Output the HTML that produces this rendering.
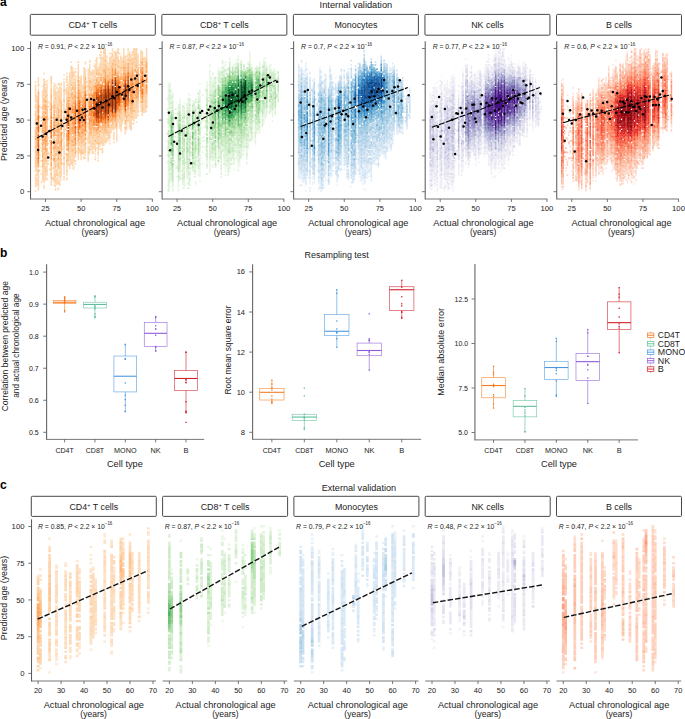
<!DOCTYPE html>
<html><head><meta charset="utf-8"><style>
html,body{margin:0;padding:0;background:#fff;width:685px;height:719px;overflow:hidden}
svg{display:block;font-family:"Liberation Sans", sans-serif}
</style></head><body>
<svg width="685" height="719" viewBox="0 0 685 719" fill="#222222">
<text x="0.00" y="6.10" font-size="12" font-weight="bold" fill="#000" >a</text>
<text x="355.90" y="8.20" font-size="9.0" text-anchor="middle" textLength="72.6" lengthAdjust="spacingAndGlyphs" >Internal validation</text>
<g transform="translate(34.86 48.50) scale(1.424 1.432)" fill="none" stroke-width="1.08">
<path stroke="#fdd9b4" d="M0.5 22.9v1.2m0 0.8v8.2m0 0.8v4.2m0 0.8v2.2m0 1.8v2.2m0 1.8v2.2m0 0.8v1.2m0 0.8v2.2m0 1.8v1.2m0 2.8v1.2m0 2.8v1.2m0 1.8v1.2m0 1.8v1.2m0 2.8v1.2m0 1.8v1.2m0 0.8v1.2m0 0.8v1.2m0 0.8v3.2m0 1.8v9.2m0 1.8v1.2M1.5 32.9v3.2m0 0.8v1.2m0 0.8v4.2m0 0.8v4.2m0 26.8v1.2m0 6.8v6.2m0 0.8v6.2M2.5 19.9v5.2m0 0.8v1.2m0 0.8v2.2m0 55.8v3.2m0 0.8v2.2m0 0.8v1.2m0 0.8v4.2M3.5 39.9v1.2m0 5.8v1.2m0 6.8v1.2m0 6.8v1.2m0 3.8v1.2m0 4.8v1.2m0 9.8v1.2M4.5 40.9v1.2m0 5.8v1.2m0 0.8v1.2m0 4.8v1.2m0 0.8v1.2m0 1.8v1.2m0 0.8v1.2m0 1.8v1.2m0 1.8v1.2m0 0.8v1.2m0 5.8v1.2m0 2.8v1.2m0 3.8v1.2m0 4.8v1.2M5.5 25.9v1.2m0 1.8v4.2m0 0.8v5.2m0 36.8v1.2m0 5.8v6.2m0 0.8v3.2M6.5 16.9v1.2m0 3.8v2.2m0 1.8v1.2m0 1.8v2.2m0 0.8v1.2m0 0.8v1.2m0 2.8v1.2m0 10.8v1.2m0 27.8v1.2m0 2.8v11.2m0 0.8v3.2M7.5 22.9v1.2m0 0.8v1.2m0 0.8v2.2m0 1.8v2.2m0 1.8v1.2m0 1.8v1.2m0 35.8v1.2m0 3.8v1.2m0 0.8v1.2m0 1.8v1.2m0 0.8v5.2M8.5 21.9v1.2m0 0.8v8.2m0 0.8v3.2m0 0.8v1.2m0 0.8v1.2m0 28.8v1.2m0 6.8v1.2m0 0.8v6.2m0 0.8v3.2m0 0.8v2.2M9.5 36.9v1.2m0 10.8v1.2m0 11.8v1.2m0 2.8v1.2m0 4.8v1.2m0 4.8v1.2m0 0.8v1.2M10.5 37.9v1.2m0 2.8v1.2m0 10.8v1.2m0 13.8v1.2m0 3.8v1.2M11.5 18.9v1.2m0 0.8v1.2m0 1.8v4.2m0 57.8v1.2m0 3.8v5.2M12.5 39.9v2.2m0 5.8v1.2m0 7.8v1.2m0 1.8v1.2m0 0.8v1.2m0 1.8v1.2m0 7.8v1.2m0 1.8v1.2m0 4.8v1.2m0 6.8v1.2M13.5 23.9v1.2m0 0.8v6.2m0 0.8v4.2m0 41.8v12.2m0 0.8v2.2m0 0.8v1.2M14.5 24.9v2.2m0 0.8v3.2m0 0.8v2.2m0 1.8v3.2m0 1.8v4.2m0 0.8v2.2m0 0.8v1.2m0 4.8v2.2m0 1.8v1.2m0 3.8v1.2m0 4.8v3.2m0 1.8v1.2m0 0.8v1.2m0 2.8v1.2m0 0.8v5.2m0 1.8v7.2M15.5 29.9v11.2m0 7.8v2.2m0 3.8v1.2m0 4.8v2.2m0 3.8v1.2m0 3.8v1.2m0 0.8v2.2m0 2.8v4.2m0 0.8v1.2m0 0.8v1.2m0 2.8v5.2M16.5 23.9v2.2m0 1.8v11.2m0 32.8v1.2m0 4.8v2.2m0 3.8v1.2m0 0.8v4.2m0 0.8v1.2m0 1.8v1.2m0 1.8v2.2M17.5 23.9v1.2m0 0.8v8.2m0 3.8v3.2m0 1.8v2.2m0 0.8v5.2m0 2.8v2.2m0 2.8v1.2m0 2.8v2.2m0 5.8v6.2m0 0.8v13.2m0 0.8v4.2M18.5 23.9v2.2m0 0.8v9.2m0 39.8v1.2m0 3.8v9.2m0 0.8v1.2M19.5 38.9v1.2m0 3.8v1.2m0 6.8v2.2m0 3.8v1.2m0 3.8v2.2m0 3.8v2.2m0 8.8v1.2M20.5 17.9v1.2m0 1.8v1.2m0 0.8v6.2m0 0.8v5.2m0 1.8v4.2m0 0.8v1.2m0 1.8v2.2m0 3.8v1.2m0 2.8v1.2m0 1.8v1.2m0 2.8v2.2m0 0.8v3.2m0 0.8v7.2m0 0.8v3.2m0 0.8v7.2m0 0.8v3.2M21.5 27.9v2.2m0 0.8v1.2m0 9.8v1.2m0 5.8v1.2m0 2.8v1.2m0 18.8v1.2M22.5 16.9v1.2m0 0.8v2.2m0 0.8v1.2m0 1.8v1.2m0 0.8v3.2m0 0.8v3.2m0 41.8v1.2m0 1.8v1.2m0 0.8v4.2m0 0.8v3.2m0 0.8v2.2M23.5 23.9v5.2m0 0.8v1.2m0 40.8v1.2m0 5.8v3.2M24.5 16.9v2.2m0 0.8v3.2m0 0.8v1.2m0 1.8v7.2m0 0.8v1.2m0 8.8v1.2m0 18.8v1.2m0 0.8v12.2m0 1.8v3.2M25.5 8.9v1.2m0 1.8v1.2m0 0.8v2.2m0 0.8v8.2m0 1.8v1.2m0 1.8v1.2m0 2.8v1.2m0 22.8v1.2m0 1.8v1.2m0 7.8v1.2m0 0.8v7.2m0 0.8v1.2M26.5 12.9v4.2m0 0.8v1.2m0 0.8v6.2m0 3.8v1.2m0 4.8v1.2m0 24.8v1.2m0 2.8v1.2m0 0.8v2.2m0 1.8v1.2m0 0.8v7.2m0 1.8v1.2M27.5 15.9v2.2m0 0.8v1.2m0 0.8v1.2m0 2.8v1.2m0 39.8v1.2m0 0.8v2.2m0 0.8v9.2m0 1.8v1.2m0 0.8v1.2M28.5 13.9v1.2m0 3.8v3.2m0 0.8v1.2m0 49.8v1.2m0 4.8v1.2M29.5 33.9v1.2m0 3.8v1.2m0 0.8v1.2m0 1.8v1.2m0 3.8v1.2m0 4.8v1.2m0 9.8v1.2m0 3.8v1.2M30.5 10.9v5.2m0 1.8v1.2m0 46.8v2.2m0 0.8v1.2m0 0.8v1.2m0 1.8v4.2M31.5 19.9v1.2m0 0.8v3.2m0 0.8v3.2m0 40.8v1.2m0 0.8v1.2M32.5 18.9v2.2m0 0.8v1.2m0 0.8v6.2m0 4.8v1.2m0 1.8v1.2m0 26.8v2.2m0 0.8v2.2m0 2.8v4.2M33.5 24.9v5.2m0 0.8v3.2m0 32.8v2.2M34.5 12.9v6.2m0 1.8v2.2m0 0.8v2.2m0 34.8v1.2m0 2.8v2.2m0 0.8v5.2m0 1.8v1.2M35.5 8.9v2.2m0 2.8v4.2m0 0.8v1.2m0 49.8v1.2m0 2.8v1.2m0 0.8v1.2M36.5 22.9v1.2m0 1.8v1.2m0 1.8v1.2m0 1.8v1.2m0 8.8v2.2m0 1.8v1.2m0 1.8v1.2m0 1.8v1.2m0 0.8v1.2m0 1.8v2.2m0 3.8v1.2M37.5 13.9v11.2m0 0.8v1.2m0 0.8v3.2m0 1.8v1.2m0 9.8v1.2m0 2.8v1.2m0 1.8v1.2m0 0.8v4.2m0 0.8v4.2m0 0.8v4.2m0 0.8v4.2m0 0.8v6.2M38.5 7.9v2.2m0 0.8v11.2m0 2.8v1.2m0 36.8v2.2m0 0.8v1.2m0 0.8v2.2m0 0.8v3.2M39.5 15.9v1.2m0 0.8v1.2m0 2.8v1.2m0 1.8v2.2m0 33.8v8.2M40.5 14.9v3.2m0 0.8v1.2m0 1.8v4.2m0 2.8v1.2m0 27.8v1.2m0 0.8v1.2m0 0.8v4.2m0 0.8v7.2M41.5 11.9v1.2m0 1.8v2.2m0 1.8v3.2m0 0.8v2.2m0 35.8v1.2m0 0.8v7.2m0 1.8v1.2M42.5 7.9v1.2m0 0.8v9.2m0 0.8v1.2m0 0.8v2.2m0 34.8v1.2m0 0.8v3.2m0 0.8v5.2m0 0.8v1.2m0 0.8v1.2m0 0.8v1.2M43.5 5.9v9.2m0 44.8v2.2m0 0.8v2.2m0 0.8v1.2m0 1.8v1.2M44.5 12.9v2.2m0 0.8v1.2m0 1.8v1.2m0 0.8v2.2m0 36.8v1.2m0 0.8v1.2m0 0.8v1.2m0 1.8v5.2m0 0.8v2.2m0 0.8v1.2m0 0.8v1.2M45.5 3.9v1.2m0 0.8v1.2m0 2.8v7.2m0 0.8v2.2m0 41.8v3.2m0 0.8v3.2m0 0.8v1.2M46.5 -0.1v1.2m0 2.8v9.2m0 0.8v1.2m0 3.8v1.2m0 39.8v2.2m0 0.8v2.2m0 0.8v1.2m0 2.8v1.2M47.5 5.9v10.2m0 0.8v3.2m0 1.8v1.2m0 35.8v5.2m0 0.8v3.2m0 0.8v3.2M48.5 -0.1v2.2m0 0.8v4.2m0 0.8v3.2m0 0.8v1.2m0 46.8v8.2M49.5 0.9v2.2m0 0.8v4.2m0 0.8v2.2m0 47.8v5.2m0 0.8v1.2M50.5 4.9v2.2m0 0.8v4.2m0 2.8v2.2m0 1.8v1.2m0 35.8v1.2m0 1.8v2.2m0 1.8v3.2M51.5 9.9v1.2m0 0.8v2.2m0 1.8v2.2m0 37.8v1.2m0 1.8v1.2m0 0.8v3.2M52.5 2.9v1.2m0 1.8v3.2m0 0.8v4.2m0 0.8v1.2m0 35.8v2.2m0 0.8v4.2m0 0.8v1.2m0 2.8v1.2m0 0.8v1.2M53.5 2.9v1.2m0 0.8v7.2m0 2.8v1.2m0 31.8v1.2m0 1.8v1.2m0 1.8v1.2m0 0.8v3.2M54.5 -0.1v2.2m0 0.8v1.2m0 0.8v5.2m0 44.8v2.2M55.5 1.9v1.2m0 1.8v1.2m0 0.8v1.2m0 0.8v1.2m0 1.8v5.2m0 1.8v1.2m0 0.8v1.2m0 29.8v5.2m0 0.8v6.2m0 0.8v1.2M56.5 1.9v1.2m0 1.8v1.2m0 45.8v1.2m0 1.8v1.2M57.5 1.9v4.2m0 0.8v4.2m0 0.8v1.2m0 1.8v1.2m0 39.8v9.2M58.5 0.9v3.2m0 0.8v3.2m0 1.8v2.2m0 37.8v2.2M59.5 7.9v5.2m0 0.8v2.2m0 0.8v1.2m0 30.8v7.2M60.5 4.9v1.2m0 0.8v6.2m0 0.8v1.2m0 0.8v1.2m0 29.8v1.2m0 1.8v3.2m0 0.8v4.2M61.5 6.9v6.2m0 0.8v2.2m0 1.8v1.2m0 2.8v1.2m0 14.8v1.2m0 3.8v7.2m0 0.8v2.2M62.5 -0.1v6.2m0 0.8v2.2m0 0.8v1.2m0 34.8v4.2M63.5 4.9v5.2m0 38.8v1.2m0 3.8v1.2m0 0.8v4.2M64.5 4.9v1.2m0 0.8v6.2m0 0.8v3.2m0 25.8v1.2m0 0.8v2.2m0 1.8v1.2m0 0.8v6.2M65.5 -0.1v2.2m0 1.8v4.2m0 34.8v1.2m0 2.8v3.2M66.5 1.9v6.2m0 0.8v1.2m0 0.8v1.2m0 0.8v3.2m0 3.8v4.2m0 1.8v1.2m0 0.8v1.2m0 2.8v1.2m0 0.8v1.2m0 3.8v7.2m0 0.8v9.2M67.5 3.9v3.2m0 0.8v1.2m0 0.8v3.2m0 32.8v1.2m0 0.8v2.2m0 0.8v1.2m0 0.8v1.2M68.5 1.9v3.2m0 0.8v1.2m0 1.8v1.2m0 35.8v1.2m0 0.8v2.2m0 1.8v1.2M69.5 0.9v1.2m0 0.8v4.2m0 0.8v1.2m0 0.8v5.2m0 4.8v1.2m0 18.8v1.2m0 0.8v1.2m0 0.8v7.2m0 0.8v1.2M70.5 -0.1v4.2m0 0.8v1.2m0 1.8v1.2m0 0.8v1.2m0 1.8v1.2m0 1.8v1.2m0 18.8v4.2m0 0.8v2.2m0 0.8v5.2M71.5 0.9v2.2m0 0.8v1.2m0 0.8v1.2m0 5.8v2.2m0 24.8v1.2m0 0.8v7.2m0 1.8v1.2M72.5 3.9v9.2m0 24.8v2.2m0 0.8v2.2m0 2.8v1.2M73.5 10.9v1.2m0 0.8v1.2m0 14.8v1.2M74.5 0.9v7.2m0 26.8v2.2m0 0.8v4.2m0 0.8v1.2M75.5 1.9v1.2m0 0.8v3.2m0 0.8v1.2m0 28.8v1.2m0 4.8v3.2M76.5 5.9v4.2m0 0.8v3.2m0 0.8v1.2m0 0.8v1.2m0 14.8v12.2M77.5 5.9v5.2m0 1.8v5.2m0 2.8v2.2m0 0.8v2.2m0 3.8v1.2m0 0.8v1.2m0 0.8v2.2m0 0.8v1.2m0 0.8v6.2M78.5 -0.1v7.2m0 25.8v1.2m0 0.8v1.2m0 1.8v2.2m0 0.8v1.2m0 0.8v1.2"/>
<path stroke="#fdca98" d="M0.5 32.9v1.2m0 6.8v1.2m0 2.8v2.2m0 1.8v1.2m0 4.8v1.2m0 1.8v1.2m0 2.8v1.2m0 1.8v2.2m0 1.8v1.2m0 0.8v3.2m0 0.8v2.2m0 0.8v1.2m0 0.8v1.2m0 0.8v1.2M1.5 35.9v1.2m0 0.8v1.2m0 3.8v1.2m0 3.8v1.2m0 2.8v3.2m0 1.8v2.2m0 5.8v1.2m0 1.8v2.2m0 0.8v1.2m0 3.8v1.2m0 0.8v1.2m0 0.8v3.2M2.5 24.9v1.2m0 5.8v1.2m0 50.8v1.2m0 3.8v1.2m0 1.8v1.2m0 0.8v1.2M5.5 32.9v1.2m0 4.8v4.2m0 0.8v3.2m0 0.8v3.2m0 16.8v1.2m0 1.8v2.2m0 3.8v1.2m0 0.8v4.2m0 5.8v1.2M6.5 20.9v1.2m0 1.8v2.2m0 0.8v2.2m0 1.8v1.2m0 4.8v1.2m0 2.8v3.2m0 0.8v2.2m0 6.8v1.2m0 0.8v1.2m0 4.8v1.2m0 4.8v2.2m0 2.8v6.2m0 0.8v3.2M7.5 28.9v2.2m0 2.8v1.2m0 36.8v3.2m0 1.8v3.2m0 2.8v2.2m0 0.8v1.2M8.5 31.9v1.2m0 2.8v1.2m0 0.8v1.2m0 1.8v1.2m0 1.8v1.2m0 0.8v1.2m0 4.8v2.2m0 3.8v1.2m0 5.8v1.2m0 5.8v1.2m0 0.8v3.2m0 0.8v1.2m0 5.8v1.2M9.5 39.9v1.2m0 31.8v1.2M10.5 63.9v1.2m0 18.8v1.2M11.5 19.9v1.2m0 0.8v2.2m0 3.8v4.2m0 2.8v1.2m0 0.8v1.2m0 39.8v1.2m0 2.8v4.2m0 1.8v3.2M12.5 68.9v1.2m0 19.8v1.2M13.5 31.9v1.2m0 3.8v2.2m0 2.8v1.2m0 3.8v1.2m0 18.8v1.2m0 3.8v4.2m0 14.8v1.2M14.5 30.9v1.2m0 1.8v2.2m0 2.8v2.2m0 6.8v1.2m0 1.8v2.2m0 0.8v1.2m0 2.8v1.2m0 2.8v1.2m0 2.8v2.2m0 4.8v1.2m0 1.8v1.2m0 0.8v3.2m0 6.8v2.2m0 7.8v1.2M15.5 26.9v1.2m0 12.8v7.2m0 2.8v2.2m0 10.8v1.2m0 3.8v2.2m0 5.8v2.2m0 5.8v1.2m0 0.8v2.2M16.5 38.9v3.2m0 2.8v1.2m0 4.8v1.2m0 10.8v1.2m0 0.8v1.2m0 1.8v1.2m0 0.8v1.2m0 3.8v1.2m0 4.8v1.2m0 0.8v1.2m0 8.8v1.2M17.5 33.9v4.2m0 3.8v1.2m0 1.8v1.2m0 6.8v1.2m0 1.8v3.2m0 0.8v3.2m0 2.8v1.2m0 0.8v3.2m0 5.8v1.2M18.5 35.9v2.2m0 0.8v1.2m0 1.8v1.2m0 25.8v1.2m0 4.8v1.2m0 0.8v2.2m0 0.8v1.2M19.5 50.9v1.2M20.5 34.9v1.2m0 4.8v1.2m0 0.8v2.2m0 1.8v2.2m0 2.8v1.2m0 2.8v2.2m0 1.8v2.2m0 5.8v1.2m0 10.8v1.2M21.5 47.9v1.2m0 6.8v1.2M22.5 20.9v1.2m0 0.8v1.2m0 5.8v1.2m0 2.8v4.2m0 2.8v2.2m0 21.8v1.2m0 1.8v1.2m0 3.8v1.2m0 0.8v1.2m0 0.8v1.2m0 1.8v1.2m0 3.8v1.2M23.5 28.9v1.2m0 1.8v2.2m0 0.8v1.2m0 36.8v6.2M24.5 18.9v1.2m0 2.8v1.2m0 1.8v1.2m0 11.8v1.2m0 3.8v1.2m0 1.8v3.2m0 0.8v1.2m0 7.8v1.2m0 2.8v1.2m0 0.8v1.2m0 12.8v1.2M25.5 12.9v1.2m0 1.8v1.2m0 10.8v2.2m0 4.8v6.2m0 4.8v4.2m0 2.8v2.2m0 4.8v1.2m0 0.8v2.2m0 0.8v5.2m0 0.8v1.2m0 6.8v1.2M26.5 16.9v1.2m0 0.8v1.2m0 5.8v1.2m0 4.8v2.2m0 2.8v1.2m0 14.8v1.2m0 8.8v1.2m0 5.8v1.2m0 1.8v1.2m0 6.8v1.2M27.5 17.9v1.2m0 3.8v2.2m0 0.8v5.2m0 0.8v1.2m0 1.8v1.2m0 23.8v2.2m0 1.8v1.2m0 4.8v1.2M28.5 15.9v1.2m0 4.8v1.2m0 0.8v3.2m0 1.8v1.2m0 37.8v1.2m0 0.8v2.2m0 0.8v1.2m0 0.8v1.2m0 1.8v1.2M29.5 42.9v1.2M30.5 8.9v1.2m0 5.8v2.2m0 1.8v2.2m0 1.8v1.2m0 0.8v1.2m0 37.8v1.2m0 1.8v1.2m0 2.8v2.2M31.5 24.9v1.2m0 3.8v1.2m0 30.8v1.2m0 1.8v3.2m0 0.8v1.2m0 0.8v1.2M32.5 20.9v1.2m0 0.8v1.2m0 5.8v3.2m0 0.8v1.2m0 3.8v1.2m0 9.8v1.2m0 0.8v2.2m0 5.8v1.2m0 1.8v2.2m0 2.8v1.2m0 1.8v1.2m0 0.8v1.2M33.5 29.9v1.2m0 28.8v1.2m0 0.8v1.2m0 0.8v3.2m0 2.8v4.2M34.5 18.9v2.2m0 1.8v1.2m0 1.8v1.2m0 0.8v2.2m0 0.8v2.2m0 0.8v1.2m0 24.8v1.2m0 0.8v2.2m0 2.8v1.2m0 4.8v1.2m0 1.8v1.2M35.5 17.9v1.2m0 3.8v1.2m0 0.8v1.2m0 34.8v1.2m0 2.8v1.2m0 0.8v3.2m0 0.8v2.2M36.5 43.9v1.2M37.5 24.9v1.2m0 0.8v1.2m0 2.8v2.2m0 0.8v4.2m0 0.8v1.2m0 0.8v2.2m0 1.8v1.2m0 2.8v1.2m0 1.8v1.2m0 8.8v1.2m0 8.8v1.2M38.5 22.9v2.2m0 1.8v3.2m0 26.8v1.2m0 0.8v4.2m0 1.8v1.2m0 3.8v1.2M39.5 16.9v1.2m0 1.8v1.2m0 2.8v1.2m0 5.8v1.2m0 0.8v1.2m0 24.8v2.2m0 8.8v1.2M40.5 17.9v1.2m0 1.8v1.2m0 3.8v3.2m0 5.8v1.2m0 17.8v1.2m0 0.8v2.2m0 0.8v1.2m0 0.8v1.2m0 3.8v1.2M41.5 16.9v1.2m0 3.8v1.2m0 1.8v1.2m0 27.8v1.2m0 2.8v3.2m0 0.8v1.2M42.5 18.9v1.2m0 0.8v1.2m0 2.8v1.2m0 30.8v2.2m0 0.8v1.2m0 8.8v1.2m0 5.8v1.2M43.5 14.9v2.2m0 0.8v1.2m0 0.8v1.2m0 2.8v1.2m0 32.8v1.2m0 2.8v1.2m0 1.8v1.2M44.5 14.9v1.2m0 0.8v2.2m0 0.8v1.2m0 35.8v3.2m0 2.8v1.2m0 0.8v1.2m0 5.8v1.2M45.5 19.9v4.2m0 33.8v4.2m0 2.8v1.2M46.5 1.9v1.2m0 9.8v1.2m0 0.8v1.2m0 0.8v1.2m0 36.8v2.2m0 0.8v1.2m0 2.8v1.2m0 1.8v1.2M47.5 15.9v1.2m0 2.8v2.2m0 31.8v1.2m0 2.8v1.2m0 4.8v1.2m0 6.8v1.2M48.5 1.9v1.2m0 3.8v1.2m0 2.8v1.2m0 0.8v2.2m0 0.8v4.2m0 34.8v2.2m0 0.8v2.2M49.5 -0.1v1.2m0 1.8v1.2m0 6.8v4.2m0 41.8v2.2m0 4.8v1.2M50.5 11.9v3.2m0 1.8v1.2m0 2.8v2.2m0 28.8v1.2m0 0.8v2.2m0 0.8v1.2m0 3.8v1.2M51.5 14.9v1.2m0 1.8v1.2m0 0.8v1.2m0 33.8v1.2m0 0.8v2.2m0 0.8v1.2M52.5 8.9v1.2m0 3.8v1.2m0 0.8v1.2m0 0.8v3.2m0 29.8v1.2m0 1.8v1.2m0 3.8v1.2m0 0.8v2.2M53.5 11.9v3.2m0 0.8v5.2m0 31.8v1.2m0 0.8v1.2M54.5 3.9v1.2m0 6.8v1.2m0 37.8v1.2m0 0.8v2.2M55.5 9.9v2.2m0 7.8v1.2m0 26.8v1.2m0 0.8v2.2M56.5 2.9v2.2m0 0.8v5.2m0 0.8v1.2m0 37.8v1.2m0 0.8v2.2M57.5 5.9v1.2m0 3.8v1.2m0 1.8v1.2m0 0.8v1.2m0 0.8v1.2m0 29.8v3.2m0 1.8v2.2M58.5 -0.1v1.2m0 6.8v2.2m0 2.8v1.2m0 0.8v2.2m0 27.8v3.2m0 0.8v1.2M59.5 2.9v1.2m0 8.8v1.2m0 1.8v1.2m0 1.8v1.2m0 24.8v1.2M60.5 5.9v1.2m0 7.8v1.2m0 0.8v1.2m0 24.8v1.2m0 0.8v2.2m0 0.8v2.2m0 2.8v1.2M61.5 12.9v1.2m0 2.8v1.2m0 0.8v1.2m0 5.8v1.2m0 8.8v1.2m0 1.8v1.2m0 0.8v2.2m0 6.8v1.2M62.5 5.9v1.2m0 3.8v1.2m0 1.8v1.2m0 26.8v4.2M63.5 9.9v3.2m0 2.8v1.2m0 33.8v1.2M64.5 12.9v1.2m0 2.8v1.2m0 2.8v1.2m0 21.8v1.2m0 4.8v1.2M65.5 2.9v1.2m0 3.8v1.2m0 34.8v2.2m0 3.8v1.2M66.5 9.9v1.2m0 0.8v1.2m0 2.8v1.2m0 0.8v1.2m0 4.8v1.2m0 4.8v2.2m0 2.8v1.2m0 0.8v2.2m0 6.8v1.2M67.5 6.9v1.2m0 0.8v1.2m0 2.8v4.2m0 25.8v1.2m0 0.8v1.2m0 3.8v1.2m0 0.8v1.2m0 0.8v3.2M68.5 6.9v2.2m0 1.8v3.2m0 25.8v1.2m0 0.8v1.2m0 0.8v2.2m0 0.8v1.2M69.5 -0.1v1.2m0 0.8v1.2m0 3.8v1.2m0 0.8v1.2m0 4.8v3.2m0 3.8v2.2m0 1.8v1.2m0 1.8v1.2m0 1.8v2.2m0 0.8v1.2m0 0.8v3.2m0 0.8v1.2M70.5 3.9v1.2m0 0.8v2.2m0 0.8v1.2m0 0.8v2.2m0 5.8v1.2m0 12.8v1.2m0 0.8v1.2m0 3.8v1.2m0 1.8v1.2M71.5 -0.1v1.2m0 1.8v1.2m0 0.8v1.2m0 0.8v5.2m0 2.8v1.2m0 0.8v1.2m0 16.8v5.2m0 0.8v1.2M72.5 12.9v1.2m0 4.8v1.2m0 15.8v2.2m0 1.8v1.2m0 1.8v2.2M73.5 17.9v1.2M74.5 7.9v1.2m0 0.8v3.2m0 20.8v1.2M75.5 2.9v1.2m0 34.8v3.2m0 0.8v1.2M76.5 13.9v1.2m0 0.8v1.2m0 0.8v4.2m0 4.8v3.2m0 0.8v2.2M77.5 10.9v2.2m0 9.8v1.2m0 1.8v4.2m0 0.8v1.2m0 0.8v1.2m0 1.8v1.2m0 0.8v1.2M78.5 6.9v2.2m0 4.8v1.2m0 16.8v1.2m0 0.8v1.2m0 0.8v2.2"/>
<path stroke="#fdb678" d="M0.5 50.9v1.2m0 4.8v1.2m0 0.8v1.2m0 0.8v1.2m0 5.8v1.2M1.5 48.9v1.2m0 0.8v1.2m0 6.8v3.2m0 0.8v2.2m0 0.8v2.2m0 1.8v1.2m0 0.8v3.2m0 1.8v1.2m0 0.8v1.2M2.5 29.9v1.2m0 1.8v6.2m0 5.8v1.2m0 33.8v1.2m0 0.8v1.2m0 1.8v1.2M5.5 46.9v1.2m0 2.8v2.2m0 0.8v3.2m0 0.8v1.2m0 0.8v2.2m0 0.8v4.2m0 1.8v2.2m0 1.8v2.2m0 2.8v1.2M6.5 34.9v2.2m0 1.8v2.2m0 2.8v1.2m0 1.8v3.2m0 0.8v3.2m0 3.8v4.2m0 1.8v3.2m0 2.8v1.2m0 0.8v1.2M7.5 32.9v1.2m0 1.8v2.2m0 0.8v3.2m0 1.8v1.2m0 20.8v1.2m0 1.8v1.2m0 0.8v1.2m0 3.8v1.2M8.5 39.9v1.2m0 0.8v2.2m0 0.8v1.2m0 1.8v1.2m0 0.8v2.2m0 1.8v4.2m0 1.8v1.2m0 0.8v2.2m0 1.8v2.2m0 1.8v2.2m0 0.8v1.2M11.5 31.9v3.2m0 0.8v1.2m0 0.8v1.2m0 1.8v1.2m0 0.8v1.2m0 4.8v1.2m0 18.8v1.2m0 3.8v1.2m0 1.8v1.2m0 0.8v2.2m0 5.8v1.2M13.5 38.9v3.2m0 0.8v3.2m0 2.8v2.2m0 9.8v1.2m0 0.8v1.2m0 1.8v1.2m0 0.8v1.2m0 0.8v2.2m0 3.8v1.2m0 0.8v1.2M14.5 49.9v1.2m0 1.8v1.2m0 2.8v1.2m0 1.8v1.2m0 3.8v1.2m0 1.8v2.2m0 3.8v1.2m0 6.8v1.2M15.5 47.9v1.2m0 3.8v2.2m0 0.8v1.2m0 0.8v1.2m0 0.8v1.2m0 1.8v1.2m0 0.8v2.2m0 0.8v1.2m0 1.8v1.2m0 0.8v1.2M16.5 41.9v3.2m0 0.8v2.2m0 0.8v1.2m0 3.8v2.2m0 0.8v3.2m0 0.8v2.2m0 2.8v1.2m0 3.8v1.2m0 0.8v2.2m0 1.8v1.2m0 1.8v1.2m0 0.8v1.2M17.5 51.9v1.2m0 11.8v1.2m0 0.8v1.2M18.5 37.9v1.2m0 0.8v2.2m0 1.8v2.2m0 0.8v1.2m0 9.8v1.2m0 1.8v1.2m0 0.8v1.2m0 5.8v5.2m0 3.8v1.2M20.5 28.9v1.2m0 5.8v1.2m0 11.8v1.2m0 3.8v1.2m0 3.8v1.2m0 15.8v1.2M22.5 37.9v3.2m0 1.8v1.2m0 10.8v1.2m0 5.8v1.2m0 0.8v1.2m0 0.8v1.2m0 6.8v1.2m0 2.8v1.2M23.5 30.9v1.2m0 1.8v1.2m0 1.8v1.2m0 30.8v1.2m0 0.8v1.2M24.5 33.9v1.2m0 0.8v1.2m0 0.8v1.2m0 0.8v4.2m0 7.8v1.2m0 0.8v5.2m0 1.8v3.2M25.5 24.9v1.2m0 4.8v3.2m0 6.8v5.2m0 5.8v1.2m0 1.8v3.2m0 0.8v1.2m0 3.8v1.2M26.5 26.9v2.2m0 4.8v2.2m0 1.8v2.2m0 0.8v1.2m0 2.8v1.2m0 2.8v2.2m0 2.8v1.2m0 1.8v3.2m0 0.8v1.2m0 1.8v2.2m0 0.8v1.2m0 2.8v1.2M27.5 32.9v2.2m0 0.8v2.2m0 2.8v1.2m0 4.8v1.2m0 5.8v1.2m0 0.8v1.2m0 1.8v1.2m0 1.8v1.2m0 1.8v1.2M28.5 26.9v2.2m0 0.8v1.2m0 0.8v1.2m0 0.8v1.2m0 31.8v1.2m0 0.8v1.2M30.5 18.9v1.2m0 2.8v1.2m0 2.8v1.2m0 32.8v1.2m0 0.8v1.2m0 5.8v1.2M31.5 28.9v1.2m0 1.8v3.2m0 25.8v1.2m0 0.8v1.2M32.5 32.9v1.2m0 1.8v2.2m0 9.8v1.2m0 5.8v5.2m0 0.8v2.2m0 1.8v1.2m0 5.8v1.2M33.5 33.9v5.2m0 3.8v1.2m0 9.8v2.2m0 0.8v1.2m0 0.8v1.2m0 0.8v1.2m0 0.8v1.2M34.5 26.9v1.2m0 1.8v1.2m0 1.8v1.2m0 1.8v1.2m0 1.8v1.2m0 0.8v1.2m0 6.8v1.2m0 0.8v2.2m0 0.8v3.2m0 0.8v2.2m0 3.8v1.2M35.5 19.9v3.2m0 0.8v1.2m0 0.8v1.2m0 0.8v2.2m0 32.8v1.2m0 1.8v1.2M37.5 37.9v1.2m0 0.8v1.2m0 1.8v1.2m0 1.8v2.2M38.5 21.9v1.2m0 2.8v1.2m0 3.8v1.2m0 0.8v1.2m0 18.8v4.2m0 0.8v1.2M39.5 22.9v1.2m0 2.8v4.2m0 3.8v2.2m0 10.8v1.2m0 1.8v8.2M40.5 30.9v1.2m0 1.8v1.2m0 0.8v2.2m0 1.8v1.2m0 4.8v1.2m0 2.8v1.2m0 0.8v2.2m0 0.8v1.2M41.5 25.9v4.2m0 24.8v3.2M42.5 23.9v1.2m0 1.8v1.2m0 0.8v1.2m0 24.8v2.2m0 6.8v1.2M43.5 16.9v1.2m0 2.8v1.2m0 0.8v1.2m0 30.8v1.2m0 2.8v1.2M44.5 22.9v2.2m0 0.8v1.2m0 33.8v1.2m0 3.8v1.2M45.5 16.9v1.2m0 5.8v1.2m0 26.8v4.2m0 0.8v1.2M46.5 17.9v1.2m0 1.8v1.2m0 31.8v1.2m0 1.8v1.2M47.5 22.9v1.2m0 27.8v2.2m0 0.8v2.2M48.5 20.9v1.2m0 29.8v3.2m0 1.8v1.2M49.5 7.9v1.2m0 5.8v1.2m0 0.8v1.2m0 1.8v1.2m0 31.8v1.2m0 0.8v1.2M50.5 17.9v1.2m0 0.8v1.2m0 1.8v1.2m0 24.8v2.2m0 1.8v1.2m0 3.8v1.2M51.5 13.9v1.2m0 5.8v1.2M52.5 16.9v1.2m0 2.8v1.2m0 1.8v1.2m0 23.8v2.2M53.5 20.9v2.2m0 0.8v1.2M54.5 9.9v2.2m0 0.8v1.2m0 2.8v1.2m0 31.8v1.2m0 0.8v1.2M55.5 7.9v1.2m0 7.8v2.2m0 2.8v1.2m0 25.8v1.2M56.5 10.9v1.2m0 0.8v1.2m0 35.8v1.2M57.5 16.9v1.2m0 0.8v1.2m0 24.8v1.2m0 0.8v2.2m0 2.8v2.2M58.5 11.9v1.2m0 3.8v2.2m0 23.8v2.2M59.5 19.9v1.2m0 19.8v1.2m0 1.8v1.2m0 0.8v3.2M60.5 12.9v1.2m0 3.8v2.2m0 4.8v1.2m0 11.8v1.2m0 1.8v1.2m0 1.8v1.2M61.5 19.9v2.2m0 0.8v3.2m0 0.8v1.2m0 0.8v1.2m0 4.8v1.2m0 3.8v1.2M62.5 8.9v1.2m0 1.8v1.2m0 1.8v2.2m0 0.8v1.2m0 20.8v2.2M63.5 12.9v3.2m0 28.8v3.2m0 1.8v1.2m0 0.8v1.2m0 1.8v1.2M64.5 17.9v1.2m0 0.8v1.2m0 20.8v1.2m0 3.8v2.2M65.5 10.9v2.2m0 26.8v1.2m0 0.8v1.2m0 2.8v1.2M66.5 7.9v1.2m0 7.8v1.2m0 0.8v1.2m0 4.8v1.2m0 0.8v1.2m0 0.8v1.2m0 5.8v1.2M67.5 16.9v2.2m0 14.8v1.2m0 1.8v1.2m0 0.8v3.2m0 1.8v1.2m0 1.8v1.2M68.5 9.9v1.2m0 2.8v2.2m0 3.8v1.2m0 14.8v2.2m0 0.8v1.2m0 0.8v1.2m0 0.8v1.2M69.5 17.9v2.2m0 0.8v1.2m0 2.8v1.2m0 0.8v2.2m0 0.8v2.2m0 1.8v1.2m0 0.8v1.2m0 5.8v1.2M70.5 13.9v1.2m0 2.8v1.2m0 1.8v1.2m0 0.8v2.2m0 0.8v2.2m0 1.8v2.2m0 1.8v1.2M71.5 11.9v1.2m0 6.8v2.2m0 4.8v1.2m0 0.8v1.2m0 0.8v2.2M72.5 13.9v3.2m0 14.8v1.2m0 0.8v2.2M74.5 8.9v1.2m0 2.8v2.2m0 14.8v1.2m0 0.8v2.2m0 2.8v1.2M75.5 6.9v1.2m0 0.8v1.2m0 0.8v1.2m0 1.8v1.2m0 20.8v1.2m0 4.8v1.2M76.5 22.9v4.2m0 2.8v1.2M77.5 18.9v1.2M78.5 8.9v1.2m0 0.8v1.2m0 18.8v1.2m0 7.8v1.2"/>
<path stroke="#fda35b" d="M0.5 62.9v1.2M1.5 54.9v2.2m0 4.8v1.2M2.5 30.9v1.2m0 6.8v1.2m0 2.8v1.2m0 36.8v1.2M5.5 52.9v1.2m0 2.8v1.2m0 3.8v1.2m0 3.8v1.2m0 6.8v1.2M6.5 54.9v1.2m0 0.8v1.2M7.5 41.9v1.2m0 1.8v1.2m0 0.8v2.2m0 0.8v2.2m0 0.8v6.2m0 1.8v5.2m0 0.8v2.2m0 0.8v1.2M8.5 46.9v1.2m0 0.8v1.2m0 10.8v1.2m0 1.8v1.2M11.5 38.9v2.2m0 2.8v1.2m0 0.8v1.2m0 23.8v1.2m0 0.8v1.2m0 0.8v2.2m0 3.8v1.2M13.5 45.9v1.2m0 0.8v1.2m0 2.8v1.2m0 0.8v1.2m0 0.8v2.2m0 1.8v1.2m0 2.8v2.2m0 2.8v1.2M15.5 56.9v1.2M16.5 47.9v1.2m0 0.8v1.2m0 0.8v2.2m0 1.8v1.2m0 2.8v1.2m0 2.8v1.2m0 3.8v1.2m0 5.8v1.2M18.5 42.9v1.2m0 1.8v1.2m0 0.8v2.2m0 0.8v1.2m0 0.8v2.2m0 4.8v1.2m0 0.8v1.2m0 0.8v1.2m0 0.8v3.2M22.5 44.9v1.2m0 2.8v3.2m0 0.8v2.2m0 1.8v1.2m0 0.8v1.2m0 2.8v1.2m0 2.8v1.2M23.5 35.9v1.2m0 0.8v3.2m0 23.8v1.2m0 0.8v2.2m0 0.8v1.2M24.5 45.9v1.2m0 5.8v1.2m0 4.8v1.2M25.5 49.9v1.2M26.5 30.9v1.2m0 7.8v1.2m0 1.8v1.2m0 3.8v1.2m0 1.8v1.2m0 2.8v2.2M27.5 37.9v1.2m0 0.8v1.2m0 1.8v4.2m0 0.8v1.2m0 0.8v1.2m0 1.8v1.2m0 0.8v1.2m0 0.8v2.2m0 3.8v1.2m0 2.8v1.2M28.5 30.9v1.2m0 2.8v2.2m0 21.8v1.2m0 0.8v1.2m0 1.8v3.2m0 4.8v1.2M30.5 21.9v1.2m0 1.8v1.2m0 1.8v2.2m0 1.8v1.2m0 1.8v1.2m0 22.8v2.2m0 0.8v1.2m0 0.8v1.2M31.5 30.9v1.2m0 2.8v1.2m0 19.8v1.2m0 0.8v3.2M32.5 41.9v5.2m0 1.8v1.2m0 0.8v1.2m0 1.8v1.2M33.5 40.9v1.2m0 7.8v1.2m0 0.8v1.2m0 2.8v1.2M34.5 34.9v1.2m0 0.8v1.2m0 3.8v2.2m0 0.8v4.2m0 3.8v1.2m0 2.8v1.2M35.5 26.9v1.2m0 30.8v2.2m0 0.8v1.2M38.5 31.9v1.2m0 0.8v3.2m0 0.8v1.2m0 3.8v2.2m0 2.8v1.2m0 1.8v2.2M39.5 31.9v1.2m0 0.8v1.2m0 13.8v1.2M40.5 31.9v1.2m0 4.8v1.2m0 7.8v3.2m0 0.8v1.2M41.5 29.9v1.2M42.5 27.9v1.2m0 3.8v1.2m0 16.8v3.2M43.5 21.9v1.2m0 1.8v1.2m0 25.8v1.2m0 2.8v2.2M44.5 26.9v1.2m0 25.8v1.2m0 0.8v1.2M45.5 24.9v2.2m0 0.8v1.2M46.5 19.9v1.2m0 0.8v1.2m0 1.8v1.2M47.5 23.9v2.2m0 0.8v1.2m0 21.8v1.2M48.5 14.9v1.2m0 3.8v1.2m0 0.8v2.2m0 26.8v1.2M49.5 15.9v1.2m0 0.8v2.2m0 33.8v1.2m0 0.8v1.2M50.5 23.9v1.2m0 1.8v1.2m0 22.8v1.2M51.5 18.9v1.2m0 1.8v1.2m0 27.8v4.2M52.5 21.9v2.2m0 2.8v1.2m0 18.8v2.2M53.5 22.9v1.2m0 19.8v4.2m0 0.8v2.2M54.5 13.9v1.2m0 0.8v1.2m0 1.8v1.2m0 27.8v2.2M55.5 23.9v1.2m0 18.8v2.2M56.5 13.9v1.2m0 32.8v2.2M57.5 19.9v2.2m0 21.8v1.2m0 0.8v1.2M58.5 19.9v2.2M59.5 20.9v2.2m0 16.8v1.2m0 0.8v2.2M60.5 19.9v2.2m0 0.8v2.2m0 13.8v2.2m0 0.8v1.2M61.5 27.9v1.2m0 2.8v1.2m0 0.8v1.2m0 1.8v1.2M62.5 12.9v1.2m0 2.8v1.2m0 0.8v3.2m0 14.8v1.2m0 0.8v1.2M63.5 16.9v1.2m0 0.8v1.2m0 23.8v1.2M64.5 18.9v1.2m0 1.8v1.2m0 16.8v1.2M65.5 9.9v1.2m0 1.8v3.2m0 24.8v1.2M67.5 18.9v1.2m0 0.8v1.2m0 0.8v1.2m0 6.8v1.2m0 3.8v1.2m0 0.8v1.2m0 2.8v1.2M68.5 15.9v4.2m0 2.8v1.2m0 7.8v2.2m0 3.8v1.2M69.5 23.9v1.2M70.5 14.9v1.2m0 3.8v1.2m0 0.8v1.2m0 1.8v1.2m0 2.8v1.2m0 1.8v1.2M71.5 15.9v1.2m0 0.8v2.2m0 1.8v3.2m0 0.8v1.2m0 2.8v1.2m0 1.8v2.2M72.5 16.9v1.2m0 1.8v1.2m0 6.8v1.2m0 0.8v1.2m0 1.8v1.2M74.5 15.9v2.2m0 0.8v3.2m0 0.8v3.2m0 1.8v1.2m0 1.8v1.2M75.5 9.9v1.2m0 3.8v1.2m0 15.8v1.2m0 1.8v1.2m0 0.8v1.2M76.5 21.9v1.2M78.5 9.9v1.2m0 0.8v2.2m0 0.8v2.2m0 1.8v1.2m0 7.8v3.2"/>
<path stroke="#fd8f3f" d="M2.5 39.9v3.2m0 0.8v1.2m0 0.8v1.2m0 2.8v1.2m0 0.8v2.2m0 18.8v3.2m0 0.8v3.2M6.5 62.9v1.2M7.5 48.9v1.2m0 1.8v1.2m0 5.8v1.2M8.5 58.9v1.2M11.5 41.9v1.2m0 1.8v1.2m0 0.8v1.2m0 2.8v1.2m0 0.8v1.2m0 5.8v1.2m0 0.8v1.2m0 0.8v1.2m0 1.8v2.2m0 0.8v1.2M13.5 50.9v1.2m0 0.8v1.2m0 0.8v1.2m0 1.8v2.2m0 16.8v1.2M18.5 49.9v1.2m0 0.8v1.2m0 1.8v2.2m0 1.8v1.2m0 4.8v1.2M22.5 43.9v1.2m0 0.8v3.2m0 2.8v1.2m0 6.8v2.2m0 7.8v1.2M23.5 63.9v1.2m0 0.8v1.2M24.5 49.9v1.2M26.5 43.9v1.2m0 1.8v1.2m0 3.8v1.2M27.5 41.9v1.2m0 5.8v1.2m0 0.8v2.2M28.5 32.9v1.2m0 2.8v1.2m0 18.8v1.2m0 1.8v1.2m0 0.8v2.2M30.5 29.9v2.2m0 0.8v1.2m0 2.8v1.2m0 14.8v1.2m0 0.8v1.2m0 0.8v1.2M31.5 35.9v1.2M32.5 40.9v1.2m0 4.8v1.2M33.5 38.9v2.2m0 0.8v1.2m0 0.8v2.2m0 0.8v3.2m0 0.8v1.2m0 5.8v1.2M34.5 37.9v1.2m0 0.8v1.2m0 8.8v1.2M35.5 29.9v1.2m0 1.8v1.2m0 18.8v1.2m0 0.8v1.2M38.5 36.9v1.2m0 0.8v4.2m0 1.8v2.2m0 1.8v2.2M39.5 36.9v2.2m0 1.8v2.2m0 0.8v1.2m0 1.8v1.2m0 1.8v1.2M40.5 32.9v1.2m0 7.8v4.2M41.5 30.9v2.2m0 19.8v1.2M42.5 25.9v1.2m0 2.8v1.2m0 0.8v1.2m0 0.8v1.2m0 13.8v2.2M43.5 25.9v2.2M44.5 24.9v1.2m0 25.8v2.2m0 0.8v1.2M45.5 26.9v1.2m0 0.8v2.2m0 17.8v1.2m0 0.8v1.2M47.5 25.9v1.2m0 0.8v2.2m0 20.8v1.2M48.5 49.9v1.2M49.5 51.9v1.2M50.5 24.9v2.2m0 19.8v2.2M52.5 25.9v1.2m0 17.8v1.2M53.5 25.9v1.2M54.5 14.9v1.2m0 3.8v1.2m0 25.8v1.2M55.5 41.9v1.2m0 2.8v1.2M56.5 14.9v3.2m0 27.8v2.2M57.5 21.9v1.2m0 19.8v1.2M58.5 18.9v1.2m0 19.8v1.2m0 0.8v1.2M59.5 22.9v1.2M60.5 26.9v3.2m0 1.8v1.2M61.5 29.9v1.2M62.5 23.9v1.2m0 12.8v1.2M63.5 17.9v1.2M64.5 23.9v1.2m0 8.8v1.2m0 0.8v4.2M65.5 15.9v1.2m0 0.8v1.2m0 18.8v2.2M67.5 19.9v1.2m0 0.8v1.2m0 0.8v3.2m0 0.8v2.2m0 1.8v1.2m0 1.8v1.2M68.5 20.9v2.2m0 0.8v4.2m0 2.8v1.2m0 1.8v2.2M71.5 24.9v1.2M72.5 17.9v1.2m0 2.8v2.2m0 4.8v1.2m0 0.8v1.2M74.5 14.9v1.2m0 5.8v1.2m0 2.8v1.2m0 1.8v1.2M75.5 12.9v1.2m0 3.8v1.2m0 9.8v1.2m0 2.8v2.2M78.5 19.9v1.2m0 0.8v2.2m0 0.8v3.2"/>
<path stroke="#f77b27" d="M2.5 46.9v1.2m0 0.8v1.2m0 0.8v1.2m0 5.8v1.2m0 1.8v1.2m0 0.8v1.2m0 5.8v1.2M11.5 47.9v1.2m0 0.8v1.2m0 0.8v1.2m0 0.8v4.2m0 0.8v1.2m0 11.8v1.2M23.5 42.9v3.2m0 13.8v4.2M26.5 41.9v1.2M28.5 37.9v2.2m0 10.8v1.2m0 3.8v1.2M30.5 33.9v1.2m0 0.8v1.2m0 1.8v3.2m0 9.8v1.2m0 0.8v1.2m0 0.8v1.2m0 0.8v1.2M31.5 36.9v1.2m0 0.8v1.2m0 0.8v1.2m0 10.8v1.2m0 0.8v1.2M33.5 45.9v1.2m0 5.8v1.2M35.5 30.9v1.2m0 2.8v1.2m0 17.8v1.2m0 0.8v2.2M39.5 38.9v1.2m0 2.8v1.2m0 0.8v2.2M40.5 40.9v1.2M41.5 32.9v3.2m0 12.8v4.2M42.5 30.9v1.2m0 2.8v1.2m0 10.8v1.2M43.5 27.9v2.2m0 20.8v1.2m0 0.8v1.2M44.5 27.9v2.2M45.5 31.9v1.2m0 12.8v1.2m0 2.8v1.2M46.5 25.9v1.2m0 23.8v1.2M47.5 29.9v1.2m0 13.8v3.2m0 0.8v1.2M48.5 25.9v1.2m0 21.8v1.2M49.5 20.9v3.2m0 0.8v1.2m0 23.8v2.2M50.5 27.9v1.2M51.5 49.9v1.2M52.5 41.9v1.2m0 0.8v1.2m0 0.8v1.2M53.5 24.9v1.2m0 0.8v1.2m0 12.8v1.2M54.5 17.9v1.2m0 26.8v1.2M55.5 46.9v1.2M56.5 17.9v1.2M57.5 22.9v2.2M58.5 21.9v1.2m0 17.8v1.2M59.5 23.9v1.2m0 0.8v1.2M60.5 25.9v1.2m0 2.8v1.2m0 1.8v5.2M61.5 30.9v1.2M62.5 21.9v1.2m0 1.8v1.2m0 7.8v1.2m0 0.8v1.2M63.5 19.9v2.2m0 18.8v1.2m0 0.8v1.2M64.5 24.9v1.2m0 0.8v1.2m0 3.8v2.2m0 0.8v1.2M65.5 36.9v1.2M67.5 26.9v1.2m0 1.8v1.2m0 1.8v1.2M68.5 27.9v3.2M71.5 27.9v1.2M72.5 20.9v1.2m0 1.8v4.2M74.5 26.9v1.2M75.5 15.9v2.2m0 0.8v2.2m0 2.8v3.2M78.5 17.9v1.2m0 1.8v1.2"/>
<path stroke="#ef6611" d="M2.5 47.9v1.2m0 4.8v4.2m0 3.8v1.2m0 0.8v3.2m0 0.8v2.2m0 0.8v2.2m0 2.8v1.2M11.5 57.9v1.2m0 1.8v1.2m0 2.8v2.2M23.5 40.9v2.2m0 2.8v2.2m0 9.8v2.2M28.5 39.9v5.2m0 1.8v1.2m0 0.8v2.2m0 3.8v1.2m0 1.8v1.2M30.5 37.9v1.2m0 2.8v5.2m0 2.8v2.2M31.5 37.9v1.2m0 0.8v1.2m0 0.8v4.2m0 0.8v1.2m0 0.8v3.2m0 1.8v1.2M35.5 31.9v1.2m0 0.8v1.2m0 0.8v3.2m0 0.8v1.2M39.5 39.9v1.2M41.5 38.9v1.2m0 6.8v1.2M42.5 35.9v2.2m0 5.8v1.2m0 2.8v1.2M43.5 29.9v1.2M44.5 29.9v2.2m0 16.8v2.2M45.5 36.9v1.2m0 6.8v1.2m0 0.8v2.2M46.5 26.9v2.2M47.5 30.9v1.2m0 0.8v1.2m0 1.8v1.2m0 10.8v1.2M48.5 27.9v1.2m0 16.8v3.2M49.5 23.9v1.2m0 22.8v2.2M50.5 28.9v1.2m0 15.8v1.2M51.5 22.9v2.2m0 22.8v1.2M52.5 27.9v3.2m0 11.8v1.2M53.5 27.9v2.2m0 11.8v2.2M54.5 20.9v1.2m0 22.8v1.2M55.5 25.9v4.2m0 5.8v1.2m0 2.8v2.2M56.5 44.9v1.2M57.5 24.9v3.2m0 1.8v1.2m0 0.8v1.2m0 7.8v2.2M58.5 22.9v3.2m0 11.8v2.2M59.5 27.9v1.2m0 8.8v2.2M62.5 25.9v1.2m0 0.8v3.2m0 0.8v1.2m0 1.8v1.2M63.5 21.9v1.2M64.5 25.9v1.2m0 0.8v4.2M65.5 16.9v1.2m0 2.8v1.2m0 13.8v1.2M75.5 21.9v2.2m0 3.8v1.2m0 0.8v2.2"/>
<path stroke="#e15307" d="M2.5 59.9v1.2m0 5.8v1.2M23.5 47.9v4.2m0 0.8v1.2m0 2.8v1.2M28.5 44.9v2.2m0 0.8v1.2m0 2.8v1.2m0 0.8v1.2M30.5 46.9v3.2M31.5 47.9v1.2m0 2.8v1.2M35.5 38.9v1.2m0 0.8v1.2m0 0.8v1.2m0 0.8v1.2m0 1.8v3.2m0 0.8v1.2M41.5 35.9v2.2m0 1.8v2.2m0 1.8v2.2M42.5 37.9v4.2m0 0.8v1.2m0 1.8v1.2M43.5 30.9v1.2m0 16.8v2.2M44.5 31.9v2.2m0 16.8v1.2M45.5 32.9v4.2m0 5.8v2.2M46.5 48.9v2.2M47.5 31.9v1.2m0 0.8v2.2m0 2.8v1.2m0 1.8v2.2M48.5 28.9v3.2m0 11.8v1.2M49.5 25.9v1.2M50.5 29.9v3.2m0 7.8v2.2m0 0.8v2.2M51.5 24.9v1.2m0 22.8v1.2M52.5 36.9v1.2m0 2.8v1.2M53.5 32.9v1.2M55.5 29.9v3.2m0 0.8v2.2m0 0.8v3.2M56.5 20.9v1.2M57.5 28.9v1.2m0 3.8v1.2m0 0.8v1.2m0 1.8v2.2M59.5 26.9v1.2m0 0.8v2.2m0 1.8v1.2m0 1.8v2.2M62.5 30.9v1.2m0 0.8v1.2M63.5 23.9v1.2m0 13.8v1.2m0 1.8v1.2M65.5 18.9v2.2m0 13.8v1.2M75.5 20.9v1.2"/>
<path stroke="#cc4302" d="M23.5 51.9v1.2M35.5 43.9v1.2m0 0.8v1.2m0 3.8v1.2M41.5 37.9v1.2m0 6.8v1.2M42.5 41.9v1.2m0 1.8v1.2M43.5 31.9v2.2m0 13.8v1.2M44.5 41.9v1.2m0 4.8v1.2M45.5 38.9v2.2m0 0.8v1.2M46.5 29.9v1.2M47.5 36.9v1.2m0 1.8v2.2M48.5 31.9v1.2m0 3.8v1.2m0 0.8v2.2m0 0.8v2.2m0 0.8v1.2M49.5 26.9v1.2m0 17.8v2.2M50.5 38.9v1.2m0 2.8v1.2M52.5 30.9v4.2m0 0.8v1.2m0 1.8v2.2M53.5 29.9v2.2m0 7.8v1.2M54.5 21.9v1.2M55.5 32.9v1.2M56.5 19.9v1.2m0 22.8v1.2M57.5 27.9v1.2m0 3.8v1.2m0 0.8v1.2m0 0.8v2.2M58.5 25.9v1.2m0 7.8v3.2M59.5 30.9v1.2m0 1.8v2.2M63.5 22.9v1.2m0 11.8v3.2m0 0.8v1.2M65.5 21.9v3.2m0 5.8v1.2m0 1.8v1.2"/>
<path stroke="#ae3903" d="M23.5 54.9v1.2M35.5 41.9v1.2M41.5 41.9v1.2M43.5 33.9v2.2m0 0.8v1.2m0 8.8v1.2M44.5 33.9v1.2m0 10.8v2.2M45.5 40.9v1.2M46.5 28.9v1.2m0 0.8v2.2m0 11.8v4.2M47.5 37.9v1.2M48.5 32.9v1.2m0 0.8v2.2m0 0.8v1.2M49.5 27.9v1.2m0 0.8v1.2m0 13.8v1.2M50.5 34.9v2.2m0 0.8v1.2m0 0.8v1.2M51.5 25.9v2.2m0 18.8v1.2M52.5 37.9v1.2M53.5 31.9v1.2m0 0.8v6.2M54.5 22.9v1.2m0 19.8v1.2M56.5 21.9v1.2M57.5 30.9v1.2M58.5 26.9v1.2m0 0.8v2.2M59.5 31.9v1.2M63.5 28.9v1.2M65.5 24.9v1.2m0 0.8v1.2m0 3.8v2.2"/>
<path stroke="#963003" d="M35.5 46.9v1.2M43.5 37.9v1.2m0 4.8v3.2M44.5 34.9v1.2m0 0.8v1.2m0 1.8v2.2m0 0.8v1.2m0 0.8v1.2M46.5 33.9v1.2m0 8.8v1.2M48.5 33.9v1.2m0 5.8v1.2M49.5 28.9v1.2m0 3.8v1.2m0 8.8v1.2M50.5 32.9v2.2m0 1.8v1.2M52.5 34.9v1.2M54.5 23.9v1.2M56.5 22.9v1.2M58.5 27.9v1.2m0 1.8v1.2m0 1.8v1.2M63.5 24.9v1.2m0 7.8v2.2M65.5 27.9v3.2"/>
<path stroke="#7f2704" d="M43.5 38.9v5.2M44.5 35.9v1.2m0 0.8v2.2m0 3.8v1.2M46.5 32.9v1.2m0 0.8v9.2M49.5 30.9v3.2m0 0.8v9.2M51.5 27.9v18.2M54.5 25.9v18.2M56.5 23.9v2.2m0 0.8v17.2M58.5 31.9v2.2M63.5 25.9v3.2m0 0.8v4.2"/>
</g>
<g fill="#000">
<circle cx="36.9" cy="123.6" r="1.25"/>
<circle cx="41.0" cy="125.7" r="1.25"/>
<circle cx="44.0" cy="119.4" r="1.25"/>
<circle cx="38.1" cy="149.9" r="1.25"/>
<circle cx="42.5" cy="136.4" r="1.25"/>
<circle cx="46.0" cy="133.9" r="1.25"/>
<circle cx="49.4" cy="131.1" r="1.25"/>
<circle cx="48.2" cy="157.6" r="1.25"/>
<circle cx="53.8" cy="142.6" r="1.25"/>
<circle cx="59.4" cy="152.4" r="1.25"/>
<circle cx="56.7" cy="119.8" r="1.25"/>
<circle cx="61.1" cy="120.5" r="1.25"/>
<circle cx="62.3" cy="126.1" r="1.25"/>
<circle cx="65.3" cy="112.1" r="1.25"/>
<circle cx="66.7" cy="119.8" r="1.25"/>
<circle cx="68.2" cy="115.7" r="1.25"/>
<circle cx="69.8" cy="108.8" r="1.25"/>
<circle cx="71.1" cy="117.6" r="1.25"/>
<circle cx="77.0" cy="110.7" r="1.25"/>
<circle cx="80.1" cy="120.1" r="1.25"/>
<circle cx="82.0" cy="117.6" r="1.25"/>
<circle cx="82.6" cy="109.8" r="1.25"/>
<circle cx="83.9" cy="120.1" r="1.25"/>
<circle cx="85.1" cy="109.1" r="1.25"/>
<circle cx="87.0" cy="99.8" r="1.25"/>
<circle cx="91.1" cy="99.0" r="1.25"/>
<circle cx="93.9" cy="100.0" r="1.25"/>
<circle cx="94.5" cy="108.6" r="1.25"/>
<circle cx="96.9" cy="104.5" r="1.25"/>
<circle cx="100.6" cy="102.6" r="1.25"/>
<circle cx="102.5" cy="107.6" r="1.25"/>
<circle cx="106.3" cy="100.7" r="1.25"/>
<circle cx="108.8" cy="104.8" r="1.25"/>
<circle cx="112.5" cy="96.3" r="1.25"/>
<circle cx="114.4" cy="98.2" r="1.25"/>
<circle cx="116.9" cy="91.9" r="1.25"/>
<circle cx="119.4" cy="87.3" r="1.25"/>
<circle cx="121.9" cy="94.4" r="1.25"/>
<circle cx="123.8" cy="98.8" r="1.25"/>
<circle cx="125.7" cy="95.7" r="1.25"/>
<circle cx="128.2" cy="86.3" r="1.25"/>
<circle cx="129.4" cy="90.1" r="1.25"/>
<circle cx="131.3" cy="79.4" r="1.25"/>
<circle cx="132.6" cy="101.3" r="1.25"/>
<circle cx="133.8" cy="91.9" r="1.25"/>
<circle cx="135.1" cy="78.5" r="1.25"/>
<circle cx="137.0" cy="75.7" r="1.25"/>
<circle cx="137.6" cy="85.7" r="1.25"/>
<circle cx="145.1" cy="75.7" r="1.25"/>
</g>
<line x1="37.10" y1="137.90" x2="145.40" y2="80.20" stroke="#000" stroke-width="1.1" stroke-dasharray="6 1.4"/>
<rect x="30.30" y="14.4" width="125.0" height="20.80" rx="1" fill="none" stroke="#333" stroke-width="0.9"/>
<text x="92.80" y="27.90" font-size="8.9" text-anchor="middle" >CD4<tspan dy="-3.2" font-size="5.6">+</tspan><tspan dy="3.2"> T cells</tspan></text>
<line x1="30.55" y1="41.30" x2="30.55" y2="199.40" stroke="#555555" stroke-width="1.0" />
<line x1="30.30" y1="199.00" x2="152.64" y2="199.00" stroke="#777" stroke-width="1.0" />
<line x1="27.30" y1="191.70" x2="30.30" y2="191.70" stroke="#555555" stroke-width="0.8" />
<text x="24.20" y="194.30" font-size="7.3" text-anchor="end" textLength="4.3" lengthAdjust="spacingAndGlyphs" >0</text>
<line x1="27.30" y1="155.90" x2="30.30" y2="155.90" stroke="#555555" stroke-width="0.8" />
<line x1="45.54" y1="199.00" x2="45.54" y2="202.00" stroke="#555555" stroke-width="0.8" />
<text x="45.54" y="210.60" font-size="7.3" text-anchor="middle" textLength="8.3" lengthAdjust="spacingAndGlyphs" >25</text>
<text x="24.20" y="158.50" font-size="7.3" text-anchor="end" textLength="8.3" lengthAdjust="spacingAndGlyphs" >25</text>
<line x1="27.30" y1="120.10" x2="30.30" y2="120.10" stroke="#555555" stroke-width="0.8" />
<line x1="81.14" y1="199.00" x2="81.14" y2="202.00" stroke="#555555" stroke-width="0.8" />
<text x="81.14" y="210.60" font-size="7.3" text-anchor="middle" textLength="8.3" lengthAdjust="spacingAndGlyphs" >50</text>
<text x="24.20" y="122.70" font-size="7.3" text-anchor="end" textLength="8.3" lengthAdjust="spacingAndGlyphs" >50</text>
<line x1="27.30" y1="84.30" x2="30.30" y2="84.30" stroke="#555555" stroke-width="0.8" />
<line x1="116.74" y1="199.00" x2="116.74" y2="202.00" stroke="#555555" stroke-width="0.8" />
<text x="116.74" y="210.60" font-size="7.3" text-anchor="middle" textLength="8.3" lengthAdjust="spacingAndGlyphs" >75</text>
<text x="24.20" y="86.90" font-size="7.3" text-anchor="end" textLength="8.3" lengthAdjust="spacingAndGlyphs" >75</text>
<line x1="27.30" y1="48.50" x2="30.30" y2="48.50" stroke="#555555" stroke-width="0.8" />
<line x1="152.34" y1="199.00" x2="152.34" y2="202.00" stroke="#555555" stroke-width="0.8" />
<text x="152.34" y="210.60" font-size="7.3" text-anchor="middle" textLength="12.9" lengthAdjust="spacingAndGlyphs" >100</text>
<text x="24.20" y="51.10" font-size="7.3" text-anchor="end" textLength="12.9" lengthAdjust="spacingAndGlyphs" >100</text>
<text x="38.00" y="48.90" font-size="7.1" textLength="74.3" lengthAdjust="spacingAndGlyphs"><tspan font-style="italic">R</tspan> = 0.91, <tspan font-style="italic">P</tspan> &lt; 2.2 × 10<tspan dy="-3.4" font-size="4.6">−16</tspan></text>
<text x="95.00" y="225.90" font-size="9.2" text-anchor="middle" textLength="100.2" lengthAdjust="spacingAndGlyphs" >Actual chronological age</text>
<text x="94.80" y="235.20" font-size="9.2" text-anchor="middle" textLength="26.5" lengthAdjust="spacingAndGlyphs" >(years)</text>
<g transform="translate(166.41 48.50) scale(1.424 1.432)" fill="none" stroke-width="1.08">
<path stroke="#e6f5e1" d="M0.5 34.9v1.2m0 5.8v1.2m0 5.8v1.2m0 0.8v1.2m0 11.8v1.2m0 2.8v1.2m0 0.8v1.2m0 2.8v1.2m0 3.8v1.2M1.5 23.9v1.2m0 0.8v7.2m0 0.8v1.2m0 0.8v8.2m0 2.8v1.2m0 4.8v3.2m0 5.8v1.2m0 6.8v1.2m0 4.8v2.2m0 0.8v1.2m0 0.8v1.2m0 0.8v1.2m0 0.8v7.2m0 0.8v1.2m0 1.8v2.2M2.5 23.9v1.2m0 0.8v3.2m0 0.8v2.2m0 0.8v1.2m0 0.8v2.2m0 1.8v2.2m0 0.8v3.2m0 0.8v1.2m0 0.8v1.2m0 1.8v1.2m0 3.8v1.2m0 1.8v1.2m0 2.8v1.2m0 3.8v2.2m0 1.8v3.2m0 0.8v3.2m0 0.8v3.2m0 1.8v2.2m0 0.8v3.2m0 0.8v2.2m0 1.8v1.2M3.5 28.9v2.2m0 0.8v2.2m0 0.8v3.2m0 0.8v2.2m0 42.8v1.2m0 0.8v1.2m0 2.8v3.2M4.5 30.9v2.2m0 0.8v1.2m0 0.8v1.2m0 1.8v1.2m0 53.8v1.2m0 0.8v4.2M5.5 52.9v1.2m0 3.8v1.2m0 18.8v1.2M6.5 44.9v1.2m0 11.8v1.2m0 8.8v1.2m0 9.8v1.2m0 0.8v1.2m0 0.8v1.2M7.5 44.9v1.2m0 1.8v1.2m0 0.8v1.2m0 0.8v1.2m0 10.8v2.2m0 0.8v1.2m0 0.8v2.2m0 10.8v2.2m0 4.8v1.2M8.5 38.9v2.2m0 0.8v2.2m0 45.8v1.2m0 1.8v4.2m0 0.8v2.2M9.5 34.9v4.2m0 0.8v1.2m0 0.8v1.2m0 40.8v1.2m0 0.8v2.2m0 0.8v1.2m0 0.8v1.2M10.5 45.9v1.2m0 1.8v1.2m0 0.8v1.2m0 0.8v2.2m0 0.8v1.2m0 1.8v2.2m0 3.8v1.2m0 2.8v2.2m0 2.8v1.2m0 0.8v1.2m0 7.8v1.2m0 1.8v1.2m0 0.8v1.2M11.5 40.9v3.2m0 0.8v3.2m0 0.8v1.2m0 7.8v1.2m0 21.8v3.2m0 1.8v2.2m0 0.8v1.2m0 1.8v3.2m0 1.8v1.2M12.5 37.9v1.2m0 0.8v4.2m0 1.8v1.2m0 1.8v2.2m0 0.8v1.2m0 1.8v1.2m0 5.8v1.2m0 10.8v1.2m0 8.8v2.2m0 4.8v4.2m0 1.8v1.2M13.5 45.9v2.2m0 9.8v1.2m0 0.8v1.2m0 7.8v1.2M14.5 37.9v1.2m0 2.8v1.2m0 42.8v5.2m0 2.8v1.2M15.5 30.9v1.2m0 1.8v1.2m0 0.8v5.2m0 0.8v1.2m0 5.8v1.2m0 0.8v1.2m0 13.8v1.2m0 0.8v1.2m0 3.8v4.2m0 0.8v1.2m0 4.8v2.2m0 1.8v6.2M16.5 31.9v1.2m0 3.8v2.2m0 0.8v2.2m0 2.8v1.2m0 1.8v1.2m0 0.8v2.2m0 2.8v2.2m0 0.8v2.2m0 20.8v1.2m0 1.8v2.2m0 1.8v3.2m0 0.8v2.2M17.5 46.9v1.2m0 5.8v1.2m0 2.8v1.2m0 5.8v1.2m0 2.8v1.2m0 3.8v1.2m0 7.8v1.2M18.5 35.9v1.2m0 0.8v1.2m0 1.8v1.2m0 41.8v2.2M19.5 36.9v1.2m0 1.8v3.2m0 2.8v3.2m0 2.8v1.2m0 1.8v3.2m0 2.8v1.2m0 1.8v2.2m0 2.8v1.2m0 3.8v1.2m0 1.8v2.2m0 1.8v4.2m0 0.8v2.2m0 0.8v1.2M20.5 35.9v1.2m0 2.8v2.2m0 31.8v1.2m0 1.8v1.2m0 2.8v1.2m0 0.8v2.2m0 0.8v2.2m0 0.8v1.2m0 2.8v2.2M21.5 51.9v3.2m0 6.8v1.2m0 3.8v1.2m0 9.8v1.2m0 1.8v1.2M22.5 32.9v2.2m0 2.8v1.2m0 35.8v1.2m0 3.8v2.2m0 1.8v1.2m0 0.8v1.2m0 0.8v1.2M23.5 23.9v1.2m0 4.8v6.2m0 0.8v3.2m0 12.8v1.2m0 12.8v1.2m0 1.8v1.2m0 0.8v2.2m0 1.8v4.2m0 1.8v8.2m0 1.8v1.2M24.5 44.9v1.2m0 4.8v2.2m0 1.8v1.2m0 19.8v1.2M25.5 31.9v1.2m0 11.8v1.2m0 0.8v1.2m0 1.8v1.2m0 12.8v1.2m0 6.8v1.2m0 6.8v1.2M26.5 54.9v1.2m0 4.8v1.2m0 1.8v1.2M27.5 27.9v2.2m0 3.8v1.2m0 3.8v1.2m0 12.8v1.2m0 3.8v2.2m0 9.8v1.2m0 2.8v1.2M28.5 22.9v5.2m0 49.8v3.2m0 1.8v1.2M29.5 33.9v1.2m0 15.8v2.2m0 8.8v1.2m0 1.8v1.2M30.5 10.9v2.2m0 1.8v10.2m0 0.8v4.2m0 2.8v1.2m0 0.8v1.2m0 0.8v1.2m0 11.8v1.2m0 1.8v1.2m0 2.8v1.2m0 5.8v1.2m0 0.8v2.2m0 0.8v1.2m0 1.8v1.2m0 3.8v10.2M31.5 19.9v2.2m0 1.8v5.2m0 0.8v2.2m0 31.8v2.2m0 1.8v1.2m0 0.8v1.2m0 2.8v1.2m0 0.8v2.2M32.5 18.9v1.2m0 1.8v1.2m0 0.8v2.2m0 0.8v3.2m0 40.8v1.2m0 0.8v2.2m0 0.8v3.2m0 1.8v2.2M33.5 19.9v4.2m0 0.8v1.2m0 0.8v2.2m0 38.8v1.2m0 2.8v6.2M34.5 20.9v2.2m0 1.8v1.2m0 50.8v1.2m0 0.8v1.2m0 0.8v1.2M35.5 27.9v1.2m0 1.8v1.2m0 18.8v1.2m0 4.8v1.2m0 3.8v1.2M36.5 12.9v1.2m0 0.8v2.2m0 0.8v2.2m0 51.8v4.2m0 0.8v1.2m0 0.8v2.2M37.5 14.9v2.2m0 3.8v1.2m0 1.8v1.2m0 37.8v1.2m0 0.8v1.2m0 0.8v1.2m0 1.8v5.2M38.5 12.9v1.2m0 2.8v4.2m0 0.8v1.2m0 44.8v3.2m0 2.8v1.2m0 0.8v1.2m0 0.8v1.2m0 2.8v1.2m0 0.8v2.2m0 2.8v1.2M39.5 7.9v1.2m0 0.8v1.2m0 0.8v1.2m0 0.8v2.2m0 51.8v3.2m0 2.8v1.2M40.5 11.9v1.2m0 2.8v3.2m0 46.8v1.2m0 1.8v1.2m0 0.8v4.2m0 0.8v3.2M41.5 8.9v1.2m0 0.8v1.2m0 1.8v1.2m0 0.8v3.2m0 53.8v1.2m0 0.8v9.2m0 0.8v1.2m0 1.8v1.2M42.5 14.9v1.2m0 48.8v1.2m0 0.8v1.2m0 2.8v2.2m0 0.8v1.2m0 0.8v2.2m0 0.8v1.2M43.5 12.9v1.2m0 0.8v1.2m0 62.8v4.2m0 0.8v1.2m0 0.8v3.2M44.5 5.9v2.2m0 64.8v3.2m0 0.8v7.2m0 0.8v1.2M45.5 66.9v2.2m0 2.8v5.2m0 0.8v1.2M46.5 11.9v1.2m0 52.8v1.2m0 0.8v1.2m0 3.8v1.2m0 0.8v1.2m0 3.8v1.2M47.5 10.9v1.2m0 1.8v1.2m0 52.8v1.2m0 2.8v1.2m0 0.8v3.2m0 0.8v3.2m0 2.8v1.2M48.5 9.9v1.2m0 0.8v1.2m0 47.8v2.2m0 0.8v2.2m0 2.8v1.2m0 1.8v1.2m0 2.8v1.2M49.5 7.9v4.2m0 55.8v8.2m0 0.8v1.2M50.5 4.9v1.2m0 63.8v1.2m0 1.8v8.2m0 0.8v1.2m0 0.8v2.2M51.5 50.9v1.2m0 13.8v1.2m0 1.8v3.2m0 0.8v1.2m0 0.8v1.2m0 0.8v3.2m0 0.8v1.2M52.5 7.9v1.2m0 53.8v1.2m0 1.8v1.2m0 1.8v1.2m0 0.8v4.2m0 0.8v1.2M53.5 66.9v3.2m0 0.8v1.2m0 0.8v2.2M54.5 12.9v1.2m0 49.8v4.2m0 0.8v3.2m0 0.8v1.2M55.5 61.9v5.2M56.5 64.9v1.2m0 0.8v1.2m0 0.8v4.2m0 1.8v3.2m0 0.8v2.2M57.5 49.9v1.2m0 1.8v2.2m0 0.8v1.2m0 4.8v8.2M58.5 1.9v7.2m0 0.8v1.2m0 41.8v1.2m0 1.8v3.2m0 0.8v2.2m0 1.8v1.2M59.5 10.9v1.2m0 40.8v1.2m0 2.8v1.2m0 1.8v3.2m0 0.8v1.2M60.5 12.9v1.2m0 34.8v1.2m0 2.8v2.2m0 0.8v3.2m0 0.8v1.2m0 0.8v2.2M61.5 23.9v1.2m0 24.8v1.2M62.5 12.9v1.2m0 0.8v1.2m0 37.8v1.2m0 0.8v2.2m0 3.8v5.2M63.5 11.9v1.2m0 36.8v1.2m0 1.8v3.2m0 0.8v2.2M64.5 12.9v1.2m0 40.8v1.2m0 2.8v1.2M65.5 8.9v4.2m0 34.8v1.2m0 2.8v2.2m0 0.8v4.2M66.5 27.9v1.2m0 4.8v1.2M67.5 14.9v2.2m0 33.8v1.2m0 1.8v1.2M68.5 6.9v3.2m0 32.8v1.2m0 0.8v3.2m0 0.8v3.2M69.5 5.9v1.2m0 1.8v5.2m0 0.8v1.2m0 0.8v1.2m0 4.8v1.2m0 8.8v1.2m0 1.8v2.2m0 0.8v1.2m0 1.8v2.2m0 0.8v4.2M70.5 11.9v1.2m0 28.8v2.2m0 0.8v2.2M71.5 22.9v1.2m0 1.8v1.2M72.5 12.9v3.2m0 20.8v3.2m0 0.8v3.2m0 0.8v1.2M73.5 10.9v1.2m0 1.8v2.2m0 25.8v2.2M74.5 28.9v1.2m0 9.8v1.2m0 1.8v5.2m0 1.8v1.2M75.5 13.9v3.2m0 4.8v1.2m0 12.8v1.2m0 0.8v5.2M76.5 14.9v1.2m0 1.8v2.2m0 1.8v1.2m0 17.8v3.2m0 0.8v2.2M78.5 16.9v1.2m0 0.8v1.2m0 9.8v1.2m0 0.8v2.2m0 0.8v1.2m0 0.8v1.2"/>
<path stroke="#d3eecd" d="M0.5 58.9v1.2M1.5 32.9v1.2m0 0.8v1.2m0 8.8v2.2m0 0.8v3.2m0 0.8v1.2m0 4.8v1.2m0 0.8v2.2m0 0.8v2.2m0 1.8v1.2m0 0.8v1.2m0 0.8v3.2m0 0.8v1.2m0 1.8v1.2m0 0.8v1.2m0 0.8v1.2m0 0.8v1.2m0 6.8v1.2m0 0.8v2.2m0 1.8v2.2M2.5 24.9v1.2m0 5.8v1.2m0 0.8v1.2m0 1.8v2.2m0 1.8v1.2m0 2.8v1.2m0 0.8v1.2m0 0.8v1.2m0 1.8v1.2m0 0.8v1.2m0 1.8v2.2m0 1.8v1.2m0 2.8v3.2m0 1.8v2.2m0 2.8v1.2m0 6.8v2.2m0 1.8v1.2m0 2.8v1.2M3.5 33.9v1.2m0 2.8v1.2m0 1.8v1.2m0 0.8v1.2m0 37.8v1.2m0 1.8v1.2m0 0.8v3.2M4.5 32.9v1.2m0 2.8v2.2m0 0.8v3.2m0 3.8v1.2m0 4.8v1.2m0 22.8v1.2m0 4.8v1.2m0 3.8v1.2m0 2.8v2.2m0 0.8v1.2M6.5 41.9v1.2m0 4.8v1.2m0 11.8v1.2M8.5 40.9v1.2m0 1.8v1.2m0 0.8v2.2m0 0.8v1.2m0 7.8v1.2m0 20.8v1.2m0 4.8v1.2m0 0.8v1.2m0 1.8v2.2M9.5 38.9v1.2m0 0.8v1.2m0 0.8v1.2m0 29.8v1.2m0 3.8v1.2m0 0.8v3.2m0 0.8v1.2m0 3.8v1.2M11.5 49.9v2.2m0 0.8v2.2m0 0.8v2.2m0 5.8v2.2m0 0.8v2.2m0 0.8v1.2m0 1.8v1.2m0 1.8v1.2m0 1.8v2.2m0 2.8v2.2m0 1.8v1.2m0 0.8v2.2M12.5 43.9v2.2m0 4.8v1.2m0 1.8v1.2m0 0.8v1.2m0 2.8v2.2m0 3.8v1.2m0 0.8v2.2m0 1.8v2.2m0 0.8v2.2m0 0.8v2.2m0 0.8v3.2m0 1.8v3.2m0 0.8v1.2m0 3.8v1.2M13.5 53.9v1.2m0 23.8v1.2M14.5 38.9v1.2m0 0.8v1.2m0 0.8v5.2m0 1.8v1.2m0 0.8v2.2m0 9.8v1.2m0 7.8v1.2m0 3.8v1.2m0 0.8v6.2M15.5 34.9v1.2m0 4.8v1.2m0 0.8v2.2m0 0.8v3.2m0 0.8v1.2m0 4.8v2.2m0 1.8v6.2m0 0.8v1.2m0 0.8v1.2m0 1.8v1.2m0 5.8v3.2m0 3.8v2.2m0 5.8v1.2m0 1.8v1.2M16.5 34.9v2.2m0 4.8v3.2m0 1.8v1.2m0 0.8v1.2m0 9.8v3.2m0 0.8v1.2m0 0.8v2.2m0 1.8v2.2m0 1.8v2.2m0 2.8v2.2m0 1.8v1.2m0 1.8v2.2m0 2.8v1.2m0 2.8v1.2M17.5 55.9v1.2m0 3.8v1.2m0 3.8v1.2m0 4.8v1.2M18.5 38.9v1.2m0 1.8v1.2m0 33.8v2.2m0 0.8v2.2m0 0.8v1.2M19.5 37.9v2.2m0 2.8v1.2m0 0.8v1.2m0 2.8v2.2m0 1.8v2.2m0 3.8v2.2m0 0.8v1.2m0 2.8v1.2m0 0.8v1.2m0 0.8v4.2m0 0.8v2.2m0 7.8v1.2M20.5 34.9v1.2m0 0.8v1.2m0 5.8v3.2m0 0.8v1.2m0 2.8v1.2m0 0.8v2.2m0 4.8v1.2m0 1.8v1.2m0 0.8v1.2m0 4.8v2.2m0 0.8v2.2m0 0.8v2.2m0 1.8v1.2m0 1.8v1.2M21.5 68.9v1.2m0 4.8v1.2M22.5 34.9v2.2m0 4.8v1.2m0 32.8v2.2m0 0.8v1.2m0 1.8v2.2M23.5 28.9v1.2m0 5.8v1.2m0 2.8v2.2m0 1.8v1.2m0 0.8v1.2m0 0.8v1.2m0 0.8v2.2m0 1.8v2.2m0 0.8v1.2m0 0.8v2.2m0 0.8v4.2m0 2.8v1.2m0 0.8v1.2m0 1.8v1.2m0 4.8v2.2M24.5 45.9v1.2M25.5 61.9v1.2m0 4.8v1.2M26.5 44.9v1.2m0 0.8v1.2M27.5 43.9v1.2m0 4.8v2.2m0 1.8v1.2m0 12.8v1.2M28.5 27.9v1.2m0 0.8v5.2m0 1.8v1.2m0 4.8v1.2m0 8.8v1.2m0 12.8v1.2m0 0.8v2.2m0 0.8v1.2m0 0.8v1.2m0 0.8v2.2m0 2.8v2.2m0 3.8v1.2M29.5 35.9v1.2M30.5 24.9v1.2m0 3.8v2.2m0 1.8v1.2m0 0.8v1.2m0 0.8v3.2m0 1.8v2.2m0 1.8v1.2m0 2.8v2.2m0 1.8v2.2m0 1.8v3.2m0 2.8v1.2m0 1.8v1.2m0 0.8v2.2m0 0.8v4.2M31.5 22.9v1.2m0 4.8v1.2m0 2.8v2.2m0 2.8v2.2m0 10.8v1.2m0 3.8v1.2m0 1.8v1.2m0 1.8v1.2m0 2.8v2.2m0 0.8v1.2m0 0.8v3.2m0 0.8v1.2M32.5 16.9v1.2m0 7.8v1.2m0 2.8v2.2m0 0.8v2.2m0 21.8v1.2m0 2.8v1.2m0 0.8v1.2m0 0.8v1.2m0 8.8v1.2M33.5 23.9v1.2m0 0.8v1.2m0 1.8v1.2m0 1.8v1.2m0 2.8v1.2m0 20.8v1.2m0 1.8v2.2m0 3.8v1.2m0 0.8v1.2m0 0.8v1.2M34.5 22.9v2.2m0 0.8v2.2m0 37.8v2.2m0 2.8v2.2m0 0.8v1.2m0 0.8v1.2m0 0.8v1.2m0 2.8v1.2M35.5 48.9v1.2m0 4.8v1.2M36.5 16.9v1.2m0 1.8v4.2m0 44.8v3.2m0 3.8v1.2M37.5 16.9v4.2m0 0.8v2.2m0 2.8v1.2m0 26.8v1.2m0 1.8v1.2m0 6.8v1.2m0 0.8v1.2m0 5.8v2.2M38.5 15.9v1.2m0 6.8v3.2m0 39.8v1.2m0 2.8v1.2m0 0.8v1.2m0 0.8v1.2m0 0.8v1.2m0 0.8v1.2m0 0.8v1.2m0 0.8v1.2m0 2.8v1.2M39.5 8.9v1.2m0 2.8v1.2m0 2.8v1.2m0 43.8v2.2m0 0.8v2.2m0 3.8v1.2M40.5 13.9v2.2m0 3.8v1.2m0 36.8v1.2m0 3.8v3.2m0 0.8v2.2m0 0.8v1.2m0 3.8v1.2m0 3.8v1.2M41.5 14.9v1.2m0 45.8v1.2m0 0.8v1.2m0 1.8v1.2m0 0.8v4.2m0 0.8v1.2M42.5 16.9v4.2m0 35.8v1.2m0 0.8v1.2m0 0.8v1.2m0 0.8v1.2m0 3.8v3.2m0 1.8v1.2m0 0.8v1.2m0 1.8v1.2m0 1.8v1.2M43.5 16.9v2.2m0 42.8v1.2m0 2.8v4.2m0 2.8v2.2m0 0.8v3.2m0 3.8v1.2m0 0.8v1.2M44.5 8.9v4.2m0 50.8v2.2m0 3.8v1.2m0 4.8v1.2M45.5 55.9v1.2m0 4.8v1.2m0 1.8v2.2m0 1.8v3.2m0 4.8v1.2m0 1.8v1.2M46.5 14.9v1.2m0 45.8v1.2m0 0.8v1.2m0 1.8v1.2m0 1.8v1.2m0 0.8v1.2m0 0.8v1.2m0 0.8v1.2M47.5 14.9v2.2m0 43.8v6.2m0 1.8v3.2m0 0.8v1.2m0 2.8v1.2M48.5 13.9v1.2m0 41.8v1.2m0 0.8v2.2m0 1.8v1.2m0 1.8v3.2m0 1.8v1.2M49.5 11.9v1.2m0 42.8v2.2m0 0.8v3.2m0 0.8v2.2m0 0.8v2.2M50.5 6.9v1.2m0 52.8v2.2m0 2.8v4.2m0 0.8v2.2M51.5 57.9v2.2m0 0.8v2.2m0 0.8v1.2m0 2.8v1.2m0 4.8v1.2m0 0.8v1.2M52.5 8.9v2.2m0 2.8v1.2m0 54.8v1.2m0 3.8v1.2M53.5 14.9v1.2m0 41.8v1.2m0 1.8v6.2M54.5 10.9v1.2m0 46.8v1.2m0 2.8v1.2m0 3.8v1.2M55.5 53.9v1.2m0 1.8v2.2m0 0.8v2.2m0 5.8v1.2M56.5 13.9v2.2m0 35.8v1.2m0 0.8v2.2m0 0.8v1.2m0 0.8v1.2m0 0.8v2.2m0 0.8v1.2m0 0.8v1.2m0 5.8v2.2M57.5 9.9v2.2m0 0.8v2.2m0 1.8v1.2m0 27.8v2.2m0 2.8v1.2m0 2.8v1.2m0 0.8v5.2M58.5 8.9v1.2m0 0.8v1.2m0 0.8v1.2m0 29.8v1.2m0 2.8v5.2m0 0.8v2.2m0 6.8v1.2M59.5 12.9v1.2m0 35.8v1.2m0 3.8v1.2m0 2.8v1.2m0 2.8v1.2M60.5 14.9v1.2m0 34.8v2.2m0 1.8v1.2m0 2.8v1.2m0 0.8v1.2M62.5 13.9v1.2m0 0.8v1.2m0 21.8v1.2m0 0.8v2.2m0 1.8v1.2m0 1.8v1.2m0 0.8v1.2m0 0.8v2.2m0 0.8v1.2m0 1.8v4.2M63.5 12.9v3.2m0 34.8v1.2m0 3.8v1.2M64.5 13.9v2.2m0 0.8v1.2m0 29.8v1.2m0 2.8v3.2m0 0.8v1.2M65.5 13.9v2.2m0 33.8v1.2m0 2.8v1.2M66.5 17.9v1.2m0 10.8v1.2m0 4.8v1.2m0 0.8v1.2m0 0.8v2.2m0 0.8v1.2M67.5 11.9v2.2m0 5.8v1.2m0 17.8v3.2m0 3.8v2.2m0 0.8v2.2m0 0.8v2.2M68.5 9.9v2.2m0 0.8v2.2m0 19.8v1.2m0 4.8v2.2m0 0.8v1.2M69.5 13.9v1.2m0 0.8v1.2m0 7.8v2.2m0 0.8v3.2m0 2.8v2.2m0 1.8v1.2m0 0.8v2.2M70.5 12.9v1.2m0 1.8v1.2m0 23.8v1.2m0 1.8v1.2M71.5 24.9v1.2M72.5 11.9v1.2m0 2.8v3.2m0 0.8v1.2m0 0.8v2.2m0 3.8v1.2m0 0.8v1.2m0 1.8v3.2m0 3.8v1.2m0 2.8v1.2M73.5 15.9v3.2m0 3.8v1.2m0 1.8v1.2m0 9.8v5.2M74.5 15.9v9.2m0 1.8v1.2m0 1.8v5.2m0 0.8v2.2m0 3.8v1.2M75.5 16.9v1.2m0 0.8v1.2m0 2.8v3.2m0 0.8v1.2m0 1.8v1.2m0 0.8v4.2m0 0.8v1.2M76.5 16.9v1.2m0 1.8v2.2m0 1.8v2.2m0 17.8v1.2M77.5 31.9v1.2M78.5 17.9v1.2m0 2.8v1.2m0 0.8v1.2m0 1.8v1.2m0 2.8v1.2m0 1.8v1.2m0 0.8v1.2"/>
<path stroke="#bee5b7" d="M1.5 43.9v1.2m0 5.8v1.2m0 4.8v1.2m0 0.8v1.2m0 4.8v2.2m0 0.8v1.2m0 4.8v1.2M2.5 28.9v1.2m0 19.8v1.2m0 1.8v1.2m0 5.8v1.2m0 0.8v1.2m0 0.8v1.2m0 13.8v1.2M3.5 43.9v2.2m0 26.8v2.2m0 0.8v3.2m0 0.8v2.2m0 0.8v1.2M4.5 42.9v3.2m0 3.8v1.2m0 23.8v1.2m0 7.8v4.2m0 0.8v3.2M8.5 44.9v1.2m0 1.8v1.2m0 0.8v3.2m0 6.8v4.2m0 0.8v2.2m0 1.8v1.2m0 2.8v1.2m0 3.8v2.2m0 0.8v2.2m0 0.8v2.2m0 2.8v1.2M9.5 43.9v2.2m0 1.8v1.2m0 20.8v1.2m0 1.8v1.2m0 0.8v2.2m0 0.8v1.2m0 0.8v1.2M11.5 39.9v1.2m0 6.8v1.2m0 5.8v1.2m0 2.8v5.2m0 1.8v1.2m0 1.8v1.2m0 0.8v2.2m0 0.8v2.2m0 1.8v1.2M12.5 46.9v2.2m0 3.8v1.2m0 2.8v3.2m0 4.8v1.2m0 0.8v1.2m0 1.8v2.2m0 4.8v1.2m0 1.8v1.2m0 7.8v1.2M14.5 47.9v2.2m0 0.8v1.2m0 4.8v1.2m0 2.8v3.2m0 0.8v1.2m0 0.8v2.2m0 0.8v1.2m0 2.8v4.2m0 0.8v1.2M15.5 44.9v1.2m0 5.8v1.2m0 0.8v2.2m0 1.8v2.2m0 9.8v2.2m0 4.8v1.2m0 3.8v2.2M16.5 38.9v1.2m0 5.8v1.2m0 4.8v3.2m0 9.8v1.2m0 1.8v2.2m0 1.8v2.2m0 2.8v2.2M18.5 39.9v1.2m0 1.8v2.2m0 17.8v2.2m0 2.8v1.2m0 1.8v1.2m0 2.8v1.2m0 2.8v1.2m0 1.8v1.2M19.5 50.9v1.2m0 5.8v1.2m0 3.8v1.2m0 14.8v2.2M20.5 41.9v2.2m0 2.8v1.2m0 0.8v3.2m0 0.8v1.2m0 1.8v2.2m0 0.8v2.2m0 0.8v2.2m0 3.8v1.2m0 1.8v1.2m0 7.8v1.2M22.5 30.9v1.2m0 4.8v1.2m0 1.8v1.2m0 2.8v1.2m0 9.8v1.2m0 4.8v2.2m0 1.8v1.2m0 1.8v2.2m0 2.8v2.2m0 2.8v1.2M23.5 41.9v2.2m0 2.8v1.2m0 3.8v1.2m0 2.8v1.2m0 0.8v1.2m0 6.8v1.2m0 0.8v1.2M25.5 48.9v1.2M28.5 28.9v1.2m0 4.8v2.2m0 0.8v1.2m0 0.8v2.2m0 1.8v1.2m0 0.8v1.2m0 1.8v1.2m0 0.8v2.2m0 2.8v2.2m0 0.8v2.2m0 3.8v2.2m0 0.8v1.2m0 1.8v1.2m0 0.8v1.2m0 0.8v1.2M30.5 31.9v1.2m0 7.8v2.2m0 1.8v2.2m0 0.8v2.2m0 3.8v1.2m0 2.8v1.2m0 2.8v2.2M31.5 31.9v1.2m0 1.8v2.2m0 2.8v3.2m0 2.8v5.2m0 0.8v2.2m0 0.8v1.2m0 0.8v2.2m0 0.8v1.2m0 1.8v1.2M32.5 31.9v1.2m0 1.8v2.2m0 1.8v1.2m0 2.8v1.2m0 4.8v2.2m0 3.8v1.2m0 1.8v1.2m0 0.8v1.2m0 0.8v1.2m0 3.8v4.2m0 0.8v1.2M33.5 29.9v2.2m0 1.8v2.2m0 13.8v1.2m0 0.8v1.2m0 2.8v2.2m0 1.8v1.2m0 2.8v3.2m0 2.8v1.2M34.5 19.9v1.2m0 6.8v1.2m0 1.8v1.2m0 26.8v1.2m0 4.8v1.2m0 2.8v2.2m0 3.8v1.2m0 3.8v1.2M36.5 65.9v2.2M37.5 25.9v1.2m0 3.8v1.2m0 15.8v1.2m0 11.8v1.2m0 6.8v1.2M38.5 20.9v1.2m0 0.8v1.2m0 2.8v3.2m0 3.8v1.2m0 14.8v2.2m0 3.8v2.2m0 0.8v1.2m0 0.8v6.2m0 4.8v1.2M39.5 15.9v1.2m0 0.8v1.2m0 0.8v1.2m0 2.8v1.2m0 31.8v1.2m0 0.8v1.2m0 0.8v1.2m0 1.8v1.2m0 1.8v1.2M40.5 18.9v1.2m0 0.8v2.2m0 0.8v1.2m0 27.8v1.2m0 0.8v3.2m0 0.8v4.2M41.5 62.9v1.2m0 0.8v2.2m0 0.8v1.2M42.5 20.9v2.2m0 30.8v2.2m0 1.8v1.2m0 0.8v1.2m0 0.8v1.2m0 0.8v1.2m0 0.8v1.2M43.5 13.9v1.2m0 44.8v1.2m0 1.8v3.2m0 3.8v1.2m0 0.8v1.2M44.5 12.9v2.2m0 41.8v1.2m0 1.8v1.2m0 0.8v1.2m0 2.8v4.2m0 0.8v1.2M45.5 15.9v1.2m0 42.8v2.2m0 1.8v1.2M46.5 12.9v2.2m0 39.8v3.2m0 0.8v1.2m0 0.8v1.2m0 2.8v1.2m0 2.8v1.2m0 0.8v1.2M47.5 16.9v2.2m0 32.8v1.2m0 3.8v1.2m0 1.8v1.2m0 5.8v1.2M48.5 12.9v1.2m0 0.8v1.2m0 0.8v1.2m0 34.8v2.2m0 0.8v1.2m0 0.8v1.2M49.5 12.9v2.2m0 2.8v1.2m0 33.8v3.2m0 1.8v1.2m0 2.8v1.2M50.5 9.9v5.2m0 40.8v5.2m0 1.8v3.2M51.5 20.9v1.2m0 26.8v1.2m0 5.8v2.2m0 1.8v1.2m0 1.8v1.2m0 2.8v1.2m0 3.8v1.2M52.5 10.9v3.2m0 44.8v3.2m0 1.8v2.2m0 0.8v2.2M53.5 16.9v1.2m0 30.8v2.2m0 1.8v1.2m0 1.8v2.2m0 0.8v2.2M54.5 11.9v1.2m0 0.8v1.2m0 35.8v2.2m0 0.8v1.2m0 1.8v1.2m0 1.8v3.2M55.5 14.9v1.2m0 33.8v1.2m0 0.8v1.2m0 1.8v2.2m0 1.8v1.2M56.5 12.9v1.2m0 3.8v1.2m0 29.8v1.2m0 0.8v1.2m0 3.8v1.2m0 2.8v1.2m0 1.8v1.2m0 3.8v1.2M57.5 40.9v1.2m0 2.8v1.2m0 1.8v2.2M58.5 11.9v1.2m0 27.8v1.2m0 0.8v1.2m0 0.8v3.2M59.5 13.9v2.2m0 25.8v1.2m0 1.8v4.2m0 1.8v2.2m0 0.8v1.2m0 2.8v1.2M60.5 15.9v1.2m0 24.8v1.2m0 0.8v2.2m0 0.8v2.2m0 0.8v1.2M61.5 17.9v1.2m0 14.8v1.2M62.5 17.9v1.2m0 0.8v1.2m0 9.8v1.2m0 7.8v1.2m0 1.8v1.2m0 2.8v1.2m0 0.8v1.2m0 0.8v1.2M63.5 17.9v1.2m0 25.8v2.2m0 0.8v2.2m0 1.8v1.2M64.5 15.9v1.2m0 29.8v1.2m0 0.8v3.2M65.5 12.9v1.2m0 3.8v1.2m0 18.8v1.2m0 3.8v3.2m0 0.8v1.2m0 0.8v1.2M66.5 26.9v1.2m0 4.8v1.2M67.5 16.9v2.2m0 2.8v1.2m0 9.8v2.2m0 1.8v2.2m0 2.8v4.2M68.5 11.9v1.2m0 1.8v2.2m0 9.8v1.2m0 3.8v1.2m0 2.8v2.2m0 0.8v2.2M69.5 17.9v5.2m0 0.8v1.2m0 1.8v1.2m0 2.8v2.2M70.5 13.9v2.2m0 19.8v1.2m0 0.8v2.2M72.5 18.9v1.2m0 3.8v1.2m0 0.8v2.2m0 0.8v1.2m0 0.8v1.2M73.5 19.9v3.2m0 3.8v2.2m0 1.8v2.2m0 0.8v2.2M74.5 25.9v1.2m0 7.8v1.2m0 1.8v2.2m0 0.8v1.2M75.5 17.9v1.2m0 0.8v2.2m0 5.8v1.2m0 1.8v1.2M76.5 22.9v1.2m0 1.8v4.2m0 1.8v2.2m0 0.8v6.2M77.5 32.9v1.2M78.5 15.9v1.2m0 2.8v2.2m0 0.8v1.2m0 0.8v2.2m0 0.8v2.2"/>
<path stroke="#a6db9f" d="M3.5 45.9v1.2m0 2.8v2.2m0 14.8v1.2m0 3.8v1.2m0 5.8v1.2M4.5 45.9v1.2m0 1.8v1.2m0 0.8v2.2m0 1.8v3.2m0 3.8v2.2m0 1.8v1.2m0 1.8v1.2m0 5.8v1.2m0 0.8v1.2m0 1.8v2.2M8.5 52.9v5.2m0 5.8v1.2m0 1.8v2.2m0 0.8v3.2m0 0.8v4.2m0 4.8v1.2M9.5 45.9v2.2m0 0.8v1.2m0 1.8v3.2m0 5.8v1.2m0 4.8v1.2m0 2.8v2.2m0 3.8v1.2M12.5 62.9v2.2M14.5 53.9v3.2m0 0.8v1.2m0 0.8v1.2m0 4.8v1.2m0 1.8v1.2m0 0.8v2.2M15.5 52.9v1.2M16.5 62.9v1.2M18.5 44.9v1.2m0 22.8v1.2m0 1.8v2.2m0 1.8v1.2M20.5 57.9v1.2m0 5.8v1.2m0 0.8v1.2m0 0.8v2.2M22.5 38.9v1.2m0 4.8v2.2m0 0.8v2.2m0 0.8v1.2m0 11.8v1.2m0 0.8v2.2m0 1.8v3.2M28.5 38.9v1.2m0 1.8v1.2m0 1.8v1.2m0 0.8v2.2m0 0.8v1.2m0 2.8v2.2m0 6.8v2.2M31.5 36.9v1.2m0 4.8v1.2m0 0.8v1.2m0 7.8v1.2M32.5 36.9v2.2m0 0.8v3.2m0 2.8v1.2m0 0.8v1.2m0 2.8v3.2m0 3.8v1.2m0 5.8v1.2M33.5 32.9v1.2m0 12.8v1.2m0 4.8v1.2m0 0.8v1.2m0 2.8v1.2M34.5 28.9v2.2m0 0.8v2.2m0 1.8v1.2m0 0.8v1.2m0 11.8v1.2m0 2.8v3.2m0 1.8v1.2m0 6.8v1.2m0 3.8v1.2M36.5 24.9v2.2m0 2.8v1.2m0 26.8v1.2m0 0.8v2.2m0 1.8v2.2m0 1.8v1.2m0 8.8v1.2M37.5 27.9v3.2m0 0.8v1.2m0 0.8v2.2m0 0.8v1.2m0 10.8v4.2m0 0.8v1.2m0 1.8v1.2m0 1.8v1.2m0 0.8v1.2M38.5 29.9v3.2m0 2.8v4.2m0 0.8v1.2m0 1.8v5.2m0 2.8v1.2m0 0.8v2.2m0 1.8v1.2m0 0.8v1.2M39.5 20.9v3.2m0 1.8v1.2m0 25.8v3.2M40.5 22.9v1.2m0 25.8v1.2M41.5 20.9v1.2m0 0.8v2.2m0 27.8v1.2m0 3.8v1.2m0 0.8v2.2M42.5 22.9v3.2m0 24.8v2.2M43.5 19.9v2.2m0 31.8v2.2m0 4.8v1.2m0 8.8v1.2M44.5 14.9v3.2m0 37.8v1.2m0 1.8v1.2m0 2.8v1.2m0 7.8v1.2M45.5 18.9v3.2m0 27.8v1.2m0 1.8v3.2m0 2.8v1.2m0 2.8v1.2M46.5 15.9v1.2m0 0.8v3.2m0 29.8v1.2m0 0.8v1.2m0 3.8v1.2m0 0.8v1.2M47.5 18.9v1.2m0 0.8v1.2m0 28.8v1.2m0 0.8v1.2m0 0.8v2.2m0 0.8v2.2M48.5 15.9v1.2m0 0.8v4.2m0 24.8v1.2m0 1.8v2.2m0 2.8v1.2M49.5 15.9v1.2m0 1.8v1.2m0 26.8v1.2m0 3.8v1.2M50.5 15.9v1.2m0 36.8v2.2M51.5 43.9v3.2m0 0.8v1.2m0 0.8v1.2m0 0.8v1.2m0 0.8v2.2M52.5 14.9v1.2m0 34.8v1.2m0 1.8v2.2m0 0.8v1.2m0 3.8v1.2M53.5 15.9v1.2m0 0.8v2.2m0 26.8v1.2m0 2.8v2.2m0 0.8v1.2M54.5 15.9v1.2m0 30.8v1.2m0 5.8v2.2m0 0.8v1.2M55.5 15.9v1.2m0 27.8v1.2m0 6.8v1.2M56.5 15.9v2.2m0 22.8v2.2m0 0.8v1.2m0 0.8v3.2m0 0.8v1.2m0 1.8v1.2M57.5 14.9v2.2m0 0.8v1.2m0 22.8v1.2M58.5 13.9v1.2m0 0.8v2.2m0 19.8v1.2M59.5 15.9v2.2m0 24.8v2.2m0 3.8v1.2m0 5.8v1.2M60.5 16.9v3.2m0 18.8v1.2m0 2.8v1.2m0 1.8v1.2M62.5 16.9v1.2m0 0.8v1.2m0 0.8v1.2m0 2.8v2.2m0 0.8v1.2m0 0.8v1.2m0 1.8v3.2m0 0.8v2.2m0 6.8v1.2M63.5 16.9v1.2m0 17.8v1.2m0 3.8v4.2m0 1.8v1.2M64.5 17.9v3.2m0 17.8v2.2m0 1.8v1.2m0 0.8v2.2M65.5 15.9v1.2m0 22.8v2.2m0 8.8v1.2M67.5 18.9v1.2m0 0.8v1.2m0 0.8v1.2m0 2.8v1.2m0 0.8v2.2m0 0.8v1.2m0 2.8v1.2M68.5 16.9v2.2m0 4.8v1.2m0 2.8v4.2m0 0.8v2.2m0 2.8v1.2M70.5 16.9v1.2m0 16.8v1.2m0 0.8v1.2m0 1.8v1.2M72.5 20.9v1.2m0 2.8v1.2m0 9.8v1.2M73.5 18.9v1.2m0 4.8v1.2m0 2.8v1.2M74.5 24.9v1.2M75.5 25.9v1.2M76.5 29.9v2.2"/>
<path stroke="#8ace88" d="M3.5 46.9v3.2m0 1.8v2.2m0 1.8v1.2m0 0.8v2.2m0 0.8v5.2m0 2.8v3.2M4.5 47.9v1.2m0 4.8v1.2m0 2.8v1.2m0 0.8v2.2m0 1.8v2.2m0 1.8v1.2m0 2.8v3.2m0 4.8v1.2M8.5 58.9v1.2M9.5 49.9v1.2m0 3.8v2.2m0 1.8v2.2m0 1.8v1.2m0 0.8v2.2m0 0.8v2.2M14.5 58.9v1.2M18.5 45.9v6.2m0 3.8v1.2m0 0.8v1.2m0 0.8v1.2m0 3.8v3.2m0 1.8v1.2m0 2.8v1.2M22.5 40.9v1.2m0 4.8v1.2m0 1.8v1.2m0 2.8v1.2m0 0.8v2.2m0 0.8v1.2m0 2.8v1.2M28.5 61.9v1.2M31.5 43.9v1.2M32.5 44.9v1.2m0 0.8v1.2m0 2.8v1.2m0 3.8v1.2M33.5 36.9v2.2m0 0.8v2.2m0 1.8v3.2m0 0.8v2.2m0 3.8v1.2M34.5 34.9v1.2m0 2.8v2.2m0 2.8v1.2m0 2.8v1.2m0 3.8v2.2m0 2.8v1.2m0 1.8v2.2m0 0.8v1.2M36.5 26.9v3.2m0 0.8v2.2m0 15.8v3.2m0 0.8v1.2m0 0.8v3.2m0 3.8v2.2M37.5 35.9v1.2m0 1.8v1.2m0 0.8v1.2m0 1.8v2.2m0 0.8v1.2m0 4.8v1.2m0 1.8v1.2m0 1.8v1.2M38.5 34.9v1.2m0 3.8v1.2m0 0.8v2.2m0 8.8v1.2M39.5 26.9v2.2m0 17.8v1.2m0 1.8v3.2M40.5 24.9v5.2m0 15.8v2.2m0 2.8v2.2M41.5 19.9v1.2m0 0.8v1.2m0 2.8v1.2m0 22.8v1.2m0 0.8v1.2m0 0.8v4.2m0 0.8v1.2M42.5 48.9v1.2m0 5.8v1.2M43.5 18.9v1.2m0 1.8v1.2m0 29.8v1.2m0 1.8v1.2m0 0.8v1.2M44.5 17.9v1.2m0 1.8v1.2m0 28.8v1.2m0 1.8v1.2m0 2.8v1.2M45.5 48.9v1.2m0 0.8v2.2m0 3.8v2.2M46.5 16.9v1.2m0 2.8v1.2m0 27.8v1.2m0 2.8v1.2M47.5 19.9v1.2m0 27.8v2.2m0 2.8v1.2M48.5 48.9v1.2m0 1.8v1.2M49.5 19.9v1.2m0 24.8v1.2m0 0.8v3.2M50.5 14.9v1.2m0 0.8v2.2M51.5 21.9v1.2m0 0.8v1.2m0 21.8v1.2m0 4.8v1.2M52.5 15.9v2.2m0 31.8v1.2m0 0.8v2.2m0 1.8v1.2m0 0.8v1.2M53.5 42.9v1.2m0 0.8v2.2m0 0.8v1.2M54.5 16.9v1.2m0 27.8v2.2m0 0.8v2.2M55.5 16.9v2.2m0 27.8v1.2m0 0.8v1.2m0 0.8v1.2M56.5 18.9v1.2m0 0.8v1.2m0 15.8v1.2m0 0.8v1.2m0 1.8v1.2m0 0.8v1.2M57.5 18.9v3.2m0 15.8v3.2m0 1.8v1.2M58.5 14.9v1.2m0 2.8v1.2m0 19.8v1.2m0 0.8v1.2M59.5 36.9v5.2M60.5 19.9v1.2m0 13.8v1.2m0 1.8v1.2m0 1.8v1.2M62.5 22.9v2.2m0 6.8v1.2m0 2.8v1.2M63.5 15.9v1.2m0 1.8v2.2m0 0.8v1.2m0 7.8v2.2m0 0.8v2.2m0 0.8v4.2M64.5 36.9v2.2m0 1.8v2.2m0 0.8v1.2M65.5 18.9v4.2m0 4.8v1.2m0 1.8v1.2m0 0.8v2.2m0 0.8v1.2m0 1.8v1.2m0 1.8v1.2M67.5 25.9v1.2m0 3.8v1.2M68.5 19.9v3.2m0 1.8v1.2M70.5 17.9v2.2m0 6.8v2.2m0 0.8v5.2M73.5 32.9v1.2M76.5 33.9v1.2"/>
<path stroke="#6cc072" d="M3.5 53.9v2.2m0 0.8v1.2m0 1.8v1.2M4.5 58.9v1.2m0 6.8v1.2m0 1.8v2.2M9.5 56.9v2.2m0 2.8v1.2m0 0.8v1.2M18.5 53.9v2.2m0 2.8v1.2m0 0.8v2.2M22.5 51.9v1.2M33.5 41.9v2.2M34.5 36.9v1.2m0 2.8v3.2m0 1.8v2.2m0 0.8v2.2m0 0.8v1.2M36.5 33.9v3.2m0 1.8v1.2m0 1.8v1.2m0 10.8v1.2m0 3.8v1.2M37.5 32.9v1.2m0 3.8v1.2m0 0.8v1.2m0 0.8v2.2M38.5 32.9v1.2M39.5 24.9v1.2m0 2.8v1.2m0 1.8v1.2m0 9.8v1.2m0 3.8v1.2M40.5 30.9v1.2m0 10.8v1.2m0 3.8v1.2M41.5 24.9v1.2m0 4.8v1.2m0 18.8v1.2M42.5 25.9v1.2m0 12.8v1.2m0 3.8v1.2m0 0.8v1.2M43.5 22.9v1.2m0 24.8v1.2m0 0.8v2.2M44.5 18.9v2.2m0 0.8v1.2m0 28.8v2.2M45.5 21.9v1.2m0 0.8v1.2M46.5 21.9v1.2m0 24.8v2.2m0 1.8v1.2M47.5 21.9v2.2m0 20.8v1.2m0 1.8v1.2M48.5 21.9v1.2m0 22.8v1.2M49.5 20.9v1.2m0 0.8v2.2m0 14.8v1.2m0 3.8v1.2M50.5 46.9v7.2M51.5 22.9v1.2m0 0.8v1.2m0 10.8v1.2m0 0.8v1.2m0 0.8v3.2M52.5 17.9v1.2m0 29.8v1.2M53.5 19.9v4.2M54.5 17.9v2.2m0 22.8v1.2m0 0.8v1.2M55.5 45.9v1.2M56.5 19.9v1.2m0 1.8v1.2m0 12.8v1.2m0 0.8v1.2M57.5 21.9v1.2M58.5 17.9v1.2m0 1.8v1.2m0 0.8v1.2m0 3.8v1.2m0 2.8v1.2m0 0.8v2.2m0 0.8v1.2M59.5 17.9v3.2M60.5 20.9v2.2m0 10.8v1.2m0 0.8v1.2m0 2.8v1.2M62.5 26.9v1.2m0 0.8v1.2M63.5 20.9v1.2m0 0.8v2.2m0 3.8v2.2M64.5 22.9v3.2m0 5.8v4.2M65.5 16.9v1.2m0 4.8v2.2m0 0.8v1.2m0 1.8v1.2m0 1.8v1.2m0 3.8v1.2M67.5 23.9v2.2M68.5 22.9v1.2M70.5 19.9v2.2m0 1.8v2.2"/>
<path stroke="#4bb062" d="M3.5 65.9v1.2M18.5 51.9v2.2M34.5 44.9v1.2M36.5 37.9v1.2m0 0.8v2.2m0 2.8v1.2m0 0.8v2.2m0 2.8v1.2M39.5 29.9v2.2m0 1.8v2.2m0 0.8v2.2m0 0.8v1.2m0 2.8v3.2m0 1.8v1.2M40.5 29.9v1.2m0 0.8v2.2m0 2.8v2.2m0 2.8v1.2M41.5 26.9v1.2m0 0.8v2.2m0 10.8v1.2m0 2.8v4.2M42.5 26.9v4.2m0 0.8v1.2m0 7.8v4.2m0 0.8v1.2M43.5 23.9v3.2m0 22.8v1.2M44.5 22.9v2.2m0 23.8v1.2M45.5 22.9v1.2m0 0.8v1.2m0 21.8v1.2M46.5 23.9v1.2m0 0.8v1.2m0 19.8v1.2M47.5 23.9v3.2m0 16.8v1.2m0 0.8v2.2M48.5 26.9v1.2m0 15.8v2.2M49.5 21.9v1.2m0 1.8v1.2m0 1.8v1.2m0 11.8v4.2M50.5 19.9v1.2m0 19.8v1.2m0 2.8v2.2M51.5 25.9v2.2m0 7.8v1.2m0 0.8v1.2M52.5 18.9v1.2m0 25.8v3.2M53.5 39.9v3.2m0 0.8v1.2M54.5 41.9v1.2m0 0.8v1.2M55.5 43.9v1.2m0 2.8v1.2M56.5 21.9v1.2m0 0.8v3.2m0 7.8v2.2M57.5 22.9v1.2m0 0.8v1.2m0 5.8v1.2m0 0.8v4.2M58.5 19.9v1.2m0 0.8v1.2m0 1.8v1.2m0 0.8v1.2m0 0.8v3.2m0 0.8v1.2m0 1.8v1.2M59.5 20.9v2.2m0 12.8v1.2M60.5 22.9v2.2m0 5.8v1.2m0 0.8v1.2M63.5 25.9v3.2m0 3.8v1.2M64.5 20.9v2.2m0 2.8v1.2m0 1.8v3.2M65.5 24.9v1.2m0 0.8v1.2m0 1.8v1.2M70.5 21.9v2.2m0 1.8v1.2m0 1.8v1.2"/>
<path stroke="#349d52" d="M36.5 36.9v1.2m0 4.8v2.2m0 0.8v1.2M39.5 32.9v1.2m0 1.8v1.2m0 1.8v1.2m0 0.8v2.2M40.5 33.9v3.2m0 3.8v1.2m0 2.8v1.2M41.5 27.9v1.2m0 14.8v2.2M42.5 30.9v1.2m0 0.8v2.2M43.5 44.9v1.2m0 1.8v1.2M44.5 24.9v1.2m0 0.8v1.2m0 17.8v3.2M45.5 25.9v1.2m0 17.8v3.2M46.5 40.9v1.2m0 0.8v1.2m0 0.8v2.2M47.5 28.9v2.2m0 7.8v1.2m0 0.8v3.2M48.5 23.9v2.2m0 12.8v1.2m0 2.8v1.2M49.5 25.9v1.2m0 1.8v1.2m0 7.8v2.2M50.5 18.9v1.2m0 0.8v1.2m0 0.8v1.2M51.5 27.9v1.2m0 0.8v3.2m0 0.8v2.2m0 3.8v1.2M53.5 23.9v1.2m0 12.8v2.2M54.5 21.9v1.2m0 15.8v1.2m0 0.8v1.2M55.5 18.9v1.2m0 21.8v2.2M56.5 26.9v3.2m0 0.8v1.2m0 0.8v2.2M57.5 23.9v1.2m0 0.8v2.2m0 0.8v3.2m0 0.8v1.2M58.5 23.9v1.2m0 0.8v1.2M59.5 29.9v1.2m0 2.8v2.2M60.5 25.9v1.2m0 0.8v3.2m0 0.8v1.2M64.5 26.9v1.2"/>
<path stroke="#208943" d="M41.5 31.9v3.2m0 4.8v2.2m0 0.8v1.2M42.5 34.9v1.2m0 0.8v1.2m0 0.8v1.2M43.5 26.9v2.2m0 0.8v1.2m0 14.8v2.2M44.5 27.9v1.2m0 15.8v1.2m0 3.8v1.2M45.5 27.9v2.2M46.5 24.9v1.2m0 0.8v3.2m0 11.8v1.2m0 0.8v1.2M47.5 26.9v2.2M48.5 25.9v1.2m0 1.8v1.2m0 6.8v2.2m0 0.8v2.2M49.5 26.9v1.2m0 1.8v2.2m0 0.8v2.2m0 1.8v1.2M50.5 21.9v1.2m0 2.8v1.2m0 12.8v1.2m0 0.8v3.2M51.5 28.9v1.2m0 2.8v1.2M52.5 20.9v2.2m0 19.8v3.2M53.5 24.9v2.2m0 1.8v1.2M54.5 39.9v1.2M55.5 19.9v1.2m0 17.8v2.2M56.5 29.9v1.2m0 0.8v1.2M57.5 27.9v1.2M59.5 22.9v3.2m0 6.8v1.2M60.5 24.9v1.2m0 0.8v1.2M64.5 27.9v1.2"/>
<path stroke="#0a7533" d="M41.5 34.9v5.2M42.5 35.9v1.2m0 0.8v1.2M43.5 28.9v1.2m0 0.8v1.2m0 10.8v1.2M44.5 28.9v1.2m0 8.8v1.2m0 3.8v1.2M45.5 26.9v1.2m0 2.8v1.2m0 9.8v1.2m0 0.8v1.2M46.5 37.9v3.2M47.5 34.9v1.2m0 1.8v1.2m0 0.8v1.2M48.5 32.9v4.2m0 4.8v1.2M49.5 31.9v1.2m0 1.8v2.2M50.5 23.9v2.2m0 9.8v1.2M52.5 23.9v1.2m0 16.8v1.2M53.5 27.9v1.2m0 5.8v3.2M54.5 20.9v1.2m0 0.8v1.2m0 13.8v1.2M55.5 40.9v1.2M59.5 25.9v3.2m0 1.8v1.2"/>
<path stroke="#005e26" d="M43.5 33.9v1.2m0 0.8v2.2m0 1.8v3.2M44.5 29.9v5.2m0 4.8v2.2m0 0.8v1.2M45.5 29.9v1.2m0 1.8v1.2m0 4.8v1.2m0 0.8v1.2M46.5 29.9v1.2m0 0.8v3.2M47.5 30.9v4.2m0 0.8v2.2M48.5 29.9v2.2M50.5 36.9v3.2M52.5 38.9v3.2M53.5 26.9v1.2m0 2.8v1.2m0 1.8v1.2M54.5 23.9v1.2m0 9.8v1.2M55.5 21.9v1.2m0 8.8v1.2m0 3.8v1.2M59.5 28.9v1.2m0 1.8v1.2"/>
<path stroke="#00441b" d="M43.5 32.9v1.2m0 0.8v1.2m0 1.8v2.2M44.5 34.9v4.2M45.5 31.9v1.2m0 0.8v1.2m0 0.8v3.2m0 0.8v1.2M46.5 30.9v1.2m0 2.8v3.2M50.5 27.9v8.2M52.5 22.9v1.2m0 0.8v14.2M53.5 29.9v1.2m0 0.8v2.2M54.5 24.9v10.2m0 0.8v2.2M55.5 22.9v9.2m0 0.8v4.2m0 0.8v1.2"/>
</g>
<g fill="#000">
<circle cx="168.9" cy="112.8" r="1.25"/>
<circle cx="175.8" cy="118.1" r="1.25"/>
<circle cx="173.0" cy="123.9" r="1.25"/>
<circle cx="181.6" cy="131.1" r="1.25"/>
<circle cx="185.7" cy="135.4" r="1.25"/>
<circle cx="174.2" cy="141.8" r="1.25"/>
<circle cx="177.0" cy="143.8" r="1.25"/>
<circle cx="170.0" cy="150.2" r="1.25"/>
<circle cx="180.0" cy="153.6" r="1.25"/>
<circle cx="191.1" cy="163.2" r="1.25"/>
<circle cx="188.8" cy="114.6" r="1.25"/>
<circle cx="193.4" cy="112.8" r="1.25"/>
<circle cx="197.5" cy="118.1" r="1.25"/>
<circle cx="194.1" cy="123.0" r="1.25"/>
<circle cx="198.7" cy="125.0" r="1.25"/>
<circle cx="200.2" cy="112.8" r="1.25"/>
<circle cx="202.1" cy="110.9" r="1.25"/>
<circle cx="207.1" cy="113.2" r="1.25"/>
<circle cx="208.6" cy="109.7" r="1.25"/>
<circle cx="210.2" cy="106.6" r="1.25"/>
<circle cx="214.8" cy="107.9" r="1.25"/>
<circle cx="217.1" cy="110.5" r="1.25"/>
<circle cx="218.9" cy="105.9" r="1.25"/>
<circle cx="221.3" cy="108.6" r="1.25"/>
<circle cx="222.9" cy="99.8" r="1.25"/>
<circle cx="225.9" cy="95.5" r="1.25"/>
<circle cx="212.9" cy="122.4" r="1.25"/>
<circle cx="211.2" cy="128.1" r="1.25"/>
<circle cx="229.0" cy="95.9" r="1.25"/>
<circle cx="232.5" cy="94.8" r="1.25"/>
<circle cx="237.4" cy="95.9" r="1.25"/>
<circle cx="227.0" cy="107.1" r="1.25"/>
<circle cx="229.7" cy="112.6" r="1.25"/>
<circle cx="234.6" cy="109.1" r="1.25"/>
<circle cx="236.0" cy="105.7" r="1.25"/>
<circle cx="238.8" cy="101.5" r="1.25"/>
<circle cx="240.9" cy="100.1" r="1.25"/>
<circle cx="242.5" cy="101.8" r="1.25"/>
<circle cx="245.0" cy="95.2" r="1.25"/>
<circle cx="246.2" cy="98.7" r="1.25"/>
<circle cx="249.2" cy="91.7" r="1.25"/>
<circle cx="252.0" cy="90.6" r="1.25"/>
<circle cx="255.5" cy="93.8" r="1.25"/>
<circle cx="257.3" cy="99.4" r="1.25"/>
<circle cx="260.4" cy="85.5" r="1.25"/>
<circle cx="262.9" cy="79.5" r="1.25"/>
<circle cx="265.2" cy="98.0" r="1.25"/>
<circle cx="268.0" cy="75.3" r="1.25"/>
<circle cx="269.8" cy="77.6" r="1.25"/>
<circle cx="268.7" cy="83.1" r="1.25"/>
<circle cx="277.1" cy="81.7" r="1.25"/>
</g>
<line x1="168.40" y1="136.50" x2="276.40" y2="79.90" stroke="#000" stroke-width="1.1" stroke-dasharray="6 1.4"/>
<rect x="161.85" y="14.4" width="125.0" height="20.80" rx="1" fill="none" stroke="#333" stroke-width="0.9"/>
<text x="224.35" y="27.90" font-size="8.9" text-anchor="middle" >CD8<tspan dy="-3.2" font-size="5.6">+</tspan><tspan dy="3.2"> T cells</tspan></text>
<line x1="162.10" y1="41.30" x2="162.10" y2="199.40" stroke="#555555" stroke-width="1.0" />
<line x1="161.85" y1="199.00" x2="284.19" y2="199.00" stroke="#777" stroke-width="1.0" />
<line x1="158.85" y1="191.70" x2="161.85" y2="191.70" stroke="#555555" stroke-width="0.8" />
<line x1="158.85" y1="155.90" x2="161.85" y2="155.90" stroke="#555555" stroke-width="0.8" />
<line x1="177.09" y1="199.00" x2="177.09" y2="202.00" stroke="#555555" stroke-width="0.8" />
<text x="177.09" y="210.60" font-size="7.3" text-anchor="middle" textLength="8.3" lengthAdjust="spacingAndGlyphs" >25</text>
<line x1="158.85" y1="120.10" x2="161.85" y2="120.10" stroke="#555555" stroke-width="0.8" />
<line x1="212.69" y1="199.00" x2="212.69" y2="202.00" stroke="#555555" stroke-width="0.8" />
<text x="212.69" y="210.60" font-size="7.3" text-anchor="middle" textLength="8.3" lengthAdjust="spacingAndGlyphs" >50</text>
<line x1="158.85" y1="84.30" x2="161.85" y2="84.30" stroke="#555555" stroke-width="0.8" />
<line x1="248.29" y1="199.00" x2="248.29" y2="202.00" stroke="#555555" stroke-width="0.8" />
<text x="248.29" y="210.60" font-size="7.3" text-anchor="middle" textLength="8.3" lengthAdjust="spacingAndGlyphs" >75</text>
<line x1="158.85" y1="48.50" x2="161.85" y2="48.50" stroke="#555555" stroke-width="0.8" />
<line x1="283.89" y1="199.00" x2="283.89" y2="202.00" stroke="#555555" stroke-width="0.8" />
<text x="283.89" y="210.60" font-size="7.3" text-anchor="middle" textLength="12.9" lengthAdjust="spacingAndGlyphs" >100</text>
<text x="169.55" y="48.90" font-size="7.1" textLength="74.3" lengthAdjust="spacingAndGlyphs"><tspan font-style="italic">R</tspan> = 0.87, <tspan font-style="italic">P</tspan> &lt; 2.2 × 10<tspan dy="-3.4" font-size="4.6">−16</tspan></text>
<text x="227.10" y="225.90" font-size="9.2" text-anchor="middle" textLength="100.2" lengthAdjust="spacingAndGlyphs" >Actual chronological age</text>
<text x="226.90" y="235.20" font-size="9.2" text-anchor="middle" textLength="26.5" lengthAdjust="spacingAndGlyphs" >(years)</text>
<g transform="translate(297.96 48.50) scale(1.424 1.432)" fill="none" stroke-width="1.08">
<path stroke="#e9f2fb" d="M0.5 10.9v1.2m0 1.8v1.2m0 0.8v1.2m0 57.8v1.2m0 6.8v1.2m0 0.8v4.2m0 0.8v1.2M1.5 14.9v1.2m0 0.8v2.2m0 0.8v1.2m0 0.8v1.2m0 63.8v3.2m0 0.8v1.2M2.5 13.9v1.2m0 72.8v2.2M3.5 14.9v1.2m0 5.8v1.2m0 2.8v1.2m0 59.8v1.2m0 0.8v1.2m0 0.8v1.2m0 0.8v1.2M4.5 14.9v2.2m0 73.8v2.2m0 2.8v1.2M5.5 16.9v1.2m0 0.8v1.2m0 58.8v1.2m0 10.8v1.2m0 2.8v1.2m0 2.8v1.2M6.5 89.9v1.2M7.5 56.9v1.2m0 6.8v1.2m0 4.8v1.2m0 16.8v1.2M8.5 15.9v1.2m0 71.8v1.2m0 0.8v4.2M9.5 30.9v1.2M10.5 24.9v3.2m0 2.8v1.2m0 52.8v1.2m0 2.8v2.2m0 1.8v2.2M12.5 39.9v1.2m0 13.8v1.2m0 12.8v2.2m0 2.8v1.2m0 1.8v1.2m0 2.8v2.2M13.5 56.9v1.2m0 15.8v1.2m0 9.8v1.2M14.5 23.9v1.2m0 2.8v1.2m0 57.8v1.2m0 2.8v1.2m0 0.8v2.2m0 1.8v2.2M15.5 12.9v1.2m0 2.8v1.2m0 72.8v2.2m0 1.8v1.2M16.5 21.9v1.2m0 72.8v1.2m0 0.8v1.2M17.5 23.9v1.2m0 1.8v1.2m0 67.8v1.2M18.5 16.9v2.2m0 3.8v1.2m0 57.8v1.2m0 3.8v1.2m0 4.8v1.2m0 1.8v1.2M19.5 19.9v1.2m0 0.8v1.2m0 1.8v1.2m0 54.8v1.2m0 0.8v1.2m0 0.8v1.2m0 3.8v3.2M22.5 11.9v2.2m0 1.8v1.2m0 0.8v1.2m0 66.8v1.2m0 0.8v2.2m0 2.8v1.2M23.5 78.9v1.2m0 3.8v1.2m0 0.8v1.2m0 1.8v1.2M24.5 68.9v1.2m0 6.8v2.2m0 2.8v1.2M25.5 78.9v1.2M26.5 19.9v1.2m0 3.8v1.2m0 54.8v1.2M27.5 27.9v1.2m0 60.8v1.2m0 0.8v2.2m0 0.8v1.2M29.5 84.9v1.2M30.5 15.9v1.2m0 60.8v1.2m0 1.8v1.2m0 0.8v1.2M32.5 16.9v2.2m0 1.8v2.2m0 49.8v1.2m0 4.8v1.2M33.5 76.9v1.2M34.5 15.9v1.2m0 65.8v1.2m0 1.8v1.2m0 0.8v1.2m0 0.8v1.2M35.5 17.9v1.2m0 71.8v1.2M36.5 66.9v1.2m0 0.8v1.2M37.5 95.9v1.2M38.5 84.9v1.2m0 1.8v1.2M39.5 89.9v1.2M40.5 77.9v1.2M41.5 63.9v1.2M42.5 73.9v1.2m0 7.8v1.2m0 2.8v1.2M43.5 79.9v1.2m0 1.8v1.2m0 1.8v1.2m0 1.8v1.2M44.5 82.9v1.2m0 1.8v4.2m0 0.8v1.2M45.5 80.9v2.2m0 0.8v1.2m0 1.8v1.2m0 0.8v1.2m0 3.8v1.2M46.5 81.9v2.2m0 1.8v1.2m0 2.8v1.2m0 0.8v3.2m0 2.8v1.2M47.5 79.9v1.2m0 1.8v2.2m0 2.8v1.2m0 2.8v2.2m0 3.8v1.2M48.5 71.9v1.2m0 10.8v2.2m0 0.8v4.2M49.5 72.9v1.2m0 6.8v4.2m0 0.8v1.2m0 1.8v1.2M50.5 77.9v1.2m0 1.8v3.2M51.5 77.9v1.2m0 1.8v1.2m0 2.8v3.2m0 3.8v1.2M52.5 69.9v1.2m0 5.8v1.2M53.5 69.9v1.2m0 0.8v1.2m0 0.8v2.2m0 0.8v1.2M54.5 71.9v1.2m0 0.8v1.2m0 2.8v1.2M55.5 76.9v1.2m0 1.8v2.2M56.5 72.9v1.2m0 0.8v1.2m0 1.8v1.2M57.5 68.9v1.2m0 1.8v2.2m0 0.8v1.2M58.5 68.9v1.2m0 1.8v2.2M59.5 70.9v1.2m0 0.8v1.2M60.5 71.9v1.2m0 1.8v1.2M61.5 66.9v1.2m0 1.8v2.2m0 1.8v1.2m0 1.8v1.2M62.5 9.9v1.2m0 55.8v1.2m0 7.8v1.2M63.5 57.9v1.2m0 3.8v2.2m0 0.8v2.2M64.5 61.9v1.2m0 3.8v1.2m0 2.8v1.2M65.5 14.9v1.2m0 4.8v1.2m0 30.8v1.2m0 3.8v1.2m0 4.8v3.2m0 1.8v1.2M66.5 13.9v1.2m0 46.8v1.2m0 1.8v1.2M68.5 43.9v1.2m0 2.8v1.2m0 1.8v1.2M69.5 56.9v1.2m0 0.8v1.2M70.5 58.9v1.2M72.5 53.9v1.2m0 0.8v1.2M73.5 20.9v1.2m0 30.8v1.2m0 1.8v3.2M76.5 26.9v4.2m0 0.8v1.2m0 22.8v1.2M77.5 31.9v1.2m0 13.8v1.2M78.5 26.9v2.2m0 0.8v1.2m0 13.8v1.2"/>
<path stroke="#d9e8f5" d="M0.5 12.9v1.2m0 2.8v1.2m0 1.8v3.2m0 0.8v1.2m0 2.8v1.2m0 43.8v2.2m0 1.8v1.2m0 2.8v2.2m0 0.8v1.2m0 3.8v1.2M1.5 13.9v1.2m0 3.8v1.2m0 3.8v1.2m0 0.8v2.2m0 52.8v2.2m0 0.8v3.2m0 7.8v1.2M2.5 7.9v2.2m0 2.8v1.2m0 2.8v1.2m0 58.8v1.2m0 6.8v3.2m0 1.8v1.2m0 3.8v1.2M3.5 16.9v2.2m0 0.8v2.2m0 0.8v3.2m0 0.8v2.2m0 36.8v1.2m0 5.8v1.2m0 7.8v3.2m0 0.8v1.2m0 0.8v1.2m0 0.8v1.2m0 0.8v1.2M4.5 17.9v1.2m0 0.8v2.2m0 1.8v1.2m0 58.8v1.2m0 0.8v2.2m0 0.8v1.2M5.5 9.9v1.2m0 0.8v1.2m0 0.8v2.2m0 1.8v1.2m0 5.8v1.2m0 1.8v1.2m0 5.8v1.2m0 37.8v2.2m0 3.8v1.2m0 4.8v5.2m0 0.8v3.2M6.5 13.9v1.2m0 1.8v1.2m0 0.8v1.2m0 1.8v1.2m0 1.8v1.2m0 59.8v3.2M7.5 35.9v2.2m0 7.8v1.2m0 10.8v1.2m0 6.8v1.2m0 17.8v1.2M8.5 16.9v1.2m0 1.8v2.2m0 0.8v1.2m0 52.8v1.2m0 4.8v2.2m0 2.8v1.2m0 7.8v1.2m0 0.8v1.2M9.5 27.9v1.2m0 9.8v1.2m0 29.8v1.2m0 7.8v1.2M10.5 21.9v1.2m0 9.8v1.2m0 37.8v1.2m0 1.8v1.2m0 10.8v1.2M11.5 20.9v1.2m0 65.8v4.2m0 0.8v1.2M12.5 55.9v2.2m0 0.8v1.2M13.5 43.9v2.2m0 5.8v1.2m0 4.8v1.2m0 5.8v1.2m0 5.8v1.2M14.5 24.9v3.2m0 1.8v1.2m0 1.8v1.2m0 4.8v1.2m0 39.8v3.2m0 0.8v1.2m0 3.8v1.2m0 1.8v1.2M15.5 15.9v1.2m0 0.8v2.2m0 0.8v1.2m0 0.8v1.2m0 55.8v1.2m0 2.8v1.2m0 0.8v3.2m0 0.8v1.2m0 1.8v1.2m0 1.8v2.2M16.5 15.9v1.2m0 1.8v2.2m0 7.8v1.2m0 55.8v1.2m0 1.8v1.2m0 4.8v1.2m0 2.8v1.2M17.5 31.9v1.2m0 52.8v1.2m0 0.8v1.2m0 4.8v1.2M18.5 23.9v4.2m0 54.8v1.2m0 0.8v2.2m0 1.8v1.2M19.5 17.9v2.2m0 2.8v2.2m0 1.8v1.2m0 1.8v1.2m0 1.8v1.2m0 40.8v1.2m0 0.8v1.2m0 1.8v1.2m0 2.8v1.2m0 0.8v2.2M20.5 33.9v1.2m0 6.8v1.2m0 10.8v1.2m0 9.8v1.2m0 11.8v1.2M21.5 26.9v1.2m0 60.8v2.2m0 1.8v1.2M22.5 13.9v1.2m0 1.8v1.2m0 1.8v4.2m0 0.8v1.2m0 0.8v1.2m0 38.8v1.2m0 5.8v1.2m0 2.8v2.2m0 2.8v2.2m0 1.8v1.2M23.5 17.9v3.2m0 2.8v2.2m0 46.8v3.2m0 0.8v2.2m0 0.8v4.2m0 0.8v1.2m0 0.8v2.2M24.5 22.9v1.2m0 1.8v1.2m0 1.8v2.2m0 0.8v1.2m0 22.8v1.2m0 15.8v1.2m0 0.8v1.2m0 2.8v3.2m0 2.8v1.2M25.5 31.9v1.2m0 2.8v1.2m0 4.8v1.2m0 6.8v1.2m0 5.8v1.2m0 4.8v1.2m0 6.8v1.2m0 3.8v1.2m0 2.8v1.2M26.5 23.9v1.2m0 3.8v2.2m0 2.8v1.2m0 41.8v4.2m0 0.8v2.2m0 0.8v3.2M27.5 26.9v1.2m0 51.8v1.2m0 1.8v2.2m0 3.8v1.2m0 0.8v1.2M28.5 87.9v2.2M29.5 20.9v1.2m0 51.8v1.2m0 3.8v1.2m0 0.8v1.2m0 1.8v1.2M30.5 13.9v1.2m0 2.8v2.2m0 1.8v1.2m0 49.8v1.2m0 0.8v3.2m0 0.8v2.2M31.5 26.9v1.2m0 3.8v1.2M32.5 24.9v1.2m0 41.8v1.2m0 0.8v1.2m0 2.8v2.2m0 0.8v2.2m0 0.8v2.2m0 1.8v1.2M33.5 24.9v1.2m0 48.8v1.2m0 1.8v3.2M34.5 16.9v1.2m0 0.8v1.2m0 0.8v1.2m0 48.8v1.2m0 1.8v1.2m0 8.8v2.2m0 2.8v1.2M35.5 13.9v1.2m0 0.8v2.2m0 2.8v1.2m0 59.8v1.2m0 0.8v3.2m0 0.8v1.2m0 0.8v1.2M36.5 45.9v1.2m0 9.8v1.2m0 12.8v1.2M37.5 10.9v1.2m0 0.8v1.2m0 1.8v1.2m0 68.8v2.2m0 0.8v2.2m0 1.8v1.2M38.5 78.9v1.2m0 1.8v1.2m0 0.8v1.2m0 3.8v4.2M39.5 86.9v1.2m0 0.8v1.2M40.5 75.9v1.2m0 2.8v1.2m0 2.8v4.2M41.5 76.9v1.2M42.5 74.9v6.2m0 2.8v2.2M43.5 9.9v1.2m0 54.8v1.2m0 5.8v1.2m0 0.8v2.2m0 0.8v2.2m0 0.8v2.2m0 0.8v2.2M44.5 65.9v1.2m0 1.8v1.2m0 6.8v1.2m0 2.8v1.2m0 1.8v1.2m0 4.8v1.2m0 0.8v1.2M45.5 10.9v1.2m0 55.8v1.2m0 2.8v1.2m0 4.8v3.2m0 3.8v2.2m0 2.8v1.2M46.5 -0.1v3.2m0 1.8v1.2m0 60.8v1.2m0 5.8v1.2m0 1.8v1.2m0 0.8v2.2m0 2.8v2.2m0 0.8v2.2m0 1.8v1.2M47.5 70.9v6.2m0 0.8v1.2m0 1.8v2.2m0 1.8v2.2m0 1.8v2.2M48.5 68.9v2.2m0 3.8v3.2m0 1.8v4.2m0 1.8v1.2M49.5 59.9v1.2m0 4.8v1.2m0 6.8v1.2m0 0.8v1.2m0 2.8v1.2m0 3.8v1.2M50.5 59.9v1.2m0 1.8v1.2m0 1.8v1.2m0 2.8v1.2m0 1.8v1.2m0 5.8v1.2m0 2.8v3.2M51.5 56.9v1.2m0 2.8v1.2m0 9.8v3.2m0 0.8v1.2m0 1.8v1.2m0 1.8v3.2m0 2.8v1.2m0 1.8v1.2M52.5 58.9v1.2m0 4.8v1.2m0 1.8v2.2m0 3.8v3.2m0 0.8v3.2M53.5 56.9v1.2m0 1.8v1.2m0 1.8v2.2m0 3.8v1.2m0 5.8v1.2m0 0.8v2.2M54.5 54.9v1.2m0 3.8v1.2m0 1.8v3.2m0 2.8v2.2m0 1.8v1.2m0 0.8v3.2m0 1.8v1.2M55.5 70.9v5.2M56.5 57.9v1.2m0 7.8v3.2m0 5.8v2.2m0 0.8v1.2m0 0.8v2.2M57.5 60.9v1.2m0 3.8v1.2m0 3.8v1.2m0 1.8v1.2M58.5 67.9v1.2m0 0.8v2.2M59.5 60.9v1.2m0 0.8v1.2m0 0.8v3.2m0 1.8v1.2m0 0.8v1.2M60.5 68.9v1.2m0 2.8v1.2M61.5 13.9v1.2m0 47.8v1.2m0 0.8v1.2m0 6.8v1.2m0 0.8v1.2M62.5 64.9v2.2m0 0.8v1.2M63.5 20.9v1.2m0 37.8v1.2m0 3.8v1.2m0 2.8v1.2M64.5 12.9v1.2m0 42.8v1.2m0 4.8v4.2m0 0.8v1.2M65.5 13.9v1.2m0 23.8v1.2m0 3.8v1.2m0 3.8v2.2m0 4.8v1.2m0 1.8v1.2m0 0.8v1.2m0 7.8v1.2M66.5 9.9v1.2m0 1.8v1.2m0 0.8v1.2m0 0.8v1.2m0 23.8v1.2m0 14.8v4.2m0 0.8v2.2m0 0.8v1.2M67.5 56.9v1.2m0 0.8v1.2M68.5 25.9v1.2m0 6.8v1.2m0 7.8v1.2m0 1.8v1.2m0 2.8v1.2M69.5 48.9v1.2m0 1.8v1.2m0 0.8v3.2m0 0.8v1.2M70.5 53.9v2.2m0 0.8v1.2M71.5 26.9v1.2m0 27.8v3.2M72.5 57.9v1.2M73.5 22.9v1.2m0 29.8v2.2m0 2.8v1.2M74.5 32.9v1.2m0 7.8v1.2m0 0.8v1.2M75.5 34.9v1.2m0 1.8v1.2m0 0.8v2.2m0 1.8v1.2m0 5.8v1.2M76.5 33.9v1.2m0 0.8v1.2m0 16.8v2.2M77.5 34.9v1.2M78.5 30.9v1.2m0 1.8v1.2m0 1.8v1.2m0 7.8v3.2"/>
<path stroke="#cadef0" d="M0.5 11.9v1.2m0 1.8v1.2m0 1.8v2.2m0 2.8v1.2m0 1.8v2.2m0 2.8v2.2m0 7.8v1.2m0 10.8v1.2m0 3.8v1.2m0 5.8v2.2m0 0.8v2.2m0 0.8v1.2m0 3.8v1.2m0 0.8v2.2M1.5 20.9v1.2m0 0.8v1.2m0 0.8v1.2m0 1.8v1.2m0 0.8v1.2m0 37.8v3.2m0 0.8v1.2m0 1.8v5.2M2.5 14.9v2.2m0 1.8v1.2m0 1.8v2.2m0 0.8v1.2m0 52.8v6.2M3.5 28.9v1.2m0 0.8v3.2m0 15.8v1.2m0 6.8v1.2m0 3.8v1.2m0 3.8v1.2m0 0.8v3.2m0 0.8v1.2m0 0.8v1.2m0 0.8v4.2m0 2.8v1.2M4.5 21.9v2.2m0 0.8v1.2m0 0.8v2.2m0 48.8v4.2m0 0.8v1.2m0 0.8v1.2m0 1.8v1.2m0 0.8v1.2M5.5 19.9v4.2m0 6.8v2.2m0 5.8v1.2m0 11.8v1.2m0 4.8v1.2m0 6.8v1.2m0 2.8v1.2m0 4.8v2.2m0 2.8v1.2m0 0.8v3.2M6.5 19.9v2.2m0 0.8v1.2m0 1.8v2.2m0 51.8v4.2m0 0.8v1.2M7.5 69.9v1.2M8.5 21.9v1.2m0 0.8v5.2m0 1.8v1.2m0 0.8v1.2m0 30.8v1.2m0 3.8v2.2m0 1.8v3.2m0 0.8v1.2m0 1.8v2.2m0 1.8v3.2m0 1.8v1.2M9.5 28.9v1.2m0 15.8v1.2m0 4.8v1.2m0 2.8v1.2m0 6.8v1.2m0 11.8v1.2m0 3.8v1.2M10.5 27.9v3.2m0 0.8v1.2m0 0.8v1.2m0 0.8v1.2m0 0.8v3.2m0 6.8v1.2m0 8.8v1.2m0 0.8v1.2m0 5.8v1.2m0 0.8v1.2m0 3.8v1.2m0 2.8v7.2m0 0.8v1.2M11.5 22.9v1.2m0 0.8v1.2m0 0.8v2.2m0 49.8v2.2m0 1.8v1.2m0 0.8v2.2M12.5 34.9v1.2M13.5 37.9v2.2m0 14.8v1.2m0 3.8v1.2M14.5 33.9v2.2m0 4.8v1.2m0 0.8v1.2m0 9.8v1.2m0 4.8v1.2m0 10.8v2.2m0 1.8v1.2m0 0.8v1.2m0 3.8v1.2m0 1.8v1.2m0 2.8v1.2M15.5 14.9v1.2m0 3.8v1.2m0 0.8v1.2m0 0.8v1.2m0 0.8v3.2m0 45.8v5.2m0 0.8v2.2m0 1.8v1.2m0 2.8v1.2M16.5 22.9v1.2m0 0.8v4.2m0 44.8v1.2m0 6.8v1.2m0 4.8v1.2m0 1.8v4.2m0 1.8v1.2M17.5 22.9v1.2m0 3.8v4.2m0 0.8v1.2m0 2.8v1.2m0 38.8v3.2m0 1.8v1.2m0 1.8v1.2m0 0.8v1.2m0 0.8v4.2m0 1.8v1.2m0 0.8v1.2M18.5 21.9v1.2m0 10.8v1.2m0 38.8v4.2m0 1.8v2.2m0 1.8v1.2m0 2.8v1.2M19.5 20.9v1.2m0 3.8v1.2m0 0.8v2.2m0 0.8v1.2m0 26.8v1.2m0 0.8v1.2m0 6.8v2.2m0 0.8v1.2m0 0.8v1.2m0 0.8v1.2m0 0.8v2.2m0 1.8v1.2M20.5 44.9v1.2m0 3.8v1.2m0 21.8v1.2M21.5 85.9v1.2m0 3.8v1.2m0 1.8v1.2M22.5 14.9v1.2m0 11.8v1.2m0 0.8v1.2m0 8.8v1.2m0 8.8v1.2m0 12.8v1.2m0 4.8v1.2m0 0.8v2.2m0 0.8v3.2m0 1.8v2.2M23.5 20.9v1.2m0 0.8v1.2m0 1.8v3.2m0 4.8v1.2m0 22.8v1.2m0 7.8v3.2m0 1.8v1.2m0 2.8v1.2M24.5 23.9v1.2m0 2.8v1.2m0 1.8v1.2m0 1.8v1.2m0 0.8v1.2m0 0.8v1.2m0 12.8v1.2m0 1.8v1.2m0 2.8v1.2m0 3.8v3.2m0 0.8v1.2m0 0.8v3.2m0 0.8v1.2m0 0.8v1.2M25.5 27.9v1.2m0 11.8v1.2m0 9.8v1.2m0 2.8v1.2M26.5 25.9v3.2m0 1.8v1.2m0 17.8v1.2m0 4.8v1.2m0 2.8v1.2m0 3.8v4.2m0 0.8v1.2m0 2.8v2.2M27.5 28.9v2.2m0 33.8v1.2m0 11.8v1.2m0 2.8v1.2m0 2.8v3.2M28.5 22.9v1.2m0 51.8v1.2m0 1.8v4.2m0 0.8v1.2M29.5 18.9v2.2m0 0.8v1.2m0 51.8v2.2m0 0.8v1.2m0 0.8v1.2M30.5 14.9v1.2m0 3.8v2.2m0 0.8v1.2m0 0.8v1.2m0 40.8v1.2m0 0.8v4.2m0 0.8v1.2m0 8.8v1.2M31.5 43.9v1.2M32.5 14.9v1.2m0 2.8v2.2m0 1.8v2.2m0 34.8v1.2m0 7.8v1.2m0 0.8v2.2m0 2.8v1.2M33.5 25.9v1.2m0 38.8v1.2m0 2.8v5.2m0 0.8v1.2M34.5 21.9v1.2m0 6.8v1.2m0 34.8v1.2m0 0.8v3.2m0 1.8v1.2m0 0.8v8.2m0 3.8v1.2M35.5 73.9v1.2m0 2.8v2.2m0 6.8v1.2m0 0.8v1.2M36.5 30.9v1.2m0 11.8v1.2m0 10.8v1.2m0 1.8v1.2m0 9.8v1.2M37.5 7.9v1.2m0 5.8v1.2m0 0.8v2.2m0 56.8v1.2m0 0.8v1.2m0 0.8v1.2m0 0.8v4.2m0 1.8v1.2M38.5 70.9v1.2m0 2.8v2.2m0 0.8v1.2m0 3.8v1.2m0 1.8v2.2m0 4.8v1.2M39.5 17.9v1.2m0 48.8v1.2m0 6.8v1.2m0 5.8v3.2m0 1.8v1.2m0 1.8v1.2M40.5 11.9v1.2m0 65.8v1.2m0 0.8v3.2M41.5 47.9v1.2m0 10.8v1.2M42.5 9.9v1.2m0 2.8v1.2m0 47.8v1.2m0 1.8v2.2m0 0.8v2.2m0 0.8v2.2M43.5 62.9v2.2m0 2.8v5.2m0 0.8v1.2m0 1.8v1.2m0 8.8v1.2M44.5 12.9v1.2m0 46.8v3.2m0 3.8v1.2m0 2.8v1.2m0 0.8v2.2m0 1.8v1.2m0 0.8v1.2M45.5 12.9v1.2m0 50.8v1.2m0 0.8v1.2m0 0.8v3.2m0 0.8v2.2m0 0.8v2.2m0 4.8v1.2m0 3.8v1.2M46.5 5.9v1.2m0 51.8v2.2m0 0.8v1.2m0 0.8v1.2m0 3.8v3.2m0 0.8v1.2m0 0.8v2.2m0 11.8v1.2M47.5 8.9v2.2m0 54.8v1.2m0 1.8v2.2m0 5.8v1.2m0 0.8v1.2m0 6.8v1.2M48.5 62.9v1.2m0 0.8v1.2m0 0.8v1.2m0 2.8v1.2m0 0.8v2.2m0 2.8v2.2M49.5 54.9v1.2m0 0.8v2.2m0 2.8v1.2m0 0.8v2.2m0 0.8v3.2m0 1.8v1.2m0 3.8v3.2M50.5 54.9v1.2m0 2.8v1.2m0 1.8v1.2m0 0.8v2.2m0 2.8v1.2m0 0.8v2.2m0 0.8v1.2m0 0.8v1.2m0 1.8v1.2M51.5 57.9v2.2m0 1.8v1.2m0 2.8v1.2m0 0.8v2.2m0 0.8v1.2m0 4.8v1.2m0 1.8v1.2m0 7.8v1.2M52.5 53.9v1.2m0 4.8v1.2m0 1.8v2.2m0 0.8v2.2m0 2.8v2.2M53.5 10.9v1.2m0 40.8v1.2m0 3.8v2.2m0 1.8v1.2m0 2.8v3.2M54.5 8.9v1.2m0 36.8v1.2m0 2.8v4.2m0 1.8v1.2m0 0.8v1.2m0 1.8v1.2m0 2.8v2.2m0 2.8v1.2M55.5 57.9v1.2m0 5.8v1.2m0 0.8v4.2m0 4.8v1.2M56.5 52.9v1.2m0 9.8v1.2m0 0.8v1.2m0 2.8v3.2m0 0.8v1.2m0 4.8v1.2M57.5 47.9v1.2m0 2.8v1.2m0 11.8v1.2m0 0.8v2.2m0 0.8v1.2M58.5 4.9v3.2m0 42.8v1.2m0 6.8v1.2m0 0.8v2.2m0 1.8v3.2M59.5 53.9v1.2m0 6.8v1.2m0 4.8v2.2M60.5 63.9v1.2m0 2.8v1.2m0 1.8v1.2M61.5 9.9v1.2m0 0.8v1.2m0 32.8v1.2m0 3.8v1.2m0 0.8v1.2m0 0.8v5.2m0 0.8v2.2m0 0.8v1.2m0 2.8v2.2m0 1.8v1.2M62.5 53.9v1.2m0 4.8v2.2m0 0.8v2.2m0 3.8v3.2M63.5 40.9v1.2m0 0.8v1.2m0 7.8v1.2m0 0.8v4.2m0 0.8v1.2m0 0.8v1.2M64.5 14.9v1.2m0 32.8v1.2m0 3.8v1.2m0 2.8v4.2M65.5 19.9v1.2m0 1.8v2.2m0 0.8v1.2m0 1.8v1.2m0 4.8v4.2m0 3.8v1.2m0 0.8v1.2m0 7.8v2.2m0 0.8v1.2m0 1.8v1.2m0 1.8v1.2m0 2.8v2.2M66.5 15.9v1.2m0 19.8v1.2m0 9.8v1.2m0 0.8v3.2m0 0.8v4.2M67.5 11.9v1.2m0 0.8v1.2m0 37.8v4.2M68.5 29.9v1.2m0 5.8v1.2M69.5 14.9v1.2m0 0.8v3.2m0 9.8v1.2m0 1.8v1.2m0 13.8v1.2m0 0.8v2.2m0 0.8v1.2M70.5 19.9v1.2M71.5 23.9v1.2m0 0.8v1.2m0 3.8v1.2m0 0.8v1.2m0 10.8v1.2m0 4.8v2.2m0 1.8v1.2M72.5 23.9v2.2m0 22.8v1.2m0 0.8v2.2m0 1.8v1.2M73.5 19.9v1.2m0 0.8v1.2m0 0.8v3.2m0 0.8v1.2m0 0.8v1.2m0 4.8v1.2m0 0.8v1.2m0 9.8v1.2m0 0.8v1.2M75.5 47.9v1.2m0 0.8v1.2M76.5 32.9v1.2m0 0.8v1.2m0 0.8v2.2m0 1.8v1.2m0 2.8v1.2m0 3.8v4.2M77.5 33.9v1.2m0 1.8v1.2m0 7.8v1.2M78.5 28.9v1.2m0 2.8v1.2m0 0.8v2.2m0 0.8v7.2"/>
<path stroke="#b4d3e9" d="M0.5 24.9v1.2m0 2.8v1.2m0 2.8v6.2m0 2.8v1.2m0 7.8v1.2m0 3.8v1.2m0 1.8v6.2m0 1.8v1.2m0 1.8v1.2m0 8.8v1.2M1.5 30.9v1.2m0 0.8v2.2m0 22.8v3.2m0 4.8v3.2m0 2.8v1.2m0 0.8v2.2m0 6.8v1.2M2.5 17.9v1.2m0 0.8v2.2m0 8.8v1.2m0 0.8v1.2m0 37.8v1.2m0 2.8v1.2m0 0.8v1.2M3.5 29.9v1.2m0 2.8v1.2m0 0.8v5.2m0 0.8v3.2m0 0.8v1.2m0 1.8v1.2m0 0.8v1.2m0 0.8v1.2m0 0.8v2.2m0 1.8v2.2m0 0.8v1.2m0 0.8v1.2m0 3.8v1.2m0 4.8v1.2m0 0.8v1.2M4.5 25.9v1.2m0 1.8v4.2m0 2.8v1.2m0 0.8v1.2m0 18.8v1.2m0 8.8v1.2m0 0.8v3.2m0 0.8v1.2m0 1.8v1.2m0 3.8v1.2M5.5 23.9v1.2m0 0.8v2.2m0 1.8v1.2m0 2.8v1.2m0 0.8v3.2m0 4.8v1.2m0 0.8v1.2m0 3.8v1.2m0 1.8v2.2m0 2.8v1.2m0 1.8v1.2m0 0.8v2.2m0 0.8v3.2m0 0.8v3.2m0 3.8v1.2M6.5 23.9v1.2m0 2.8v2.2m0 43.8v1.2m0 3.8v1.2m0 3.8v1.2M8.5 29.9v1.2m0 2.8v1.2m0 0.8v1.2m0 1.8v1.2m0 0.8v2.2m0 0.8v1.2m0 0.8v1.2m0 5.8v1.2m0 0.8v2.2m0 0.8v1.2m0 0.8v2.2m0 3.8v2.2m0 3.8v2.2m0 4.8v2.2M10.5 34.9v1.2m0 5.8v2.2m0 1.8v1.2m0 3.8v1.2m0 1.8v1.2m0 1.8v1.2m0 4.8v1.2m0 0.8v2.2m0 0.8v1.2m0 0.8v1.2m0 1.8v1.2m0 1.8v2.2M11.5 23.9v1.2m0 0.8v1.2m0 1.8v1.2m0 44.8v1.2m0 4.8v2.2m0 0.8v1.2m0 1.8v1.2M13.5 49.9v1.2m0 1.8v1.2M14.5 30.9v1.2m0 4.8v1.2m0 1.8v1.2m0 2.8v1.2m0 0.8v2.2m0 2.8v1.2m0 6.8v1.2m0 7.8v4.2m0 1.8v2.2m0 2.8v1.2m0 4.8v1.2M15.5 24.9v1.2m0 2.8v1.2m0 0.8v3.2m0 22.8v1.2m0 2.8v2.2m0 1.8v2.2m0 1.8v4.2M16.5 23.9v1.2m0 4.8v2.2m0 0.8v1.2m0 1.8v1.2m0 1.8v1.2m0 2.8v1.2m0 18.8v1.2m0 10.8v1.2m0 1.8v1.2m0 1.8v1.2m0 0.8v3.2m0 0.8v1.2m0 1.8v1.2M17.5 33.9v1.2m0 2.8v3.2m0 0.8v3.2m0 1.8v1.2m0 1.8v1.2m0 2.8v1.2m0 1.8v1.2m0 0.8v1.2m0 0.8v1.2m0 1.8v2.2m0 3.8v1.2m0 1.8v1.2m0 5.8v1.2m0 1.8v2.2M18.5 27.9v2.2m0 0.8v1.2m0 0.8v1.2m0 3.8v1.2m0 0.8v1.2m0 1.8v1.2m0 14.8v1.2m0 5.8v2.2m0 1.8v2.2m0 5.8v1.2M19.5 31.9v1.2m0 0.8v4.2m0 1.8v1.2m0 4.8v1.2m0 0.8v1.2m0 3.8v1.2m0 0.8v2.2m0 2.8v1.2m0 0.8v2.2m0 0.8v4.2m0 1.8v1.2M21.5 27.9v5.2m0 44.8v1.2m0 1.8v5.2m0 0.8v2.2m0 2.8v1.2M22.5 18.9v1.2m0 3.8v1.2m0 0.8v1.2m0 1.8v1.2m0 0.8v2.2m0 7.8v1.2m0 4.8v3.2m0 0.8v2.2m0 0.8v1.2m0 2.8v1.2m0 0.8v2.2m0 0.8v1.2m0 0.8v2.2m0 0.8v1.2m0 1.8v1.2m0 9.8v1.2M23.5 28.9v3.2m0 0.8v1.2m0 16.8v1.2m0 0.8v2.2m0 3.8v1.2m0 1.8v1.2m0 0.8v1.2m0 0.8v1.2m0 2.8v1.2M24.5 26.9v1.2m0 6.8v1.2m0 0.8v1.2m0 0.8v2.2m0 5.8v3.2m0 0.8v1.2m0 0.8v1.2m0 2.8v2.2m0 0.8v4.2m0 2.8v1.2M26.5 34.9v1.2m0 2.8v1.2m0 0.8v2.2m0 1.8v2.2m0 3.8v1.2m0 0.8v2.2m0 1.8v3.2m0 1.8v1.2m0 5.8v1.2m0 0.8v3.2m0 1.8v1.2M27.5 33.9v1.2m0 0.8v3.2m0 1.8v1.2m0 0.8v1.2m0 2.8v1.2m0 4.8v1.2m0 5.8v3.2m0 3.8v1.2m0 1.8v2.2m0 0.8v1.2m0 0.8v3.2m0 6.8v1.2M28.5 23.9v1.2m0 0.8v1.2m0 43.8v1.2m0 0.8v1.2m0 0.8v1.2m0 0.8v2.2m0 3.8v1.2M29.5 22.9v4.2m0 0.8v1.2m0 39.8v1.2M30.5 23.9v1.2m0 0.8v1.2m0 0.8v2.2m0 21.8v1.2m0 3.8v2.2m0 4.8v3.2M31.5 38.9v1.2M32.5 25.9v1.2m0 0.8v1.2m0 17.8v1.2m0 5.8v2.2m0 2.8v1.2m0 1.8v6.2M33.5 26.9v1.2m0 20.8v1.2m0 0.8v1.2m0 8.8v2.2m0 0.8v1.2m0 1.8v3.2M34.5 17.9v1.2m0 0.8v1.2m0 2.8v3.2m0 1.8v1.2m0 0.8v2.2m0 2.8v1.2m0 2.8v2.2m0 3.8v1.2m0 1.8v1.2m0 4.8v1.2m0 1.8v4.2m0 0.8v3.2m0 0.8v1.2m0 3.8v1.2M35.5 18.9v2.2m0 0.8v1.2m0 15.8v1.2m0 16.8v1.2m0 0.8v1.2m0 1.8v1.2m0 0.8v1.2m0 0.8v1.2m0 0.8v2.2m0 0.8v1.2m0 0.8v1.2m0 1.8v2.2m0 1.8v1.2M36.5 29.9v1.2M37.5 13.9v1.2m0 3.8v2.2m0 41.8v1.2m0 6.8v1.2m0 0.8v3.2m0 0.8v1.2m0 0.8v1.2M38.5 20.9v2.2m0 1.8v1.2m0 0.8v1.2m0 2.8v1.2m0 14.8v1.2m0 3.8v1.2m0 11.8v1.2m0 5.8v2.2m0 2.8v1.2m0 1.8v2.2M39.5 20.9v1.2m0 44.8v1.2m0 0.8v2.2m0 6.8v5.2m0 2.8v1.2M40.5 14.9v1.2m0 1.8v1.2m0 47.8v9.2m0 0.8v1.2M41.5 31.9v1.2M42.5 12.9v1.2m0 0.8v1.2m0 39.8v7.2m0 4.8v1.2M43.5 10.9v1.2m0 0.8v2.2m0 1.8v2.2m0 37.8v1.2m0 0.8v4.2m0 1.8v1.2m0 0.8v1.2M44.5 55.9v1.2m0 1.8v2.2m0 3.8v1.2m0 0.8v1.2m0 2.8v1.2m0 0.8v1.2m0 1.8v1.2m0 1.8v1.2m0 1.8v1.2M45.5 11.9v1.2m0 40.8v1.2m0 0.8v2.2m0 1.8v5.2m0 0.8v1.2M46.5 3.9v1.2m0 4.8v1.2m0 45.8v2.2m0 5.8v2.2m0 0.8v1.2m0 2.8v1.2m0 4.8v1.2M47.5 10.9v3.2m0 40.8v1.2m0 0.8v1.2m0 0.8v7.2m0 0.8v1.2M48.5 11.9v1.2m0 43.8v1.2m0 1.8v3.2m0 2.8v1.2m0 0.8v1.2M49.5 49.9v2.2m0 0.8v2.2m0 0.8v1.2m0 3.8v1.2m0 0.8v1.2m0 6.8v1.2M50.5 51.9v1.2m0 0.8v1.2m0 2.8v1.2m0 1.8v1.2m0 4.8v2.2m0 7.8v1.2M51.5 6.9v1.2m0 1.8v1.2m0 41.8v2.2m0 4.8v1.2m0 5.8v1.2M52.5 10.9v1.2m0 0.8v1.2m0 33.8v1.2m0 1.8v3.2m0 2.8v2.2m0 1.8v2.2M53.5 47.9v1.2m0 2.8v1.2m0 0.8v3.2m0 3.8v1.2m0 2.8v1.2m0 6.8v1.2M54.5 10.9v1.2m0 35.8v2.2m0 5.8v1.2m0 3.8v1.2m0 5.8v1.2M55.5 50.9v1.2m0 3.8v2.2m0 1.8v3.2m0 0.8v1.2M56.5 49.9v3.2m0 0.8v2.2m0 0.8v1.2m0 0.8v4.2M57.5 49.9v1.2m0 1.8v2.2m0 1.8v4.2m0 0.8v3.2M58.5 7.9v2.2m0 39.8v1.2m0 2.8v1.2m0 2.8v1.2m0 3.8v1.2M59.5 42.9v1.2m0 2.8v1.2m0 2.8v1.2m0 2.8v1.2m0 0.8v2.2m0 0.8v1.2m0 2.8v1.2M60.5 7.9v1.2m0 0.8v3.2m0 32.8v1.2m0 2.8v3.2m0 3.8v2.2m0 1.8v3.2m0 0.8v2.2M61.5 12.9v1.2m0 3.8v1.2m0 16.8v1.2m0 1.8v2.2m0 1.8v3.2m0 0.8v1.2m0 0.8v2.2m0 0.8v1.2m0 0.8v1.2m0 4.8v1.2M62.5 10.9v3.2m0 1.8v1.2m0 28.8v1.2m0 5.8v1.2m0 0.8v2.2m0 0.8v2.2m0 1.8v1.2M63.5 16.9v1.2m0 0.8v1.2m0 1.8v1.2m0 3.8v1.2m0 4.8v1.2m0 0.8v4.2m0 0.8v1.2m0 2.8v1.2m0 0.8v1.2m0 0.8v4.2m0 9.8v1.2M64.5 16.9v2.2m0 0.8v1.2m0 3.8v1.2m0 13.8v1.2m0 5.8v2.2m0 0.8v1.2m0 0.8v2.2m0 0.8v2.2M65.5 16.9v1.2m0 0.8v1.2m0 1.8v1.2m0 1.8v1.2m0 0.8v2.2m0 1.8v4.2m0 4.8v3.2m0 3.8v2.2m0 1.8v2.2m0 8.8v1.2M66.5 17.9v1.2m0 0.8v2.2m0 1.8v1.2m0 1.8v1.2m0 5.8v2.2m0 1.8v2.2m0 0.8v1.2m0 0.8v4.2m0 1.8v1.2m0 2.8v1.2M67.5 14.9v1.2m0 30.8v1.2m0 2.8v2.2M68.5 31.9v1.2M69.5 19.9v1.2m0 0.8v5.2m0 1.8v1.2m0 1.8v1.2m0 1.8v2.2m0 0.8v1.2m0 0.8v3.2m0 0.8v1.2m0 1.8v1.2M70.5 21.9v1.2m0 23.8v1.2m0 2.8v2.2M71.5 22.9v1.2m0 3.8v1.2m0 2.8v1.2m0 0.8v2.2m0 1.8v1.2m0 2.8v1.2m0 0.8v1.2m0 0.8v2.2m0 0.8v2.2m0 1.8v2.2M72.5 25.9v2.2m0 1.8v1.2m0 8.8v1.2M73.5 26.9v1.2m0 0.8v1.2m0 0.8v2.2m0 0.8v2.2m0 6.8v1.2m0 2.8v2.2m0 0.8v1.2m0 0.8v1.2M76.5 38.9v1.2m0 2.8v1.2m0 1.8v4.2"/>
<path stroke="#99c7e0" d="M0.5 46.9v2.2m0 0.8v1.2m0 0.8v1.2m0 0.8v2.2m0 0.8v1.2m0 13.8v1.2M1.5 28.9v1.2m0 1.8v1.2m0 2.8v3.2m0 0.8v2.2m0 2.8v1.2m0 2.8v1.2m0 0.8v1.2m0 1.8v3.2m0 4.8v1.2m0 0.8v1.2M2.5 23.9v1.2m0 1.8v3.2m0 33.8v1.2m0 0.8v3.2m0 0.8v2.2m0 1.8v2.2M3.5 34.9v1.2m0 4.8v1.2m0 2.8v1.2m0 0.8v2.2m0 2.8v1.2m0 0.8v1.2m0 1.8v1.2m0 6.8v1.2m0 0.8v1.2M4.5 34.9v1.2m0 0.8v1.2m0 0.8v2.2m0 2.8v1.2m0 4.8v1.2m0 4.8v1.2m0 1.8v3.2m0 6.8v1.2m0 2.8v1.2m0 0.8v1.2M5.5 28.9v1.2m0 9.8v4.2m0 0.8v1.2m0 0.8v3.2m0 2.8v1.2m0 1.8v2.2m0 1.8v1.2m0 1.8v1.2M6.5 29.9v1.2m0 0.8v1.2m0 0.8v1.2m0 2.8v1.2m0 30.8v2.2m0 0.8v1.2m0 0.8v4.2M8.5 31.9v1.2m0 1.8v1.2m0 0.8v2.2m0 0.8v1.2m0 1.8v1.2m0 2.8v1.2m0 0.8v3.2m0 4.8v1.2m0 0.8v1.2m0 1.8v3.2m0 2.8v2.2M10.5 36.9v1.2m0 2.8v1.2m0 1.8v2.2m0 0.8v1.2m0 0.8v1.2m0 2.8v1.2m0 0.8v2.2m0 1.8v1.2m0 0.8v1.2m0 1.8v1.2m0 5.8v1.2M11.5 29.9v1.2m0 1.8v2.2m0 2.8v1.2m0 34.8v1.2m0 0.8v3.2M14.5 31.9v1.2m0 2.8v1.2m0 4.8v1.2m0 1.8v1.2m0 1.8v3.2m0 0.8v1.2m0 1.8v4.2m0 1.8v5.2m0 0.8v1.2m0 8.8v1.2M15.5 29.9v1.2m0 2.8v2.2m0 0.8v4.2m0 0.8v3.2m0 2.8v1.2m0 0.8v2.2m0 3.8v1.2m0 0.8v1.2m0 3.8v1.2m0 2.8v2.2m0 3.8v2.2M16.5 37.9v1.2m0 0.8v1.2m0 0.8v1.2m0 5.8v3.2m0 1.8v2.2m0 0.8v2.2m0 0.8v1.2m0 0.8v1.2m0 0.8v2.2m0 2.8v5.2m0 1.8v2.2m0 0.8v1.2M17.5 34.9v2.2m0 3.8v1.2m0 2.8v1.2m0 1.8v2.2m0 1.8v2.2m0 1.8v1.2m0 9.8v3.2m0 0.8v2.2m0 0.8v3.2m0 3.8v1.2M18.5 29.9v1.2m0 3.8v3.2m0 7.8v1.2m0 0.8v1.2m0 2.8v1.2m0 0.8v1.2m0 2.8v1.2m0 1.8v5.2m0 2.8v1.2m0 1.8v2.2M19.5 37.9v2.2m0 0.8v5.2m0 2.8v1.2m0 0.8v2.2m0 0.8v1.2m0 1.8v2.2m0 4.8v1.2M21.5 32.9v1.2m0 30.8v1.2m0 8.8v3.2M22.5 32.9v4.2m0 0.8v2.2m0 1.8v2.2m0 0.8v2.2m0 5.8v1.2m0 0.8v3.2m0 0.8v1.2M23.5 31.9v1.2m0 1.8v1.2m0 0.8v2.2m0 0.8v1.2m0 1.8v2.2m0 1.8v1.2m0 6.8v3.2m0 1.8v2.2m0 0.8v1.2m0 0.8v1.2m0 4.8v1.2M24.5 40.9v6.2m0 2.8v1.2M26.5 35.9v3.2m0 0.8v1.2m0 1.8v2.2m0 2.8v2.2m0 4.8v1.2m0 6.8v2.2M27.5 32.9v1.2m0 4.8v2.2m0 2.8v1.2m0 0.8v1.2m0 1.8v1.2m0 0.8v2.2m0 0.8v1.2m0 0.8v4.2m0 3.8v1.2m0 0.8v1.2m0 0.8v2.2M28.5 24.9v1.2m0 0.8v1.2m0 1.8v1.2m0 30.8v1.2m0 4.8v1.2M29.5 26.9v1.2m0 0.8v1.2m0 32.8v3.2m0 0.8v2.2m0 0.8v4.2M30.5 26.9v1.2m0 6.8v1.2m0 12.8v1.2m0 0.8v1.2m0 1.8v2.2m0 2.8v5.2m0 3.8v1.2M32.5 26.9v1.2m0 0.8v2.2m0 1.8v1.2m0 7.8v1.2m0 0.8v2.2m0 3.8v1.2m0 0.8v2.2m0 1.8v1.2m0 0.8v1.2m0 1.8v1.2M33.5 27.9v2.2m0 0.8v2.2m0 1.8v2.2m0 6.8v1.2m0 6.8v2.2m0 2.8v1.2m0 4.8v1.2M34.5 26.9v1.2m0 4.8v1.2m0 0.8v1.2m0 0.8v1.2m0 3.8v4.2m0 0.8v1.2m0 2.8v4.2m0 0.8v2.2M35.5 22.9v2.2m0 0.8v1.2m0 0.8v1.2m0 0.8v2.2m0 3.8v1.2m0 16.8v2.2m0 1.8v1.2m0 0.8v2.2m0 0.8v1.2m0 0.8v1.2m0 0.8v1.2m0 1.8v1.2m0 3.8v1.2M37.5 22.9v1.2m0 1.8v1.2m0 1.8v1.2m0 27.8v2.2m0 0.8v1.2m0 1.8v2.2m0 0.8v3.2m0 10.8v1.2M38.5 22.9v2.2m0 6.8v3.2m0 1.8v1.2m0 7.8v1.2m0 6.8v6.2m0 1.8v3.2m0 1.8v4.2m0 2.8v1.2M39.5 21.9v1.2m0 0.8v1.2m0 22.8v1.2m0 3.8v1.2m0 0.8v2.2m0 2.8v3.2m0 0.8v1.2m0 0.8v1.2m0 4.8v3.2M40.5 13.9v1.2m0 1.8v1.2m0 33.8v1.2m0 2.8v1.2m0 0.8v1.2m0 1.8v1.2m0 0.8v2.2M42.5 15.9v2.2m0 32.8v1.2m0 0.8v3.2m0 7.8v2.2M43.5 11.9v1.2m0 1.8v2.2m0 2.8v1.2m0 25.8v1.2m0 0.8v2.2m0 3.8v2.2m0 0.8v1.2M44.5 14.9v2.2m0 30.8v1.2m0 1.8v5.2m0 0.8v2.2m0 4.8v1.2m0 4.8v1.2M45.5 13.9v1.2m0 0.8v1.2m0 28.8v1.2m0 2.8v2.2m0 0.8v1.2m0 0.8v1.2m0 1.8v2.2M46.5 6.9v3.2m0 2.8v1.2m0 33.8v1.2m0 4.8v3.2m0 3.8v1.2m0 0.8v1.2M47.5 14.9v1.2m0 1.8v1.2m0 27.8v2.2m0 2.8v3.2m0 0.8v1.2m0 0.8v1.2m0 8.8v1.2M48.5 51.9v1.2m0 0.8v3.2m0 1.8v1.2m0 3.8v1.2M49.5 14.9v1.2m0 30.8v1.2m0 0.8v1.2m0 1.8v1.2M50.5 11.9v1.2m0 0.8v1.2m0 31.8v2.2m0 1.8v1.2m0 3.8v2.2M51.5 49.9v2.2m0 2.8v2.2m0 7.8v1.2M52.5 11.9v1.2m0 35.8v2.2m0 3.8v1.2M53.5 43.9v1.2m0 0.8v2.2m0 0.8v2.2M54.5 13.9v1.2m0 27.8v1.2m0 1.8v1.2m0 10.8v1.2M55.5 44.9v2.2m0 1.8v2.2m0 0.8v1.2m0 0.8v2.2m0 6.8v1.2M56.5 43.9v1.2m0 1.8v2.2m0 6.8v1.2M57.5 15.9v1.2m0 25.8v5.2m0 0.8v1.2m0 0.8v1.2m0 3.8v1.2M58.5 9.9v1.2m0 36.8v2.2m0 1.8v2.2m0 0.8v2.2M59.5 15.9v1.2m0 0.8v1.2m0 21.8v2.2m0 1.8v2.2m0 11.8v1.2M60.5 12.9v2.2m0 0.8v1.2m0 29.8v3.2m0 2.8v4.2m0 1.8v1.2M61.5 14.9v2.2m0 1.8v3.2m0 6.8v2.2m0 6.8v1.2m0 1.8v1.2m0 5.8v1.2M62.5 13.9v2.2m0 0.8v1.2m0 24.8v3.2m0 0.8v3.2m0 0.8v2.2m0 3.8v1.2M63.5 19.9v1.2m0 2.8v3.2m0 1.8v1.2m0 0.8v2.2m0 0.8v1.2m0 3.8v1.2m0 1.8v1.2m0 1.8v1.2m0 0.8v1.2M64.5 18.9v1.2m0 1.8v3.2m0 0.8v2.2m0 0.8v1.2m0 1.8v1.2m0 1.8v5.2m0 0.8v1.2m0 1.8v3.2M65.5 29.9v1.2m0 14.8v1.2M66.5 18.9v1.2m0 2.8v1.2m0 0.8v2.2m0 0.8v1.2m0 0.8v3.2M67.5 15.9v2.2m0 19.8v1.2m0 3.8v1.2m0 1.8v1.2m0 0.8v3.2M69.5 20.9v1.2m0 4.8v2.2m0 1.8v1.2m0 1.8v1.2m0 1.8v1.2m0 0.8v1.2m0 2.8v1.2m0 0.8v2.2M70.5 20.9v1.2m0 0.8v6.2m0 0.8v1.2m0 4.8v1.2m0 1.8v1.2m0 5.8v1.2m0 0.8v3.2m0 1.8v1.2M71.5 28.9v1.2m0 6.8v1.2m0 0.8v3.2m0 5.8v1.2M72.5 22.9v1.2m0 3.8v2.2m0 11.8v1.2m0 0.8v1.2m0 1.8v2.2m0 0.8v1.2M73.5 32.9v1.2m0 2.8v1.2m0 0.8v2.2m0 0.8v1.2m0 0.8v1.2M76.5 39.9v1.2m0 0.8v1.2m0 0.8v1.2"/>
<path stroke="#79b6d9" d="M0.5 38.9v2.2m0 1.8v4.2m0 1.8v1.2M1.5 34.9v1.2m0 2.8v1.2m0 1.8v3.2m0 2.8v1.2m0 0.8v1.2m0 0.8v2.2m0 6.8v1.2m0 0.8v1.2m0 0.8v1.2M2.5 25.9v1.2m0 2.8v1.2m0 0.8v1.2m0 2.8v3.2m0 7.8v1.2m0 0.8v1.2m0 3.8v1.2m0 1.8v1.2m0 0.8v2.2m0 1.8v1.2m0 0.8v1.2M3.5 60.9v1.2M4.5 33.9v1.2m0 5.8v2.2m0 3.8v1.2m0 4.8v1.2m0 0.8v1.2m0 0.8v1.2m0 4.8v5.2M5.5 49.9v1.2m0 9.8v1.2M6.5 30.9v1.2m0 26.8v1.2m0 3.8v3.2m0 0.8v1.2m0 2.8v1.2M8.5 44.9v1.2m0 7.8v1.2M10.5 49.9v1.2m0 0.8v1.2M11.5 30.9v1.2m0 2.8v3.2m0 0.8v1.2m0 24.8v2.2m0 2.8v2.2m0 0.8v1.2M14.5 52.9v1.2M15.5 35.9v1.2m0 3.8v1.2m0 9.8v4.2m0 2.8v2.2M16.5 31.9v1.2m0 0.8v1.2m0 1.8v1.2m0 2.8v1.2m0 2.8v1.2m0 0.8v2.2m0 2.8v2.2m0 1.8v1.2m0 3.8v1.2m0 3.8v3.2m0 10.8v1.2M17.5 45.9v1.2m0 3.8v1.2m0 2.8v1.2m0 3.8v1.2m0 1.8v1.2m0 1.8v1.2M18.5 38.9v1.2m0 0.8v2.2m0 0.8v2.2m0 0.8v1.2m0 0.8v3.2m0 3.8v2.2m0 9.8v1.2M21.5 33.9v2.2m0 0.8v3.2m0 18.8v1.2m0 12.8v1.2M22.5 36.9v1.2M23.5 35.9v1.2m0 1.8v1.2m0 0.8v2.2m0 1.8v1.2m0 1.8v3.2m0 0.8v1.2M26.5 51.9v1.2M27.5 34.9v1.2m0 8.8v1.2m0 8.8v1.2m0 15.8v1.2M28.5 27.9v1.2m0 25.8v1.2m0 8.8v3.2m0 0.8v2.2m0 0.8v1.2m0 0.8v1.2M29.5 30.9v2.2m0 15.8v1.2m0 0.8v2.2m0 2.8v1.2m0 0.8v2.2m0 5.8v1.2M30.5 29.9v4.2m0 3.8v3.2m0 0.8v7.2m0 0.8v1.2m0 4.8v1.2M32.5 30.9v1.2m0 1.8v7.2m0 1.8v1.2m0 1.8v1.2m0 0.8v1.2m0 7.8v1.2M33.5 29.9v1.2m0 1.8v2.2m0 3.8v3.2m0 0.8v1.2m0 0.8v4.2m0 0.8v1.2m0 4.8v1.2m0 0.8v1.2m0 0.8v1.2M34.5 33.9v1.2m0 2.8v2.2M35.5 28.9v1.2m0 1.8v3.2m0 10.8v1.2m0 1.8v1.2m0 0.8v1.2m0 3.8v1.2M37.5 23.9v2.2m0 1.8v1.2m0 1.8v1.2m0 9.8v1.2m0 0.8v2.2m0 3.8v6.2m0 0.8v1.2m0 1.8v1.2m0 4.8v1.2m0 4.8v1.2M38.5 25.9v1.2m0 1.8v2.2m0 3.8v2.2m0 0.8v1.2m0 0.8v2.2m0 2.8v1.2m0 3.8v2.2m0 0.8v1.2m0 5.8v2.2M39.5 27.9v2.2m0 13.8v1.2m0 3.8v2.2m0 0.8v1.2m0 0.8v1.2m0 2.8v2.2m0 2.8v1.2m0 0.8v1.2m0 4.8v1.2m0 4.8v1.2M40.5 47.9v1.2m0 4.8v1.2m0 1.8v1.2m0 0.8v2.2m0 3.8v1.2M42.5 17.9v2.2m0 27.8v1.2m0 0.8v1.2m0 0.8v1.2M43.5 21.9v1.2m0 20.8v1.2m0 5.8v2.2M44.5 16.9v2.2m0 29.8v2.2M45.5 17.9v1.2m0 25.8v1.2m0 0.8v3.2M46.5 10.9v2.2m0 36.8v1.2m0 0.8v2.2M47.5 13.9v1.2m0 1.8v1.2m0 27.8v1.2m0 1.8v1.2M48.5 12.9v3.2m0 30.8v5.2m0 0.8v1.2m0 3.8v1.2M49.5 15.9v2.2m0 27.8v1.2M50.5 12.9v1.2m0 1.8v1.2m0 26.8v1.2m0 0.8v1.2m0 1.8v2.2M51.5 8.9v1.2m0 0.8v3.2m0 31.8v1.2m0 1.8v1.2M52.5 14.9v1.2m0 1.8v1.2m0 23.8v5.2M53.5 12.9v2.2m0 27.8v1.2M54.5 14.9v2.2m0 23.8v1.2m0 1.8v2.2M55.5 46.9v2.2M56.5 15.9v2.2m0 24.8v1.2m0 0.8v1.2M57.5 38.9v1.2m0 0.8v2.2m0 11.8v1.2M58.5 11.9v1.2m0 32.8v1.2M59.5 16.9v1.2m0 29.8v3.2m0 0.8v1.2M60.5 14.9v1.2m0 22.8v1.2m0 1.8v1.2m0 0.8v1.2M61.5 16.9v1.2m0 3.8v1.2m0 1.8v1.2m0 4.8v3.2m0 0.8v1.2m0 0.8v1.2m0 3.8v1.2M62.5 29.9v2.2m0 1.8v1.2m0 0.8v7.2m0 6.8v1.2M63.5 22.9v1.2m0 3.8v1.2m0 0.8v1.2M64.5 20.9v1.2m0 5.8v1.2m0 0.8v2.2m0 0.8v2.2m0 6.8v2.2M66.5 21.9v1.2m0 5.8v1.2m0 2.8v1.2m0 1.8v1.2M67.5 17.9v1.2m0 0.8v1.2m0 6.8v1.2m0 1.8v1.2m0 7.8v3.2m0 0.8v2.2M70.5 28.9v1.2m0 0.8v1.2m0 0.8v2.2m0 1.8v1.2m0 2.8v4.2M72.5 30.9v5.2m0 0.8v3.2m0 0.8v1.2m0 0.8v1.2m0 0.8v2.2M73.5 40.9v1.2"/>
<path stroke="#5ca4d0" d="M1.5 45.9v2.2M2.5 33.9v2.2m0 2.8v5.2m0 0.8v2.2m0 2.8v1.2m0 0.8v2.2m0 6.8v2.2M4.5 47.9v2.2m0 0.8v1.2m0 1.8v1.2M6.5 32.9v1.2m0 0.8v2.2m0 3.8v2.2m0 0.8v1.2m0 0.8v2.2m0 8.8v1.2m0 2.8v2.2m0 3.8v1.2m0 0.8v1.2M8.5 51.9v1.2M11.5 40.9v1.2m0 0.8v2.2m0 4.8v1.2m0 1.8v1.2m0 1.8v2.2m0 0.8v6.2m0 1.8v1.2m0 3.8v1.2M15.5 45.9v2.2m0 0.8v1.2M16.5 34.9v1.2m0 7.8v1.2M17.5 57.9v1.2M18.5 52.9v1.2m0 0.8v1.2M21.5 35.9v1.2m0 2.8v1.2m0 1.8v2.2m0 4.8v1.2m0 4.8v2.2m0 3.8v1.2m0 0.8v1.2m0 2.8v1.2m0 0.8v1.2m0 0.8v1.2m0 0.8v1.2m0 3.8v1.2M23.5 45.9v1.2M27.5 47.9v1.2m0 13.8v1.2M28.5 28.9v1.2m0 0.8v1.2m0 1.8v1.2m0 12.8v1.2m0 0.8v1.2m0 1.8v1.2m0 2.8v3.2m0 2.8v1.2M29.5 32.9v5.2m0 1.8v1.2m0 0.8v1.2m0 1.8v1.2m0 0.8v1.2m0 4.8v3.2m0 0.8v1.2m0 1.8v3.2M30.5 33.9v1.2m0 0.8v2.2m0 2.8v1.2m0 10.8v1.2M32.5 31.9v1.2m0 7.8v1.2M33.5 41.9v1.2m0 10.8v1.2M35.5 26.9v1.2m0 8.8v1.2m0 1.8v3.2m0 0.8v2.2m0 0.8v2.2m0 2.8v2.2M37.5 26.9v1.2m0 1.8v1.2m0 0.8v5.2m0 2.8v2.2m0 3.8v2.2m0 0.8v1.2M38.5 38.9v1.2m0 1.8v1.2m0 0.8v1.2m0 2.8v1.2M39.5 25.9v2.2m0 1.8v1.2m0 1.8v1.2m0 1.8v1.2m0 0.8v1.2m0 2.8v1.2m0 1.8v3.2m0 2.8v1.2M40.5 18.9v5.2m0 24.8v3.2m0 0.8v1.2m0 0.8v1.2m0 5.8v1.2M42.5 20.9v1.2m0 0.8v1.2m0 15.8v1.2m0 4.8v1.2m0 1.8v1.2M43.5 18.9v1.2m0 0.8v1.2m0 0.8v2.2m0 16.8v2.2m0 1.8v1.2m0 0.8v1.2M44.5 18.9v3.2m0 23.8v1.2M45.5 16.9v1.2m0 0.8v2.2m0 17.8v1.2m0 3.8v1.2M46.5 13.9v1.2m0 0.8v1.2m0 29.8v1.2m0 2.8v1.2M47.5 43.9v2.2m0 3.8v1.2M48.5 15.9v1.2M49.5 40.9v1.2m0 0.8v2.2m0 2.8v1.2M50.5 41.9v1.2m0 1.8v1.2M51.5 13.9v2.2m0 26.8v1.2m0 2.8v2.2M52.5 13.9v1.2m0 0.8v2.2m0 0.8v1.2m0 17.8v1.2M53.5 14.9v2.2m0 23.8v2.2m0 1.8v1.2M54.5 39.9v1.2m0 0.8v1.2M55.5 15.9v1.2m0 23.8v2.2m0 0.8v1.2m0 7.8v1.2M56.5 17.9v1.2m0 21.8v1.2m0 3.8v1.2M58.5 10.9v1.2m0 0.8v1.2m0 26.8v1.2m0 0.8v1.2m0 0.8v1.2m0 0.8v1.2M59.5 33.9v3.2m0 0.8v1.2m0 0.8v1.2m0 2.8v1.2M60.5 17.9v1.2m0 18.8v1.2m0 0.8v2.2m0 0.8v1.2m0 0.8v1.2M61.5 22.9v1.2m0 1.8v3.2m0 4.8v1.2M62.5 17.9v6.2m0 0.8v2.2m0 1.8v1.2m0 1.8v2.2m0 0.8v1.2M67.5 18.9v1.2m0 0.8v2.2m0 5.8v2.2m0 0.8v1.2m0 0.8v4.2m0 0.8v1.2M70.5 34.9v1.2m0 3.8v1.2m0 3.8v1.2M72.5 35.9v1.2"/>
<path stroke="#4292c6" d="M2.5 43.9v1.2m0 2.8v1.2m0 1.8v1.2m0 2.8v2.2m0 0.8v1.2M4.5 45.9v1.2M6.5 36.9v1.2m0 0.8v2.2m0 6.8v2.2m0 0.8v3.2m0 0.8v2.2m0 2.8v1.2m0 1.8v1.2M11.5 41.9v1.2m0 1.8v1.2m0 0.8v3.2m0 0.8v2.2m0 0.8v2.2m0 1.8v1.2m0 8.8v2.2M15.5 44.9v1.2M21.5 40.9v2.2m0 1.8v3.2m0 0.8v1.2m0 0.8v2.2m0 0.8v2.2m0 1.8v1.2m0 0.8v2.2m0 0.8v1.2m0 1.8v2.2m0 0.8v1.2m0 0.8v1.2M28.5 32.9v1.2m0 7.8v1.2m0 1.8v3.2m0 2.8v2.2m0 0.8v1.2m0 0.8v1.2m0 2.8v2.2m0 1.8v1.2M29.5 42.9v1.2m0 3.8v1.2m0 0.8v1.2M35.5 34.9v1.2m0 1.8v1.2m0 3.8v1.2m0 5.8v1.2M37.5 36.9v3.2m0 7.8v1.2M39.5 30.9v2.2m0 0.8v2.2m0 2.8v2.2m0 1.8v1.2m0 12.8v1.2M40.5 23.9v1.2m0 1.8v1.2m0 14.8v1.2m0 0.8v1.2M42.5 19.9v1.2m0 0.8v1.2m0 0.8v1.2m0 0.8v1.2m0 13.8v1.2m0 2.8v1.2m0 0.8v1.2M43.5 25.9v3.2m0 3.8v3.2m0 2.8v3.2m0 2.8v1.2M44.5 21.9v2.2m0 0.8v1.2m0 16.8v3.2m0 0.8v1.2M45.5 22.9v1.2m0 15.8v4.2M46.5 14.9v1.2m0 0.8v1.2m0 25.8v1.2M47.5 18.9v4.2m0 15.8v1.2m0 1.8v2.2M48.5 16.9v1.2m0 27.8v1.2M49.5 19.9v2.2m0 16.8v1.2m0 1.8v1.2M50.5 16.9v1.2m0 22.8v1.2m0 0.8v1.2M51.5 15.9v1.2m0 24.8v1.2m0 0.8v2.2M52.5 39.9v3.2M53.5 16.9v1.2m0 18.8v1.2M54.5 16.9v1.2m0 1.8v1.2m0 15.8v3.2M55.5 13.9v1.2m0 1.8v1.2m0 19.8v1.2m0 0.8v1.2M56.5 18.9v1.2m0 13.8v2.2m0 1.8v1.2m0 0.8v1.2M57.5 16.9v3.2m0 17.8v1.2M58.5 13.9v1.2m0 22.8v2.2m0 3.8v1.2M59.5 21.9v1.2m0 7.8v2.2m0 3.8v1.2M60.5 18.9v1.2m0 0.8v1.2m0 10.8v1.2m0 2.8v1.2M61.5 23.9v1.2M62.5 23.9v1.2M67.5 23.9v4.2m0 4.8v1.2"/>
<path stroke="#2d7dbb" d="M6.5 44.9v1.2m0 3.8v1.2m0 2.8v1.2M11.5 45.9v1.2M21.5 47.9v1.2m0 3.8v1.2M28.5 34.9v4.2m0 3.8v2.2M29.5 37.9v2.2m0 0.8v1.2m0 1.8v1.2M37.5 42.9v1.2M40.5 24.9v2.2m0 0.8v2.2m0 7.8v1.2m0 4.8v1.2m0 0.8v1.2M42.5 24.9v1.2m0 10.8v3.2m0 1.8v3.2M43.5 24.9v1.2m0 5.8v1.2m0 2.8v3.2M44.5 23.9v1.2m0 0.8v1.2m0 14.8v1.2M45.5 20.9v2.2m0 1.8v2.2m0 0.8v1.2M46.5 17.9v2.2m0 0.8v1.2m0 0.8v2.2m0 16.8v1.2m0 1.8v2.2M47.5 22.9v1.2m0 0.8v2.2m0 2.8v1.2m0 3.8v1.2m0 3.8v1.2M48.5 17.9v2.2m0 21.8v1.2m0 0.8v2.2M49.5 18.9v1.2m0 2.8v1.2m0 13.8v1.2m0 0.8v1.2M50.5 17.9v3.2m0 0.8v1.2M51.5 16.9v2.2m0 0.8v1.2m0 16.8v4.2M52.5 19.9v2.2m0 12.8v1.2m0 2.8v1.2M53.5 37.9v3.2M54.5 17.9v2.2m0 1.8v2.2m0 9.8v1.2M55.5 17.9v1.2m0 16.8v1.2M56.5 20.9v1.2m0 13.8v2.2M57.5 20.9v3.2m0 9.8v1.2m0 0.8v1.2M58.5 14.9v1.2m0 0.8v1.2m0 18.8v1.2M59.5 19.9v2.2m0 0.8v2.2m0 3.8v2.2m0 1.8v1.2M60.5 19.9v1.2m0 0.8v5.2m0 0.8v3.2m0 0.8v1.2m0 2.8v1.2M62.5 26.9v1.2M67.5 22.9v1.2"/>
<path stroke="#1b69af" d="M28.5 38.9v3.2m0 6.8v1.2M39.5 36.9v1.2M40.5 29.9v3.2m0 0.8v1.2m0 0.8v1.2m0 1.8v1.2m0 1.8v1.2m0 3.8v1.2M42.5 27.9v4.2m0 0.8v1.2M43.5 28.9v3.2M44.5 26.9v2.2m0 1.8v1.2m0 2.8v2.2m0 1.8v3.2M45.5 23.9v1.2m0 1.8v1.2m0 1.8v1.2m0 0.8v1.2m0 0.8v1.2m0 1.8v1.2M46.5 21.9v1.2m0 1.8v1.2m0 10.8v2.2m0 0.8v2.2m0 0.8v1.2M47.5 23.9v1.2m0 1.8v1.2m0 0.8v1.2m0 0.8v2.2m0 2.8v1.2m0 0.8v1.2M48.5 19.9v1.2m0 0.8v1.2m0 14.8v1.2m0 1.8v1.2m0 0.8v1.2M49.5 21.9v1.2m0 4.8v2.2m0 1.8v1.2m0 0.8v4.2M50.5 27.9v1.2m0 8.8v1.2m0 0.8v1.2M51.5 18.9v1.2m0 0.8v1.2m0 2.8v1.2m0 8.8v1.2M52.5 21.9v1.2m0 0.8v2.2m0 5.8v1.2m0 0.8v1.2m0 0.8v2.2M53.5 18.9v1.2m0 1.8v1.2M54.5 20.9v1.2m0 3.8v1.2m0 5.8v1.2m0 0.8v2.2M55.5 18.9v2.2m0 15.8v1.2m0 0.8v1.2M56.5 19.9v1.2m0 0.8v1.2m0 5.8v1.2m0 0.8v1.2m0 0.8v1.2M57.5 19.9v1.2m0 4.8v2.2m0 2.8v3.2m0 0.8v1.2M58.5 17.9v3.2m0 13.8v1.2m0 3.8v1.2M59.5 24.9v1.2M60.5 26.9v1.2m0 2.8v1.2"/>
<path stroke="#0b559f" d="M40.5 32.9v1.2m0 0.8v1.2m0 0.8v1.2M42.5 31.9v1.2m0 1.8v2.2M44.5 28.9v2.2m0 0.8v1.2m0 0.8v1.2m0 1.8v1.2M45.5 28.9v1.2m0 0.8v1.2m0 0.8v1.2m0 0.8v2.2m0 0.8v1.2M46.5 26.9v2.2m0 2.8v1.2m0 0.8v3.2m0 1.8v1.2M47.5 27.9v1.2m0 3.8v1.2m0 2.8v1.2M48.5 20.9v1.2m0 1.8v1.2m0 10.8v2.2m0 0.8v2.2M49.5 23.9v4.2m0 1.8v2.2M50.5 20.9v1.2m0 0.8v1.2m0 0.8v1.2m0 0.8v1.2m0 1.8v1.2m0 0.8v1.2m0 0.8v4.2m0 0.8v1.2M51.5 22.9v1.2m0 1.8v2.2m0 7.8v2.2M52.5 29.9v2.2M53.5 19.9v2.2m0 0.8v1.2m0 1.8v1.2m0 4.8v1.2m0 0.8v2.2M54.5 24.9v1.2m0 0.8v3.2m0 0.8v2.2M55.5 21.9v1.2m0 9.8v2.2M56.5 22.9v6.2m0 0.8v1.2m0 0.8v1.2M57.5 23.9v2.2M58.5 31.9v3.2m0 0.8v1.2M59.5 25.9v1.2"/>
<path stroke="#084083" d="M42.5 33.9v1.2M44.5 37.9v1.2M46.5 25.9v1.2m0 1.8v3.2m0 0.8v1.2M47.5 33.9v1.2M48.5 22.9v1.2m0 0.8v11.2M49.5 32.9v1.2M50.5 23.9v1.2m0 0.8v1.2m0 1.8v1.2m0 0.8v1.2m0 0.8v1.2M51.5 21.9v1.2m0 0.8v1.2m0 2.8v7.2M52.5 22.9v1.2m0 1.8v4.2m0 2.8v1.2M53.5 23.9v2.2m0 1.8v4.2m0 0.8v1.2M54.5 23.9v1.2m0 4.8v1.2M55.5 20.9v1.2m0 0.8v10.2M57.5 27.9v3.2M58.5 20.9v7.2m0 0.8v3.2"/>
</g>
<g fill="#000">
<circle cx="300.6" cy="102.5" r="1.25"/>
<circle cx="304.9" cy="91.4" r="1.25"/>
<circle cx="307.8" cy="90.1" r="1.25"/>
<circle cx="309.1" cy="104.7" r="1.25"/>
<circle cx="313.3" cy="106.2" r="1.25"/>
<circle cx="317.5" cy="114.8" r="1.25"/>
<circle cx="320.5" cy="111.7" r="1.25"/>
<circle cx="301.9" cy="136.9" r="1.25"/>
<circle cx="306.3" cy="133.0" r="1.25"/>
<circle cx="311.8" cy="145.7" r="1.25"/>
<circle cx="323.3" cy="138.8" r="1.25"/>
<circle cx="324.8" cy="125.5" r="1.25"/>
<circle cx="326.2" cy="123.9" r="1.25"/>
<circle cx="329.0" cy="109.7" r="1.25"/>
<circle cx="330.5" cy="121.6" r="1.25"/>
<circle cx="333.1" cy="128.8" r="1.25"/>
<circle cx="332.0" cy="116.3" r="1.25"/>
<circle cx="335.1" cy="108.5" r="1.25"/>
<circle cx="338.9" cy="107.7" r="1.25"/>
<circle cx="340.4" cy="91.8" r="1.25"/>
<circle cx="341.6" cy="114.3" r="1.25"/>
<circle cx="343.2" cy="110.8" r="1.25"/>
<circle cx="344.7" cy="119.7" r="1.25"/>
<circle cx="346.2" cy="114.3" r="1.25"/>
<circle cx="348.1" cy="116.3" r="1.25"/>
<circle cx="350.4" cy="102.4" r="1.25"/>
<circle cx="353.1" cy="123.9" r="1.25"/>
<circle cx="354.6" cy="98.7" r="1.25"/>
<circle cx="359.0" cy="111.2" r="1.25"/>
<circle cx="363.2" cy="106.4" r="1.25"/>
<circle cx="367.4" cy="109.8" r="1.25"/>
<circle cx="366.0" cy="117.2" r="1.25"/>
<circle cx="369.5" cy="97.3" r="1.25"/>
<circle cx="371.6" cy="91.7" r="1.25"/>
<circle cx="374.4" cy="96.3" r="1.25"/>
<circle cx="373.0" cy="105.7" r="1.25"/>
<circle cx="375.7" cy="103.6" r="1.25"/>
<circle cx="377.1" cy="91.7" r="1.25"/>
<circle cx="378.5" cy="89.0" r="1.25"/>
<circle cx="382.7" cy="90.4" r="1.25"/>
<circle cx="384.1" cy="79.9" r="1.25"/>
<circle cx="386.9" cy="91.7" r="1.25"/>
<circle cx="388.7" cy="98.4" r="1.25"/>
<circle cx="390.1" cy="106.8" r="1.25"/>
<circle cx="392.4" cy="91.1" r="1.25"/>
<circle cx="394.5" cy="87.3" r="1.25"/>
<circle cx="398.0" cy="86.5" r="1.25"/>
<circle cx="399.8" cy="80.3" r="1.25"/>
<circle cx="395.9" cy="112.9" r="1.25"/>
<circle cx="401.5" cy="100.8" r="1.25"/>
<circle cx="408.7" cy="95.2" r="1.25"/>
</g>
<line x1="300.60" y1="126.50" x2="407.80" y2="87.60" stroke="#000" stroke-width="1.1" stroke-dasharray="6 1.4"/>
<rect x="293.40" y="14.4" width="125.0" height="20.80" rx="1" fill="none" stroke="#333" stroke-width="0.9"/>
<text x="355.90" y="27.90" font-size="8.9" text-anchor="middle" >Monocytes</text>
<line x1="293.65" y1="41.30" x2="293.65" y2="199.40" stroke="#555555" stroke-width="1.0" />
<line x1="293.40" y1="199.00" x2="415.74" y2="199.00" stroke="#777" stroke-width="1.0" />
<line x1="290.40" y1="191.70" x2="293.40" y2="191.70" stroke="#555555" stroke-width="0.8" />
<line x1="290.40" y1="155.90" x2="293.40" y2="155.90" stroke="#555555" stroke-width="0.8" />
<line x1="308.64" y1="199.00" x2="308.64" y2="202.00" stroke="#555555" stroke-width="0.8" />
<text x="308.64" y="210.60" font-size="7.3" text-anchor="middle" textLength="8.3" lengthAdjust="spacingAndGlyphs" >25</text>
<line x1="290.40" y1="120.10" x2="293.40" y2="120.10" stroke="#555555" stroke-width="0.8" />
<line x1="344.24" y1="199.00" x2="344.24" y2="202.00" stroke="#555555" stroke-width="0.8" />
<text x="344.24" y="210.60" font-size="7.3" text-anchor="middle" textLength="8.3" lengthAdjust="spacingAndGlyphs" >50</text>
<line x1="290.40" y1="84.30" x2="293.40" y2="84.30" stroke="#555555" stroke-width="0.8" />
<line x1="379.84" y1="199.00" x2="379.84" y2="202.00" stroke="#555555" stroke-width="0.8" />
<text x="379.84" y="210.60" font-size="7.3" text-anchor="middle" textLength="8.3" lengthAdjust="spacingAndGlyphs" >75</text>
<line x1="290.40" y1="48.50" x2="293.40" y2="48.50" stroke="#555555" stroke-width="0.8" />
<line x1="415.44" y1="199.00" x2="415.44" y2="202.00" stroke="#555555" stroke-width="0.8" />
<text x="415.44" y="210.60" font-size="7.3" text-anchor="middle" textLength="12.9" lengthAdjust="spacingAndGlyphs" >100</text>
<text x="301.10" y="48.90" font-size="7.1" textLength="71.0" lengthAdjust="spacingAndGlyphs"><tspan font-style="italic">R</tspan> = 0.7, <tspan font-style="italic">P</tspan> &lt; 2.2 × 10<tspan dy="-3.4" font-size="4.6">−16</tspan></text>
<text x="358.30" y="225.90" font-size="9.2" text-anchor="middle" textLength="100.2" lengthAdjust="spacingAndGlyphs" >Actual chronological age</text>
<text x="358.10" y="235.20" font-size="9.2" text-anchor="middle" textLength="26.5" lengthAdjust="spacingAndGlyphs" >(years)</text>
<g transform="translate(429.51 48.50) scale(1.424 1.432)" fill="none" stroke-width="1.08">
<path stroke="#f6f4f9" d="M0.5 31.9v3.2m0 0.8v1.2m0 0.8v1.2m0 46.8v1.2m0 1.8v1.2m0 0.8v1.2m0 0.8v1.2m0 2.8v1.2M1.5 31.9v2.2m0 0.8v1.2m0 1.8v1.2m0 5.8v1.2m0 43.8v1.2m0 1.8v1.2m0 1.8v2.2M2.5 32.9v2.2m0 47.8v1.2m0 1.8v3.2m0 0.8v3.2M3.5 23.9v1.2m0 0.8v2.2m0 0.8v4.2m0 1.8v1.2m0 48.8v1.2m0 1.8v1.2m0 0.8v1.2m0 0.8v2.2m0 0.8v2.2m0 1.8v1.2M4.5 26.9v3.2m0 0.8v6.2m0 4.8v2.2m0 1.8v2.2m0 9.8v1.2m0 11.8v1.2m0 1.8v1.2m0 5.8v6.2m0 2.8v4.2M5.5 22.9v1.2m0 2.8v1.2m0 0.8v5.2m0 1.8v1.2m0 49.8v3.2m0 0.8v1.2m0 3.8v2.2m0 0.8v1.2M6.5 46.9v2.2m0 6.8v1.2m0 0.8v1.2m0 3.8v1.2m0 12.8v1.2m0 2.8v1.2M7.5 24.9v1.2m0 1.8v2.2m0 0.8v2.2m0 0.8v1.2m0 9.8v1.2m0 39.8v2.2m0 1.8v4.2m0 0.8v1.2m0 0.8v1.2M8.5 18.9v1.2m0 5.8v4.2m0 58.8v1.2m0 3.8v1.2m0 0.8v1.2M9.5 63.9v1.2m0 6.8v1.2m0 0.8v1.2m0 4.8v1.2m0 3.8v1.2M10.5 21.9v1.2m0 1.8v1.2m0 0.8v1.2m0 0.8v4.2m0 0.8v1.2m0 0.8v1.2m0 4.8v1.2m0 47.8v1.2m0 0.8v3.2m0 1.8v2.2M11.5 24.9v1.2m0 3.8v1.2m0 0.8v1.2m0 56.8v1.2m0 2.8v2.2M12.5 21.9v3.2m0 55.8v1.2m0 7.8v1.2m0 0.8v1.2m0 0.8v5.2M13.5 30.9v3.2m0 1.8v1.2m0 46.8v1.2m0 2.8v1.2m0 1.8v2.2m0 2.8v1.2m0 0.8v1.2M14.5 18.9v1.2m0 2.8v6.2m0 1.8v1.2m0 5.8v1.2m0 38.8v1.2m0 2.8v1.2m0 0.8v3.2m0 0.8v1.2m0 0.8v2.2M15.5 18.9v2.2m0 0.8v3.2m0 2.8v1.2m0 55.8v2.2m0 3.8v1.2m0 4.8v1.2M16.5 17.9v1.2m0 1.8v1.2m0 1.8v1.2m0 60.8v1.2m0 3.8v1.2m0 1.8v3.2m0 0.8v2.2M17.5 13.9v1.2m0 2.8v1.2m0 1.8v3.2m0 2.8v1.2m0 5.8v1.2m0 0.8v1.2m0 45.8v5.2m0 1.8v1.2m0 0.8v1.2m0 3.8v1.2M18.5 34.9v1.2m0 6.8v2.2m0 17.8v1.2m0 6.8v1.2m0 4.8v2.2M19.5 28.9v1.2m0 8.8v1.2m0 27.8v1.2m0 6.8v1.2M20.5 24.9v1.2m0 2.8v3.2m0 52.8v1.2m0 1.8v1.2M21.5 47.9v1.2m0 25.8v1.2M22.5 22.9v1.2m0 0.8v1.2m0 1.8v1.2m0 43.8v1.2m0 2.8v1.2m0 4.8v2.2m0 0.8v1.2M23.5 13.9v1.2m0 0.8v1.2m0 3.8v1.2m0 0.8v1.2m0 51.8v1.2m0 2.8v2.2m0 0.8v3.2M25.5 10.9v1.2m0 0.8v1.2m0 58.8v1.2m0 0.8v1.2m0 3.8v1.2M26.5 10.9v1.2m0 64.8v2.2M27.5 21.9v2.2m0 0.8v1.2m0 52.8v1.2m0 0.8v3.2M28.5 18.9v1.2m0 0.8v1.2m0 0.8v1.2m0 45.8v1.2m0 4.8v1.2m0 0.8v1.2M30.5 20.9v2.2m0 2.8v1.2M31.5 16.9v1.2m0 1.8v1.2m0 54.8v1.2M32.5 16.9v1.2m0 0.8v1.2m0 0.8v2.2m0 1.8v1.2m0 49.8v1.2m0 0.8v1.2m0 0.8v2.2M33.5 15.9v1.2m0 3.8v1.2m0 0.8v1.2m0 38.8v1.2m0 4.8v1.2m0 1.8v1.2M34.5 14.9v1.2m0 0.8v2.2m0 1.8v2.2m0 2.8v1.2m0 47.8v1.2M35.5 67.9v1.2m0 1.8v1.2M36.5 15.9v3.2m0 0.8v1.2m0 3.8v1.2m0 43.8v3.2M37.5 56.9v1.2M38.5 12.9v1.2m0 0.8v1.2m0 1.8v1.2m0 0.8v1.2m0 0.8v1.2m0 46.8v1.2m0 2.8v2.2M39.5 69.9v1.2m0 1.8v1.2M40.5 7.9v1.2m0 1.8v1.2m0 54.8v1.2m0 1.8v2.2M41.5 5.9v1.2m0 0.8v1.2m0 2.8v1.2m0 58.8v2.2m0 1.8v4.2M42.5 15.9v1.2m0 0.8v1.2m0 59.8v4.2M43.5 6.9v1.2m0 3.8v1.2m0 0.8v1.2m0 68.8v1.2m0 0.8v1.2m0 2.8v1.2M44.5 12.9v1.2m0 56.8v1.2m0 3.8v1.2m0 0.8v2.2m0 2.8v1.2M45.5 2.9v3.2m0 2.8v1.2m0 62.8v1.2m0 3.8v2.2m0 2.8v1.2m0 1.8v1.2M46.5 -0.1v4.2m0 83.8v3.2M47.5 0.9v1.2m0 1.8v2.2m0 0.8v1.2m0 0.8v1.2m0 55.8v1.2m0 5.8v2.2m0 0.8v2.2M48.5 0.9v1.2m0 70.8v1.2m0 2.8v2.2m0 6.8v1.2M49.5 2.9v3.2m0 0.8v1.2m0 64.8v1.2m0 0.8v3.2m0 5.8v1.2M50.5 5.9v1.2m0 1.8v1.2m0 1.8v1.2m0 64.8v2.2m0 0.8v3.2m0 0.8v1.2M51.5 0.9v1.2m0 3.8v2.2m0 0.8v1.2m0 59.8v1.2m0 3.8v2.2m0 0.8v3.2m0 0.8v2.2M52.5 2.9v1.2m0 0.8v1.2m0 0.8v1.2m0 2.8v1.2m0 64.8v2.2m0 0.8v1.2M53.5 7.9v1.2m0 0.8v1.2m0 56.8v1.2m0 2.8v1.2m0 0.8v1.2m0 0.8v1.2m0 0.8v1.2m0 0.8v1.2M54.5 12.9v2.2m0 50.8v1.2m0 6.8v1.2M55.5 5.9v1.2m0 1.8v1.2m0 1.8v1.2m0 53.8v1.2m0 3.8v2.2m0 0.8v1.2m0 1.8v1.2m0 0.8v1.2M56.5 7.9v1.2m0 1.8v1.2m0 55.8v1.2m0 0.8v1.2m0 2.8v1.2m0 1.8v1.2M57.5 3.9v1.2m0 0.8v1.2m0 0.8v1.2m0 4.8v1.2m0 45.8v2.2m0 3.8v3.2m0 0.8v1.2M58.5 9.9v2.2m0 1.8v1.2m0 50.8v2.2m0 0.8v1.2m0 1.8v1.2M59.5 9.9v1.2m0 54.8v1.2M60.5 10.9v1.2m0 1.8v2.2m0 0.8v1.2m0 40.8v1.2m0 2.8v1.2M61.5 11.9v1.2m0 46.8v1.2m0 1.8v2.2M62.5 7.9v1.2m0 0.8v3.2m0 46.8v2.2m0 0.8v1.2m0 1.8v2.2M63.5 12.9v1.2M64.5 15.9v1.2m0 1.8v1.2m0 34.8v1.2M65.5 8.9v1.2m0 0.8v2.2m0 0.8v2.2m0 32.8v1.2m0 8.8v1.2M66.5 11.9v1.2m0 43.8v1.2m0 1.8v1.2M67.5 50.9v1.2M68.5 15.9v1.2m0 0.8v1.2m0 30.8v1.2m0 2.8v1.2m0 3.8v2.2M69.5 23.9v1.2m0 1.8v1.2M70.5 13.9v1.2m0 31.8v1.2m0 1.8v1.2m0 0.8v1.2M71.5 14.9v1.2m0 1.8v1.2m0 16.8v1.2M72.5 50.9v1.2m0 0.8v1.2m0 0.8v2.2M73.5 27.9v1.2m0 0.8v2.2m0 16.8v1.2M74.5 21.9v1.2m0 28.8v2.2M75.5 27.9v1.2m0 5.8v1.2m0 11.8v1.2m0 0.8v1.2m0 1.8v1.2M76.5 26.9v2.2m0 3.8v1.2m0 19.8v1.2M77.5 45.9v1.2M78.5 30.9v1.2m0 2.8v1.2m0 4.8v1.2"/>
<path stroke="#ecebf4" d="M0.5 30.9v1.2m0 4.8v1.2m0 0.8v3.2m0 3.8v1.2m0 35.8v2.2m0 1.8v2.2m0 0.8v1.2m0 2.8v3.2M1.5 33.9v1.2m0 0.8v2.2m0 0.8v2.2m0 5.8v1.2m0 1.8v1.2m0 5.8v3.2m0 13.8v1.2m0 3.8v2.2m0 1.8v2.2m0 0.8v1.2m0 0.8v2.2m0 3.8v1.2m0 2.8v1.2M2.5 26.9v1.2m0 1.8v1.2m0 3.8v1.2m0 36.8v1.2m0 14.8v1.2M3.5 27.9v1.2m0 3.8v2.2m0 1.8v2.2m0 1.8v5.2m0 5.8v1.2m0 1.8v3.2m0 0.8v1.2m0 11.8v1.2m0 2.8v6.2m0 0.8v2.2m0 0.8v2.2m0 0.8v1.2m0 0.8v1.2m0 1.8v1.2M4.5 29.9v1.2m0 5.8v3.2m0 0.8v1.2m0 6.8v1.2m0 2.8v1.2m0 1.8v1.2m0 11.8v2.2m0 1.8v1.2m0 0.8v6.2m0 5.8v1.2m0 0.8v1.2m0 3.8v1.2M5.5 33.9v2.2m0 2.8v4.2m0 2.8v1.2m0 0.8v1.2m0 0.8v2.2m0 0.8v1.2m0 15.8v1.2m0 6.8v1.2m0 3.8v2.2m0 6.8v2.2m0 0.8v1.2m0 1.8v1.2M6.5 43.9v1.2m0 11.8v1.2m0 12.8v1.2M7.5 21.9v1.2m0 2.8v2.2m0 4.8v1.2m0 0.8v2.2m0 2.8v1.2m0 6.8v1.2m0 6.8v1.2m0 1.8v1.2m0 6.8v2.2m0 8.8v2.2m0 0.8v5.2m0 1.8v2.2m0 3.8v1.2m0 0.8v1.2M8.5 23.9v2.2m0 3.8v1.2m0 0.8v2.2m0 13.8v1.2m0 13.8v1.2m0 12.8v1.2m0 7.8v1.2m0 2.8v4.2m0 0.8v1.2m0 0.8v1.2M9.5 49.9v1.2m0 0.8v1.2m0 16.8v1.2M10.5 25.9v1.2m0 7.8v1.2m0 0.8v3.2m0 40.8v6.2m0 0.8v3.2m0 4.8v1.2M11.5 26.9v1.2m0 0.8v1.2m0 0.8v1.2m0 0.8v3.2m0 0.8v1.2m0 11.8v1.2m0 26.8v2.2m0 1.8v1.2m0 0.8v6.2m0 5.8v1.2M12.5 24.9v1.2m0 0.8v6.2m0 1.8v1.2m0 1.8v1.2m0 44.8v3.2m0 0.8v2.2m0 0.8v1.2M13.5 27.9v3.2m0 2.8v1.2m0 1.8v3.2m0 39.8v1.2m0 3.8v2.2m0 1.8v2.2m0 3.8v1.2M14.5 28.9v2.2m0 0.8v2.2m0 0.8v1.2m0 0.8v1.2m0 0.8v1.2m0 0.8v1.2m0 1.8v2.2m0 17.8v1.2m0 3.8v1.2m0 0.8v5.2m0 2.8v1.2m0 0.8v1.2m0 0.8v1.2m0 2.8v1.2m0 0.8v1.2m0 1.8v1.2M15.5 20.9v1.2m0 2.8v1.2m0 0.8v1.2m0 1.8v1.2m0 1.8v2.2m0 26.8v1.2m0 7.8v2.2m0 0.8v2.2m0 0.8v1.2m0 0.8v1.2m0 0.8v3.2m0 4.8v2.2m0 0.8v4.2M16.5 19.9v1.2m0 0.8v1.2m0 4.8v1.2m0 0.8v1.2m0 47.8v1.2m0 0.8v1.2m0 1.8v2.2m0 0.8v3.2m0 2.8v1.2M17.5 19.9v1.2m0 2.8v3.2m0 1.8v1.2m0 0.8v2.2m0 10.8v1.2m0 15.8v1.2m0 0.8v1.2m0 7.8v1.2m0 1.8v1.2m0 0.8v1.2m0 0.8v4.2m0 4.8v2.2M18.5 36.9v1.2m0 10.8v1.2m0 0.8v1.2m0 3.8v1.2m0 7.8v1.2M19.5 63.9v1.2m0 6.8v1.2m0 0.8v1.2M20.5 25.9v1.2m0 4.8v3.2m0 43.8v1.2m0 1.8v3.2m0 0.8v2.2M21.5 39.9v1.2m0 7.8v1.2m0 1.8v1.2M22.5 25.9v1.2m0 1.8v9.2m0 13.8v1.2m0 4.8v1.2m0 2.8v1.2m0 5.8v1.2m0 0.8v1.2m0 1.8v2.2m0 3.8v3.2m0 1.8v1.2m0 1.8v1.2M23.5 16.9v1.2m0 0.8v2.2m0 0.8v1.2m0 3.8v1.2m0 39.8v1.2m0 2.8v1.2m0 3.8v1.2m0 0.8v1.2m0 1.8v1.2M24.5 64.9v1.2M25.5 6.9v1.2m0 9.8v1.2m0 45.8v2.2m0 3.8v2.2m0 0.8v1.2m0 3.8v1.2M26.5 11.9v2.2m0 58.8v1.2m0 0.8v2.2M27.5 23.9v1.2m0 1.8v1.2m0 0.8v1.2m0 47.8v1.2M28.5 15.9v1.2m0 2.8v1.2m0 0.8v1.2m0 1.8v1.2m0 0.8v1.2m0 42.8v2.2m0 0.8v1.2M29.5 11.9v3.2m0 1.8v2.2m0 0.8v1.2m0 42.8v1.2m0 3.8v1.2m0 1.8v1.2M30.5 67.9v2.2m0 0.8v1.2M31.5 18.9v1.2m0 0.8v3.2m0 45.8v3.2M32.5 17.9v1.2m0 0.8v1.2m0 1.8v2.2m0 2.8v1.2m0 32.8v1.2m0 0.8v2.2m0 3.8v1.2m0 0.8v4.2m0 0.8v1.2M33.5 19.9v1.2m0 0.8v1.2m0 1.8v2.2m0 0.8v1.2m0 29.8v1.2m0 3.8v5.2M34.5 19.9v1.2m0 1.8v1.2m0 0.8v1.2m0 40.8v1.2m0 0.8v1.2m0 0.8v1.2m0 1.8v1.2m0 0.8v1.2m0 1.8v1.2M35.5 14.9v2.2m0 47.8v1.2m0 3.8v1.2m0 0.8v2.2M36.5 21.9v1.2m0 0.8v1.2m0 34.8v1.2m0 1.8v2.2m0 1.8v1.2m0 0.8v1.2m0 2.8v1.2M37.5 24.9v1.2m0 8.8v1.2m0 7.8v1.2m0 15.8v1.2M38.5 16.9v1.2m0 2.8v1.2m0 0.8v2.2m0 39.8v1.2m0 4.8v3.2M39.5 10.9v1.2m0 0.8v1.2m0 0.8v4.2m0 43.8v1.2m0 1.8v2.2m0 0.8v1.2m0 0.8v1.2M40.5 8.9v1.2m0 1.8v2.2m0 3.8v1.2m0 48.8v2.2m0 1.8v2.2M41.5 3.9v1.2m0 1.8v1.2m0 0.8v1.2m0 0.8v1.2m0 0.8v2.2m0 55.8v1.2m0 1.8v2.2m0 3.8v2.2M42.5 10.9v1.2m0 2.8v1.2m0 0.8v1.2m0 0.8v1.2m0 48.8v1.2m0 3.8v5.2M43.5 14.9v1.2m0 55.8v1.2m0 1.8v1.2m0 2.8v1.2m0 0.8v3.2m0 0.8v1.2m0 0.8v1.2M44.5 7.9v1.2m0 4.8v1.2m0 0.8v1.2m0 2.8v1.2m0 44.8v1.2m0 1.8v1.2m0 2.8v1.2M45.5 5.9v3.2m0 0.8v1.2m0 2.8v1.2m0 50.8v1.2m0 3.8v2.2m0 0.8v3.2m0 2.8v3.2m0 5.8v1.2M46.5 3.9v2.2m0 70.8v2.2m0 0.8v5.2M47.5 9.9v2.2m0 0.8v1.2m0 1.8v1.2m0 49.8v1.2m0 1.8v3.2m0 1.8v1.2M48.5 1.9v1.2m0 1.8v2.2m0 1.8v1.2m0 2.8v1.2m0 57.8v1.2m0 0.8v1.2m0 0.8v1.2m0 1.8v3.2m0 0.8v1.2M49.5 0.9v2.2m0 2.8v1.2m0 1.8v1.2m0 60.8v2.2m0 0.8v1.2m0 2.8v1.2M50.5 2.9v1.2m0 0.8v1.2m0 1.8v1.2m0 1.8v1.2m0 59.8v1.2m0 0.8v1.2m0 1.8v1.2m0 1.8v1.2M51.5 -0.1v1.2m0 1.8v1.2m0 3.8v1.2m0 0.8v1.2m0 59.8v2.2m0 0.8v1.2m0 1.8v1.2m0 2.8v1.2M52.5 -0.1v1.2m0 7.8v2.2m0 59.8v2.2m0 1.8v2.2m0 1.8v1.2M53.5 10.9v4.2m0 0.8v1.2m0 43.8v2.2m0 2.8v2.2m0 1.8v1.2m0 1.8v1.2m0 0.8v1.2M54.5 14.9v2.2m0 47.8v1.2m0 1.8v6.2M55.5 6.9v1.2m0 2.8v1.2m0 1.8v1.2m0 0.8v1.2m0 44.8v3.2m0 0.8v1.2m0 0.8v4.2m0 1.8v1.2m0 0.8v2.2M56.5 11.9v2.2m0 2.8v1.2m0 44.8v1.2m0 1.8v1.2m0 3.8v1.2M57.5 8.9v2.2m0 0.8v2.2m0 45.8v1.2m0 2.8v3.2M58.5 11.9v1.2m0 48.8v1.2m0 1.8v1.2m0 3.8v2.2m0 1.8v1.2M59.5 12.9v1.2m0 48.8v1.2m0 0.8v1.2m0 0.8v1.2M60.5 15.9v1.2m0 0.8v2.2m0 36.8v1.2m0 2.8v2.2m0 0.8v1.2M61.5 17.9v2.2m0 40.8v1.2m0 2.8v1.2M62.5 55.9v2.2m0 5.8v1.2M63.5 11.9v1.2m0 2.8v1.2m0 40.8v1.2m0 1.8v5.2m0 0.8v1.2M64.5 16.9v1.2m0 30.8v1.2m0 1.8v1.2m0 0.8v1.2m0 1.8v1.2m0 0.8v2.2M65.5 12.9v1.2m0 1.8v1.2m0 1.8v1.2m0 33.8v2.2m0 1.8v1.2m0 0.8v1.2M66.5 9.9v1.2m0 2.8v1.2m0 0.8v1.2m0 0.8v1.2m0 32.8v1.2m0 7.8v1.2M67.5 11.9v3.2m0 32.8v3.2M68.5 12.9v1.2m0 4.8v1.2m0 2.8v4.2m0 1.8v1.2m0 12.8v1.2m0 0.8v1.2m0 0.8v2.2m0 2.8v1.2m0 1.8v1.2m0 0.8v2.2m0 1.8v1.2M69.5 28.9v1.2m0 0.8v1.2m0 4.8v1.2m0 3.8v1.2m0 4.8v1.2M70.5 42.9v1.2m0 4.8v1.2m0 2.8v1.2M71.5 19.9v1.2M72.5 17.9v1.2m0 0.8v3.2m0 28.8v1.2m0 0.8v1.2M73.5 31.9v1.2M74.5 20.9v1.2m0 2.8v2.2m0 10.8v1.2m0 5.8v1.2m0 1.8v1.2m0 0.8v2.2m0 1.8v1.2M75.5 26.9v1.2m0 0.8v1.2m0 0.8v3.2m0 1.8v3.2m0 3.8v1.2m0 0.8v1.2m0 4.8v2.2M76.5 25.9v1.2m0 2.8v3.2m0 9.8v1.2m0 1.8v2.2m0 1.8v1.2m0 0.8v1.2M77.5 41.9v1.2m0 5.8v1.2M78.5 39.9v1.2m0 0.8v1.2"/>
<path stroke="#dfdeed" d="M0.5 41.9v3.2m0 2.8v1.2m0 21.8v1.2m0 5.8v2.2m0 1.8v1.2m0 1.8v1.2m0 5.8v1.2M1.5 40.9v1.2m0 0.8v2.2m0 0.8v1.2m0 4.8v2.2m0 0.8v1.2m0 7.8v1.2m0 1.8v1.2m0 1.8v4.2m0 0.8v3.2m0 3.8v1.2m0 1.8v1.2m0 0.8v1.2m0 2.8v2.2M2.5 31.9v1.2m0 2.8v1.2m0 1.8v3.2m0 0.8v1.2m0 0.8v1.2m0 17.8v1.2m0 0.8v1.2m0 4.8v1.2m0 0.8v2.2m0 1.8v1.2m0 0.8v3.2m0 0.8v2.2M3.5 38.9v2.2m0 5.8v5.2m0 1.8v1.2m0 2.8v1.2m0 0.8v7.2m0 0.8v4.2m0 0.8v1.2m0 0.8v1.2m0 5.8v1.2M4.5 39.9v1.2m0 2.8v2.2m0 1.8v1.2m0 2.8v1.2m0 0.8v2.2m0 0.8v1.2m0 0.8v2.2m0 0.8v7.2m0 2.8v1.2m0 14.8v1.2M5.5 36.9v2.2m0 4.8v2.2m0 0.8v1.2m0 3.8v1.2m0 1.8v2.2m0 0.8v2.2m0 2.8v3.2m0 1.8v1.2m0 4.8v1.2m0 0.8v1.2m0 1.8v1.2m0 0.8v1.2m0 2.8v2.2m0 2.8v1.2M7.5 36.9v3.2m0 0.8v2.2m0 2.8v2.2m0 0.8v1.2m0 0.8v1.2m0 0.8v3.2m0 0.8v1.2m0 1.8v1.2m0 0.8v1.2m0 0.8v3.2m0 2.8v4.2m0 0.8v1.2m0 0.8v1.2m0 1.8v1.2M8.5 22.9v1.2m0 9.8v1.2m0 3.8v2.2m0 0.8v3.2m0 4.8v5.2m0 3.8v1.2m0 1.8v1.2m0 1.8v3.2m0 1.8v2.2m0 0.8v2.2m0 0.8v1.2m0 0.8v6.2m0 0.8v1.2m0 0.8v2.2M9.5 56.9v1.2M10.5 27.9v1.2m0 3.8v1.2m0 5.8v2.2m0 0.8v1.2m0 0.8v3.2m0 1.8v1.2m0 2.8v2.2m0 2.8v1.2m0 2.8v1.2m0 0.8v1.2m0 2.8v3.2m0 0.8v3.2m0 0.8v4.2m0 5.8v1.2m0 8.8v1.2M11.5 35.9v1.2m0 0.8v2.2m0 0.8v8.2m0 2.8v1.2m0 12.8v3.2m0 3.8v2.2m0 0.8v2.2m0 1.8v2.2m0 0.8v1.2m0 6.8v1.2M12.5 33.9v1.2m0 0.8v2.2m0 0.8v1.2m0 5.8v1.2m0 14.8v1.2m0 3.8v1.2m0 2.8v2.2m0 2.8v1.2m0 0.8v3.2m0 0.8v2.2m0 2.8v1.2m0 4.8v1.2M13.5 34.9v1.2m0 4.8v1.2m0 1.8v4.2m0 0.8v1.2m0 0.8v1.2m0 3.8v1.2m0 3.8v1.2m0 1.8v1.2m0 6.8v1.2m0 1.8v1.2m0 0.8v2.2m0 1.8v1.2m0 0.8v1.2m0 2.8v1.2m0 5.8v1.2m0 1.8v1.2M14.5 33.9v1.2m0 4.8v1.2m0 1.8v1.2m0 1.8v3.2m0 0.8v2.2m0 0.8v1.2m0 1.8v1.2m0 0.8v1.2m0 0.8v4.2m0 0.8v3.2m0 7.8v2.2m0 1.8v1.2M15.5 28.9v1.2m0 0.8v2.2m0 1.8v4.2m0 3.8v1.2m0 15.8v1.2m0 4.8v1.2m0 5.8v1.2m0 3.8v1.2m0 0.8v1.2m0 2.8v1.2M16.5 22.9v1.2m0 1.8v2.2m0 0.8v1.2m0 0.8v1.2m0 6.8v1.2m0 35.8v1.2m0 0.8v1.2m0 0.8v1.2m0 1.8v1.2m0 5.8v1.2m0 0.8v1.2M17.5 27.9v1.2m0 0.8v1.2m0 1.8v1.2m0 0.8v1.2m0 1.8v1.2m0 2.8v1.2m0 1.8v2.2m0 0.8v2.2m0 0.8v1.2m0 1.8v2.2m0 0.8v2.2m0 0.8v1.2m0 0.8v1.2m0 0.8v5.2m0 0.8v1.2m0 2.8v1.2m0 2.8v1.2M18.5 45.9v1.2M19.5 41.9v1.2m0 13.8v1.2m0 12.8v1.2M20.5 34.9v6.2m0 0.8v1.2m0 25.8v1.2m0 0.8v3.2m0 0.8v3.2m0 2.8v1.2M21.5 45.9v1.2m0 3.8v1.2m0 8.8v1.2M22.5 26.9v1.2m0 10.8v2.2m0 3.8v1.2m0 1.8v1.2m0 1.8v1.2m0 2.8v2.2m0 1.8v1.2m0 2.8v1.2m0 0.8v1.2m0 0.8v2.2m0 0.8v1.2m0 0.8v1.2m0 2.8v1.2m0 0.8v1.2M23.5 17.9v1.2m0 4.8v1.2m0 2.8v2.2m0 0.8v1.2m0 25.8v1.2m0 2.8v1.2m0 3.8v1.2m0 0.8v2.2m0 1.8v3.2m0 1.8v1.2M24.5 68.9v1.2M25.5 11.9v1.2m0 0.8v3.2m0 1.8v3.2m0 3.8v1.2m0 39.8v4.2M26.5 13.9v4.2m0 2.8v1.2m0 45.8v2.2m0 0.8v2.2m0 0.8v1.2M27.5 25.9v1.2m0 0.8v1.2m0 43.8v1.2m0 0.8v3.2m0 1.8v1.2M28.5 23.9v1.2m0 2.8v1.2m0 36.8v4.2m0 2.8v1.2m0 0.8v1.2M29.5 15.9v1.2m0 1.8v1.2m0 1.8v1.2m0 0.8v1.2m0 0.8v1.2m0 34.8v1.2m0 1.8v4.2m0 0.8v1.2M30.5 22.9v3.2m0 1.8v1.2m0 34.8v2.2m0 0.8v1.2m0 1.8v1.2M31.5 17.9v1.2m0 4.8v1.2m0 1.8v2.2m0 36.8v1.2m0 1.8v1.2m0 2.8v2.2M32.5 25.9v2.2m0 0.8v1.2m0 0.8v1.2m0 0.8v1.2m0 26.8v1.2m0 0.8v1.2m0 2.8v3.2m0 0.8v1.2M33.5 23.9v1.2m0 1.8v1.2m0 2.8v1.2m0 28.8v2.2M34.5 23.9v1.2m0 1.8v2.2m0 1.8v1.2m0 1.8v1.2m0 23.8v1.2m0 3.8v1.2m0 2.8v1.2m0 2.8v2.2M35.5 16.9v1.2m0 0.8v4.2m0 2.8v1.2m0 33.8v3.2m0 2.8v1.2m0 0.8v1.2M36.5 18.9v1.2m0 0.8v1.2m0 0.8v1.2m0 1.8v3.2m0 0.8v1.2m0 0.8v1.2m0 22.8v1.2m0 1.8v1.2m0 0.8v2.2m0 1.8v2.2M37.5 33.9v1.2m0 17.8v3.2M38.5 18.9v1.2m0 4.8v3.2m0 0.8v2.2m0 30.8v3.2m0 0.8v1.2m0 0.8v2.2M39.5 18.9v2.2m0 0.8v1.2m0 41.8v1.2m0 1.8v1.2M40.5 13.9v4.2m0 0.8v3.2m0 41.8v3.2M41.5 14.9v2.2m0 51.8v1.2M42.5 19.9v2.2m0 43.8v1.2m0 2.8v2.2M43.5 12.9v1.2m0 1.8v1.2m0 2.8v1.2m0 49.8v1.2m0 0.8v2.2m0 0.8v3.2m0 0.8v1.2M44.5 16.9v1.2m0 0.8v1.2m0 1.8v1.2m0 41.8v1.2m0 0.8v2.2m0 0.8v1.2m0 0.8v1.2m0 0.8v2.2m0 0.8v1.2M45.5 11.9v2.2m0 4.8v1.2m0 46.8v4.2M46.5 5.9v1.2m0 0.8v3.2m0 1.8v1.2m0 57.8v2.2m0 1.8v1.2m0 1.8v1.2M47.5 11.9v1.2m0 0.8v1.2m0 1.8v1.2m0 42.8v1.2m0 1.8v1.2m0 3.8v1.2M48.5 2.9v1.2m0 2.8v2.2m0 1.8v1.2m0 55.8v2.2m0 4.8v1.2M49.5 -0.1v1.2m0 6.8v1.2m0 0.8v5.2m0 0.8v1.2m0 48.8v2.2m0 0.8v1.2M50.5 6.9v1.2m0 1.8v1.2m0 3.8v1.2m0 50.8v1.2m0 0.8v1.2m0 2.8v1.2m0 0.8v2.2M51.5 1.9v1.2m0 0.8v2.2m0 6.8v1.2m0 49.8v1.2m0 1.8v3.2M52.5 7.9v1.2m0 2.8v1.2m0 52.8v1.2m0 0.8v3.2m0 2.8v1.2m0 7.8v1.2M53.5 14.9v1.2m0 0.8v3.2m0 1.8v1.2m0 36.8v1.2m0 1.8v1.2m0 6.8v1.2M54.5 16.9v2.2m0 0.8v1.2m0 42.8v1.2m0 1.8v1.2M55.5 12.9v1.2m0 0.8v1.2m0 0.8v1.2m0 0.8v1.2m0 40.8v1.2m0 2.8v1.2M56.5 13.9v3.2m0 43.8v2.2m0 0.8v2.2m0 0.8v1.2m0 3.8v2.2M57.5 10.9v1.2m0 2.8v4.2m0 36.8v2.2m0 0.8v1.2m0 2.8v1.2M58.5 12.9v1.2m0 0.8v2.2m0 42.8v2.2m0 0.8v2.2m0 2.8v1.2M59.5 15.9v3.2m0 41.8v2.2m0 0.8v1.2M60.5 19.9v1.2m0 32.8v3.2m0 0.8v1.2M61.5 15.9v2.2m0 36.8v1.2m0 0.8v3.2m0 1.8v1.2M62.5 13.9v2.2m0 0.8v3.2m0 37.8v2.2M63.5 13.9v2.2m0 1.8v2.2m0 38.8v2.2m0 4.8v1.2M64.5 17.9v1.2m0 0.8v2.2m0 2.8v1.2m0 20.8v1.2m0 2.8v1.2m0 0.8v1.2m0 1.8v1.2M65.5 16.9v1.2m0 1.8v2.2m0 27.8v4.2m0 1.8v1.2M66.5 12.9v1.2m0 0.8v1.2m0 0.8v1.2m0 0.8v1.2m0 29.8v1.2m0 1.8v4.2m0 0.8v1.2M67.5 10.9v1.2m0 2.8v4.2m0 0.8v1.2m0 23.8v1.2m0 0.8v1.2M68.5 20.9v2.2m0 4.8v1.2m0 0.8v2.2m0 2.8v5.2m0 0.8v2.2m0 2.8v1.2m0 3.8v1.2m0 0.8v1.2m0 1.8v1.2M69.5 32.9v1.2M70.5 14.9v2.2m0 1.8v2.2m0 22.8v3.2m0 0.8v1.2M71.5 31.9v1.2M72.5 22.9v2.2m0 22.8v3.2M73.5 33.9v1.2M74.5 22.9v1.2m0 2.8v2.2m0 0.8v1.2m0 0.8v1.2m0 2.8v1.2m0 3.8v1.2m0 0.8v2.2m0 0.8v2.2M75.5 29.9v1.2m0 2.8v1.2m0 3.8v4.2m0 0.8v1.2m0 0.8v2.2m0 0.8v1.2M76.5 28.9v1.2m0 4.8v3.2m0 0.8v4.2m0 0.8v1.2m0 2.8v2.2m0 0.8v1.2m0 0.8v1.2M77.5 36.9v1.2m0 5.8v1.2M78.5 31.9v1.2"/>
<path stroke="#cdcee5" d="M0.5 44.9v1.2m0 0.8v1.2m0 3.8v1.2m0 5.8v1.2m0 2.8v2.2m0 0.8v3.2m0 2.8v5.2m0 2.8v2.2M1.5 47.9v2.2m0 0.8v1.2m0 1.8v1.2m0 0.8v1.2m0 2.8v4.2m0 0.8v2.2m0 0.8v2.2m0 7.8v1.2m0 1.8v1.2m0 12.8v1.2M2.5 41.9v1.2m0 0.8v1.2m0 0.8v3.2m0 0.8v3.2m0 4.8v2.2m0 2.8v1.2m0 3.8v2.2m0 5.8v2.2m0 0.8v1.2M3.5 45.9v1.2m0 19.8v1.2M4.5 50.9v1.2m0 8.8v1.2M5.5 56.9v1.2m0 1.8v2.2m0 3.8v2.2m0 0.8v1.2m0 0.8v3.2m0 0.8v1.2m0 0.8v1.2m0 3.8v1.2M7.5 42.9v2.2m0 6.8v1.2m0 4.8v1.2m0 1.8v1.2m0 0.8v1.2m0 4.8v1.2m0 3.8v1.2m0 0.8v1.2M8.5 30.9v1.2m0 2.8v2.2m0 0.8v1.2m0 1.8v1.2m0 2.8v3.2m0 0.8v1.2m0 4.8v1.2m0 1.8v1.2m0 8.8v2.2m0 1.8v1.2m0 1.8v1.2m0 7.8v1.2M10.5 43.9v1.2m0 3.8v1.2m0 1.8v2.2m0 1.8v3.2m0 2.8v1.2m0 0.8v1.2m0 0.8v3.2m0 2.8v1.2m0 2.8v1.2M11.5 39.9v1.2m0 7.8v1.2m0 4.8v1.2m0 0.8v1.2m0 0.8v1.2m0 0.8v2.2m0 0.8v1.2m0 3.8v3.2m0 2.8v1.2M12.5 41.9v3.2m0 1.8v1.2m0 0.8v6.2m0 4.8v2.2m0 2.8v1.2m0 1.8v3.2m0 2.8v2.2m0 0.8v1.2M13.5 41.9v2.2m0 3.8v1.2m0 0.8v1.2m0 0.8v4.2m0 0.8v4.2m0 1.8v1.2m0 0.8v1.2m0 0.8v3.2m0 0.8v1.2m0 0.8v2.2m0 0.8v1.2m0 1.8v1.2m0 1.8v1.2M14.5 41.9v1.2m0 5.8v1.2m0 1.8v1.2m0 0.8v2.2m0 0.8v1.2m0 0.8v1.2m0 7.8v1.2m0 0.8v1.2M15.5 39.9v3.2m0 0.8v5.2m0 1.8v7.2m0 0.8v1.2m0 2.8v3.2m0 0.8v2.2m0 0.8v1.2m0 15.8v1.2M16.5 32.9v6.2m0 0.8v1.2m0 0.8v2.2m0 0.8v2.2m0 1.8v1.2m0 0.8v3.2m0 5.8v1.2m0 3.8v1.2m0 4.8v2.2m0 1.8v1.2m0 5.8v1.2M17.5 38.9v1.2m0 0.8v1.2m0 4.8v1.2m0 1.8v1.2m0 0.8v2.2m0 1.8v1.2m0 11.8v1.2m0 0.8v1.2m0 3.8v1.2M20.5 45.9v1.2m0 19.8v1.2m0 1.8v1.2m0 2.8v1.2M21.5 49.9v1.2M22.5 37.9v1.2m0 1.8v4.2m0 1.8v1.2m0 0.8v2.2m0 1.8v2.2m0 1.8v1.2m0 5.8v1.2M23.5 25.9v1.2m0 2.8v1.2m0 1.8v2.2m0 0.8v1.2m0 0.8v3.2m0 0.8v5.2m0 0.8v1.2m0 1.8v2.2m0 0.8v1.2m0 0.8v2.2m0 0.8v3.2m0 3.8v1.2m0 3.8v1.2M24.5 41.9v1.2m0 14.8v1.2M25.5 21.9v2.2m0 0.8v1.2m0 1.8v2.2m0 30.8v1.2M26.5 17.9v2.2m0 3.8v2.2m0 0.8v2.2m0 33.8v1.2m0 0.8v2.2m0 2.8v1.2M27.5 29.9v2.2m0 1.8v1.2m0 34.8v1.2m0 2.8v1.2M28.5 25.9v1.2m0 1.8v3.2m0 0.8v1.2m0 1.8v1.2m0 24.8v1.2m0 1.8v1.2M29.5 22.9v1.2m0 0.8v1.2m0 0.8v2.2m0 2.8v1.2m0 26.8v1.2M30.5 26.9v1.2m0 0.8v2.2m0 0.8v1.2m0 28.8v2.2m0 1.8v1.2M31.5 24.9v2.2m0 1.8v1.2m0 30.8v1.2m0 0.8v3.2m0 0.8v2.2M32.5 29.9v1.2m0 0.8v1.2m0 0.8v1.2m0 0.8v1.2m0 3.8v1.2m0 13.8v1.2M33.5 28.9v2.2m0 0.8v3.2m0 1.8v1.2m0 12.8v1.2m0 1.8v1.2m0 1.8v1.2m0 1.8v1.2M34.5 29.9v1.2m0 0.8v2.2m0 25.8v1.2m0 0.8v2.2m0 0.8v2.2M35.5 17.9v1.2m0 3.8v3.2m0 31.8v1.2m0 4.8v1.2M36.5 28.9v1.2m0 0.8v1.2m0 0.8v4.2m0 6.8v1.2m0 5.8v1.2m0 1.8v2.2m0 0.8v1.2M37.5 44.9v1.2M38.5 27.9v1.2m0 1.8v1.2m0 1.8v1.2m0 23.8v3.2M39.5 20.9v1.2m0 1.8v1.2m0 33.8v1.2m0 1.8v1.2m0 0.8v1.2M40.5 21.9v1.2m0 37.8v2.2M41.5 16.9v3.2m0 0.8v1.2m0 0.8v1.2m0 39.8v5.2m0 0.8v1.2M42.5 22.9v1.2m0 0.8v1.2m0 38.8v1.2m0 0.8v2.2M43.5 17.9v1.2m0 1.8v1.2m0 45.8v2.2M44.5 17.9v1.2m0 1.8v1.2m0 39.8v1.2m0 0.8v1.2M45.5 10.9v1.2m0 2.8v3.2m0 4.8v1.2m0 38.8v2.2M46.5 6.9v1.2m0 2.8v2.2m0 0.8v2.2m0 53.8v1.2m0 2.8v1.2M47.5 14.9v1.2m0 1.8v2.2m0 37.8v1.2m0 0.8v1.2m0 0.8v2.2M48.5 9.9v1.2m0 0.8v1.2m0 1.8v1.2m0 49.8v2.2m0 1.8v2.2M49.5 14.9v1.2m0 0.8v1.2m0 0.8v1.2m0 38.8v1.2m0 0.8v2.2m0 0.8v1.2m0 2.8v1.2m0 0.8v1.2M50.5 12.9v2.2m0 0.8v1.2m0 50.8v1.2m0 0.8v2.2M51.5 10.9v1.2m0 1.8v3.2m0 43.8v3.2m0 0.8v2.2M52.5 63.9v2.2m0 0.8v1.2M53.5 19.9v1.2m0 30.8v1.2m0 2.8v1.2m0 0.8v2.2m0 3.8v2.2M54.5 18.9v1.2m0 1.8v1.2m0 35.8v5.2M55.5 17.9v1.2m0 35.8v1.2m0 0.8v4.2M56.5 55.9v1.2m0 0.8v3.2M57.5 52.9v2.2m0 2.8v1.2M58.5 18.9v1.2m0 35.8v1.2m0 0.8v2.2M59.5 14.9v1.2m0 41.8v2.2m0 7.8v1.2M60.5 20.9v4.2m0 17.8v1.2m0 7.8v2.2M61.5 20.9v1.2m0 31.8v1.2m0 0.8v1.2M62.5 12.9v1.2m0 1.8v1.2m0 2.8v1.2m0 0.8v1.2m0 26.8v4.2M63.5 16.9v1.2m0 2.8v1.2m0 0.8v1.2m0 30.8v2.2M64.5 21.9v3.2m0 22.8v1.2m0 0.8v1.2M65.5 21.9v1.2m0 19.8v1.2m0 0.8v2.2m0 0.8v1.2m0 7.8v1.2M66.5 19.9v2.2m0 24.8v3.2m0 0.8v1.2M67.5 18.9v1.2m0 22.8v2.2m0 0.8v1.2M68.5 26.9v1.2m0 3.8v1.2m0 0.8v1.2m0 4.8v1.2m0 2.8v1.2m0 3.8v1.2M70.5 17.9v1.2m0 1.8v1.2m0 1.8v1.2m0 10.8v1.2m0 0.8v2.2m0 1.8v1.2M72.5 24.9v1.2m0 0.8v2.2m0 0.8v1.2m0 1.8v2.2m0 2.8v1.2m0 2.8v2.2m0 0.8v3.2M74.5 32.9v3.2m0 0.8v1.2m0 0.8v2.2m0 0.8v1.2M76.5 33.9v1.2m0 2.8v1.2m0 5.8v1.2"/>
<path stroke="#babbdb" d="M0.5 48.9v3.2m0 0.8v6.2m0 0.8v3.2m0 1.8v1.2m0 2.8v2.2M2.5 48.9v1.2m0 2.8v5.2m0 1.8v1.2m0 0.8v1.2m0 1.8v1.2m0 4.8v1.2M3.5 52.9v1.2M5.5 53.9v1.2M7.5 49.9v1.2M8.5 55.9v1.2m0 2.8v2.2m0 1.8v1.2M10.5 50.9v1.2M11.5 50.9v1.2m0 0.8v2.2m0 0.8v1.2m0 2.8v1.2m0 1.8v1.2m0 7.8v1.2M12.5 39.9v2.2m0 2.8v1.2m0 1.8v1.2m0 5.8v5.2m0 3.8v1.2m0 0.8v1.2M13.5 61.9v1.2m0 2.8v1.2m0 2.8v1.2M14.5 35.9v1.2M15.5 48.9v2.2m0 6.8v1.2M16.5 31.9v1.2m0 7.8v1.2m0 1.8v1.2m0 2.8v1.2m0 0.8v1.2m0 2.8v3.2m0 0.8v2.2m0 0.8v1.2m0 0.8v2.2m0 1.8v4.2m0 1.8v2.2M17.5 58.9v1.2M20.5 43.9v2.2m0 0.8v2.2m0 3.8v1.2m0 0.8v1.2m0 1.8v5.2m0 0.8v3.2m0 0.8v1.2M22.5 45.9v1.2m0 18.8v1.2M23.5 31.9v1.2m0 1.8v1.2m0 0.8v1.2m0 2.8v1.2m0 6.8v2.2m0 3.8v1.2m0 7.8v2.2M25.5 23.9v1.2m0 4.8v4.2m0 0.8v1.2m0 13.8v1.2m0 5.8v1.2m0 1.8v1.2m0 0.8v3.2M26.5 21.9v2.2m0 1.8v1.2m0 1.8v2.2m0 2.8v1.2m0 25.8v2.2m0 0.8v1.2m0 1.8v1.2M27.5 31.9v1.2m0 1.8v1.2m0 30.8v3.2m0 1.8v1.2M28.5 31.9v1.2m0 0.8v1.2m0 5.8v1.2m0 11.8v1.2m0 2.8v4.2m0 0.8v2.2M29.5 28.9v3.2m0 1.8v1.2m0 20.8v1.2m0 0.8v2.2m0 0.8v1.2m0 0.8v1.2M30.5 57.9v4.2M31.5 30.9v1.2m0 23.8v1.2m0 0.8v2.2m0 1.8v1.2M32.5 34.9v1.2m0 0.8v2.2m0 0.8v1.2m0 10.8v4.2m0 0.8v4.2M33.5 35.9v1.2m0 1.8v1.2m0 14.8v2.2M34.5 28.9v1.2m0 5.8v1.2m0 2.8v1.2m0 0.8v1.2m0 7.8v4.2m0 1.8v2.2m0 1.8v1.2m0 7.8v1.2M35.5 27.9v2.2m0 0.8v1.2m0 24.8v1.2m0 0.8v2.2M36.5 36.9v2.2m0 0.8v4.2m0 0.8v1.2m0 0.8v1.2m0 4.8v1.2m0 3.8v1.2M38.5 31.9v1.2m0 20.8v1.2m0 0.8v3.2M39.5 22.9v1.2m0 0.8v2.2m0 30.8v1.2m0 0.8v2.2M40.5 23.9v1.2m0 0.8v1.2m0 1.8v1.2m0 28.8v2.2m0 1.8v1.2M41.5 19.9v1.2m0 36.8v6.2M42.5 21.9v1.2m0 0.8v1.2m0 0.8v2.2m0 34.8v2.2M43.5 21.9v2.2m0 0.8v1.2m0 32.8v1.2m0 1.8v2.2m0 0.8v3.2m0 1.8v1.2M44.5 23.9v2.2m0 34.8v1.2m0 0.8v1.2M45.5 19.9v3.2m0 33.8v1.2m0 0.8v4.2m0 1.8v1.2M46.5 65.9v3.2M47.5 19.9v2.2m0 0.8v1.2m0 32.8v1.2M48.5 13.9v1.2m0 0.8v1.2m0 47.8v1.2M49.5 17.9v1.2m0 1.8v1.2m0 37.8v1.2M50.5 60.9v1.2m0 0.8v3.2M51.5 20.9v1.2m0 34.8v1.2m0 0.8v2.2M52.5 13.9v2.2m0 0.8v2.2m0 41.8v1.2m0 0.8v1.2M53.5 20.9v1.2m0 2.8v1.2m0 26.8v3.2m0 0.8v1.2M54.5 20.9v1.2m0 32.8v1.2m0 0.8v2.2M55.5 19.9v4.2m0 28.8v2.2m0 0.8v1.2M56.5 17.9v5.2m0 29.8v3.2m0 0.8v1.2M57.5 18.9v4.2m0 25.8v1.2m0 0.8v1.2M58.5 16.9v1.2m0 1.8v2.2m0 28.8v1.2m0 2.8v1.2m0 0.8v1.2M59.5 18.9v1.2m0 0.8v1.2m0 31.8v1.2m0 4.8v1.2M60.5 24.9v1.2m0 3.8v1.2m0 13.8v1.2m0 0.8v3.2m0 0.8v1.2M61.5 19.9v1.2m0 29.8v3.2M62.5 22.9v2.2m0 0.8v1.2m0 17.8v1.2m0 0.8v1.2m0 0.8v1.2M63.5 21.9v1.2m0 0.8v1.2m0 22.8v1.2m0 1.8v4.2M64.5 25.9v1.2m0 1.8v1.2m0 1.8v1.2m0 5.8v1.2m0 1.8v1.2m0 0.8v1.2M65.5 22.9v2.2m0 0.8v2.2m0 12.8v1.2m0 1.8v1.2m0 1.8v1.2M66.5 21.9v2.2m0 1.8v2.2m0 11.8v1.2m0 2.8v3.2M67.5 20.9v1.2m0 1.8v1.2m0 14.8v1.2m0 0.8v1.2M68.5 32.9v1.2M70.5 21.9v1.2m0 1.8v1.2m0 0.8v2.2m0 0.8v1.2m0 8.8v2.2M72.5 25.9v1.2m0 1.8v1.2m0 0.8v2.2m0 1.8v2.2m0 1.8v2.2m0 2.8v1.2M74.5 30.9v1.2"/>
<path stroke="#a7a4ce" d="M2.5 60.9v1.2m0 7.8v1.2M8.5 56.9v1.2M12.5 62.9v1.2M15.5 60.9v1.2M16.5 46.9v1.2m0 8.8v1.2m0 3.8v1.2M20.5 40.9v1.2m0 0.8v1.2m0 4.8v1.2m0 0.8v2.2m0 0.8v1.2m0 1.8v1.2m0 4.8v1.2M23.5 46.9v1.2m0 4.8v1.2M25.5 33.9v1.2m0 0.8v1.2m0 1.8v3.2m0 0.8v1.2m0 0.8v1.2m0 1.8v1.2m0 1.8v4.2m0 0.8v1.2M26.5 34.9v1.2m0 1.8v1.2m0 15.8v1.2m0 2.8v2.2M27.5 32.9v1.2m0 1.8v2.2m0 0.8v2.2m0 21.8v4.2M28.5 34.9v1.2m0 0.8v4.2m0 0.8v1.2m0 0.8v1.2m0 0.8v1.2m0 0.8v2.2M29.5 32.9v1.2m0 0.8v1.2m0 13.8v1.2m0 0.8v1.2m0 0.8v2.2M30.5 32.9v4.2m0 0.8v1.2m0 16.8v2.2M31.5 31.9v3.2m0 0.8v1.2m0 22.8v1.2M32.5 38.9v1.2m0 1.8v3.2m0 0.8v5.2M33.5 37.9v1.2m0 0.8v2.2m0 3.8v1.2m0 1.8v1.2m0 1.8v2.2M34.5 34.9v1.2m0 0.8v3.2m0 0.8v1.2m0 2.8v1.2m0 8.8v2.2M35.5 31.9v2.2m0 2.8v1.2m0 13.8v1.2m0 0.8v1.2m0 0.8v1.2M36.5 45.9v1.2m0 1.8v2.2m0 0.8v1.2M38.5 32.9v1.2m0 0.8v1.2m0 18.8v1.2M39.5 26.9v1.2m0 0.8v2.2m0 0.8v1.2m0 20.8v1.2m0 1.8v1.2M40.5 24.9v1.2m0 29.8v3.2M41.5 21.9v1.2m0 1.8v4.2M42.5 57.9v5.2M43.5 23.9v1.2m0 0.8v2.2m0 29.8v1.2m0 0.8v2.2M44.5 22.9v1.2m0 34.8v2.2M45.5 24.9v1.2m0 29.8v1.2m0 0.8v1.2M46.5 15.9v2.2m0 46.8v1.2m0 2.8v1.2M47.5 23.9v1.2m0 27.8v1.2m0 4.8v1.2M48.5 16.9v2.2m0 40.8v5.2M49.5 19.9v1.2m0 0.8v1.2m0 32.8v1.2m0 0.8v1.2M50.5 16.9v3.2m0 37.8v1.2m0 2.8v1.2m0 2.8v1.2M51.5 17.9v3.2m0 0.8v1.2m0 28.8v1.2m0 1.8v2.2m0 0.8v1.2M52.5 15.9v1.2m0 41.8v2.2m0 0.8v1.2M53.5 22.9v1.2m0 26.8v1.2M54.5 22.9v1.2m0 31.8v1.2M55.5 23.9v1.2m0 23.8v1.2M57.5 22.9v1.2m0 22.8v1.2m0 1.8v1.2m0 0.8v1.2M58.5 51.9v2.2M59.5 19.9v1.2m0 31.8v1.2m0 0.8v3.2M60.5 25.9v2.2m0 13.8v1.2m0 6.8v1.2M61.5 21.9v2.2m0 22.8v1.2m0 0.8v2.2M62.5 20.9v1.2m0 19.8v3.2m0 0.8v1.2m0 0.8v1.2M63.5 24.9v3.2m0 18.8v1.2m0 1.8v1.2M64.5 26.9v2.2m0 0.8v2.2m0 3.8v2.2m0 1.8v1.2m0 1.8v1.2m0 0.8v2.2M65.5 24.9v1.2m0 3.8v2.2m0 2.8v1.2m0 1.8v3.2m0 0.8v1.2M66.5 23.9v1.2m0 5.8v1.2m0 4.8v1.2m0 2.8v2.2M67.5 21.9v1.2m0 1.8v1.2m0 0.8v1.2m0 8.8v1.2m0 2.8v1.2M70.5 22.9v1.2m0 4.8v1.2m0 0.8v5.2m0 0.8v1.2M72.5 40.9v1.2"/>
<path stroke="#938fc3" d="M20.5 55.9v1.2M25.5 37.9v1.2m0 2.8v1.2m0 2.8v2.2m0 0.8v1.2m0 4.8v1.2m0 1.8v2.2M26.5 35.9v2.2m0 0.8v1.2m0 1.8v1.2m0 5.8v2.2m0 2.8v1.2m0 0.8v2.2M27.5 40.9v2.2m0 0.8v1.2m0 1.8v1.2m0 9.8v2.2m0 0.8v2.2M28.5 42.9v1.2m0 0.8v1.2m0 0.8v1.2m0 3.8v1.2m0 1.8v1.2m0 0.8v1.2M29.5 36.9v6.2m0 1.8v1.2m0 0.8v1.2m0 0.8v1.2m0 0.8v1.2m0 0.8v1.2M30.5 36.9v1.2m0 12.8v1.2m0 0.8v3.2M31.5 29.9v1.2m0 3.8v1.2m0 1.8v1.2m0 13.8v3.2m0 0.8v1.2M32.5 44.9v1.2m0 4.8v1.2M33.5 34.9v1.2m0 5.8v1.2m0 0.8v2.2m0 0.8v2.2m0 0.8v1.2M34.5 43.9v1.2m0 0.8v5.2M35.5 33.9v1.2m0 0.8v1.2m0 0.8v2.2m0 6.8v1.2m0 1.8v1.2m0 1.8v1.2M36.5 38.9v1.2M38.5 35.9v4.2m0 0.8v1.2m0 0.8v1.2m0 0.8v1.2m0 0.8v1.2m0 0.8v1.2m0 0.8v3.2M39.5 27.9v1.2m0 21.8v1.2m0 3.8v1.2M40.5 26.9v2.2m0 1.8v2.2m0 16.8v1.2m0 1.8v3.2M41.5 28.9v2.2m0 22.8v1.2m0 0.8v2.2M42.5 28.9v1.2m0 0.8v2.2m0 21.8v1.2M43.5 56.9v1.2M44.5 25.9v2.2m0 0.8v1.2m0 24.8v2.2M45.5 25.9v2.2M46.5 19.9v1.2m0 39.8v1.2m0 0.8v1.2M47.5 24.9v1.2m0 0.8v2.2m0 25.8v1.2M48.5 18.9v1.2m0 37.8v2.2M49.5 22.9v1.2m0 29.8v1.2M50.5 19.9v1.2m0 33.8v2.2m0 1.8v2.2M51.5 53.9v1.2M52.5 18.9v1.2m0 0.8v1.2m0 32.8v1.2M53.5 23.9v1.2m0 0.8v3.2m0 15.8v1.2m0 1.8v3.2M54.5 23.9v1.2m0 26.8v2.2M55.5 24.9v1.2m0 0.8v1.2m0 18.8v1.2m0 1.8v3.2M56.5 22.9v1.2m0 1.8v1.2m0 23.8v2.2M57.5 23.9v2.2m0 19.8v1.2m0 0.8v1.2M58.5 21.9v4.2m0 19.8v2.2m0 0.8v2.2M59.5 21.9v1.2m0 26.8v3.2M60.5 27.9v1.2m0 3.8v2.2m0 4.8v2.2m0 1.8v1.2m0 0.8v1.2M61.5 23.9v1.2m0 19.8v1.2M62.5 24.9v1.2m0 1.8v1.2m0 3.8v1.2m0 3.8v2.2m0 0.8v1.2M63.5 19.9v1.2m0 7.8v1.2m0 2.8v1.2m0 5.8v1.2m0 3.8v2.2M64.5 33.9v2.2m0 1.8v1.2m0 1.8v1.2M65.5 27.9v2.2m0 2.8v2.2m0 0.8v1.2M66.5 24.9v1.2m0 2.8v2.2m0 0.8v1.2m0 1.8v2.2m0 0.8v2.2m0 2.8v1.2M67.5 25.9v1.2m0 1.8v1.2m0 0.8v5.2m0 1.8v1.2M70.5 25.9v1.2M72.5 36.9v1.2"/>
<path stroke="#807dba" d="M25.5 43.9v1.2M26.5 32.9v1.2m0 5.8v2.2m0 0.8v4.2m0 0.8v1.2m0 1.8v3.2m0 3.8v1.2M27.5 37.9v1.2m0 3.8v1.2m0 0.8v2.2m0 3.8v1.2m0 1.8v4.2m0 1.8v1.2M29.5 47.9v1.2M30.5 38.9v2.2m0 0.8v1.2m0 1.8v1.2m0 3.8v1.2m0 0.8v1.2M31.5 38.9v2.2m0 0.8v1.2m0 1.8v4.2m0 0.8v2.2M33.5 42.9v1.2M34.5 42.9v1.2M35.5 40.9v1.2m0 0.8v1.2m0 0.8v2.2m0 1.8v1.2m0 0.8v1.2M38.5 39.9v1.2m0 0.8v1.2m0 0.8v1.2m0 0.8v1.2m0 0.8v1.2m0 0.8v1.2M39.5 51.9v2.2m0 0.8v1.2M40.5 29.9v1.2m0 1.8v1.2m0 13.8v2.2m0 0.8v1.2M41.5 50.9v1.2M42.5 27.9v1.2m0 0.8v1.2m0 2.8v1.2m0 18.8v1.2m0 0.8v2.2M43.5 27.9v1.2m0 1.8v3.2m0 19.8v3.2M44.5 29.9v1.2m0 20.8v1.2m0 3.8v1.2M45.5 28.9v2.2m0 11.8v1.2m0 1.8v1.2m0 3.8v2.2m0 1.8v1.2M46.5 17.9v2.2m0 0.8v1.2m0 0.8v1.2m0 35.8v1.2m0 0.8v1.2M47.5 25.9v1.2m0 26.8v1.2m0 0.8v1.2M48.5 20.9v2.2m0 33.8v1.2M49.5 23.9v1.2m0 0.8v1.2m0 25.8v1.2m0 0.8v1.2m0 0.8v1.2M50.5 20.9v1.2m0 1.8v1.2m0 28.8v1.2m0 1.8v1.2M51.5 22.9v1.2m0 0.8v2.2m0 0.8v1.2m0 0.8v1.2m0 0.8v1.2m0 14.8v1.2m0 0.8v2.2M52.5 19.9v1.2m0 32.8v1.2m0 1.8v2.2M53.5 28.9v1.2m0 12.8v2.2m0 0.8v2.2M54.5 25.9v1.2m0 21.8v1.2m0 0.8v1.2M55.5 25.9v1.2m0 2.8v1.2m0 14.8v1.2M56.5 23.9v2.2m0 21.8v1.2m0 0.8v1.2M57.5 26.9v2.2m0 15.8v1.2M58.5 47.9v1.2M59.5 22.9v3.2m0 22.8v1.2M60.5 28.9v1.2m0 0.8v1.2m0 3.8v1.2m0 0.8v2.2M61.5 24.9v4.2m0 13.8v1.2m0 3.8v1.2M62.5 26.9v1.2m0 0.8v1.2m0 4.8v2.2m0 2.8v1.2M63.5 29.9v1.2m0 0.8v1.2m0 1.8v2.2m0 0.8v1.2m0 1.8v4.2M65.5 31.9v1.2M66.5 27.9v1.2m0 3.8v2.2M67.5 27.9v1.2m0 6.8v1.2m0 1.8v1.2"/>
<path stroke="#7260ab" d="M26.5 46.9v1.2M27.5 47.9v3.2m0 0.8v2.2M28.5 49.9v1.2M30.5 42.9v2.2m0 1.8v3.2M31.5 36.9v1.2m0 2.8v1.2m0 0.8v2.2m0 3.8v1.2m0 1.8v1.2M35.5 39.9v1.2m0 2.8v1.2m0 2.8v1.2M39.5 30.9v1.2m0 1.8v3.2m0 11.8v2.2M40.5 33.9v3.2m0 0.8v1.2m0 4.8v3.2m0 4.8v1.2M41.5 30.9v2.2m0 0.8v3.2m0 12.8v1.2m0 0.8v2.2m0 0.8v1.2M42.5 32.9v1.2m0 13.8v1.2m0 0.8v4.2M43.5 28.9v1.2m0 12.8v1.2m0 5.8v4.2M44.5 27.9v1.2m0 1.8v2.2m0 20.8v1.2M45.5 27.9v1.2m0 1.8v1.2m0 12.8v1.2m0 1.8v3.2m0 1.8v1.2M46.5 21.9v1.2m0 33.8v1.2m0 0.8v1.2M47.5 28.9v2.2m0 18.8v3.2M48.5 22.9v1.2m0 30.8v2.2M49.5 24.9v1.2m0 22.8v1.2m0 0.8v1.2M50.5 21.9v2.2M51.5 26.9v1.2m0 0.8v1.2m0 4.8v1.2m0 10.8v1.2m0 0.8v1.2m0 2.8v1.2M52.5 22.9v1.2M53.5 29.9v4.2m0 6.8v2.2M54.5 26.9v1.2m0 21.8v1.2M55.5 27.9v2.2m0 14.8v1.2M56.5 46.9v1.2m0 0.8v1.2M57.5 25.9v1.2m0 1.8v3.2m0 0.8v2.2m0 2.8v3.2m0 1.8v1.2M58.5 25.9v3.2m0 2.8v1.2m0 0.8v1.2m0 6.8v4.2M59.5 25.9v1.2m0 19.8v2.2M60.5 31.9v1.2m0 1.8v1.2M61.5 38.9v2.2m0 2.8v1.2M62.5 29.9v3.2m0 0.8v1.2M63.5 27.9v1.2m0 1.8v1.2m0 1.8v1.2m0 1.8v1.2M67.5 29.9v1.2"/>
<path stroke="#63449d" d="M30.5 40.9v1.2m0 3.8v1.2M35.5 41.9v1.2M39.5 32.9v1.2m0 2.8v3.2m0 2.8v1.2m0 1.8v3.2M40.5 38.9v1.2m0 0.8v2.2m0 3.8v1.2M41.5 32.9v1.2m0 2.8v1.2m0 4.8v1.2m0 2.8v3.2M42.5 36.9v2.2m0 9.8v1.2M43.5 34.9v1.2m0 2.8v2.2m0 3.8v1.2m0 0.8v1.2M44.5 32.9v1.2m0 0.8v1.2m0 13.8v2.2m0 0.8v1.2M45.5 31.9v5.2m0 0.8v1.2m0 1.8v2.2m0 0.8v1.2m0 1.8v1.2M46.5 23.9v2.2m0 31.8v1.2M47.5 30.9v1.2m0 12.8v1.2m0 1.8v2.2M48.5 23.9v3.2m0 24.8v3.2M49.5 26.9v2.2m0 18.8v1.2m0 2.8v1.2M50.5 24.9v1.2m0 0.8v1.2m0 23.8v1.2M51.5 30.9v1.2m0 4.8v1.2m0 3.8v3.2M52.5 21.9v1.2m0 0.8v2.2m0 26.8v1.2M53.5 33.9v1.2m0 4.8v1.2M54.5 27.9v1.2m0 16.8v2.2M55.5 31.9v2.2m0 0.8v1.2m0 1.8v2.2m0 1.8v3.2M56.5 26.9v1.2m0 0.8v1.2m0 15.8v1.2M57.5 34.9v3.2m0 2.8v2.2m0 0.8v1.2M58.5 28.9v2.2m0 6.8v3.2M59.5 26.9v1.2m0 16.8v2.2M60.5 36.9v1.2M61.5 29.9v1.2m0 0.8v2.2m0 0.8v1.2m0 1.8v1.2m0 1.8v2.2"/>
<path stroke="#552990" d="M39.5 39.9v3.2m0 0.8v2.2M40.5 36.9v1.2m0 1.8v1.2m0 1.8v1.2M41.5 37.9v2.2m0 0.8v2.2m0 2.8v1.2M42.5 34.9v2.2m0 4.8v1.2m0 1.8v3.2M43.5 33.9v1.2m0 0.8v3.2m0 1.8v2.2m0 4.8v2.2M44.5 33.9v1.2m0 5.8v1.2m0 3.8v2.2m0 0.8v1.2M45.5 36.9v1.2m0 0.8v2.2M46.5 27.9v1.2m0 25.8v2.2M47.5 31.9v2.2m0 0.8v2.2m0 4.8v1.2m0 2.8v2.2M48.5 26.9v2.2m0 19.8v1.2M49.5 29.9v2.2m0 11.8v1.2m0 1.8v1.2m0 1.8v1.2M50.5 25.9v1.2m0 0.8v3.2m0 18.8v2.2m0 0.8v1.2M51.5 32.9v2.2m0 0.8v1.2m0 1.8v3.2M52.5 25.9v3.2m0 9.8v1.2m0 9.8v1.2m0 0.8v1.2M53.5 34.9v1.2m0 0.8v3.2M54.5 28.9v2.2m0 7.8v1.2m0 4.8v1.2M55.5 30.9v1.2m0 3.8v1.2m0 2.8v2.2M56.5 27.9v1.2m0 8.8v1.2m0 2.8v1.2m0 0.8v1.2M58.5 30.9v1.2m0 0.8v1.2m0 1.8v2.2m0 2.8v1.2M59.5 28.9v1.2m0 11.8v1.2m0 0.8v1.2M61.5 28.9v1.2m0 0.8v1.2m0 1.8v1.2"/>
<path stroke="#471084" d="M41.5 39.9v1.2m0 2.8v2.2M42.5 38.9v3.2m0 0.8v2.2M43.5 43.9v1.2M44.5 35.9v1.2m0 0.8v3.2m0 0.8v4.2m0 1.8v1.2M46.5 26.9v1.2m0 0.8v18.2m0 0.8v1.2m0 0.8v5.2M47.5 33.9v1.2m0 1.8v5.2m0 0.8v2.2M48.5 28.9v15.2m0 0.8v1.2m0 0.8v2.2m0 0.8v2.2M49.5 31.9v11.2m0 1.8v2.2M50.5 30.9v19.2M51.5 37.9v1.2M52.5 28.9v10.2m0 0.8v10.2m0 0.8v1.2M54.5 30.9v1.2m0 0.8v5.2m0 1.8v5.2M55.5 36.9v1.2M56.5 29.9v8.2m0 0.8v3.2m0 2.8v1.2M58.5 34.9v1.2M59.5 29.9v2.2m0 0.8v6.2m0 0.8v2.2m0 0.8v1.2M61.5 35.9v2.2"/>
</g>
<g fill="#000">
<circle cx="431.9" cy="116.9" r="1.25"/>
<circle cx="436.5" cy="106.3" r="1.25"/>
<circle cx="439.1" cy="97.0" r="1.25"/>
<circle cx="433.4" cy="139.2" r="1.25"/>
<circle cx="438.0" cy="126.8" r="1.25"/>
<circle cx="440.6" cy="136.5" r="1.25"/>
<circle cx="443.7" cy="143.8" r="1.25"/>
<circle cx="444.9" cy="108.9" r="1.25"/>
<circle cx="449.0" cy="127.8" r="1.25"/>
<circle cx="452.2" cy="119.7" r="1.25"/>
<circle cx="455.1" cy="154.1" r="1.25"/>
<circle cx="456.4" cy="113.2" r="1.25"/>
<circle cx="457.9" cy="113.8" r="1.25"/>
<circle cx="460.6" cy="107.9" r="1.25"/>
<circle cx="462.0" cy="112.8" r="1.25"/>
<circle cx="463.5" cy="126.5" r="1.25"/>
<circle cx="465.1" cy="122.7" r="1.25"/>
<circle cx="466.3" cy="108.5" r="1.25"/>
<circle cx="470.9" cy="113.2" r="1.25"/>
<circle cx="472.4" cy="104.8" r="1.25"/>
<circle cx="473.9" cy="104.4" r="1.25"/>
<circle cx="475.2" cy="118.4" r="1.25"/>
<circle cx="476.2" cy="121.9" r="1.25"/>
<circle cx="477.8" cy="111.5" r="1.25"/>
<circle cx="480.8" cy="104.0" r="1.25"/>
<circle cx="481.9" cy="95.2" r="1.25"/>
<circle cx="485.0" cy="114.3" r="1.25"/>
<circle cx="486.5" cy="103.1" r="1.25"/>
<circle cx="489.0" cy="105.4" r="1.25"/>
<circle cx="490.6" cy="112.9" r="1.25"/>
<circle cx="492.0" cy="98.4" r="1.25"/>
<circle cx="495.9" cy="98.7" r="1.25"/>
<circle cx="494.8" cy="110.8" r="1.25"/>
<circle cx="498.0" cy="102.2" r="1.25"/>
<circle cx="499.0" cy="109.6" r="1.25"/>
<circle cx="500.8" cy="99.8" r="1.25"/>
<circle cx="502.9" cy="105.9" r="1.25"/>
<circle cx="504.5" cy="113.7" r="1.25"/>
<circle cx="505.7" cy="102.9" r="1.25"/>
<circle cx="507.7" cy="95.9" r="1.25"/>
<circle cx="509.1" cy="99.8" r="1.25"/>
<circle cx="510.5" cy="98.7" r="1.25"/>
<circle cx="513.3" cy="90.1" r="1.25"/>
<circle cx="514.7" cy="95.9" r="1.25"/>
<circle cx="516.1" cy="105.7" r="1.25"/>
<circle cx="517.9" cy="98.7" r="1.25"/>
<circle cx="518.9" cy="94.5" r="1.25"/>
<circle cx="520.7" cy="102.6" r="1.25"/>
<circle cx="522.4" cy="103.2" r="1.25"/>
<circle cx="523.5" cy="80.9" r="1.25"/>
<circle cx="524.4" cy="93.8" r="1.25"/>
<circle cx="526.3" cy="85.2" r="1.25"/>
<circle cx="527.6" cy="98.7" r="1.25"/>
<circle cx="529.0" cy="97.7" r="1.25"/>
<circle cx="530.7" cy="84.1" r="1.25"/>
<circle cx="533.2" cy="95.2" r="1.25"/>
<circle cx="540.4" cy="93.4" r="1.25"/>
</g>
<line x1="431.90" y1="127.30" x2="539.80" y2="87.60" stroke="#000" stroke-width="1.1" stroke-dasharray="6 1.4"/>
<rect x="424.95" y="14.4" width="125.0" height="20.80" rx="1" fill="none" stroke="#333" stroke-width="0.9"/>
<text x="487.45" y="27.90" font-size="8.9" text-anchor="middle" >NK cells</text>
<line x1="425.20" y1="41.30" x2="425.20" y2="199.40" stroke="#555555" stroke-width="1.0" />
<line x1="424.95" y1="199.00" x2="547.29" y2="199.00" stroke="#777" stroke-width="1.0" />
<line x1="421.95" y1="191.70" x2="424.95" y2="191.70" stroke="#555555" stroke-width="0.8" />
<line x1="421.95" y1="155.90" x2="424.95" y2="155.90" stroke="#555555" stroke-width="0.8" />
<line x1="440.19" y1="199.00" x2="440.19" y2="202.00" stroke="#555555" stroke-width="0.8" />
<text x="440.19" y="210.60" font-size="7.3" text-anchor="middle" textLength="8.3" lengthAdjust="spacingAndGlyphs" >25</text>
<line x1="421.95" y1="120.10" x2="424.95" y2="120.10" stroke="#555555" stroke-width="0.8" />
<line x1="475.79" y1="199.00" x2="475.79" y2="202.00" stroke="#555555" stroke-width="0.8" />
<text x="475.79" y="210.60" font-size="7.3" text-anchor="middle" textLength="8.3" lengthAdjust="spacingAndGlyphs" >50</text>
<line x1="421.95" y1="84.30" x2="424.95" y2="84.30" stroke="#555555" stroke-width="0.8" />
<line x1="511.39" y1="199.00" x2="511.39" y2="202.00" stroke="#555555" stroke-width="0.8" />
<text x="511.39" y="210.60" font-size="7.3" text-anchor="middle" textLength="8.3" lengthAdjust="spacingAndGlyphs" >75</text>
<line x1="421.95" y1="48.50" x2="424.95" y2="48.50" stroke="#555555" stroke-width="0.8" />
<line x1="546.99" y1="199.00" x2="546.99" y2="202.00" stroke="#555555" stroke-width="0.8" />
<text x="546.99" y="210.60" font-size="7.3" text-anchor="middle" textLength="12.9" lengthAdjust="spacingAndGlyphs" >100</text>
<text x="432.65" y="48.90" font-size="7.1" textLength="74.3" lengthAdjust="spacingAndGlyphs"><tspan font-style="italic">R</tspan> = 0.77, <tspan font-style="italic">P</tspan> &lt; 2.2 × 10<tspan dy="-3.4" font-size="4.6">−16</tspan></text>
<text x="483.40" y="225.90" font-size="9.2" text-anchor="middle" textLength="100.2" lengthAdjust="spacingAndGlyphs" >Actual chronological age</text>
<text x="483.20" y="235.20" font-size="9.2" text-anchor="middle" textLength="26.5" lengthAdjust="spacingAndGlyphs" >(years)</text>
<g transform="translate(561.06 48.50) scale(1.424 1.432)" fill="none" stroke-width="1.08">
<path stroke="#fee4d8" d="M0.5 21.9v1.2m0 74.8v1.2M1.5 20.9v1.2m0 1.8v1.2m0 71.8v1.2M2.5 80.9v1.2M3.5 38.9v1.2m0 44.8v1.2M4.5 31.9v1.2m0 8.8v1.2m0 18.8v1.2m0 14.8v1.2M5.5 40.9v1.2m0 34.8v1.2M6.5 39.9v1.2m0 1.8v1.2M7.5 34.9v1.2m0 15.8v1.2m0 31.8v1.2M8.5 26.9v1.2m0 2.8v1.2m0 2.8v1.2m0 48.8v1.2m0 2.8v1.2M9.5 40.9v1.2m0 14.8v2.2m0 23.8v1.2M10.5 35.9v2.2m0 47.8v1.2M11.5 31.9v2.2m0 0.8v2.2m0 53.8v2.2M12.5 96.9v2.2M13.5 36.9v2.2m0 0.8v1.2m0 41.8v1.2m0 2.8v3.2m0 1.8v2.2M14.5 95.9v1.2M15.5 41.9v1.2m0 38.8v1.2M16.5 55.9v1.2m0 9.8v1.2m0 14.8v1.2m0 0.8v2.2M17.5 34.9v1.2m0 57.8v1.2m0 1.8v1.2m0 0.8v1.2M18.5 89.9v1.2M19.5 78.9v1.2M20.5 30.9v1.2m0 2.8v1.2m0 59.8v1.2m0 0.8v1.2M21.5 61.9v1.2m0 11.8v1.2m0 0.8v1.2m0 0.8v1.2m0 0.8v1.2M22.5 27.9v2.2m0 58.8v2.2m0 0.8v1.2M24.5 30.9v1.2m0 0.8v1.2m0 1.8v2.2m0 42.8v1.2m0 4.8v1.2m0 0.8v1.2m0 1.8v1.2M25.5 27.9v2.2m0 1.8v1.2m0 40.8v1.2m0 1.8v1.2m0 0.8v2.2M26.5 19.9v2.2m0 0.8v2.2m0 0.8v1.2m0 54.8v3.2M27.5 24.9v1.2m0 0.8v2.2m0 0.8v1.2m0 50.8v1.2m0 1.8v1.2M28.5 22.9v1.2m0 0.8v1.2M29.5 24.9v1.2m0 2.8v1.2m0 49.8v1.2m0 1.8v1.2m0 1.8v2.2M30.5 26.9v1.2m0 46.8v1.2m0 2.8v3.2M31.5 19.9v6.2m0 6.8v1.2m0 37.8v1.2m0 0.8v1.2m0 0.8v2.2m0 0.8v1.2m0 2.8v1.2M32.5 28.9v1.2M33.5 11.9v2.2m0 0.8v2.2m0 49.8v2.2m0 0.8v1.2m0 3.8v1.2m0 0.8v1.2M34.5 19.9v1.2m0 3.8v1.2m0 1.8v1.2m0 47.8v1.2M35.5 21.9v1.2m0 50.8v1.2m0 4.8v1.2m0 3.8v1.2M36.5 10.9v1.2m0 2.8v1.2m0 1.8v1.2m0 56.8v2.2m0 0.8v2.2m0 0.8v1.2m0 0.8v1.2M37.5 13.9v1.2m0 3.8v1.2m0 2.8v1.2m0 51.8v1.2m0 2.8v1.2m0 2.8v1.2M38.5 7.9v1.2m0 2.8v1.2m0 76.8v1.2M39.5 91.9v1.2M41.5 9.9v1.2m0 80.8v1.2m0 0.8v1.2M42.5 14.9v1.2m0 68.8v1.2m0 1.8v2.2m0 0.8v1.2M43.5 9.9v1.2m0 2.8v1.2m0 68.8v1.2m0 0.8v1.2m0 1.8v1.2m0 0.8v4.2M44.5 74.9v1.2m0 7.8v1.2m0 1.8v2.2M45.5 4.9v1.2m0 0.8v3.2m0 0.8v2.2m0 64.8v1.2m0 6.8v1.2m0 1.8v1.2m0 0.8v1.2M46.5 1.9v2.2m0 78.8v1.2m0 0.8v1.2m0 0.8v1.2m0 2.8v3.2M47.5 7.9v1.2m0 0.8v1.2m0 69.8v1.2m0 2.8v2.2m0 1.8v1.2M48.5 8.9v1.2m0 74.8v1.2m0 4.8v1.2M49.5 0.9v1.2m0 3.8v1.2m0 76.8v1.2m0 3.8v2.2m0 0.8v1.2M50.5 6.9v1.2m0 3.8v1.2m0 1.8v1.2m0 1.8v1.2m0 56.8v2.2m0 1.8v1.2m0 0.8v1.2m0 0.8v7.2M51.5 0.9v1.2m0 80.8v1.2m0 0.8v2.2m0 2.8v1.2m0 2.8v1.2M52.5 0.9v2.2m0 7.8v1.2m0 70.8v2.2m0 1.8v2.2m0 1.8v2.2M53.5 4.9v1.2m0 1.8v1.2m0 0.8v2.2m0 61.8v1.2m0 1.8v1.2m0 1.8v3.2M54.5 4.9v3.2m0 1.8v1.2m0 61.8v1.2m0 0.8v2.2m0 0.8v2.2M55.5 76.9v1.2M56.5 4.9v1.2m0 1.8v2.2m0 60.8v1.2m0 2.8v1.2m0 0.8v2.2m0 1.8v1.2m0 0.8v1.2M57.5 7.9v1.2m0 64.8v1.2M58.5 76.9v1.2M59.5 -0.1v1.2m0 2.8v1.2m0 66.8v1.2m0 0.8v2.2M60.5 0.9v2.2m0 6.8v1.2m0 64.8v1.2M61.5 0.9v1.2m0 0.8v1.2m0 0.8v1.2M62.5 3.9v1.2m0 0.8v1.2m0 3.8v1.2m0 4.8v1.2m0 49.8v3.2m0 2.8v1.2M63.5 19.9v1.2m0 17.8v1.2m0 14.8v1.2M64.5 14.9v1.2m0 53.8v2.2M65.5 60.9v1.2M66.5 0.9v1.2m0 60.8v1.2M67.5 0.9v1.2m0 1.8v3.2m0 1.8v1.2m0 2.8v1.2m0 50.8v1.2m0 1.8v1.2M69.5 9.9v1.2m0 32.8v1.2m0 9.8v1.2M71.5 4.9v1.2m0 2.8v1.2m0 42.8v1.2m0 3.8v1.2M72.5 7.9v1.2m0 44.8v1.2M73.5 3.9v2.2m0 1.8v1.2m0 45.8v1.2M74.5 2.9v1.2m0 0.8v2.2m0 42.8v1.2m0 0.8v1.2m0 2.8v1.2M75.5 29.9v1.2m0 11.8v1.2M76.5 33.9v1.2M77.5 15.9v1.2m0 2.8v1.2m0 31.8v2.2m0 0.8v1.2M78.5 39.9v1.2m0 3.8v1.2"/>
<path stroke="#fdd1bf" d="M0.5 23.9v1.2m0 64.8v1.2m0 2.8v1.2m0 0.8v1.2M1.5 25.9v5.2m0 0.8v2.2m0 51.8v1.2m0 2.8v5.2m0 0.8v1.2M2.5 41.9v1.2m0 27.8v1.2M3.5 47.9v1.2m0 22.8v1.2m0 3.8v1.2m0 4.8v1.2M4.5 39.9v1.2m0 6.8v1.2m0 3.8v1.2m0 8.8v1.2m0 14.8v3.2m0 5.8v1.2M5.5 43.9v1.2m0 12.8v1.2m0 0.8v1.2m0 4.8v1.2m0 8.8v1.2M6.5 44.9v1.2m0 1.8v1.2m0 5.8v1.2m0 7.8v1.2m0 2.8v1.2m0 1.8v2.2m0 2.8v1.2M7.5 57.9v1.2m0 16.8v1.2m0 0.8v1.2M8.5 32.9v2.2m0 0.8v1.2m0 5.8v1.2m0 23.8v1.2m0 14.8v1.2m0 1.8v1.2m0 3.8v1.2M9.5 41.9v1.2m0 21.8v1.2m0 5.8v1.2m0 5.8v1.2M10.5 37.9v3.2m0 0.8v1.2m0 0.8v1.2m0 0.8v1.2m0 3.8v1.2m0 2.8v1.2m0 2.8v1.2m0 9.8v1.2m0 9.8v1.2m0 0.8v3.2m0 1.8v3.2m0 0.8v1.2M11.5 30.9v1.2m0 1.8v1.2m0 1.8v1.2m0 41.8v1.2m0 0.8v2.2m0 0.8v2.2m0 1.8v2.2M12.5 29.9v1.2m0 0.8v2.2m0 1.8v1.2m0 57.8v2.2M13.5 42.9v1.2m0 2.8v1.2m0 28.8v1.2m0 1.8v1.2m0 0.8v1.2m0 0.8v3.2m0 2.8v1.2M14.5 30.9v2.2m0 2.8v1.2m0 51.8v3.2M15.5 46.9v1.2M16.5 57.9v1.2m0 10.8v1.2m0 5.8v1.2m0 8.8v1.2M17.5 37.9v1.2m0 0.8v1.2m0 1.8v2.2m0 37.8v1.2m0 4.8v2.2m0 6.8v1.2M18.5 36.9v1.2m0 48.8v3.2m0 0.8v3.2M19.5 43.9v1.2m0 27.8v1.2m0 5.8v1.2M20.5 33.9v1.2m0 1.8v1.2m0 56.8v1.2m0 0.8v1.2M21.5 35.9v1.2m0 1.8v1.2m0 4.8v1.2m0 3.8v1.2m0 19.8v1.2M22.5 29.9v4.2m0 1.8v2.2m0 43.8v1.2m0 0.8v5.2M23.5 62.9v1.2M24.5 33.9v1.2m0 4.8v1.2m0 0.8v1.2m0 34.8v2.2m0 2.8v1.2m0 0.8v2.2m0 0.8v1.2M25.5 29.9v2.2m0 2.8v1.2m0 35.8v1.2m0 7.8v1.2M26.5 21.9v1.2m0 1.8v1.2m0 0.8v1.2m0 0.8v1.2m0 3.8v1.2m0 38.8v2.2m0 1.8v4.2m0 3.8v2.2M27.5 28.9v1.2m0 3.8v1.2m0 39.8v1.2m0 0.8v4.2m0 1.8v1.2M28.5 25.9v1.2m0 52.8v1.2m0 1.8v1.2m0 0.8v1.2M29.5 20.9v1.2m0 1.8v1.2m0 2.8v1.2m0 1.8v1.2m0 45.8v2.2m0 3.8v1.2M30.5 23.9v1.2m0 0.8v1.2m0 0.8v2.2m0 0.8v1.2m0 2.8v1.2m0 40.8v2.2M31.5 26.9v1.2m0 0.8v2.2m0 3.8v1.2m0 0.8v1.2m0 20.8v1.2m0 1.8v10.2m0 0.8v1.2m0 0.8v1.2m0 3.8v1.2M32.5 23.9v3.2m0 0.8v1.2m0 5.8v1.2m0 32.8v1.2m0 3.8v1.2m0 1.8v3.2M33.5 13.9v1.2m0 1.8v1.2m0 0.8v3.2m0 6.8v1.2m0 33.8v3.2m0 1.8v1.2m0 0.8v4.2M34.5 21.9v3.2m0 42.8v1.2m0 2.8v3.2m0 0.8v1.2M35.5 19.9v1.2m0 2.8v3.2m0 0.8v1.2m0 45.8v3.2m0 0.8v1.2M36.5 16.9v1.2m0 0.8v3.2m0 1.8v1.2m0 0.8v1.2m0 1.8v1.2m0 37.8v1.2m0 0.8v2.2m0 1.8v2.2m0 1.8v1.2M37.5 14.9v2.2m0 0.8v1.2m0 0.8v1.2m0 43.8v1.2m0 11.8v2.2m0 0.8v3.2M38.5 13.9v1.2m0 5.8v1.2m0 59.8v2.2m0 0.8v1.2m0 0.8v1.2M39.5 16.9v2.2m0 0.8v1.2m0 1.8v1.2m0 54.8v1.2m0 0.8v1.2m0 0.8v1.2m0 0.8v1.2m0 0.8v5.2M40.5 22.9v3.2m0 52.8v1.2m0 0.8v4.2m0 2.8v1.2M41.5 11.9v2.2m0 2.8v1.2m0 63.8v1.2m0 2.8v2.2m0 1.8v2.2m0 2.8v1.2M42.5 11.9v1.2m0 2.8v2.2m0 61.8v1.2m0 1.8v1.2m0 2.8v1.2m0 1.8v1.2m0 0.8v1.2m0 0.8v1.2M43.5 10.9v2.2m0 1.8v1.2m0 2.8v1.2m0 59.8v1.2m0 1.8v1.2m0 2.8v1.2M44.5 13.9v2.2m0 63.8v2.2m0 0.8v1.2m0 0.8v2.2m0 1.8v2.2M45.5 9.9v1.2m0 1.8v2.2m0 57.8v1.2m0 1.8v1.2m0 4.8v1.2m0 0.8v2.2m0 0.8v1.2M46.5 3.9v5.2m0 0.8v6.2m0 63.8v3.2m0 0.8v1.2m0 0.8v1.2M47.5 11.9v3.2m0 59.8v1.2m0 3.8v1.2m0 0.8v3.2m0 1.8v1.2m0 1.8v1.2M48.5 5.9v1.2m0 4.8v2.2m0 61.8v2.2m0 0.8v1.2m0 0.8v1.2m0 1.8v1.2m0 0.8v1.2M49.5 7.9v1.2m0 70.8v1.2m0 0.8v2.2m0 1.8v1.2m0 0.8v1.2m0 3.8v1.2M50.5 8.9v2.2m0 2.8v1.2m0 0.8v1.2m0 60.8v2.2M51.5 -0.1v1.2m0 0.8v1.2m0 1.8v2.2m0 0.8v1.2m0 1.8v1.2m0 64.8v1.2m0 0.8v1.2m0 0.8v2.2m0 5.8v1.2M52.5 -0.1v1.2m0 1.8v7.2m0 63.8v1.2m0 0.8v2.2m0 0.8v1.2m0 0.8v1.2m0 2.8v2.2M53.5 6.9v1.2m0 3.8v1.2m0 0.8v1.2m0 0.8v1.2m0 55.8v1.2m0 0.8v2.2m0 0.8v1.2m0 3.8v1.2M54.5 7.9v1.2m0 3.8v3.2m0 0.8v1.2m0 51.8v3.2M55.5 1.9v1.2m0 0.8v1.2m0 1.8v1.2m0 5.8v1.2m0 55.8v1.2m0 2.8v1.2m0 1.8v1.2M56.5 -0.1v1.2m0 2.8v1.2m0 0.8v2.2m0 4.8v2.2m0 50.8v1.2m0 2.8v1.2m0 7.8v1.2M57.5 2.9v1.2m0 5.8v1.2m0 0.8v2.2m0 62.8v4.2m0 1.8v1.2M58.5 0.9v3.2m0 0.8v1.2m0 67.8v1.2M59.5 2.9v1.2m0 64.8v1.2M60.5 6.9v1.2m0 64.8v2.2M61.5 -0.1v1.2m0 65.8v2.2m0 0.8v4.2M62.5 4.9v1.2m0 0.8v4.2m0 0.8v2.2m0 4.8v1.2m0 40.8v2.2m0 1.8v1.2m0 0.8v1.2m0 2.8v1.2m0 0.8v1.2M63.5 16.9v2.2m0 17.8v1.2M64.5 11.9v2.2m0 1.8v3.2m0 39.8v1.2m0 5.8v2.2M65.5 9.9v3.2m0 0.8v1.2m0 47.8v3.2m0 0.8v1.2M66.5 1.9v4.2m0 1.8v1.2m0 2.8v1.2m0 42.8v1.2m0 1.8v2.2m0 0.8v1.2m0 0.8v2.2M67.5 1.9v1.2m0 4.8v1.2m0 0.8v1.2m0 52.8v1.2m0 0.8v2.2M68.5 10.9v2.2m0 50.8v1.2m0 0.8v2.2M69.5 16.9v1.2m0 11.8v2.2m0 2.8v1.2m0 0.8v1.2m0 9.8v1.2M70.5 14.9v1.2m0 9.8v1.2m0 2.8v2.2m0 4.8v1.2m0 2.8v1.2m0 12.8v1.2M71.5 2.9v1.2m0 5.8v1.2m0 2.8v1.2m0 33.8v4.2m0 0.8v3.2M72.5 5.9v2.2m0 4.8v1.2m0 34.8v1.2m0 0.8v1.2m0 0.8v1.2M73.5 5.9v2.2m0 0.8v2.2m0 1.8v1.2m0 38.8v1.2M74.5 3.9v1.2m0 1.8v1.2m0 0.8v1.2m0 0.8v2.2m0 3.8v2.2m0 31.8v1.2m0 0.8v2.2m0 1.8v1.2M75.5 18.9v1.2m0 0.8v1.2m0 6.8v1.2m0 3.8v1.2m0 11.8v1.2m0 0.8v1.2M76.5 16.9v1.2m0 13.8v2.2M77.5 16.9v1.2m0 31.8v1.2m0 0.8v1.2m0 3.8v1.2"/>
<path stroke="#fcbba1" d="M0.5 24.9v2.2m0 0.8v1.2m0 2.8v1.2m0 54.8v1.2m0 1.8v3.2M1.5 30.9v1.2m0 2.8v1.2m0 0.8v3.2m0 35.8v1.2m0 2.8v2.2m0 1.8v2.2m0 0.8v3.2M2.5 47.9v1.2m0 9.8v1.2m0 3.8v2.2m0 8.8v1.2M3.5 54.9v1.2m0 5.8v1.2m0 5.8v1.2M4.5 71.9v1.2M5.5 49.9v1.2m0 13.8v1.2M6.5 56.9v1.2M7.5 63.9v1.2M8.5 36.9v2.2m0 0.8v2.2m0 28.8v1.2m0 1.8v1.2m0 1.8v2.2m0 0.8v4.2m0 1.8v1.2m0 0.8v1.2m0 0.8v1.2M9.5 70.9v1.2M10.5 40.9v1.2m0 0.8v1.2m0 0.8v1.2m0 0.8v2.2m0 0.8v1.2m0 0.8v3.2m0 7.8v2.2m0 1.8v1.2m0 0.8v1.2m0 3.8v3.2m0 0.8v3.2m0 0.8v1.2m0 7.8v1.2M11.5 37.9v2.2m0 2.8v1.2m0 5.8v1.2m0 0.8v1.2m0 7.8v1.2m0 10.8v2.2m0 0.8v1.2m0 0.8v2.2m0 3.8v1.2m0 1.8v1.2M12.5 27.9v1.2m0 4.8v1.2m0 1.8v3.2m0 46.8v1.2m0 1.8v2.2m0 0.8v2.2M13.5 38.9v1.2m0 0.8v2.2m0 0.8v3.2m0 0.8v1.2m0 1.8v1.2m0 3.8v1.2m0 0.8v1.2m0 9.8v1.2m0 1.8v1.2m0 2.8v1.2m0 0.8v1.2m0 1.8v1.2M14.5 32.9v1.2m0 0.8v1.2m0 0.8v1.2m0 1.8v1.2m0 35.8v1.2m0 8.8v1.2m0 3.8v4.2m0 0.8v1.2M15.5 62.9v1.2m0 0.8v1.2m0 2.8v2.2m0 1.8v1.2m0 1.8v1.2M16.5 48.9v1.2M17.5 38.9v1.2m0 0.8v2.2m0 1.8v4.2m0 0.8v1.2m0 4.8v1.2m0 15.8v1.2m0 1.8v1.2m0 0.8v5.2m0 4.8v1.2m0 1.8v1.2m0 0.8v1.2m0 0.8v2.2M18.5 35.9v1.2m0 0.8v1.2m0 0.8v2.2m0 41.8v2.2M19.5 53.9v1.2m0 2.8v1.2M20.5 31.9v1.2m0 2.8v1.2m0 1.8v2.2m0 37.8v1.2m0 4.8v1.2m0 4.8v2.2M21.5 68.9v1.2M22.5 33.9v1.2m0 3.8v3.2m0 25.8v1.2m0 9.8v3.2m0 0.8v1.2M23.5 44.9v1.2m0 5.8v1.2m0 0.8v1.2M24.5 31.9v1.2m0 1.8v1.2m0 1.8v2.2m0 2.8v3.2m0 0.8v1.2m0 7.8v1.2m0 0.8v1.2m0 2.8v1.2m0 0.8v2.2m0 0.8v5.2m0 0.8v4.2m0 2.8v1.2m0 0.8v1.2m0 0.8v1.2M25.5 33.9v1.2m0 2.8v1.2m0 25.8v1.2m0 1.8v1.2m0 0.8v1.2m0 4.8v1.2m0 0.8v1.2M26.5 27.9v1.2m0 0.8v4.2m0 0.8v1.2m0 22.8v1.2m0 2.8v1.2m0 0.8v1.2m0 3.8v1.2m0 0.8v2.2m0 2.8v1.2M27.5 30.9v1.2m0 0.8v1.2m0 0.8v3.2m0 22.8v1.2m0 7.8v5.2M28.5 21.9v1.2m0 3.8v2.2m0 1.8v1.2m0 2.8v1.2m0 36.8v3.2m0 1.8v2.2m0 1.8v1.2M29.5 26.9v1.2m0 1.8v1.2m0 43.8v2.2M30.5 24.9v1.2m0 3.8v1.2m0 0.8v1.2m0 36.8v5.2m0 0.8v1.2M31.5 25.9v1.2m0 0.8v1.2m0 1.8v2.2m0 2.8v1.2m0 4.8v1.2m0 3.8v2.2m0 1.8v2.2m0 0.8v1.2m0 0.8v3.2m0 1.8v1.2M32.5 26.9v1.2m0 2.8v2.2m0 0.8v1.2m0 26.8v1.2m0 3.8v2.2m0 0.8v4.2m0 0.8v1.2M33.5 17.9v1.2m0 2.8v3.2m0 0.8v1.2m0 6.8v1.2m0 24.8v4.2M34.5 25.9v1.2m0 3.8v1.2m0 32.8v3.2m0 0.8v3.2M35.5 26.9v1.2m0 0.8v1.2m0 0.8v1.2m0 30.8v1.2m0 0.8v2.2m0 2.8v2.2m0 0.8v1.2m0 3.8v1.2M36.5 21.9v2.2m0 0.8v1.2m0 1.8v1.2m0 1.8v1.2m0 3.8v1.2m0 27.8v3.2m0 0.8v1.2m0 1.8v2.2M37.5 20.9v2.2m0 0.8v3.2m0 1.8v1.2m0 2.8v1.2m0 31.8v1.2m0 2.8v3.2m0 0.8v2.2m0 0.8v1.2M38.5 12.9v1.2m0 0.8v4.2m0 0.8v1.2m0 52.8v1.2m0 1.8v3.2m0 0.8v1.2m0 1.8v1.2M39.5 18.9v1.2m0 0.8v2.2m0 60.8v1.2m0 0.8v1.2M40.5 25.9v2.2m0 44.8v1.2m0 2.8v1.2m0 1.8v1.2m0 3.8v2.2M41.5 10.9v1.2m0 1.8v1.2m0 0.8v1.2m0 1.8v2.2m0 61.8v3.2m0 1.8v2.2M42.5 17.9v3.2m0 0.8v2.2m0 53.8v1.2m0 1.8v2.2m0 0.8v1.2m0 0.8v1.2M43.5 12.9v1.2m0 2.8v2.2m0 54.8v1.2m0 1.8v3.2m0 0.8v2.2m0 1.8v1.2m0 1.8v1.2m0 0.8v1.2M44.5 17.9v1.2m0 1.8v2.2m0 54.8v2.2m0 1.8v1.2M45.5 14.9v3.2m0 0.8v3.2m0 47.8v1.2m0 2.8v2.2m0 0.8v1.2m0 0.8v3.2m0 0.8v1.2M46.5 15.9v2.2m0 56.8v2.2m0 0.8v2.2M47.5 10.9v1.2m0 2.8v4.2m0 54.8v1.2m0 1.8v1.2m0 9.8v1.2M48.5 10.9v1.2m0 1.8v3.2m0 55.8v3.2m0 1.8v1.2m0 0.8v1.2m0 1.8v1.2M49.5 1.9v1.2m0 1.8v1.2m0 3.8v2.2m0 2.8v1.2m0 58.8v2.2m0 1.8v1.2m0 0.8v1.2m0 2.8v1.2m0 0.8v1.2M50.5 12.9v1.2m0 7.8v1.2m0 41.8v1.2m0 3.8v2.2m0 0.8v3.2m0 6.8v1.2M51.5 2.9v2.2m0 1.8v1.2m0 0.8v2.2m0 0.8v1.2m0 0.8v1.2m0 59.8v2.2m0 0.8v1.2m0 0.8v1.2M52.5 9.9v1.2m0 0.8v3.2m0 1.8v1.2m0 53.8v2.2m0 0.8v1.2m0 1.8v1.2m0 0.8v1.2m0 0.8v1.2M53.5 12.9v1.2m0 0.8v1.2m0 0.8v1.2m0 1.8v1.2m0 46.8v3.2m0 0.8v1.2M54.5 10.9v2.2m0 2.8v1.2m0 0.8v2.2m0 43.8v1.2m0 0.8v4.2m0 3.8v1.2m0 4.8v1.2M55.5 0.9v1.2m0 0.8v1.2m0 0.8v1.2m0 1.8v4.2m0 52.8v2.2m0 0.8v1.2m0 0.8v1.2m0 0.8v1.2m0 0.8v1.2m0 0.8v1.2M56.5 9.9v3.2m0 1.8v3.2m0 0.8v1.2m0 39.8v1.2m0 0.8v2.2m0 0.8v1.2m0 0.8v1.2m0 0.8v1.2m0 3.8v1.2M57.5 10.9v1.2m0 1.8v2.2m0 0.8v1.2m0 49.8v1.2m0 1.8v3.2m0 0.8v2.2M58.5 3.9v1.2m0 0.8v1.2m0 0.8v3.2m0 57.8v2.2m0 0.8v2.2m0 1.8v1.2M59.5 5.9v1.2m0 3.8v1.2m0 52.8v1.2m0 6.8v1.2M60.5 2.9v1.2m0 0.8v2.2m0 0.8v2.2m0 2.8v1.2m0 0.8v1.2m0 45.8v1.2m0 3.8v6.2m0 1.8v1.2M61.5 1.9v1.2m0 0.8v1.2m0 3.8v5.2m0 1.8v1.2m0 48.8v1.2m0 1.8v1.2M62.5 13.9v1.2m0 0.8v1.2m0 2.8v2.2m0 35.8v1.2m0 3.8v2.2m0 0.8v1.2M64.5 13.9v1.2m0 44.8v1.2m0 1.8v3.2m0 1.8v2.2M65.5 12.9v1.2m0 0.8v2.2m0 0.8v1.2m0 40.8v1.2m0 0.8v1.2m0 2.8v1.2M66.5 8.9v3.2m0 1.8v1.2m0 1.8v1.2m0 1.8v1.2m0 31.8v1.2m0 3.8v1.2m0 1.8v1.2M67.5 6.9v1.2m0 2.8v1.2m0 2.8v1.2m0 2.8v2.2m0 34.8v8.2M68.5 9.9v1.2m0 1.8v1.2m0 0.8v1.2m0 43.8v1.2m0 0.8v2.2m0 4.8v1.2M69.5 39.9v2.2M70.5 15.9v1.2m0 6.8v1.2m0 18.8v1.2M71.5 3.9v1.2m0 0.8v3.2m0 1.8v3.2m0 2.8v2.2m0 26.8v1.2m0 0.8v1.2M72.5 8.9v3.2m0 2.8v1.2m0 31.8v1.2m0 0.8v1.2m0 0.8v1.2M73.5 10.9v2.2m0 38.8v1.2m0 2.8v1.2M74.5 7.9v1.2m0 0.8v1.2m0 1.8v4.2m0 2.8v1.2m0 0.8v1.2m0 0.8v2.2m0 3.8v1.2m0 12.8v4.2M76.5 35.9v1.2M77.5 17.9v2.2m0 0.8v2.2m0 0.8v1.2m0 5.8v1.2m0 12.8v1.2m0 0.8v3.2m0 0.8v1.2"/>
<path stroke="#fca385" d="M0.5 28.9v1.2m0 0.8v1.2m0 0.8v2.2m0 0.8v1.2m0 1.8v1.2m0 43.8v1.2m0 1.8v1.2m0 0.8v1.2M1.5 35.9v1.2m0 2.8v1.2m0 1.8v1.2m0 0.8v1.2m0 3.8v1.2m0 8.8v1.2m0 5.8v4.2m0 10.8v2.2M2.5 53.9v1.2m0 1.8v1.2M8.5 38.9v1.2m0 1.8v1.2m0 1.8v1.2m0 2.8v2.2m0 0.8v3.2m0 4.8v1.2m0 7.8v2.2m0 0.8v1.2m0 1.8v1.2M10.5 48.9v1.2m0 6.8v2.2m0 0.8v1.2m0 0.8v1.2m0 1.8v2.2m0 3.8v3.2m0 2.8v1.2M11.5 39.9v2.2m0 1.8v1.2m0 0.8v1.2m0 0.8v1.2m0 1.8v1.2m0 2.8v1.2m0 0.8v1.2m0 3.8v7.2m0 1.8v2.2m0 1.8v1.2m0 0.8v1.2m0 2.8v1.2M12.5 34.9v1.2m0 3.8v4.2m0 31.8v1.2m0 4.8v1.2m0 2.8v1.2m0 0.8v2.2m0 1.8v1.2M13.5 48.9v2.2m0 0.8v2.2m0 0.8v1.2m0 4.8v5.2m0 0.8v2.2m0 0.8v2.2m0 0.8v3.2m0 2.8v1.2M14.5 33.9v1.2m0 2.8v2.2m0 1.8v1.2m0 23.8v1.2m0 10.8v1.2m0 0.8v1.2m0 1.8v3.2m0 0.8v1.2M17.5 52.9v1.2m0 0.8v1.2m0 0.8v1.2m0 0.8v5.2m0 0.8v8.2m0 1.8v1.2m0 0.8v1.2m0 6.8v3.2M18.5 38.9v1.2m0 1.8v3.2m0 28.8v1.2m0 0.8v1.2m0 1.8v3.2m0 0.8v1.2m0 1.8v1.2M20.5 37.9v1.2m0 1.8v3.2m0 0.8v1.2m0 3.8v1.2m0 24.8v1.2m0 6.8v1.2m0 0.8v5.2m0 1.8v2.2M22.5 34.9v1.2m0 1.8v1.2m0 3.8v1.2m0 3.8v1.2m0 1.8v1.2m0 3.8v1.2m0 6.8v1.2m0 3.8v2.2m0 5.8v1.2M24.5 40.9v1.2m0 3.8v1.2m0 0.8v1.2m0 0.8v1.2m0 1.8v1.2m0 0.8v1.2m0 0.8v1.2m0 0.8v2.2m0 10.8v1.2m0 3.8v1.2M25.5 35.9v2.2m0 0.8v1.2m0 0.8v2.2m0 17.8v1.2m0 0.8v2.2m0 3.8v1.2m0 0.8v1.2m0 0.8v1.2M26.5 35.9v3.2m0 7.8v1.2m0 6.8v1.2m0 0.8v2.2m0 4.8v1.2m0 0.8v2.2m0 0.8v1.2m0 0.8v1.2M27.5 31.9v1.2m0 4.8v1.2m0 3.8v1.2m0 3.8v1.2m0 13.8v5.2m0 0.8v1.2m0 5.8v1.2M28.5 29.9v1.2m0 0.8v1.2m0 37.8v2.2m0 3.8v1.2M29.5 31.9v1.2m0 1.8v2.2m0 0.8v2.2m0 26.8v3.2m0 0.8v4.2m0 1.8v1.2M30.5 32.9v2.2m0 0.8v3.2m0 7.8v1.2m0 6.8v1.2m0 4.8v1.2m0 0.8v1.2m0 0.8v2.2m0 0.8v2.2M31.5 33.9v1.2m0 2.8v4.2m0 0.8v2.2m0 4.8v1.2m0 1.8v1.2m0 0.8v1.2m0 3.8v1.2M32.5 29.9v1.2m0 1.8v1.2m0 1.8v2.2m0 1.8v1.2m0 11.8v1.2m0 10.8v2.2M33.5 24.9v1.2m0 0.8v1.2m0 1.8v4.2m0 1.8v3.2m0 4.8v1.2m0 5.8v1.2m0 2.8v1.2m0 0.8v1.2M34.5 26.9v1.2m0 0.8v2.2m0 0.8v1.2m0 0.8v4.2m0 18.8v1.2m0 3.8v1.2m0 0.8v1.2M35.5 29.9v1.2m0 1.8v3.2m0 0.8v2.2m0 1.8v1.2m0 21.8v1.2m0 2.8v2.2m0 1.8v1.2M36.5 29.9v1.2m0 0.8v4.2m0 5.8v1.2m0 13.8v1.2m0 1.8v1.2m0 2.8v1.2M37.5 26.9v2.2m0 2.8v1.2m0 0.8v1.2m0 24.8v1.2m0 2.8v1.2m0 1.8v3.2m0 2.8v1.2M38.5 18.9v1.2m0 2.8v3.2m0 41.8v1.2m0 2.8v1.2M39.5 73.9v3.2m0 0.8v1.2m0 0.8v1.2m0 0.8v1.2M40.5 27.9v2.2m0 38.8v1.2m0 3.8v3.2M41.5 14.9v1.2m0 54.8v1.2m0 3.8v1.2m0 1.8v3.2M42.5 24.9v1.2m0 43.8v1.2m0 0.8v1.2m0 2.8v2.2m0 0.8v1.2M43.5 15.9v1.2m0 3.8v3.2m0 47.8v2.2m0 0.8v2.2M44.5 18.9v2.2m0 1.8v1.2m0 42.8v1.2m0 2.8v3.2m0 1.8v1.2M45.5 17.9v1.2m0 2.8v2.2m0 43.8v1.2m0 1.8v2.2M46.5 17.9v2.2m0 49.8v2.2m0 0.8v2.2m0 1.8v1.2M47.5 18.9v1.2m0 0.8v1.2m0 49.8v2.2m0 1.8v1.2m0 0.8v2.2M48.5 16.9v3.2m0 1.8v1.2m0 42.8v1.2m0 1.8v4.2m0 8.8v1.2M49.5 11.9v3.2m0 1.8v1.2m0 47.8v1.2m0 2.8v1.2m0 1.8v2.2m0 1.8v2.2M50.5 16.9v1.2m0 0.8v2.2m0 42.8v1.2m0 2.8v2.2m0 1.8v1.2M51.5 14.9v1.2m0 53.8v3.2m0 0.8v1.2M52.5 15.9v1.2m0 46.8v2.2m0 1.8v1.2m0 0.8v2.2M53.5 18.9v1.2m0 0.8v1.2m0 41.8v3.2m0 11.8v1.2M54.5 19.9v1.2m0 39.8v1.2m0 0.8v1.2m0 0.8v1.2M55.5 5.9v1.2m0 4.8v2.2m0 0.8v1.2m0 0.8v1.2m0 48.8v1.2m0 0.8v1.2m0 2.8v1.2M56.5 17.9v1.2m0 0.8v2.2m0 38.8v1.2m0 1.8v1.2m0 2.8v1.2M57.5 17.9v1.2m0 0.8v1.2m0 40.8v1.2m0 0.8v1.2m0 0.8v1.2m0 2.8v1.2M58.5 6.9v1.2m0 2.8v3.2m0 50.8v2.2m0 3.8v1.2m0 2.8v1.2M59.5 4.9v1.2m0 2.8v1.2m0 1.8v3.2m0 48.8v1.2m0 1.8v2.2m0 0.8v2.2M60.5 10.9v2.2m0 0.8v1.2m0 0.8v2.2m0 0.8v1.2m0 38.8v2.2m0 2.8v3.2M61.5 6.9v2.2m0 4.8v2.2m0 1.8v1.2m0 40.8v1.2m0 0.8v4.2M62.5 17.9v1.2m0 2.8v2.2m0 4.8v1.2m0 21.8v2.2m0 0.8v3.2m0 0.8v2.2M64.5 18.9v3.2m0 0.8v1.2m0 1.8v1.2m0 33.8v2.2M65.5 16.9v1.2m0 0.8v1.2m0 0.8v1.2m0 32.8v2.2m0 0.8v2.2M66.5 6.9v1.2m0 4.8v1.2m0 0.8v2.2m0 1.8v1.2m0 0.8v1.2m0 0.8v1.2m0 23.8v1.2m0 0.8v1.2m0 0.8v1.2m0 1.8v1.2m0 0.8v1.2M67.5 11.9v1.2m0 0.8v1.2m0 0.8v1.2m0 6.8v1.2m0 29.8v1.2M68.5 13.9v1.2m0 0.8v1.2m0 2.8v1.2m0 37.8v1.2M71.5 14.9v2.2m0 4.8v1.2m0 0.8v1.2m0 15.8v1.2m0 0.8v2.2m0 1.8v1.2M72.5 11.9v1.2m0 0.8v1.2m0 0.8v2.2m0 28.8v1.2m0 6.8v1.2M73.5 13.9v2.2m0 0.8v1.2m0 30.8v2.2M74.5 18.9v1.2m0 2.8v1.2m0 1.8v1.2m0 0.8v1.2m0 2.8v3.2m0 0.8v4.2m0 0.8v2.2m0 5.8v1.2M77.5 24.9v1.2m0 0.8v3.2m0 7.8v1.2m0 1.8v1.2m0 0.8v1.2"/>
<path stroke="#fc8b6b" d="M0.5 36.9v2.2m0 1.8v1.2m0 1.8v1.2m0 1.8v1.2m0 28.8v1.2m0 0.8v1.2m0 1.8v2.2m0 0.8v2.2M1.5 41.9v1.2m0 0.8v1.2m0 0.8v2.2m0 0.8v1.2m0 0.8v1.2m0 3.8v1.2m0 6.8v1.2m0 5.8v5.2m0 0.8v3.2M2.5 71.9v1.2M8.5 43.9v1.2m0 2.8v1.2m0 6.8v1.2m0 0.8v1.2m0 1.8v4.2m0 0.8v2.2m0 4.8v1.2m0 1.8v1.2M10.5 60.9v1.2M11.5 41.9v1.2m0 1.8v1.2m0 0.8v1.2m0 0.8v1.2m0 2.8v1.2m0 1.8v1.2m0 0.8v3.2m0 7.8v2.2M12.5 44.9v2.2m0 1.8v1.2m0 17.8v1.2m0 0.8v1.2m0 1.8v1.2m0 3.8v2.2m0 0.8v1.2m0 0.8v3.2M13.5 53.9v1.2m0 1.8v1.2m0 1.8v1.2m0 4.8v1.2M14.5 42.9v1.2m0 0.8v1.2m0 9.8v1.2m0 14.8v1.2m0 9.8v1.2M17.5 48.9v1.2m0 7.8v1.2m0 14.8v1.2m0 8.8v1.2M18.5 44.9v2.2m0 2.8v1.2m0 10.8v1.2m0 4.8v2.2m0 0.8v1.2m0 0.8v1.2m0 0.8v1.2m0 1.8v1.2m0 2.8v1.2M20.5 43.9v1.2m0 5.8v1.2m0 0.8v1.2m0 7.8v1.2m0 7.8v1.2m0 0.8v1.2m0 0.8v1.2m0 1.8v1.2m0 1.8v1.2m0 0.8v1.2M22.5 41.9v1.2m0 0.8v3.2m0 2.8v1.2m0 0.8v2.2m0 0.8v1.2m0 0.8v3.2m0 5.8v2.2m0 2.8v4.2M24.5 48.9v1.2m0 0.8v2.2m0 0.8v1.2m0 5.8v1.2m0 0.8v1.2m0 1.8v1.2M25.5 42.9v2.2m0 0.8v1.2m0 2.8v6.2m0 2.8v2.2m0 0.8v1.2m0 2.8v1.2M26.5 38.9v1.2m0 0.8v1.2m0 0.8v1.2m0 3.8v1.2m0 0.8v2.2m0 0.8v2.2m0 4.8v3.2m0 4.8v1.2M27.5 38.9v4.2m0 1.8v1.2m0 0.8v1.2m0 0.8v1.2m0 0.8v1.2m0 1.8v1.2m0 0.8v5.2m0 0.8v1.2M28.5 32.9v2.2m0 0.8v2.2m0 0.8v2.2m0 24.8v1.2m0 0.8v3.2M29.5 33.9v1.2m0 4.8v1.2m0 20.8v1.2m0 0.8v1.2m0 0.8v1.2m0 2.8v1.2M30.5 38.9v2.2m0 3.8v2.2m0 5.8v2.2m0 1.8v1.2m0 0.8v2.2m0 5.8v1.2M31.5 44.9v2.2m0 1.8v1.2M32.5 38.9v1.2m0 4.8v1.2m0 2.8v1.2m0 1.8v1.2m0 0.8v2.2m0 2.8v3.2m0 1.8v1.2M33.5 34.9v1.2m0 2.8v4.2m0 1.8v2.2m0 0.8v1.2m0 3.8v2.2m0 0.8v1.2m0 0.8v2.2M34.5 32.9v1.2m0 3.8v2.2m0 5.8v1.2m0 0.8v1.2m0 0.8v1.2m0 2.8v1.2m0 0.8v1.2m0 0.8v4.2m0 0.8v1.2M35.5 53.9v1.2m0 1.8v4.2m0 0.8v1.2m0 3.8v1.2M36.5 26.9v1.2m0 9.8v4.2m0 3.8v1.2m0 2.8v1.2m0 1.8v1.2m0 4.8v1.2m0 1.8v2.2M37.5 29.9v2.2m0 22.8v1.2m0 2.8v1.2m0 1.8v2.2M38.5 64.9v1.2m0 0.8v1.2m0 0.8v3.2m0 0.8v1.2m0 1.8v1.2m0 2.8v1.2M39.5 23.9v1.2m0 2.8v1.2m0 38.8v1.2m0 0.8v2.2m0 4.8v1.2M40.5 29.9v2.2m0 33.8v1.2m0 2.8v1.2m0 0.8v1.2M41.5 17.9v1.2m0 1.8v3.2m0 0.8v2.2m0 40.8v3.2m0 1.8v3.2m0 0.8v2.2M42.5 23.9v1.2m0 1.8v2.2m0 39.8v1.2m0 0.8v1.2m0 0.8v3.2M43.5 19.9v1.2m0 3.8v2.2m0 38.8v1.2m0 0.8v4.2M44.5 23.9v3.2m0 41.8v2.2m0 2.8v1.2M45.5 23.9v1.2m0 0.8v1.2m0 31.8v1.2m0 1.8v1.2m0 0.8v1.2m0 1.8v1.2M46.5 19.9v2.2m0 1.8v1.2m0 41.8v1.2m0 0.8v1.2m0 1.8v1.2M47.5 19.9v1.2m0 0.8v1.2m0 42.8v1.2m0 2.8v2.2M48.5 19.9v2.2m0 44.8v2.2M49.5 15.9v1.2m0 0.8v1.2m0 2.8v1.2m0 48.8v1.2M50.5 20.9v1.2m0 1.8v1.2m0 40.8v1.2M51.5 12.9v1.2m0 1.8v4.2m0 0.8v1.2m0 41.8v1.2m0 0.8v1.2m0 0.8v2.2m0 2.8v1.2M52.5 14.9v1.2m0 1.8v2.2m0 0.8v3.2m0 36.8v1.2m0 0.8v1.2m0 1.8v2.2m0 0.8v1.2M53.5 21.9v1.2m0 38.8v2.2m0 2.8v1.2M54.5 22.9v2.2m0 32.8v1.2m0 0.8v1.2m0 0.8v1.2M55.5 15.9v1.2m0 1.8v2.2m0 1.8v1.2m0 35.8v5.2M56.5 21.9v6.2m0 27.8v1.2m0 0.8v2.2M57.5 15.9v1.2m0 1.8v1.2m0 1.8v1.2m0 37.8v1.2m0 0.8v1.2m0 0.8v1.2m0 2.8v1.2M58.5 13.9v3.2m0 0.8v1.2m0 43.8v2.2m0 1.8v2.2M59.5 9.9v1.2m0 3.8v1.2m0 2.8v1.2m0 38.8v1.2m0 0.8v3.2m0 1.8v1.2M60.5 17.9v1.2m0 1.8v1.2m0 34.8v2.2m0 1.8v1.2m0 0.8v1.2M61.5 16.9v1.2m0 1.8v1.2m0 31.8v1.2m0 0.8v1.2m0 0.8v1.2m0 0.8v1.2m0 0.8v1.2M62.5 23.9v2.2m0 1.8v1.2m0 1.8v2.2m0 1.8v2.2m0 0.8v2.2m0 6.8v5.2M64.5 21.9v1.2m0 0.8v2.2m0 25.8v1.2m0 0.8v5.2M65.5 19.9v1.2m0 0.8v1.2m0 0.8v1.2m0 25.8v1.2M66.5 17.9v1.2m0 2.8v1.2m0 0.8v3.2m0 1.8v1.2m0 3.8v1.2m0 13.8v1.2m0 0.8v1.2m0 1.8v1.2M67.5 17.9v1.2m0 1.8v1.2m0 2.8v3.2m0 0.8v1.2m0 3.8v1.2m0 9.8v1.2m0 3.8v2.2m0 0.8v1.2M68.5 16.9v3.2m0 0.8v1.2m0 31.8v5.2m0 1.8v1.2M71.5 18.9v3.2m0 0.8v1.2m0 0.8v4.2m0 1.8v1.2m0 0.8v3.2m0 1.8v2.2m0 1.8v1.2m0 1.8v1.2M72.5 17.9v3.2m0 3.8v1.2m0 3.8v1.2m0 10.8v4.2M73.5 15.9v1.2m0 0.8v3.2m0 1.8v1.2m0 3.8v1.2m0 17.8v1.2m0 2.8v1.2m0 1.8v1.2M74.5 20.9v1.2m0 4.8v1.2m0 0.8v1.2m0 0.8v1.2m0 7.8v1.2M77.5 22.9v1.2m0 1.8v1.2m0 2.8v1.2m0 0.8v2.2m0 4.8v2.2m0 0.8v1.2m0 0.8v1.2m0 0.8v1.2"/>
<path stroke="#fb7353" d="M0.5 34.9v1.2m0 3.8v1.2m0 0.8v2.2m0 1.8v1.2m0 17.8v1.2m0 5.8v2.2m0 0.8v2.2m0 2.8v2.2M1.5 47.9v1.2m0 3.8v3.2m0 4.8v3.2m0 0.8v1.2M8.5 50.9v1.2m0 2.8v1.2m0 0.8v1.2m0 0.8v1.2m0 4.8v1.2M12.5 47.9v1.2m0 2.8v5.2m0 2.8v2.2m0 0.8v2.2m0 6.8v1.2m0 0.8v2.2m0 0.8v1.2M14.5 40.9v1.2m0 3.8v1.2m0 0.8v1.2m0 2.8v1.2m0 1.8v1.2m0 0.8v1.2m0 0.8v1.2m0 0.8v1.2m0 0.8v1.2m0 3.8v1.2m0 0.8v1.2m0 1.8v4.2m0 0.8v1.2m0 0.8v1.2m0 0.8v1.2M17.5 50.9v1.2m0 11.8v1.2M18.5 46.9v3.2m0 0.8v3.2m0 0.8v1.2m0 0.8v2.2m0 0.8v2.2m0 0.8v4.2m0 2.8v1.2m0 0.8v1.2m0 3.8v1.2M20.5 45.9v2.2m0 0.8v1.2m0 5.8v1.2m0 0.8v1.2m0 1.8v1.2m0 3.8v4.2m0 1.8v1.2m0 6.8v1.2m0 0.8v1.2M22.5 46.9v1.2m0 0.8v1.2m0 3.8v1.2m0 4.8v4.2m0 0.8v1.2m0 11.8v1.2M25.5 44.9v1.2m0 0.8v2.2m0 7.8v1.2m0 8.8v1.2M26.5 39.9v1.2m0 0.8v1.2m0 0.8v2.2m0 2.8v1.2m0 1.8v1.2m0 2.8v1.2M27.5 43.9v1.2m0 0.8v1.2m0 2.8v1.2m0 1.8v1.2m0 0.8v1.2M28.5 37.9v1.2m0 1.8v1.2m0 0.8v1.2m0 5.8v1.2m0 7.8v1.2m0 0.8v1.2m0 0.8v1.2m0 0.8v1.2m0 0.8v1.2M29.5 36.9v1.2m0 2.8v2.2m0 0.8v2.2m0 4.8v1.2m0 1.8v1.2m0 0.8v1.2m0 0.8v1.2m0 0.8v1.2m0 1.8v1.2m0 0.8v1.2M30.5 40.9v2.2m0 0.8v1.2m0 6.8v1.2m0 4.8v1.2m0 2.8v1.2M32.5 37.9v1.2m0 1.8v1.2m0 1.8v1.2m0 0.8v3.2m0 6.8v2.2M33.5 46.9v1.2m0 0.8v2.2m0 0.8v1.2M34.5 39.9v2.2m0 0.8v2.2m0 1.8v1.2m0 0.8v1.2m0 2.8v1.2m0 0.8v1.2M35.5 35.9v1.2m0 1.8v2.2m0 1.8v1.2m0 1.8v1.2m0 7.8v2.2m0 3.8v1.2M36.5 36.9v1.2m0 6.8v1.2m0 4.8v2.2m0 1.8v2.2m0 0.8v1.2m0 1.8v1.2M37.5 34.9v3.2m0 0.8v2.2m0 11.8v1.2m0 2.8v2.2m0 1.8v1.2M38.5 25.9v3.2m0 0.8v2.2m0 0.8v1.2m0 25.8v1.2m0 1.8v1.2m0 1.8v1.2M39.5 25.9v1.2m0 2.8v1.2m0 0.8v1.2m0 32.8v2.2m0 0.8v1.2m0 2.8v1.2M40.5 31.9v1.2m0 28.8v1.2m0 0.8v2.2m0 0.8v1.2m0 2.8v1.2M41.5 23.9v1.2m0 1.8v3.2m0 35.8v1.2m0 4.8v1.2M42.5 25.9v1.2m0 1.8v2.2m0 29.8v1.2m0 1.8v4.2M43.5 63.9v1.2m0 1.8v1.2M44.5 27.9v1.2m0 0.8v1.2m0 33.8v2.2m0 0.8v1.2M45.5 60.9v1.2m0 0.8v1.2m0 0.8v1.2M46.5 21.9v2.2m0 37.8v1.2m0 0.8v3.2m0 0.8v1.2M47.5 22.9v1.2m0 42.8v1.2m0 0.8v1.2M48.5 22.9v2.2m0 0.8v1.2m0 33.8v1.2m0 0.8v1.2m0 0.8v1.2M49.5 18.9v3.2m0 44.8v2.2m0 1.8v1.2M50.5 24.9v1.2m0 0.8v1.2m0 0.8v1.2m0 30.8v3.2M51.5 19.9v1.2m0 2.8v1.2m0 36.8v1.2m0 1.8v1.2m0 0.8v1.2M52.5 19.9v1.2m0 2.8v3.2m0 32.8v1.2m0 0.8v1.2M53.5 17.9v1.2m0 3.8v1.2m0 0.8v1.2M54.5 21.9v1.2m0 1.8v2.2m0 27.8v1.2m0 0.8v1.2m0 0.8v1.2M55.5 17.9v1.2m0 2.8v1.2M56.5 28.9v3.2m0 21.8v1.2M57.5 20.9v1.2m0 0.8v1.2m0 30.8v1.2m0 1.8v1.2M58.5 16.9v1.2m0 0.8v1.2m0 41.8v1.2M59.5 15.9v3.2m0 0.8v1.2m0 1.8v1.2m0 35.8v1.2M60.5 21.9v7.2m0 17.8v1.2m0 1.8v2.2m0 0.8v1.2m0 0.8v2.2M61.5 18.9v1.2m0 1.8v3.2m0 30.8v1.2m0 0.8v1.2M62.5 25.9v2.2m0 1.8v1.2m0 1.8v1.2m0 2.8v1.2m0 1.8v1.2m0 0.8v5.2m0 6.8v1.2M64.5 26.9v2.2m0 0.8v1.2m0 18.8v1.2M65.5 22.9v1.2m0 1.8v2.2m0 21.8v1.2m0 1.8v1.2m0 2.8v1.2M66.5 26.9v1.2m0 2.8v1.2m0 0.8v1.2m0 0.8v2.2m0 1.8v1.2m0 1.8v6.2M67.5 16.9v1.2m0 4.8v1.2m0 5.8v2.2m0 4.8v3.2m0 6.8v1.2m0 0.8v1.2m0 1.8v1.2m0 0.8v1.2M68.5 23.9v1.2m0 26.8v2.2M71.5 28.9v2.2m0 0.8v1.2m0 2.8v2.2m0 1.8v1.2M72.5 20.9v2.2m0 0.8v1.2m0 0.8v1.2m0 0.8v2.2m0 0.8v3.2m0 1.8v2.2m0 2.8v1.2M73.5 20.9v2.2m0 0.8v4.2m0 9.8v7.2m0 2.8v1.2M74.5 34.9v1.2M77.5 34.9v2.2"/>
<path stroke="#f6583f" d="M0.5 44.9v1.2m0 3.8v1.2m0 1.8v1.2m0 0.8v1.2m0 7.8v1.2m0 1.8v1.2m0 1.8v2.2m0 5.8v1.2M12.5 49.9v1.2m0 6.8v1.2m0 2.8v1.2m0 1.8v3.2m0 0.8v1.2m0 0.8v1.2M14.5 46.9v1.2m0 0.8v3.2m0 0.8v1.2m0 3.8v1.2m0 0.8v1.2m0 2.8v3.2m0 1.8v1.2m0 0.8v1.2M18.5 55.9v1.2m0 9.8v1.2M20.5 47.9v1.2m0 2.8v1.2m0 0.8v2.2m0 0.8v1.2m0 0.8v2.2m0 3.8v1.2m0 7.8v1.2m0 1.8v1.2M25.5 48.9v1.2m0 5.8v1.2M28.5 41.9v1.2m0 0.8v2.2m0 0.8v1.2m0 0.8v1.2m0 1.8v4.2m0 0.8v1.2m0 1.8v1.2m0 0.8v1.2M29.5 42.9v1.2m0 1.8v4.2m0 1.8v1.2m0 1.8v1.2m0 0.8v1.2m0 2.8v1.2M30.5 42.9v1.2m0 3.8v4.2m0 3.8v1.2M32.5 50.9v1.2M34.5 50.9v1.2M35.5 41.9v1.2m0 0.8v2.2m0 2.8v4.2M36.5 42.9v1.2m0 2.8v1.2m0 0.8v1.2m0 3.8v1.2M37.5 37.9v1.2m0 1.8v2.2m0 0.8v1.2m0 2.8v1.2m0 1.8v2.2m0 0.8v1.2M38.5 33.9v1.2m0 2.8v2.2m0 14.8v1.2m0 1.8v1.2m0 2.8v1.2m0 0.8v1.2M39.5 28.9v1.2m0 0.8v1.2m0 1.8v1.2m0 26.8v3.2M40.5 34.9v1.2m0 23.8v1.2m0 1.8v1.2M41.5 30.9v1.2m0 25.8v1.2m0 0.8v2.2m0 0.8v2.2m0 1.8v1.2M42.5 30.9v1.2m0 35.8v1.2M43.5 29.9v1.2m0 30.8v1.2M44.5 26.9v1.2m0 0.8v1.2m0 0.8v2.2m0 0.8v1.2m0 24.8v1.2m0 0.8v1.2M45.5 27.9v1.2m0 1.8v1.2m0 25.8v1.2m0 6.8v1.2M46.5 24.9v1.2m0 33.8v2.2m0 0.8v1.2M47.5 23.9v1.2m0 37.8v2.2m0 2.8v1.2M48.5 63.9v1.2M49.5 22.9v3.2m0 36.8v2.2m0 3.8v1.2M50.5 25.9v1.2m0 0.8v1.2m0 1.8v1.2m0 21.8v1.2m0 0.8v1.2m0 0.8v3.2M51.5 21.9v2.2m0 0.8v1.2m0 34.8v1.2M52.5 27.9v2.2m0 23.8v1.2m0 3.8v1.2M53.5 23.9v1.2m0 35.8v1.2M54.5 26.9v1.2m0 2.8v1.2m0 20.8v1.2M55.5 20.9v1.2m0 1.8v3.2m0 30.8v2.2M56.5 27.9v1.2m0 3.8v1.2m0 6.8v1.2m0 6.8v5.2m0 0.8v1.2M57.5 23.9v2.2m0 0.8v1.2m0 24.8v1.2M58.5 19.9v1.2m0 0.8v1.2m0 32.8v2.2m0 0.8v2.2M59.5 20.9v2.2m0 1.8v1.2m0 27.8v1.2m0 2.8v1.2M60.5 19.9v1.2m0 7.8v2.2m0 5.8v1.2m0 1.8v1.2m0 3.8v1.2m0 2.8v1.2m0 1.8v1.2M61.5 24.9v1.2m0 2.8v2.2m0 0.8v1.2m0 11.8v1.2m0 7.8v1.2M62.5 33.9v1.2M64.5 28.9v1.2m0 0.8v1.2m0 2.8v1.2m0 1.8v1.2m0 5.8v2.2m0 1.8v1.2m0 0.8v1.2m0 0.8v1.2M65.5 24.9v1.2m0 3.8v1.2m0 12.8v1.2m0 0.8v1.2m0 0.8v2.2m0 3.8v1.2M66.5 27.9v1.2m0 7.8v2.2m0 0.8v2.2M67.5 21.9v1.2m0 4.8v1.2m0 3.8v1.2m0 1.8v1.2m0 2.8v2.2m0 0.8v2.2m0 0.8v1.2m0 0.8v1.2M68.5 21.9v2.2m0 1.8v2.2m0 15.8v1.2m0 1.8v1.2M72.5 33.9v2.2m0 1.8v1.2m0 0.8v1.2M73.5 29.9v4.2m0 1.8v1.2m0 7.8v2.2M77.5 33.9v1.2"/>
<path stroke="#ef3c2d" d="M0.5 47.9v1.2m0 1.8v2.2m0 0.8v1.2m0 0.8v1.2m0 3.8v3.2m0 1.8v1.2m0 0.8v2.2M1.5 57.9v1.2M12.5 46.9v1.2m0 8.8v1.2m0 0.8v1.2M14.5 53.9v1.2m0 6.8v1.2M18.5 58.9v1.2M20.5 63.9v1.2M28.5 45.9v1.2m0 0.8v1.2m0 1.8v1.2m0 3.8v1.2m0 0.8v1.2M29.5 52.9v1.2M35.5 47.9v1.2m0 3.8v1.2M36.5 43.9v1.2m0 2.8v1.2M37.5 42.9v1.2m0 0.8v2.2m0 8.8v1.2M38.5 31.9v1.2m0 2.8v1.2m0 10.8v1.2m0 2.8v1.2m0 0.8v1.2m0 0.8v2.2m0 0.8v1.2m0 0.8v1.2M39.5 32.9v1.2m0 0.8v1.2m0 24.8v1.2m0 2.8v1.2M40.5 32.9v2.2m0 0.8v2.2m0 18.8v3.2m0 0.8v1.2M41.5 29.9v1.2m0 1.8v1.2m0 27.8v1.2m0 1.8v1.2M42.5 31.9v2.2m0 0.8v1.2m0 22.8v2.2m0 1.8v1.2M43.5 27.9v2.2m0 0.8v2.2m0 24.8v1.2m0 0.8v2.2m0 2.8v1.2M44.5 60.9v1.2m0 0.8v2.2M45.5 28.9v2.2m0 0.8v1.2m0 0.8v1.2m0 14.8v1.2m0 4.8v1.2M46.5 25.9v2.2m0 30.8v1.2M47.5 24.9v3.2m0 0.8v1.2m0 28.8v3.2M48.5 24.9v1.2m0 0.8v2.2M49.5 25.9v1.2m0 32.8v1.2m0 0.8v1.2M50.5 29.9v1.2m0 0.8v1.2m0 0.8v1.2m0 19.8v1.2M51.5 25.9v1.2m0 0.8v1.2m0 26.8v2.2m0 0.8v2.2m0 1.8v1.2M52.5 26.9v1.2m0 1.8v1.2m0 2.8v1.2m0 13.8v1.2m0 6.8v2.2M53.5 25.9v4.2m0 24.8v1.2m0 1.8v3.2M54.5 27.9v3.2m0 0.8v1.2m0 15.8v1.2m0 1.8v1.2m0 0.8v1.2m0 0.8v1.2M55.5 27.9v1.2m0 1.8v1.2m0 20.8v2.2m0 1.8v1.2M56.5 31.9v1.2m0 0.8v5.2m0 0.8v1.2m0 2.8v5.2M57.5 25.9v1.2m0 0.8v1.2m0 0.8v1.2m0 1.8v2.2m0 15.8v2.2m0 2.8v1.2M58.5 20.9v1.2m0 0.8v3.2m0 26.8v1.2m0 3.8v1.2m0 1.8v1.2M59.5 23.9v1.2m0 29.8v3.2M60.5 30.9v2.2m0 1.8v1.2m0 1.8v1.2m0 3.8v2.2m0 0.8v1.2m0 0.8v1.2M61.5 25.9v3.2m0 1.8v1.2m0 0.8v2.2m0 10.8v7.2M64.5 31.9v3.2m0 0.8v2.2m0 1.8v1.2m0 0.8v3.2m0 1.8v2.2M65.5 27.9v2.2m0 0.8v2.2m0 1.8v2.2m0 0.8v1.2m0 5.8v1.2m0 0.8v1.2M66.5 29.9v1.2M67.5 34.9v1.2m0 5.8v1.2M68.5 24.9v1.2m0 1.8v2.2m0 14.8v1.2m0 2.8v3.2M72.5 38.9v1.2M73.5 28.9v1.2m0 3.8v2.2m0 0.8v1.2"/>
<path stroke="#da2723" d="M0.5 48.9v1.2m0 7.8v3.2M37.5 46.9v1.2M38.5 34.9v1.2m0 0.8v1.2m0 1.8v2.2m0 6.8v3.2M39.5 35.9v3.2m0 16.8v5.2M40.5 52.9v1.2m0 1.8v1.2M41.5 35.9v1.2m0 18.8v1.2m0 1.8v1.2M42.5 51.9v1.2m0 0.8v1.2m0 2.8v1.2m0 2.8v1.2M43.5 32.9v1.2m0 21.8v1.2m0 1.8v1.2M44.5 32.9v1.2m0 21.8v4.2M45.5 32.9v1.2m0 2.8v1.2m0 10.8v1.2m0 0.8v1.2m0 1.8v2.2m0 3.8v1.2M46.5 27.9v1.2m0 0.8v1.2M47.5 27.9v1.2m0 0.8v1.2m0 25.8v1.2m0 3.8v1.2M48.5 28.9v2.2m0 25.8v1.2m0 0.8v1.2M49.5 26.9v1.2m0 29.8v2.2m0 0.8v1.2M50.5 51.9v2.2m0 2.8v1.2M51.5 30.9v1.2m0 0.8v1.2m0 20.8v1.2m0 1.8v1.2M52.5 30.9v3.2m0 1.8v3.2m0 0.8v1.2m0 5.8v2.2m0 0.8v4.2m0 1.8v1.2M53.5 29.9v2.2m0 21.8v1.2m0 0.8v2.2M54.5 32.9v3.2m0 10.8v1.2m0 2.8v1.2M55.5 26.9v1.2m0 0.8v1.2m0 20.8v2.2m0 1.8v2.2M56.5 41.9v2.2M57.5 28.9v1.2m0 0.8v2.2m0 14.8v1.2m0 0.8v1.2m0 2.8v1.2M58.5 25.9v1.2m0 0.8v1.2m0 22.8v1.2M59.5 26.9v2.2m0 1.8v1.2m0 1.8v1.2m0 15.8v3.2M60.5 32.9v2.2m0 3.8v1.2m0 1.8v1.2M61.5 35.9v1.2m0 0.8v3.2m0 0.8v3.2M64.5 38.9v1.2M65.5 32.9v2.2m0 1.8v1.2m0 0.8v5.2M68.5 29.9v2.2m0 0.8v1.2m0 0.8v4.2m0 3.8v1.2m0 1.8v1.2m0 0.8v1.2"/>
<path stroke="#c5161c" d="M0.5 56.9v1.2M38.5 41.9v4.2m0 0.8v1.2m0 4.8v1.2M39.5 39.9v1.2m0 1.8v1.2m0 8.8v3.2M40.5 37.9v3.2m0 1.8v1.2m0 0.8v1.2m0 3.8v1.2m0 0.8v1.2m0 0.8v2.2M41.5 31.9v1.2m0 3.8v1.2m0 0.8v1.2m0 1.8v1.2m0 4.8v2.2m0 2.8v1.2M42.5 33.9v1.2m0 0.8v1.2m0 0.8v1.2m0 15.8v1.2m0 0.8v1.2M43.5 33.9v3.2m0 17.8v1.2m0 0.8v1.2M44.5 34.9v2.2m0 16.8v2.2M45.5 35.9v1.2m0 0.8v1.2m0 8.8v1.2m0 2.8v2.2m0 2.8v1.2M46.5 30.9v3.2m0 20.8v1.2m0 1.8v1.2M47.5 30.9v1.2m0 23.8v1.2m0 0.8v1.2M48.5 30.9v1.2m0 1.8v2.2m0 18.8v1.2m0 1.8v1.2m0 0.8v1.2M49.5 27.9v3.2m0 25.8v1.2M50.5 32.9v1.2m0 0.8v3.2m0 8.8v2.2m0 1.8v1.2M51.5 28.9v1.2m0 4.8v2.2m0 14.8v3.2M52.5 34.9v1.2m0 2.8v1.2m0 0.8v3.2m0 0.8v2.2M53.5 31.9v4.2m0 12.8v1.2m0 0.8v1.2m0 0.8v1.2M54.5 36.9v3.2m0 1.8v2.2m0 3.8v1.2m0 0.8v1.2M55.5 29.9v1.2m0 1.8v1.2m0 3.8v1.2m0 9.8v1.2M56.5 38.9v1.2M57.5 34.9v4.2m0 3.8v3.2m0 0.8v1.2m0 0.8v1.2M58.5 26.9v1.2m0 0.8v1.2m0 0.8v1.2m0 0.8v1.2m0 13.8v1.2m0 0.8v1.2m0 2.8v2.2M59.5 28.9v1.2m0 1.8v1.2m0 2.8v1.2m0 10.8v3.2M60.5 40.9v1.2M61.5 34.9v1.2m0 0.8v1.2m0 2.8v1.2M68.5 31.9v1.2m0 0.8v1.2m0 5.8v1.2"/>
<path stroke="#ae1117" d="M38.5 45.9v1.2M39.5 40.9v1.2m0 2.8v1.2m0 0.8v2.2m0 0.8v3.2M40.5 43.9v1.2m0 0.8v4.2M41.5 33.9v2.2m0 1.8v1.2m0 4.8v4.2m0 3.8v1.2m0 1.8v1.2M42.5 36.9v1.2m0 0.8v3.2m0 1.8v1.2m0 1.8v2.2m0 0.8v2.2m0 0.8v1.2M43.5 46.9v1.2m0 4.8v2.2M44.5 36.9v1.2m0 2.8v1.2m0 8.8v3.2M45.5 38.9v6.2m0 1.8v1.2M46.5 28.9v1.2m0 3.8v1.2m0 15.8v1.2m0 1.8v1.2m0 0.8v1.2M47.5 31.9v2.2m0 10.8v1.2m0 0.8v1.2m0 4.8v3.2M48.5 32.9v1.2m0 1.8v1.2m0 12.8v1.2m0 0.8v2.2m0 1.8v1.2M49.5 30.9v3.2m0 15.8v1.2m0 0.8v1.2m0 1.8v2.2M50.5 37.9v5.2m0 0.8v3.2m0 1.8v2.2M51.5 39.9v1.2m0 4.8v2.2m0 0.8v1.2m0 0.8v1.2M53.5 36.9v1.2m0 3.8v1.2m0 1.8v1.2m0 1.8v1.2m0 0.8v1.2M54.5 35.9v1.2m0 6.8v2.2M55.5 31.9v1.2m0 1.8v1.2m0 4.8v1.2m0 1.8v1.2m0 0.8v3.2m0 0.8v1.2M57.5 38.9v4.2m0 2.8v1.2M58.5 29.9v1.2m0 0.8v1.2m0 5.8v1.2m0 3.8v1.2m0 5.8v1.2M59.5 29.9v1.2m0 3.8v1.2m0 1.8v2.2m0 1.8v1.2m0 1.8v3.2M68.5 41.9v1.2"/>
<path stroke="#8f0a12" d="M39.5 43.9v1.2m0 0.8v1.2m0 1.8v1.2M40.5 40.9v2.2m0 7.8v1.2M41.5 39.9v2.2m0 0.8v1.2m0 5.8v2.2M42.5 42.9v1.2m0 0.8v2.2M43.5 36.9v10.2m0 0.8v5.2M44.5 37.9v3.2m0 0.8v2.2m0 0.8v6.2M45.5 44.9v2.2M46.5 34.9v16.2m0 0.8v2.2M47.5 33.9v11.2m0 0.8v1.2m0 0.8v5.2M48.5 36.9v13.2m0 0.8v1.2m0 1.8v1.2M49.5 33.9v3.2m0 0.8v4.2m0 0.8v7.2m0 0.8v1.2m0 0.8v2.2M50.5 42.9v1.2M51.5 33.9v1.2m0 1.8v3.2m0 0.8v5.2m0 1.8v1.2M53.5 35.9v1.2m0 0.8v4.2m0 0.8v2.2m0 0.8v2.2M54.5 39.9v2.2M55.5 33.9v1.2m0 0.8v2.2m0 0.8v2.2m0 0.8v2.2m0 0.8v1.2M58.5 33.9v5.2m0 1.8v3.2m0 0.8v3.2m0 0.8v1.2M59.5 32.9v1.2m0 2.8v1.2m0 1.8v2.2m0 0.8v2.2M68.5 39.9v1.2"/>
</g>
<g fill="#000">
<circle cx="562.9" cy="113.8" r="1.25"/>
<circle cx="567.5" cy="101.0" r="1.25"/>
<circle cx="570.1" cy="110.2" r="1.25"/>
<circle cx="569.0" cy="120.1" r="1.25"/>
<circle cx="571.8" cy="123.5" r="1.25"/>
<circle cx="564.7" cy="140.8" r="1.25"/>
<circle cx="574.7" cy="151.5" r="1.25"/>
<circle cx="575.9" cy="120.0" r="1.25"/>
<circle cx="580.0" cy="114.6" r="1.25"/>
<circle cx="583.1" cy="97.5" r="1.25"/>
<circle cx="586.1" cy="161.3" r="1.25"/>
<circle cx="587.4" cy="109.3" r="1.25"/>
<circle cx="588.9" cy="114.3" r="1.25"/>
<circle cx="591.6" cy="110.5" r="1.25"/>
<circle cx="593.2" cy="113.5" r="1.25"/>
<circle cx="596.1" cy="116.6" r="1.25"/>
<circle cx="597.3" cy="110.2" r="1.25"/>
<circle cx="601.6" cy="110.8" r="1.25"/>
<circle cx="603.1" cy="103.1" r="1.25"/>
<circle cx="604.9" cy="112.8" r="1.25"/>
<circle cx="607.2" cy="102.1" r="1.25"/>
<circle cx="608.8" cy="113.5" r="1.25"/>
<circle cx="609.8" cy="118.9" r="1.25"/>
<circle cx="611.8" cy="106.2" r="1.25"/>
<circle cx="612.9" cy="92.1" r="1.25"/>
<circle cx="616.0" cy="112.8" r="1.25"/>
<circle cx="617.2" cy="93.3" r="1.25"/>
<circle cx="620.2" cy="101.5" r="1.25"/>
<circle cx="621.6" cy="111.9" r="1.25"/>
<circle cx="623.0" cy="101.8" r="1.25"/>
<circle cx="624.4" cy="103.2" r="1.25"/>
<circle cx="626.2" cy="111.9" r="1.25"/>
<circle cx="627.2" cy="99.8" r="1.25"/>
<circle cx="628.6" cy="112.6" r="1.25"/>
<circle cx="629.7" cy="105.7" r="1.25"/>
<circle cx="631.4" cy="101.2" r="1.25"/>
<circle cx="633.2" cy="107.1" r="1.25"/>
<circle cx="634.6" cy="106.4" r="1.25"/>
<circle cx="636.0" cy="111.2" r="1.25"/>
<circle cx="637.4" cy="103.6" r="1.25"/>
<circle cx="639.2" cy="107.1" r="1.25"/>
<circle cx="640.4" cy="109.1" r="1.25"/>
<circle cx="641.5" cy="98.0" r="1.25"/>
<circle cx="642.9" cy="114.3" r="1.25"/>
<circle cx="644.7" cy="95.9" r="1.25"/>
<circle cx="646.4" cy="97.0" r="1.25"/>
<circle cx="648.9" cy="100.8" r="1.25"/>
<circle cx="649.9" cy="96.6" r="1.25"/>
<circle cx="651.7" cy="124.9" r="1.25"/>
<circle cx="653.1" cy="105.0" r="1.25"/>
<circle cx="654.5" cy="97.0" r="1.25"/>
<circle cx="655.9" cy="105.0" r="1.25"/>
<circle cx="657.5" cy="99.4" r="1.25"/>
<circle cx="658.9" cy="105.0" r="1.25"/>
<circle cx="660.0" cy="94.5" r="1.25"/>
<circle cx="661.4" cy="77.4" r="1.25"/>
<circle cx="662.8" cy="91.1" r="1.25"/>
<circle cx="664.8" cy="95.9" r="1.25"/>
<circle cx="671.7" cy="99.0" r="1.25"/>
</g>
<line x1="562.90" y1="122.70" x2="670.80" y2="94.80" stroke="#000" stroke-width="1.1" stroke-dasharray="6 1.4"/>
<rect x="556.50" y="14.4" width="125.0" height="20.80" rx="1" fill="none" stroke="#333" stroke-width="0.9"/>
<text x="619.00" y="27.90" font-size="8.9" text-anchor="middle" >B cells</text>
<line x1="556.75" y1="41.30" x2="556.75" y2="199.40" stroke="#555555" stroke-width="1.0" />
<line x1="556.50" y1="199.00" x2="678.84" y2="199.00" stroke="#777" stroke-width="1.0" />
<line x1="553.50" y1="191.70" x2="556.50" y2="191.70" stroke="#555555" stroke-width="0.8" />
<line x1="553.50" y1="155.90" x2="556.50" y2="155.90" stroke="#555555" stroke-width="0.8" />
<line x1="571.74" y1="199.00" x2="571.74" y2="202.00" stroke="#555555" stroke-width="0.8" />
<text x="571.74" y="210.60" font-size="7.3" text-anchor="middle" textLength="8.3" lengthAdjust="spacingAndGlyphs" >25</text>
<line x1="553.50" y1="120.10" x2="556.50" y2="120.10" stroke="#555555" stroke-width="0.8" />
<line x1="607.34" y1="199.00" x2="607.34" y2="202.00" stroke="#555555" stroke-width="0.8" />
<text x="607.34" y="210.60" font-size="7.3" text-anchor="middle" textLength="8.3" lengthAdjust="spacingAndGlyphs" >50</text>
<line x1="553.50" y1="84.30" x2="556.50" y2="84.30" stroke="#555555" stroke-width="0.8" />
<line x1="642.94" y1="199.00" x2="642.94" y2="202.00" stroke="#555555" stroke-width="0.8" />
<text x="642.94" y="210.60" font-size="7.3" text-anchor="middle" textLength="8.3" lengthAdjust="spacingAndGlyphs" >75</text>
<line x1="553.50" y1="48.50" x2="556.50" y2="48.50" stroke="#555555" stroke-width="0.8" />
<line x1="678.54" y1="199.00" x2="678.54" y2="202.00" stroke="#555555" stroke-width="0.8" />
<text x="678.54" y="210.60" font-size="7.3" text-anchor="middle" textLength="12.9" lengthAdjust="spacingAndGlyphs" >100</text>
<text x="564.20" y="48.90" font-size="7.1" textLength="71.0" lengthAdjust="spacingAndGlyphs"><tspan font-style="italic">R</tspan> = 0.6, <tspan font-style="italic">P</tspan> &lt; 2.2 × 10<tspan dy="-3.4" font-size="4.6">−16</tspan></text>
<text x="621.50" y="225.90" font-size="9.2" text-anchor="middle" textLength="100.2" lengthAdjust="spacingAndGlyphs" >Actual chronological age</text>
<text x="621.30" y="235.20" font-size="9.2" text-anchor="middle" textLength="26.5" lengthAdjust="spacingAndGlyphs" >(years)</text>
<text x="6.90" y="118.90" font-size="9.2" text-anchor="middle" textLength="84.4" lengthAdjust="spacingAndGlyphs" transform="rotate(-90 6.90 118.90)" >Predicted age (years)</text>
<text x="0.00" y="256.80" font-size="12" font-weight="bold" fill="#000" >b</text>
<text x="336.70" y="258.10" font-size="8.4" text-anchor="middle" textLength="64.2" lengthAdjust="spacingAndGlyphs" >Resampling test</text>
<line x1="46.65" y1="264.20" x2="46.65" y2="439.80" stroke="#555555" stroke-width="1.0" />
<line x1="46.40" y1="439.40" x2="204.20" y2="439.40" stroke="#777" stroke-width="1.0" />
<line x1="43.20" y1="432.30" x2="46.40" y2="432.30" stroke="#555555" stroke-width="0.8" />
<text x="38.80" y="434.80" font-size="7.3" text-anchor="end" textLength="9.8" lengthAdjust="spacingAndGlyphs" >0.5</text>
<line x1="43.20" y1="400.26" x2="46.40" y2="400.26" stroke="#555555" stroke-width="0.8" />
<text x="38.80" y="402.76" font-size="7.3" text-anchor="end" textLength="9.8" lengthAdjust="spacingAndGlyphs" >0.6</text>
<line x1="43.20" y1="368.22" x2="46.40" y2="368.22" stroke="#555555" stroke-width="0.8" />
<text x="38.80" y="370.72" font-size="7.3" text-anchor="end" textLength="9.8" lengthAdjust="spacingAndGlyphs" >0.7</text>
<line x1="43.20" y1="336.18" x2="46.40" y2="336.18" stroke="#555555" stroke-width="0.8" />
<text x="38.80" y="338.68" font-size="7.3" text-anchor="end" textLength="9.8" lengthAdjust="spacingAndGlyphs" >0.8</text>
<line x1="43.20" y1="304.14" x2="46.40" y2="304.14" stroke="#555555" stroke-width="0.8" />
<text x="38.80" y="306.64" font-size="7.3" text-anchor="end" textLength="9.8" lengthAdjust="spacingAndGlyphs" >0.9</text>
<line x1="43.20" y1="272.10" x2="46.40" y2="272.10" stroke="#555555" stroke-width="0.8" />
<text x="38.80" y="274.60" font-size="7.3" text-anchor="end" textLength="9.8" lengthAdjust="spacingAndGlyphs" >1.0</text>
<line x1="64.61" y1="439.40" x2="64.61" y2="442.40" stroke="#555555" stroke-width="0.8" />
<text x="64.61" y="452.60" font-size="7.2" text-anchor="middle" textLength="18.4" lengthAdjust="spacingAndGlyphs" >CD4T</text>
<line x1="64.61" y1="297.09" x2="64.61" y2="300.62" stroke="#f47b20" stroke-width="0.6" />
<line x1="64.61" y1="303.50" x2="64.61" y2="310.55" stroke="#f47b20" stroke-width="0.6" />
<rect x="53.23" y="300.62" width="22.76" height="2.88" fill="none" stroke="#f47b20" stroke-width="0.65" stroke-opacity="0.85"/>
<line x1="53.23" y1="302.22" x2="75.99" y2="302.22" stroke="#f47b20" stroke-width="1.1" />
<rect x="63.96" y="311.18" width="1.3" height="1.3" fill="#f47b20"/>
<rect x="63.96" y="296.44" width="1.3" height="1.3" fill="#f47b20"/>
<rect x="63.96" y="309.90" width="1.3" height="1.3" fill="#f47b20"/>
<rect x="63.96" y="296.44" width="1.3" height="1.3" fill="#f47b20"/>
<rect x="63.96" y="300.76" width="1.3" height="1.3" fill="#f47b20"/>
<rect x="63.96" y="300.01" width="1.3" height="1.3" fill="#f47b20"/>
<rect x="63.96" y="297.96" width="1.3" height="1.3" fill="#f47b20"/>
<rect x="63.96" y="302.17" width="1.3" height="1.3" fill="#f47b20"/>
<rect x="63.96" y="302.14" width="1.3" height="1.3" fill="#f47b20"/>
<rect x="63.96" y="298.37" width="1.3" height="1.3" fill="#f47b20"/>
<rect x="63.96" y="300.34" width="1.3" height="1.3" fill="#f47b20"/>
<line x1="94.95" y1="439.40" x2="94.95" y2="442.40" stroke="#555555" stroke-width="0.8" />
<text x="94.95" y="452.60" font-size="7.2" text-anchor="middle" textLength="18.4" lengthAdjust="spacingAndGlyphs" >CD8T</text>
<line x1="94.95" y1="296.13" x2="94.95" y2="302.22" stroke="#5fbf9a" stroke-width="0.6" />
<line x1="94.95" y1="307.98" x2="94.95" y2="316.96" stroke="#5fbf9a" stroke-width="0.6" />
<rect x="83.57" y="302.22" width="22.76" height="5.77" fill="none" stroke="#5fbf9a" stroke-width="0.65" stroke-opacity="0.85"/>
<line x1="83.57" y1="304.46" x2="106.33" y2="304.46" stroke="#5fbf9a" stroke-width="1.1" />
<rect x="94.30" y="316.95" width="1.3" height="1.3" fill="#5fbf9a"/>
<rect x="94.30" y="295.48" width="1.3" height="1.3" fill="#5fbf9a"/>
<rect x="94.30" y="316.31" width="1.3" height="1.3" fill="#5fbf9a"/>
<rect x="94.30" y="295.48" width="1.3" height="1.3" fill="#5fbf9a"/>
<rect x="94.30" y="305.76" width="1.3" height="1.3" fill="#5fbf9a"/>
<rect x="94.30" y="308.25" width="1.3" height="1.3" fill="#5fbf9a"/>
<rect x="94.30" y="313.38" width="1.3" height="1.3" fill="#5fbf9a"/>
<rect x="94.30" y="296.38" width="1.3" height="1.3" fill="#5fbf9a"/>
<rect x="94.30" y="305.21" width="1.3" height="1.3" fill="#5fbf9a"/>
<rect x="94.30" y="315.84" width="1.3" height="1.3" fill="#5fbf9a"/>
<rect x="94.30" y="306.93" width="1.3" height="1.3" fill="#5fbf9a"/>
<line x1="125.30" y1="439.40" x2="125.30" y2="442.40" stroke="#555555" stroke-width="0.8" />
<text x="125.30" y="452.60" font-size="7.2" text-anchor="middle" textLength="22.5" lengthAdjust="spacingAndGlyphs" >MONO</text>
<line x1="125.30" y1="344.51" x2="125.30" y2="356.04" stroke="#4a97e0" stroke-width="0.6" />
<line x1="125.30" y1="391.93" x2="125.30" y2="411.47" stroke="#4a97e0" stroke-width="0.6" />
<rect x="113.92" y="356.04" width="22.76" height="35.88" fill="none" stroke="#4a97e0" stroke-width="0.65" stroke-opacity="0.85"/>
<line x1="113.92" y1="376.23" x2="136.68" y2="376.23" stroke="#4a97e0" stroke-width="1.1" />
<rect x="124.65" y="410.82" width="1.3" height="1.3" fill="#4a97e0"/>
<rect x="124.65" y="343.86" width="1.3" height="1.3" fill="#4a97e0"/>
<rect x="124.65" y="410.82" width="1.3" height="1.3" fill="#4a97e0"/>
<rect x="124.65" y="343.86" width="1.3" height="1.3" fill="#4a97e0"/>
<rect x="124.65" y="358.13" width="1.3" height="1.3" fill="#4a97e0"/>
<rect x="124.65" y="357.85" width="1.3" height="1.3" fill="#4a97e0"/>
<rect x="124.65" y="358.79" width="1.3" height="1.3" fill="#4a97e0"/>
<rect x="124.65" y="404.67" width="1.3" height="1.3" fill="#4a97e0"/>
<rect x="124.65" y="382.26" width="1.3" height="1.3" fill="#4a97e0"/>
<rect x="124.65" y="398.89" width="1.3" height="1.3" fill="#4a97e0"/>
<rect x="124.65" y="394.70" width="1.3" height="1.3" fill="#4a97e0"/>
<line x1="155.65" y1="439.40" x2="155.65" y2="442.40" stroke="#555555" stroke-width="0.8" />
<text x="155.65" y="452.60" font-size="7.2" text-anchor="middle" textLength="10.2" lengthAdjust="spacingAndGlyphs" >NK</text>
<line x1="155.65" y1="316.64" x2="155.65" y2="322.40" stroke="#8e5ad8" stroke-width="0.6" />
<line x1="155.65" y1="346.43" x2="155.65" y2="350.92" stroke="#8e5ad8" stroke-width="0.6" />
<rect x="144.27" y="322.40" width="22.76" height="24.03" fill="none" stroke="#8e5ad8" stroke-width="0.65" stroke-opacity="0.85"/>
<line x1="144.27" y1="333.30" x2="167.03" y2="333.30" stroke="#8e5ad8" stroke-width="1.1" />
<rect x="155.00" y="350.27" width="1.3" height="1.3" fill="#8e5ad8"/>
<rect x="155.00" y="315.99" width="1.3" height="1.3" fill="#8e5ad8"/>
<rect x="155.00" y="350.27" width="1.3" height="1.3" fill="#8e5ad8"/>
<rect x="155.00" y="315.99" width="1.3" height="1.3" fill="#8e5ad8"/>
<rect x="155.00" y="345.83" width="1.3" height="1.3" fill="#8e5ad8"/>
<rect x="155.00" y="325.13" width="1.3" height="1.3" fill="#8e5ad8"/>
<rect x="155.00" y="346.90" width="1.3" height="1.3" fill="#8e5ad8"/>
<rect x="155.00" y="316.88" width="1.3" height="1.3" fill="#8e5ad8"/>
<rect x="155.00" y="334.62" width="1.3" height="1.3" fill="#8e5ad8"/>
<rect x="155.00" y="328.44" width="1.3" height="1.3" fill="#8e5ad8"/>
<rect x="155.00" y="328.32" width="1.3" height="1.3" fill="#8e5ad8"/>
<line x1="185.99" y1="439.40" x2="185.99" y2="442.40" stroke="#555555" stroke-width="0.8" />
<text x="185.99" y="452.60" font-size="7.2" text-anchor="middle" textLength="5.0" lengthAdjust="spacingAndGlyphs" >B</text>
<line x1="185.99" y1="352.20" x2="185.99" y2="370.46" stroke="#d0202a" stroke-width="0.6" />
<line x1="185.99" y1="390.33" x2="185.99" y2="412.76" stroke="#d0202a" stroke-width="0.6" />
<rect x="174.61" y="370.46" width="22.76" height="19.86" fill="none" stroke="#d0202a" stroke-width="0.65" stroke-opacity="0.85"/>
<line x1="174.61" y1="378.47" x2="197.37" y2="378.47" stroke="#d0202a" stroke-width="1.1" />
<rect x="185.34" y="421.72" width="1.3" height="1.3" fill="#d0202a"/>
<rect x="185.34" y="351.55" width="1.3" height="1.3" fill="#d0202a"/>
<rect x="185.34" y="412.11" width="1.3" height="1.3" fill="#d0202a"/>
<rect x="185.34" y="351.55" width="1.3" height="1.3" fill="#d0202a"/>
<rect x="185.34" y="410.67" width="1.3" height="1.3" fill="#d0202a"/>
<rect x="185.34" y="411.48" width="1.3" height="1.3" fill="#d0202a"/>
<rect x="185.34" y="378.81" width="1.3" height="1.3" fill="#d0202a"/>
<rect x="185.34" y="401.05" width="1.3" height="1.3" fill="#d0202a"/>
<rect x="185.34" y="379.52" width="1.3" height="1.3" fill="#d0202a"/>
<rect x="185.34" y="382.14" width="1.3" height="1.3" fill="#d0202a"/>
<rect x="185.34" y="381.58" width="1.3" height="1.3" fill="#d0202a"/>
<text x="124.90" y="466.60" font-size="8.8" text-anchor="middle" textLength="36" lengthAdjust="spacingAndGlyphs" >Cell type</text>
<text x="7.60" y="346.20" font-size="9.2" text-anchor="middle" textLength="130.3" lengthAdjust="spacingAndGlyphs" transform="rotate(-90 7.60 346.20)" >Correlation between predicted age</text>
<text x="19.00" y="345.60" font-size="9.2" text-anchor="middle" textLength="104.2" lengthAdjust="spacingAndGlyphs" transform="rotate(-90 19.00 345.60)" >and actual chronological age</text>
<line x1="252.65" y1="264.30" x2="252.65" y2="439.70" stroke="#555555" stroke-width="1.0" />
<line x1="252.40" y1="439.30" x2="421.20" y2="439.30" stroke="#777" stroke-width="1.0" />
<line x1="249.20" y1="432.30" x2="252.40" y2="432.30" stroke="#555555" stroke-width="0.8" />
<text x="245.00" y="434.80" font-size="7.3" text-anchor="end" textLength="4.3" lengthAdjust="spacingAndGlyphs" >8</text>
<line x1="249.20" y1="392.20" x2="252.40" y2="392.20" stroke="#555555" stroke-width="0.8" />
<text x="245.00" y="394.70" font-size="7.3" text-anchor="end" textLength="8.3" lengthAdjust="spacingAndGlyphs" >10</text>
<line x1="249.20" y1="352.10" x2="252.40" y2="352.10" stroke="#555555" stroke-width="0.8" />
<text x="245.00" y="354.60" font-size="7.3" text-anchor="end" textLength="8.3" lengthAdjust="spacingAndGlyphs" >12</text>
<line x1="249.20" y1="312.00" x2="252.40" y2="312.00" stroke="#555555" stroke-width="0.8" />
<text x="245.00" y="314.50" font-size="7.3" text-anchor="end" textLength="8.3" lengthAdjust="spacingAndGlyphs" >14</text>
<line x1="249.20" y1="271.90" x2="252.40" y2="271.90" stroke="#555555" stroke-width="0.8" />
<text x="245.00" y="274.40" font-size="7.3" text-anchor="end" textLength="8.3" lengthAdjust="spacingAndGlyphs" >16</text>
<line x1="271.88" y1="439.30" x2="271.88" y2="442.30" stroke="#555555" stroke-width="0.8" />
<text x="271.88" y="452.60" font-size="7.2" text-anchor="middle" textLength="18.4" lengthAdjust="spacingAndGlyphs" >CD4T</text>
<line x1="271.88" y1="380.17" x2="271.88" y2="388.39" stroke="#f47b20" stroke-width="0.6" />
<line x1="271.88" y1="400.02" x2="271.88" y2="403.43" stroke="#f47b20" stroke-width="0.6" />
<rect x="259.70" y="388.39" width="24.35" height="11.63" fill="none" stroke="#f47b20" stroke-width="0.65" stroke-opacity="0.85"/>
<line x1="259.70" y1="392.30" x2="284.05" y2="392.30" stroke="#f47b20" stroke-width="1.1" />
<rect x="271.23" y="402.78" width="1.3" height="1.3" fill="#f47b20"/>
<rect x="271.23" y="379.52" width="1.3" height="1.3" fill="#f47b20"/>
<rect x="271.23" y="401.08" width="1.3" height="1.3" fill="#f47b20"/>
<rect x="271.23" y="389.16" width="1.3" height="1.3" fill="#f47b20"/>
<rect x="271.23" y="383.40" width="1.3" height="1.3" fill="#f47b20"/>
<rect x="271.23" y="386.94" width="1.3" height="1.3" fill="#f47b20"/>
<rect x="271.23" y="398.44" width="1.3" height="1.3" fill="#f47b20"/>
<rect x="271.23" y="395.25" width="1.3" height="1.3" fill="#f47b20"/>
<rect x="271.23" y="401.14" width="1.3" height="1.3" fill="#f47b20"/>
<line x1="304.34" y1="439.30" x2="304.34" y2="442.30" stroke="#555555" stroke-width="0.8" />
<text x="304.34" y="452.60" font-size="7.2" text-anchor="middle" textLength="18.4" lengthAdjust="spacingAndGlyphs" >CD8T</text>
<line x1="304.34" y1="414.25" x2="304.34" y2="414.25" stroke="#5fbf9a" stroke-width="0.6" />
<line x1="304.34" y1="420.67" x2="304.34" y2="429.29" stroke="#5fbf9a" stroke-width="0.6" />
<rect x="292.17" y="414.25" width="24.35" height="6.42" fill="none" stroke="#5fbf9a" stroke-width="0.65" stroke-opacity="0.85"/>
<line x1="292.17" y1="417.06" x2="316.51" y2="417.06" stroke="#5fbf9a" stroke-width="1.1" />
<rect x="303.69" y="387.54" width="1.3" height="1.3" fill="#5fbf9a"/>
<rect x="303.69" y="395.16" width="1.3" height="1.3" fill="#5fbf9a"/>
<rect x="303.69" y="428.64" width="1.3" height="1.3" fill="#5fbf9a"/>
<rect x="303.69" y="413.61" width="1.3" height="1.3" fill="#5fbf9a"/>
<rect x="303.69" y="417.60" width="1.3" height="1.3" fill="#5fbf9a"/>
<rect x="303.69" y="414.03" width="1.3" height="1.3" fill="#5fbf9a"/>
<rect x="303.69" y="427.15" width="1.3" height="1.3" fill="#5fbf9a"/>
<rect x="303.69" y="419.40" width="1.3" height="1.3" fill="#5fbf9a"/>
<rect x="303.69" y="416.76" width="1.3" height="1.3" fill="#5fbf9a"/>
<rect x="303.69" y="416.32" width="1.3" height="1.3" fill="#5fbf9a"/>
<rect x="303.69" y="416.90" width="1.3" height="1.3" fill="#5fbf9a"/>
<line x1="336.80" y1="439.30" x2="336.80" y2="442.30" stroke="#555555" stroke-width="0.8" />
<text x="336.80" y="452.60" font-size="7.2" text-anchor="middle" textLength="22.5" lengthAdjust="spacingAndGlyphs" >MONO</text>
<line x1="336.80" y1="289.74" x2="336.80" y2="314.61" stroke="#4a97e0" stroke-width="0.6" />
<line x1="336.80" y1="335.46" x2="336.80" y2="347.29" stroke="#4a97e0" stroke-width="0.6" />
<rect x="324.63" y="314.61" width="24.35" height="20.85" fill="none" stroke="#4a97e0" stroke-width="0.65" stroke-opacity="0.85"/>
<line x1="324.63" y1="331.25" x2="348.97" y2="331.25" stroke="#4a97e0" stroke-width="1.1" />
<rect x="336.15" y="346.64" width="1.3" height="1.3" fill="#4a97e0"/>
<rect x="336.15" y="289.09" width="1.3" height="1.3" fill="#4a97e0"/>
<rect x="336.15" y="331.06" width="1.3" height="1.3" fill="#4a97e0"/>
<rect x="336.15" y="320.34" width="1.3" height="1.3" fill="#4a97e0"/>
<rect x="336.15" y="338.05" width="1.3" height="1.3" fill="#4a97e0"/>
<rect x="336.15" y="328.33" width="1.3" height="1.3" fill="#4a97e0"/>
<rect x="336.15" y="332.43" width="1.3" height="1.3" fill="#4a97e0"/>
<rect x="336.15" y="331.92" width="1.3" height="1.3" fill="#4a97e0"/>
<rect x="336.15" y="292.66" width="1.3" height="1.3" fill="#4a97e0"/>
<line x1="369.26" y1="439.30" x2="369.26" y2="442.30" stroke="#555555" stroke-width="0.8" />
<text x="369.26" y="452.60" font-size="7.2" text-anchor="middle" textLength="10.2" lengthAdjust="spacingAndGlyphs" >NK</text>
<line x1="369.26" y1="338.87" x2="369.26" y2="343.08" stroke="#8e5ad8" stroke-width="0.6" />
<line x1="369.26" y1="355.71" x2="369.26" y2="370.15" stroke="#8e5ad8" stroke-width="0.6" />
<rect x="357.09" y="343.08" width="24.35" height="12.63" fill="none" stroke="#8e5ad8" stroke-width="0.65" stroke-opacity="0.85"/>
<line x1="357.09" y1="350.50" x2="381.43" y2="350.50" stroke="#8e5ad8" stroke-width="1.1" />
<rect x="368.61" y="313.15" width="1.3" height="1.3" fill="#8e5ad8"/>
<rect x="368.61" y="369.50" width="1.3" height="1.3" fill="#8e5ad8"/>
<rect x="368.61" y="338.22" width="1.3" height="1.3" fill="#8e5ad8"/>
<rect x="368.61" y="350.22" width="1.3" height="1.3" fill="#8e5ad8"/>
<rect x="368.61" y="339.47" width="1.3" height="1.3" fill="#8e5ad8"/>
<rect x="368.61" y="351.30" width="1.3" height="1.3" fill="#8e5ad8"/>
<rect x="368.61" y="339.94" width="1.3" height="1.3" fill="#8e5ad8"/>
<rect x="368.61" y="353.65" width="1.3" height="1.3" fill="#8e5ad8"/>
<rect x="368.61" y="351.61" width="1.3" height="1.3" fill="#8e5ad8"/>
<rect x="368.61" y="349.94" width="1.3" height="1.3" fill="#8e5ad8"/>
<line x1="401.72" y1="439.30" x2="401.72" y2="442.30" stroke="#555555" stroke-width="0.8" />
<text x="401.72" y="452.60" font-size="7.2" text-anchor="middle" textLength="5.0" lengthAdjust="spacingAndGlyphs" >B</text>
<line x1="401.72" y1="280.32" x2="401.72" y2="286.74" stroke="#d0202a" stroke-width="0.6" />
<line x1="401.72" y1="310.60" x2="401.72" y2="318.22" stroke="#d0202a" stroke-width="0.6" />
<rect x="389.55" y="286.74" width="24.35" height="23.86" fill="none" stroke="#d0202a" stroke-width="0.65" stroke-opacity="0.85"/>
<line x1="389.55" y1="289.74" x2="413.90" y2="289.74" stroke="#d0202a" stroke-width="1.1" />
<rect x="401.07" y="317.57" width="1.3" height="1.3" fill="#d0202a"/>
<rect x="401.07" y="279.67" width="1.3" height="1.3" fill="#d0202a"/>
<rect x="401.07" y="303.14" width="1.3" height="1.3" fill="#d0202a"/>
<rect x="401.07" y="311.69" width="1.3" height="1.3" fill="#d0202a"/>
<rect x="401.07" y="286.56" width="1.3" height="1.3" fill="#d0202a"/>
<rect x="401.07" y="311.14" width="1.3" height="1.3" fill="#d0202a"/>
<rect x="401.07" y="316.67" width="1.3" height="1.3" fill="#d0202a"/>
<rect x="401.07" y="296.14" width="1.3" height="1.3" fill="#d0202a"/>
<rect x="401.07" y="305.33" width="1.3" height="1.3" fill="#d0202a"/>
<text x="336.70" y="466.60" font-size="8.8" text-anchor="middle" textLength="36" lengthAdjust="spacingAndGlyphs" >Cell type</text>
<text x="230.50" y="350.00" font-size="9.2" text-anchor="middle" textLength="89.1" lengthAdjust="spacingAndGlyphs" transform="rotate(-90 230.50 350.00)" >Root mean square error</text>
<line x1="474.95" y1="264.10" x2="474.95" y2="440.30" stroke="#555555" stroke-width="1.0" />
<line x1="474.70" y1="439.90" x2="638.00" y2="439.90" stroke="#777" stroke-width="1.0" />
<line x1="471.50" y1="432.50" x2="474.70" y2="432.50" stroke="#555555" stroke-width="0.8" />
<text x="468.00" y="435.00" font-size="7.3" text-anchor="end" textLength="9.8" lengthAdjust="spacingAndGlyphs" >5.0</text>
<line x1="471.50" y1="388.00" x2="474.70" y2="388.00" stroke="#555555" stroke-width="0.8" />
<text x="468.00" y="390.50" font-size="7.3" text-anchor="end" textLength="9.8" lengthAdjust="spacingAndGlyphs" >7.5</text>
<line x1="471.50" y1="343.50" x2="474.70" y2="343.50" stroke="#555555" stroke-width="0.8" />
<text x="468.00" y="346.00" font-size="7.3" text-anchor="end" textLength="13.4" lengthAdjust="spacingAndGlyphs" >10.0</text>
<line x1="471.50" y1="299.00" x2="474.70" y2="299.00" stroke="#555555" stroke-width="0.8" />
<text x="468.00" y="301.50" font-size="7.3" text-anchor="end" textLength="13.4" lengthAdjust="spacingAndGlyphs" >12.5</text>
<line x1="493.54" y1="439.90" x2="493.54" y2="442.90" stroke="#555555" stroke-width="0.8" />
<text x="493.54" y="452.60" font-size="7.2" text-anchor="middle" textLength="18.4" lengthAdjust="spacingAndGlyphs" >CD4T</text>
<line x1="493.54" y1="366.28" x2="493.54" y2="377.68" stroke="#f47b20" stroke-width="0.6" />
<line x1="493.54" y1="397.79" x2="493.54" y2="408.11" stroke="#f47b20" stroke-width="0.6" />
<rect x="481.77" y="377.68" width="23.55" height="20.11" fill="none" stroke="#f47b20" stroke-width="0.65" stroke-opacity="0.85"/>
<line x1="481.77" y1="385.51" x2="505.32" y2="385.51" stroke="#f47b20" stroke-width="1.1" />
<rect x="492.89" y="407.46" width="1.3" height="1.3" fill="#f47b20"/>
<rect x="492.89" y="365.63" width="1.3" height="1.3" fill="#f47b20"/>
<rect x="492.89" y="403.43" width="1.3" height="1.3" fill="#f47b20"/>
<rect x="492.89" y="395.64" width="1.3" height="1.3" fill="#f47b20"/>
<rect x="492.89" y="371.65" width="1.3" height="1.3" fill="#f47b20"/>
<rect x="492.89" y="394.03" width="1.3" height="1.3" fill="#f47b20"/>
<rect x="492.89" y="373.78" width="1.3" height="1.3" fill="#f47b20"/>
<rect x="492.89" y="385.96" width="1.3" height="1.3" fill="#f47b20"/>
<rect x="492.89" y="383.67" width="1.3" height="1.3" fill="#f47b20"/>
<line x1="524.95" y1="439.90" x2="524.95" y2="442.90" stroke="#555555" stroke-width="0.8" />
<text x="524.95" y="452.60" font-size="7.2" text-anchor="middle" textLength="18.4" lengthAdjust="spacingAndGlyphs" >CD8T</text>
<line x1="524.95" y1="388.53" x2="524.95" y2="400.46" stroke="#5fbf9a" stroke-width="0.6" />
<line x1="524.95" y1="416.84" x2="524.95" y2="431.79" stroke="#5fbf9a" stroke-width="0.6" />
<rect x="513.17" y="400.46" width="23.55" height="16.38" fill="none" stroke="#5fbf9a" stroke-width="0.65" stroke-opacity="0.85"/>
<line x1="513.17" y1="406.33" x2="536.72" y2="406.33" stroke="#5fbf9a" stroke-width="1.1" />
<rect x="524.30" y="431.14" width="1.3" height="1.3" fill="#5fbf9a"/>
<rect x="524.30" y="387.88" width="1.3" height="1.3" fill="#5fbf9a"/>
<rect x="524.30" y="409.33" width="1.3" height="1.3" fill="#5fbf9a"/>
<rect x="524.30" y="431.05" width="1.3" height="1.3" fill="#5fbf9a"/>
<rect x="524.30" y="395.40" width="1.3" height="1.3" fill="#5fbf9a"/>
<rect x="524.30" y="413.00" width="1.3" height="1.3" fill="#5fbf9a"/>
<rect x="524.30" y="411.29" width="1.3" height="1.3" fill="#5fbf9a"/>
<rect x="524.30" y="415.21" width="1.3" height="1.3" fill="#5fbf9a"/>
<rect x="524.30" y="406.60" width="1.3" height="1.3" fill="#5fbf9a"/>
<line x1="556.35" y1="439.90" x2="556.35" y2="442.90" stroke="#555555" stroke-width="0.8" />
<text x="556.35" y="452.60" font-size="7.2" text-anchor="middle" textLength="22.5" lengthAdjust="spacingAndGlyphs" >MONO</text>
<line x1="556.35" y1="338.34" x2="556.35" y2="361.30" stroke="#4a97e0" stroke-width="0.6" />
<line x1="556.35" y1="379.63" x2="556.35" y2="396.37" stroke="#4a97e0" stroke-width="0.6" />
<rect x="544.57" y="361.30" width="23.55" height="18.33" fill="none" stroke="#4a97e0" stroke-width="0.65" stroke-opacity="0.85"/>
<line x1="544.57" y1="367.53" x2="568.13" y2="367.53" stroke="#4a97e0" stroke-width="1.1" />
<rect x="555.70" y="395.72" width="1.3" height="1.3" fill="#4a97e0"/>
<rect x="555.70" y="337.69" width="1.3" height="1.3" fill="#4a97e0"/>
<rect x="555.70" y="366.86" width="1.3" height="1.3" fill="#4a97e0"/>
<rect x="555.70" y="394.38" width="1.3" height="1.3" fill="#4a97e0"/>
<rect x="555.70" y="373.17" width="1.3" height="1.3" fill="#4a97e0"/>
<rect x="555.70" y="369.94" width="1.3" height="1.3" fill="#4a97e0"/>
<rect x="555.70" y="380.24" width="1.3" height="1.3" fill="#4a97e0"/>
<rect x="555.70" y="368.06" width="1.3" height="1.3" fill="#4a97e0"/>
<rect x="555.70" y="340.80" width="1.3" height="1.3" fill="#4a97e0"/>
<line x1="587.75" y1="439.90" x2="587.75" y2="442.90" stroke="#555555" stroke-width="0.8" />
<text x="587.75" y="452.60" font-size="7.2" text-anchor="middle" textLength="10.2" lengthAdjust="spacingAndGlyphs" >NK</text>
<line x1="587.75" y1="329.62" x2="587.75" y2="353.47" stroke="#8e5ad8" stroke-width="0.6" />
<line x1="587.75" y1="380.35" x2="587.75" y2="403.49" stroke="#8e5ad8" stroke-width="0.6" />
<rect x="575.98" y="353.47" width="23.55" height="26.88" fill="none" stroke="#8e5ad8" stroke-width="0.65" stroke-opacity="0.85"/>
<line x1="575.98" y1="361.66" x2="599.53" y2="361.66" stroke="#8e5ad8" stroke-width="1.1" />
<rect x="587.10" y="402.84" width="1.3" height="1.3" fill="#8e5ad8"/>
<rect x="587.10" y="328.97" width="1.3" height="1.3" fill="#8e5ad8"/>
<rect x="587.10" y="369.13" width="1.3" height="1.3" fill="#8e5ad8"/>
<rect x="587.10" y="364.72" width="1.3" height="1.3" fill="#8e5ad8"/>
<rect x="587.10" y="377.38" width="1.3" height="1.3" fill="#8e5ad8"/>
<rect x="587.10" y="363.69" width="1.3" height="1.3" fill="#8e5ad8"/>
<rect x="587.10" y="355.63" width="1.3" height="1.3" fill="#8e5ad8"/>
<rect x="587.10" y="332.21" width="1.3" height="1.3" fill="#8e5ad8"/>
<rect x="587.10" y="355.76" width="1.3" height="1.3" fill="#8e5ad8"/>
<line x1="619.16" y1="439.90" x2="619.16" y2="442.90" stroke="#555555" stroke-width="0.8" />
<text x="619.16" y="452.60" font-size="7.2" text-anchor="middle" textLength="5.0" lengthAdjust="spacingAndGlyphs" >B</text>
<line x1="619.16" y1="287.61" x2="619.16" y2="301.85" stroke="#d0202a" stroke-width="0.6" />
<line x1="619.16" y1="329.62" x2="619.16" y2="352.76" stroke="#d0202a" stroke-width="0.6" />
<rect x="607.38" y="301.85" width="23.55" height="27.77" fill="none" stroke="#d0202a" stroke-width="0.65" stroke-opacity="0.85"/>
<line x1="607.38" y1="322.67" x2="630.93" y2="322.67" stroke="#d0202a" stroke-width="1.1" />
<rect x="618.51" y="352.11" width="1.3" height="1.3" fill="#d0202a"/>
<rect x="618.51" y="286.96" width="1.3" height="1.3" fill="#d0202a"/>
<rect x="618.51" y="296.67" width="1.3" height="1.3" fill="#d0202a"/>
<rect x="618.51" y="316.39" width="1.3" height="1.3" fill="#d0202a"/>
<rect x="618.51" y="327.44" width="1.3" height="1.3" fill="#d0202a"/>
<rect x="618.51" y="325.76" width="1.3" height="1.3" fill="#d0202a"/>
<rect x="618.51" y="307.65" width="1.3" height="1.3" fill="#d0202a"/>
<rect x="618.51" y="293.55" width="1.3" height="1.3" fill="#d0202a"/>
<rect x="618.51" y="323.17" width="1.3" height="1.3" fill="#d0202a"/>
<text x="559.00" y="466.60" font-size="8.8" text-anchor="middle" textLength="36" lengthAdjust="spacingAndGlyphs" >Cell type</text>
<text x="444.00" y="351.90" font-size="9.2" text-anchor="middle" textLength="87.6" lengthAdjust="spacingAndGlyphs" transform="rotate(-90 444.00 351.90)" >Median absolute error</text>
<rect x="647.3" y="333.00" width="6.6" height="4.6" fill="none" stroke="#f47b20" stroke-width="0.7"/>
<line x1="647.30" y1="335.30" x2="653.90" y2="335.30" stroke="#f47b20" stroke-width="0.9" />
<line x1="650.60" y1="331.80" x2="650.60" y2="333.00" stroke="#f47b20" stroke-width="0.6" />
<line x1="650.60" y1="337.60" x2="650.60" y2="338.80" stroke="#f47b20" stroke-width="0.6" />
<text x="657.80" y="338.20" font-size="8.2" textLength="22.2" lengthAdjust="spacingAndGlyphs" >CD4T</text>
<rect x="647.3" y="341.45" width="6.6" height="4.6" fill="none" stroke="#5fbf9a" stroke-width="0.7"/>
<line x1="647.30" y1="343.75" x2="653.90" y2="343.75" stroke="#5fbf9a" stroke-width="0.9" />
<line x1="650.60" y1="340.25" x2="650.60" y2="341.45" stroke="#5fbf9a" stroke-width="0.6" />
<line x1="650.60" y1="346.05" x2="650.60" y2="347.25" stroke="#5fbf9a" stroke-width="0.6" />
<text x="657.80" y="346.65" font-size="8.2" textLength="22.2" lengthAdjust="spacingAndGlyphs" >CD8T</text>
<rect x="647.3" y="349.90" width="6.6" height="4.6" fill="none" stroke="#4a97e0" stroke-width="0.7"/>
<line x1="647.30" y1="352.20" x2="653.90" y2="352.20" stroke="#4a97e0" stroke-width="0.9" />
<line x1="650.60" y1="348.70" x2="650.60" y2="349.90" stroke="#4a97e0" stroke-width="0.6" />
<line x1="650.60" y1="354.50" x2="650.60" y2="355.70" stroke="#4a97e0" stroke-width="0.6" />
<text x="657.80" y="355.10" font-size="8.2" textLength="27.5" lengthAdjust="spacingAndGlyphs" >MONO</text>
<rect x="647.3" y="358.35" width="6.6" height="4.6" fill="none" stroke="#8e5ad8" stroke-width="0.7"/>
<line x1="647.30" y1="360.65" x2="653.90" y2="360.65" stroke="#8e5ad8" stroke-width="0.9" />
<line x1="650.60" y1="357.15" x2="650.60" y2="358.35" stroke="#8e5ad8" stroke-width="0.6" />
<line x1="650.60" y1="362.95" x2="650.60" y2="364.15" stroke="#8e5ad8" stroke-width="0.6" />
<text x="657.80" y="363.55" font-size="8.2" textLength="12.3" lengthAdjust="spacingAndGlyphs" >NK</text>
<rect x="647.3" y="366.80" width="6.6" height="4.6" fill="none" stroke="#d0202a" stroke-width="0.7"/>
<line x1="647.30" y1="369.10" x2="653.90" y2="369.10" stroke="#d0202a" stroke-width="0.9" />
<line x1="650.60" y1="365.60" x2="650.60" y2="366.80" stroke="#d0202a" stroke-width="0.6" />
<line x1="650.60" y1="371.40" x2="650.60" y2="372.60" stroke="#d0202a" stroke-width="0.6" />
<text x="657.80" y="372.00" font-size="8.2" textLength="6.0" lengthAdjust="spacingAndGlyphs" >B</text>
<text x="0.00" y="489.30" font-size="12" font-weight="bold" fill="#000" >c</text>
<text x="358.90" y="490.60" font-size="9.0" text-anchor="middle" textLength="74.5" lengthAdjust="spacingAndGlyphs" >External validation</text>
<g transform="translate(34.65 525.29) scale(2.298 2.0570)" fill="none" stroke-width="1.2">
<path stroke="#fee9d4" d="M1.5 23.9v1.2M2.5 20.9v1.2m0 46.8v1.2M6.5 5.9v1.2m0 63.8v1.2M9.5 18.9v1.2m0 40.8v1.2m0 1.8v2.2m0 0.8v1.2M13.5 17.9v1.2M15.5 62.9v2.2M18.5 16.9v1.2m0 42.8v1.2M19.5 56.9v3.2m0 1.8v1.2M24.5 9.9v1.2m0 2.8v1.2m0 0.8v1.2m0 0.8v1.2m0 40.8v1.2M25.5 19.9v1.2M26.5 51.9v1.2M30.5 3.9v2.2m0 49.8v1.2M33.5 6.9v1.2m0 52.8v2.2M34.5 20.9v1.2m0 0.8v1.2m0 25.8v2.2M37.5 48.9v1.2M38.5 9.9v1.2m0 30.8v1.2m0 3.8v1.2M41.5 3.9v1.2m0 45.8v1.2M42.5 14.9v1.2M45.5 13.9v1.2m0 30.8v1.2M49.5 3.9v1.2m0 34.8v1.2m0 0.8v1.2"/>
<path stroke="#fee2c7" d="M2.5 23.9v1.2m0 0.8v1.2m0 39.8v1.2M6.5 9.9v2.2m0 49.8v3.2M9.5 19.9v1.2m0 2.8v5.2m0 5.8v1.2m0 2.8v1.2m0 0.8v3.2m0 0.8v1.2m0 0.8v1.2m0 0.8v2.2m0 1.8v1.2m0 0.8v1.2m0 1.8v1.2m0 0.8v1.2m0 0.8v2.2M13.5 18.9v1.2m0 1.8v2.2m0 0.8v1.2m0 3.8v1.2m0 1.8v1.2m0 0.8v1.2m0 1.8v2.2m0 6.8v2.2m0 0.8v1.2m0 0.8v2.2m0 0.8v2.2m0 0.8v1.2m0 1.8v1.2m0 0.8v1.2m0 1.8v1.2M15.5 23.9v1.2m0 4.8v2.2m0 0.8v1.2m0 9.8v1.2m0 0.8v1.2m0 0.8v1.2m0 5.8v1.2m0 2.8v3.2M18.5 20.9v1.2m0 26.8v1.2m0 1.8v1.2m0 1.8v1.2m0 3.8v1.2m0 1.8v1.2M19.5 20.9v3.2m0 0.8v1.2m0 1.8v2.2m0 12.8v2.2m0 7.8v1.2M24.5 20.9v2.2m0 1.8v1.2m0 6.8v1.2m0 7.8v1.2m0 2.8v1.2m0 0.8v1.2m0 4.8v4.2M25.5 20.9v1.2m0 0.8v1.2m0 2.8v2.2m0 2.8v1.2m0 5.8v1.2m0 9.8v1.2m0 0.8v3.2M26.5 25.9v5.2m0 0.8v1.2m0 0.8v3.2m0 0.8v1.2m0 2.8v4.2m0 0.8v2.2m0 0.8v1.2M30.5 6.9v2.2m0 3.8v2.2m0 0.8v1.2m0 2.8v2.2m0 0.8v4.2m0 0.8v5.2m0 0.8v1.2m0 2.8v2.2m0 1.8v2.2m0 0.8v4.2m0 0.8v2.2m0 0.8v1.2M33.5 7.9v2.2m0 7.8v1.2m0 3.8v1.2m0 1.8v1.2m0 7.8v1.2m0 2.8v1.2m0 7.8v1.2m0 2.8v2.2m0 0.8v1.2m0 0.8v2.2M34.5 14.9v1.2m0 3.8v1.2m0 0.8v1.2m0 1.8v1.2m0 0.8v4.2m0 1.8v5.2m0 0.8v1.2m0 1.8v4.2m0 0.8v2.2M37.5 5.9v1.2m0 37.8v4.2m0 0.8v1.2M38.5 5.9v1.2m0 0.8v2.2m0 1.8v1.2m0 21.8v1.2m0 0.8v1.2M41.5 7.9v2.2m0 28.8v1.2m0 0.8v1.2m0 0.8v1.2m0 1.8v1.2M42.5 12.9v2.2m0 0.8v1.2m0 1.8v1.2m0 1.8v1.2m0 1.8v1.2m0 0.8v2.2m0 2.8v1.2m0 0.8v2.2m0 4.8v1.2M45.5 12.9v1.2m0 0.8v2.2m0 0.8v1.2m0 0.8v1.2m0 1.8v2.2m0 1.8v2.2m0 3.8v1.2m0 1.8v1.2m0 0.8v1.2m0 0.8v3.2M49.5 0.9v1.2m0 0.8v1.2m0 2.8v3.2m0 1.8v1.2m0 0.8v1.2m0 0.8v1.2m0 0.8v1.2m0 0.8v1.2m0 1.8v1.2m0 0.8v5.2m0 1.8v1.2m0 1.8v3.2"/>
<path stroke="#fddab7" d="M1.5 24.9v2.2m0 29.8v2.2m0 6.8v1.2m0 2.8v1.2M2.5 30.9v1.2m0 1.8v1.2m0 21.8v1.2m0 2.8v1.2m0 2.8v1.2M6.5 11.9v1.2m0 0.8v4.2m0 2.8v1.2m0 0.8v1.2m0 17.8v1.2m0 3.8v1.2m0 0.8v3.2m0 0.8v1.2m0 0.8v2.2m0 1.8v1.2m0 0.8v1.2m0 2.8v1.2M9.5 21.9v2.2m0 4.8v6.2m0 0.8v2.2m0 1.8v1.2m0 2.8v1.2m0 0.8v1.2m0 0.8v1.2m0 1.8v2.2m0 2.8v2.2M13.5 23.9v1.2m0 0.8v4.2m0 0.8v1.2m0 1.8v1.2m0 0.8v1.2m0 3.8v6.2m0 1.8v1.2m0 0.8v1.2m0 1.8v1.2m0 1.8v1.2m0 0.8v1.2m0 3.8v1.2M15.5 22.9v1.2m0 0.8v1.2m0 0.8v3.2m0 1.8v1.2m0 0.8v10.2m0 0.8v1.2m0 3.8v2.2m0 0.8v2.2m0 0.8v2.2M18.5 18.9v2.2m0 0.8v6.2m0 0.8v1.2m0 2.8v2.2m0 2.8v1.2m0 0.8v2.2m0 3.8v1.2m0 2.8v2.2m0 0.8v2.2m0 1.8v2.2M19.5 26.9v1.2m0 1.8v12.2m0 3.8v1.2m0 1.8v2.2m0 0.8v1.2m0 0.8v2.2M24.5 23.9v1.2m0 1.8v1.2m0 0.8v1.2m0 1.8v1.2m0 0.8v4.2m0 1.8v2.2m0 2.8v1.2m0 0.8v1.2m0 0.8v5.2M25.5 23.9v3.2m0 1.8v3.2m0 0.8v6.2m0 0.8v10.2m0 0.8v1.2M26.5 30.9v1.2m0 0.8v1.2m0 2.8v1.2m0 0.8v3.2m0 3.8v1.2M30.5 11.9v1.2m0 1.8v1.2m0 0.8v3.2m0 1.8v1.2m0 3.8v1.2m0 4.8v1.2m0 0.8v3.2m0 1.8v1.2m0 2.8v1.2m0 3.8v1.2M33.5 9.9v1.2m0 2.8v4.2m0 0.8v4.2m0 0.8v2.2m0 1.8v2.2m0 0.8v4.2m0 0.8v3.2m0 0.8v6.2m0 0.8v1.2m0 0.8v3.2m0 3.8v1.2M34.5 16.9v2.2m0 4.8v1.2m0 0.8v1.2m0 3.8v2.2m0 6.8v2.2M37.5 6.9v1.2m0 0.8v1.2m0 1.8v2.2m0 20.8v2.2m0 0.8v1.2m0 3.8v2.2M38.5 10.9v1.2m0 2.8v1.2m0 8.8v2.2m0 0.8v7.2m0 0.8v1.2m0 0.8v1.2m0 0.8v1.2M41.5 9.9v3.2m0 11.8v1.2m0 3.8v5.2m0 0.8v2.2m0 3.8v1.2m0 0.8v2.2m0 0.8v1.2m0 0.8v1.2M42.5 16.9v2.2m0 0.8v2.2m0 0.8v1.2m0 1.8v1.2m0 1.8v3.2m0 0.8v1.2m0 1.8v1.2m0 0.8v1.2m0 0.8v1.2M45.5 16.9v1.2m0 0.8v1.2m0 0.8v2.2m0 1.8v2.2m0 1.8v4.2m0 0.8v2.2m0 0.8v1.2m0 0.8v1.2m0 3.8v1.2M49.5 9.9v2.2m0 0.8v1.2m0 0.8v1.2m0 0.8v1.2m0 0.8v1.2m0 0.8v2.2m0 0.8v1.2m0 4.8v1.2m0 1.8v2.2"/>
<path stroke="#fdd2a7" d="M1.5 26.9v2.2m0 0.8v3.2m0 25.8v4.2m0 1.8v1.2m0 1.8v1.2M2.5 31.9v2.2m0 0.8v1.2m0 14.8v1.2m0 0.8v4.2m0 0.8v1.2m0 0.8v1.2m0 0.8v3.2m0 0.8v1.2M6.5 17.9v3.2m0 0.8v1.2m0 1.8v3.2m0 0.8v1.2m0 3.8v1.2m0 1.8v3.2m0 0.8v1.2m0 2.8v1.2m0 1.8v1.2m0 2.8v1.2m0 3.8v2.2m0 0.8v1.2M15.5 48.9v1.2M18.5 27.9v1.2m0 0.8v3.2m0 2.8v2.2m0 4.8v2.2M24.5 30.9v1.2m0 5.8v1.2m0 4.8v1.2M33.5 26.9v1.2m0 1.8v1.2M37.5 7.9v1.2m0 0.8v2.2m0 1.8v1.2m0 11.8v2.2m0 0.8v1.2m0 0.8v3.2m0 1.8v1.2m0 0.8v2.2m0 0.8v1.2M38.5 12.9v2.2m0 0.8v1.2m0 0.8v2.2m0 6.8v1.2M41.5 12.9v1.2m0 6.8v1.2m0 3.8v1.2m0 0.8v2.2m0 4.8v1.2m0 3.8v1.2"/>
<path stroke="#fdc794" d="M1.5 32.9v2.2m0 15.8v3.2m0 0.8v2.2m0 6.8v1.2M2.5 35.9v2.2m0 0.8v1.2m0 6.8v3.2M6.5 23.9v1.2m0 2.8v1.2m0 0.8v4.2m0 0.8v2.2m0 2.8v1.2M37.5 14.9v2.2m0 0.8v1.2m0 3.8v4.2M38.5 20.9v4.2M41.5 13.9v7.2m0 0.8v3.2"/>
<path stroke="#fdbb7f" d="M1.5 34.9v2.2m0 11.8v2.2m0 2.8v1.2M2.5 37.9v1.2m0 0.8v2.2m0 0.8v1.2m0 0.8v2.2M37.5 16.9v1.2m0 0.8v4.2"/>
<path stroke="#fdae6b" d="M1.5 37.9v2.2m0 0.8v1.2m0 0.8v1.2m0 1.8v3.2M2.5 41.9v1.2"/>
<path stroke="#fda25a" d="M1.5 39.9v1.2m0 0.8v1.2m0 0.8v2.2"/>
</g>
<line x1="37.70" y1="619.00" x2="147.80" y2="570.70" stroke="#fff" stroke-opacity="0.7" stroke-width="1.3"/>
<line x1="37.70" y1="619.00" x2="147.80" y2="570.70" stroke="#111" stroke-width="1.4" stroke-dasharray="5.5 2"/>
<rect x="31.30" y="496.3" width="125.0" height="20.10" rx="1" fill="none" stroke="#333" stroke-width="0.9"/>
<text x="93.80" y="509.70" font-size="8.9" text-anchor="middle" >CD4<tspan dy="-3.2" font-size="5.6">+</tspan><tspan dy="3.2"> T cells</tspan></text>
<line x1="31.30" y1="681.00" x2="156.00" y2="681.00" stroke="#777" stroke-width="1.0" />
<line x1="31.55" y1="519.30" x2="31.55" y2="681.40" stroke="#555555" stroke-width="1.0" />
<line x1="28.30" y1="673.40" x2="31.30" y2="673.40" stroke="#555555" stroke-width="0.8" />
<text x="24.50" y="676.00" font-size="7.3" text-anchor="end" textLength="4.3" lengthAdjust="spacingAndGlyphs" >0</text>
<line x1="28.30" y1="636.67" x2="31.30" y2="636.67" stroke="#555555" stroke-width="0.8" />
<text x="24.50" y="639.27" font-size="7.3" text-anchor="end" textLength="8.3" lengthAdjust="spacingAndGlyphs" >25</text>
<line x1="28.30" y1="599.93" x2="31.30" y2="599.93" stroke="#555555" stroke-width="0.8" />
<text x="24.50" y="602.53" font-size="7.3" text-anchor="end" textLength="8.3" lengthAdjust="spacingAndGlyphs" >50</text>
<line x1="28.30" y1="563.20" x2="31.30" y2="563.20" stroke="#555555" stroke-width="0.8" />
<text x="24.50" y="565.80" font-size="7.3" text-anchor="end" textLength="8.3" lengthAdjust="spacingAndGlyphs" >75</text>
<line x1="28.30" y1="526.47" x2="31.30" y2="526.47" stroke="#555555" stroke-width="0.8" />
<text x="24.50" y="529.07" font-size="7.3" text-anchor="end" textLength="12.9" lengthAdjust="spacingAndGlyphs" >100</text>
<line x1="38.10" y1="681.00" x2="38.10" y2="684.00" stroke="#555555" stroke-width="0.8" />
<text x="38.10" y="693.30" font-size="7.3" text-anchor="middle" textLength="8.3" lengthAdjust="spacingAndGlyphs" >20</text>
<line x1="61.08" y1="681.00" x2="61.08" y2="684.00" stroke="#555555" stroke-width="0.8" />
<text x="61.08" y="693.30" font-size="7.3" text-anchor="middle" textLength="8.3" lengthAdjust="spacingAndGlyphs" >30</text>
<line x1="84.06" y1="681.00" x2="84.06" y2="684.00" stroke="#555555" stroke-width="0.8" />
<text x="84.06" y="693.30" font-size="7.3" text-anchor="middle" textLength="8.3" lengthAdjust="spacingAndGlyphs" >40</text>
<line x1="107.04" y1="681.00" x2="107.04" y2="684.00" stroke="#555555" stroke-width="0.8" />
<text x="107.04" y="693.30" font-size="7.3" text-anchor="middle" textLength="8.3" lengthAdjust="spacingAndGlyphs" >50</text>
<line x1="130.02" y1="681.00" x2="130.02" y2="684.00" stroke="#555555" stroke-width="0.8" />
<text x="130.02" y="693.30" font-size="7.3" text-anchor="middle" textLength="8.3" lengthAdjust="spacingAndGlyphs" >60</text>
<line x1="153.00" y1="681.00" x2="153.00" y2="684.00" stroke="#555555" stroke-width="0.8" />
<text x="153.00" y="693.30" font-size="7.3" text-anchor="middle" textLength="8.3" lengthAdjust="spacingAndGlyphs" >70</text>
<text x="38.00" y="528.80" font-size="7.1" textLength="74.3" lengthAdjust="spacingAndGlyphs"><tspan font-style="italic">R</tspan> = 0.85, <tspan font-style="italic">P</tspan> &lt; 2.2 × 10<tspan dy="-3.4" font-size="4.6">−16</tspan></text>
<text x="93.80" y="707.90" font-size="9.2" text-anchor="middle" textLength="100.2" lengthAdjust="spacingAndGlyphs" >Actual chronological age</text>
<text x="93.60" y="717.00" font-size="9.2" text-anchor="middle" textLength="26.5" lengthAdjust="spacingAndGlyphs" >(years)</text>
<g transform="translate(165.95 525.29) scale(2.298 2.0570)" fill="none" stroke-width="1.2">
<path stroke="#ebf8e8" d="M1.5 3.9v1.2M2.5 20.9v1.2M6.5 6.9v1.2m0 60.8v1.2M13.5 15.9v1.2m0 5.8v1.2m0 7.8v1.2M15.5 29.9v1.2m0 1.8v1.2M18.5 9.9v1.2m0 46.8v1.2M19.5 10.9v1.2m0 1.8v1.2m0 32.8v1.2M24.5 1.9v1.2m0 1.8v2.2m0 38.8v1.2M25.5 5.9v1.2m0 5.8v1.2m0 27.8v1.2M27.5 8.9v1.2M30.5 3.9v1.2m0 21.8v1.2M33.5 8.9v1.2m0 0.8v2.2m0 17.8v1.2m0 11.8v1.2m0 3.8v1.2M34.5 16.9v3.2m0 16.8v1.2m0 2.8v3.2M38.5 0.9v1.2m0 39.8v1.2M41.5 -0.1v1.2m0 38.8v1.2M42.5 -0.1v1.2m0 32.8v1.2M45.5 0.9v2.2m0 16.8v4.2M49.5 1.9v1.2"/>
<path stroke="#dff2d9" d="M1.5 4.9v1.2m0 1.8v2.2m0 5.8v1.2m0 3.8v1.2m0 3.8v1.2m0 39.8v1.2m0 0.8v2.2M2.5 22.9v1.2m0 0.8v2.2m0 25.8v1.2m0 1.8v2.2m0 3.8v1.2m0 0.8v1.2M6.5 17.9v1.2m0 4.8v1.2m0 36.8v3.2m0 2.8v1.2m0 0.8v2.2M9.5 20.9v1.2m0 0.8v1.2m0 0.8v2.2m0 0.8v1.2M13.5 18.9v1.2m0 1.8v1.2m0 0.8v1.2m0 0.8v2.2m0 0.8v1.2m0 3.8v2.2M15.5 5.9v2.2m0 2.8v1.2m0 0.8v1.2m0 1.8v2.2m0 3.8v1.2m0 2.8v3.2m0 2.8v1.2M18.5 13.9v1.2m0 20.8v1.2m0 0.8v2.2m0 2.8v4.2m0 0.8v1.2m0 4.8v3.2M19.5 17.9v17.2m0 0.8v1.2m0 2.8v1.2m0 0.8v4.2M24.5 7.9v2.2m0 1.8v3.2m0 0.8v2.2m0 0.8v3.2m0 0.8v5.2m0 4.8v1.2m0 2.8v1.2m0 0.8v5.2M25.5 13.9v3.2m0 0.8v1.2m0 0.8v1.2m0 0.8v1.2m0 1.8v3.2m0 0.8v3.2m0 1.8v5.2M27.5 10.9v1.2m0 1.8v2.2m0 0.8v6.2m0 0.8v4.2m0 0.8v6.2m0 0.8v1.2m0 0.8v2.2M30.5 1.9v2.2m0 0.8v3.2m0 0.8v3.2m0 1.8v2.2m0 1.8v1.2M33.5 12.9v1.2m0 0.8v2.2m0 1.8v4.2m0 2.8v3.2m0 6.8v5.2m0 0.8v1.2M34.5 13.9v1.2m0 4.8v1.2m0 2.8v6.2m0 0.8v2.2m0 1.8v2.2m0 0.8v1.2m0 0.8v1.2M37.5 1.9v2.2m0 26.8v1.2m0 6.8v1.2m0 0.8v2.2M38.5 3.9v2.2m0 4.8v1.2m0 16.8v1.2m0 4.8v4.2M41.5 3.9v1.2m0 0.8v1.2m0 1.8v1.2m0 3.8v1.2m0 0.8v1.2m0 1.8v1.2m0 17.8v1.2M42.5 2.9v1.2m0 0.8v4.2m0 0.8v2.2m0 3.8v1.2m0 3.8v2.2m0 2.8v2.2m0 3.8v2.2m0 0.8v1.2M45.5 2.9v2.2m0 1.8v1.2m0 0.8v4.2m0 0.8v5.2M49.5 3.9v1.2m0 0.8v1.2m0 0.8v2.2m0 0.8v2.2m0 0.8v1.2"/>
<path stroke="#ceecc7" d="M1.5 9.9v6.2m0 0.8v4.2m0 0.8v4.2m0 26.8v2.2m0 0.8v1.2m0 0.8v1.2m0 1.8v4.2m0 0.8v1.2M2.5 26.9v4.2m0 0.8v2.2m0 17.8v1.2m0 0.8v2.2m0 1.8v2.2m0 0.8v1.2M6.5 12.9v3.2m0 0.8v1.2m0 0.8v1.2m0 0.8v3.2m0 0.8v3.2m0 2.8v1.2m0 16.8v3.2m0 0.8v4.2m0 0.8v2.2m0 4.8v1.2M9.5 21.9v1.2M13.5 20.9v1.2m0 2.8v1.2m0 3.8v2.2M15.5 8.9v2.2m0 0.8v1.2m0 4.8v4.2m0 0.8v1.2m0 0.8v1.2m0 2.8v1.2m0 3.8v1.2M18.5 16.9v3.2m0 10.8v1.2m0 0.8v3.2m0 0.8v1.2m0 8.8v1.2m0 0.8v4.2M19.5 34.9v1.2m0 0.8v3.2M24.5 17.9v1.2m0 8.8v1.2m0 0.8v3.2m0 0.8v2.2m0 1.8v1.2M25.5 16.9v1.2m0 0.8v1.2m0 0.8v1.2m0 0.8v1.2m0 3.8v1.2m0 2.8v2.2m0 4.8v1.2M27.5 15.9v1.2m0 10.8v1.2M30.5 11.9v2.2M33.5 16.9v2.2m0 3.8v1.2m0 5.8v1.2m0 0.8v4.2M34.5 29.9v1.2m0 1.8v1.2m0 4.8v1.2M37.5 3.9v2.2m0 16.8v8.2m0 0.8v3.2m0 0.8v2.2m0 1.8v1.2M38.5 5.9v1.2m0 0.8v2.2m0 15.8v3.2m0 0.8v5.2M41.5 4.9v1.2m0 0.8v2.2m0 0.8v4.2m0 0.8v1.2m0 0.8v2.2m0 1.8v5.2m0 0.8v6.2m0 0.8v3.2M42.5 8.9v1.2m0 1.8v3.2m0 1.8v4.2m0 1.8v3.2m0 1.8v4.2M45.5 4.9v2.2m0 0.8v1.2m0 3.8v1.2M49.5 9.9v1.2m0 1.8v1.2"/>
<path stroke="#bae3b3" d="M1.5 27.9v4.2m0 0.8v1.2m0 16.8v1.2m0 2.8v1.2m0 0.8v1.2m0 0.8v1.2M2.5 33.9v1.2m0 12.8v4.2M6.5 28.9v2.2m0 0.8v1.2m0 0.8v1.2m0 9.8v1.2m0 1.8v1.2m0 2.8v1.2m0 3.8v1.2m0 1.8v2.2M18.5 20.9v1.2m0 0.8v2.2m0 1.8v1.2m0 0.8v2.2m0 0.8v1.2m0 6.8v1.2m0 0.8v1.2M24.5 35.9v1.2M37.5 5.9v1.2m0 0.8v1.2m0 11.8v2.2m0 11.8v1.2M38.5 9.9v1.2m0 0.8v5.2m0 1.8v7.2M41.5 19.9v1.2m0 4.8v1.2"/>
<path stroke="#a4da9e" d="M1.5 31.9v1.2m0 0.8v2.2m0 13.8v1.2M2.5 34.9v4.2m0 5.8v1.2m0 0.8v1.2M6.5 32.9v1.2m0 0.8v2.2m0 4.8v2.2m0 1.8v2.2M18.5 24.9v2.2m0 0.8v1.2M37.5 8.9v3.2m0 4.8v4.2M38.5 16.9v2.2"/>
<path stroke="#8bcf89" d="M1.5 35.9v2.2m0 9.8v2.2M2.5 38.9v1.2m0 0.8v4.2m0 0.8v1.2M6.5 36.9v5.2m0 1.8v1.2M37.5 11.9v5.2"/>
<path stroke="#71c274" d="M1.5 37.9v4.2m0 1.8v4.2M2.5 39.9v1.2"/>
<path stroke="#53b466" d="M1.5 41.9v2.2"/>
</g>
<line x1="169.80" y1="609.00" x2="279.90" y2="546.70" stroke="#fff" stroke-opacity="0.7" stroke-width="1.3"/>
<line x1="169.80" y1="609.00" x2="279.90" y2="546.70" stroke="#111" stroke-width="1.4" stroke-dasharray="5.5 2"/>
<rect x="162.60" y="496.3" width="125.0" height="20.10" rx="1" fill="none" stroke="#333" stroke-width="0.9"/>
<text x="225.10" y="509.70" font-size="8.9" text-anchor="middle" >CD8<tspan dy="-3.2" font-size="5.6">+</tspan><tspan dy="3.2"> T cells</tspan></text>
<line x1="162.60" y1="681.00" x2="287.30" y2="681.00" stroke="#777" stroke-width="1.0" />
<line x1="169.40" y1="681.00" x2="169.40" y2="684.00" stroke="#555555" stroke-width="0.8" />
<text x="169.40" y="693.30" font-size="7.3" text-anchor="middle" textLength="8.3" lengthAdjust="spacingAndGlyphs" >20</text>
<line x1="192.38" y1="681.00" x2="192.38" y2="684.00" stroke="#555555" stroke-width="0.8" />
<text x="192.38" y="693.30" font-size="7.3" text-anchor="middle" textLength="8.3" lengthAdjust="spacingAndGlyphs" >30</text>
<line x1="215.36" y1="681.00" x2="215.36" y2="684.00" stroke="#555555" stroke-width="0.8" />
<text x="215.36" y="693.30" font-size="7.3" text-anchor="middle" textLength="8.3" lengthAdjust="spacingAndGlyphs" >40</text>
<line x1="238.34" y1="681.00" x2="238.34" y2="684.00" stroke="#555555" stroke-width="0.8" />
<text x="238.34" y="693.30" font-size="7.3" text-anchor="middle" textLength="8.3" lengthAdjust="spacingAndGlyphs" >50</text>
<line x1="261.32" y1="681.00" x2="261.32" y2="684.00" stroke="#555555" stroke-width="0.8" />
<text x="261.32" y="693.30" font-size="7.3" text-anchor="middle" textLength="8.3" lengthAdjust="spacingAndGlyphs" >60</text>
<line x1="284.30" y1="681.00" x2="284.30" y2="684.00" stroke="#555555" stroke-width="0.8" />
<text x="284.30" y="693.30" font-size="7.3" text-anchor="middle" textLength="8.3" lengthAdjust="spacingAndGlyphs" >70</text>
<text x="164.80" y="528.80" font-size="7.1" textLength="74.3" lengthAdjust="spacingAndGlyphs"><tspan font-style="italic">R</tspan> = 0.87, <tspan font-style="italic">P</tspan> &lt; 2.2 × 10<tspan dy="-3.4" font-size="4.6">−16</tspan></text>
<text x="225.60" y="707.90" font-size="9.2" text-anchor="middle" textLength="100.2" lengthAdjust="spacingAndGlyphs" >Actual chronological age</text>
<text x="225.40" y="717.00" font-size="9.2" text-anchor="middle" textLength="26.5" lengthAdjust="spacingAndGlyphs" >(years)</text>
<g transform="translate(297.25 525.29) scale(2.298 2.0570)" fill="none" stroke-width="1.2">
<path stroke="#e7f1fa" d="M2.5 13.9v1.2m0 0.8v1.2M6.5 3.9v1.2m0 0.8v1.2m0 0.8v1.2m0 0.8v1.2m0 0.8v1.2m0 57.8v1.2M9.5 11.9v2.2m0 18.8v1.2m0 11.8v1.2m0 10.8v1.2M13.5 22.9v1.2m0 20.8v1.2m0 7.8v1.2M15.5 10.9v1.2m0 0.8v2.2m0 25.8v1.2m0 3.8v1.2m0 11.8v1.2M19.5 13.9v1.2m0 54.8v1.2M20.5 29.9v1.2m0 3.8v2.2m0 1.8v1.2M25.5 8.9v1.2m0 0.8v1.2m0 1.8v1.2m0 5.8v2.2m0 2.8v1.2m0 10.8v1.2M26.5 22.9v1.2m0 1.8v2.2m0 4.8v1.2m0 13.8v1.2m0 6.8v1.2M28.5 -0.1v4.2m0 15.8v1.2M30.5 7.9v1.2m0 18.8v2.2M33.5 12.9v1.2m0 35.8v2.2m0 0.8v1.2M34.5 4.9v1.2m0 34.8v1.2m0 2.8v1.2M37.5 7.9v1.2m0 49.8v2.2M38.5 33.9v1.2M41.5 -0.1v1.2m0 20.8v1.2M42.5 2.9v4.2m0 32.8v1.2M46.5 1.9v1.2m0 21.8v1.2m0 0.8v1.2M50.5 -0.1v1.2m0 23.8v1.2m0 3.8v1.2"/>
<path stroke="#dceaf6" d="M1.5 9.9v1.2m0 8.8v1.2m0 0.8v2.2m0 1.8v1.2M2.5 16.9v3.2m0 0.8v1.2m0 0.8v3.2m0 0.8v2.2m0 1.8v1.2m0 0.8v1.2m0 0.8v1.2m0 0.8v1.2m0 1.8v1.2m0 23.8v2.2m0 0.8v1.2M6.5 10.9v1.2m0 1.8v1.2m0 1.8v1.2m0 1.8v2.2m0 2.8v1.2m0 2.8v1.2m0 1.8v2.2m0 0.8v1.2m0 4.8v1.2m0 23.8v1.2m0 1.8v1.2M9.5 14.9v3.2m0 1.8v1.2m0 1.8v3.2m0 0.8v2.2m0 1.8v1.2m0 1.8v3.2m0 1.8v7.2m0 0.8v2.2m0 0.8v2.2m0 0.8v4.2M13.5 25.9v6.2m0 1.8v1.2m0 0.8v7.2m0 0.8v1.2m0 0.8v2.2m0 0.8v3.2M15.5 15.9v2.2m0 0.8v1.2m0 1.8v4.2m0 0.8v2.2m0 0.8v4.2m0 3.8v3.2m0 0.8v4.2m0 0.8v4.2m0 0.8v1.2m0 0.8v4.2M19.5 16.9v1.2m0 0.8v1.2m0 2.8v2.2m0 1.8v1.2m0 2.8v3.2m0 0.8v2.2m0 1.8v2.2m0 0.8v3.2m0 0.8v1.2m0 0.8v3.2m0 0.8v1.2m0 0.8v1.2m0 0.8v1.2m0 1.8v1.2m0 0.8v1.2m0 2.8v2.2m0 0.8v1.2M20.5 20.9v9.2m0 3.8v1.2m0 4.8v9.2m0 0.8v5.2m0 0.8v3.2m0 0.8v1.2m0 2.8v2.2M24.5 38.9v1.2m0 0.8v1.2M25.5 9.9v1.2m0 0.8v1.2m0 1.8v4.2m0 0.8v1.2m0 1.8v3.2m0 3.8v6.2M26.5 29.9v3.2m0 2.8v8.2m0 0.8v3.2m0 0.8v1.2m0 0.8v1.2m0 0.8v1.2m0 0.8v1.2M28.5 3.9v3.2m0 0.8v1.2m0 1.8v2.2m0 0.8v1.2m0 0.8v4.2m0 0.8v1.2m0 1.8v1.2M30.5 8.9v4.2m0 1.8v1.2m0 2.8v2.2m0 0.8v3.2m0 0.8v1.2M33.5 15.9v2.2m0 0.8v2.2m0 0.8v1.2m0 3.8v3.2m0 1.8v4.2m0 0.8v1.2m0 0.8v4.2m0 0.8v1.2m0 1.8v2.2M34.5 7.9v4.2m0 1.8v3.2m0 0.8v2.2m0 2.8v2.2m0 0.8v3.2m0 0.8v1.2m0 1.8v1.2m0 0.8v1.2m0 2.8v2.2m0 1.8v1.2M37.5 10.9v1.2m0 0.8v3.2m0 0.8v1.2m0 1.8v1.2m0 3.8v1.2m0 0.8v2.2m0 0.8v2.2m0 0.8v1.2m0 0.8v2.2m0 1.8v3.2m0 0.8v4.2m0 4.8v1.2m0 1.8v1.2M38.5 6.9v2.2m0 19.8v3.2M41.5 8.9v1.2m0 5.8v1.2m0 0.8v1.2m0 0.8v2.2m0 1.8v4.2m0 2.8v1.2m0 0.8v2.2m0 0.8v2.2m0 0.8v3.2m0 0.8v3.2m0 3.8v1.2m0 1.8v1.2m0 1.8v3.2m0 0.8v1.2m0 1.8v1.2M42.5 6.9v4.2m0 0.8v1.2m0 1.8v2.2m0 1.8v1.2m0 0.8v1.2m0 2.8v1.2m0 1.8v7.2m0 1.8v2.2M46.5 4.9v4.2m0 1.8v10.2m0 1.8v1.2m0 1.8v1.2m0 1.8v1.2M50.5 7.9v1.2m0 0.8v3.2m0 2.8v7.2m0 0.8v1.2m0 0.8v1.2"/>
<path stroke="#d2e3f3" d="M1.5 11.9v2.2m0 0.8v5.2m0 0.8v1.2m0 2.8v1.2m0 0.8v2.2m0 0.8v1.2m0 0.8v10.2m0 1.8v1.2m0 19.8v1.2m0 1.8v1.2M2.5 21.9v1.2m0 2.8v1.2m0 1.8v2.2m0 0.8v1.2m0 0.8v1.2m0 0.8v1.2m0 0.8v2.2m0 0.8v6.2m0 0.8v1.2m0 12.8v1.2m0 0.8v1.2M6.5 12.9v1.2m0 0.8v1.2m0 2.8v1.2m0 1.8v3.2m0 0.8v3.2m0 0.8v2.2m0 3.8v1.2m0 0.8v3.2m0 0.8v4.2m0 0.8v3.2m0 13.8v2.2m0 1.8v1.2M9.5 17.9v2.2m0 0.8v2.2m0 5.8v2.2m0 0.8v1.2m0 4.8v1.2m0 9.8v1.2m0 1.8v1.2M13.5 31.9v2.2m0 0.8v1.2m0 6.8v1.2m0 3.8v1.2M15.5 17.9v1.2m0 0.8v2.2m0 3.8v1.2m0 6.8v4.2m0 14.8v1.2M19.5 21.9v1.2m0 1.8v2.2m0 0.8v3.2m0 2.8v1.2m0 1.8v2.2m0 1.8v1.2m0 2.8v1.2m0 0.8v1.2m0 2.8v1.2m0 0.8v1.2m0 0.8v1.2m0 0.8v1.2m0 1.8v1.2m0 0.8v3.2m0 1.8v1.2M20.5 30.9v3.2m0 2.8v2.2m0 19.8v1.2M25.5 18.9v1.2m0 6.8v3.2M26.5 33.9v2.2m0 7.8v1.2M28.5 9.9v1.2m0 1.8v1.2M30.5 15.9v2.2m0 2.8v1.2M33.5 20.9v1.2m0 0.8v3.2m0 3.8v2.2m0 3.8v1.2m0 0.8v1.2m0 5.8v1.2M34.5 12.9v1.2m0 2.8v1.2m0 1.8v3.2m0 1.8v1.2m0 2.8v1.2m0 0.8v2.2m0 2.8v2.2M37.5 15.9v1.2m0 0.8v2.2m0 0.8v3.2m0 1.8v1.2m0 1.8v1.2m0 3.8v1.2m0 1.8v2.2m0 2.8v1.2m0 3.8v5.2m0 1.8v1.2m0 0.8v1.2M38.5 5.9v1.2m0 1.8v1.2m0 11.8v1.2m0 0.8v1.2m0 0.8v3.2M41.5 3.9v5.2m0 0.8v6.2m0 0.8v1.2m0 0.8v1.2m0 2.8v1.2m0 3.8v3.2m0 0.8v1.2m0 1.8v1.2m0 1.8v1.2m0 2.8v1.2m0 2.8v1.2m0 0.8v1.2m0 1.8v2.2m0 0.8v2.2m0 4.8v2.2M42.5 10.9v1.2m0 0.8v2.2m0 1.8v2.2m0 0.8v1.2m0 0.8v3.2m0 0.8v2.2M46.5 8.9v1.2m0 10.8v1.2M50.5 3.9v2.2m0 2.8v1.2m0 2.8v1.2m0 0.8v1.2m0 6.8v1.2"/>
<path stroke="#c8dcf0" d="M1.5 30.9v1.2m0 9.8v2.2m0 15.8v1.2m0 0.8v3.2m0 0.8v1.2M2.5 46.9v1.2m0 2.8v2.2m0 1.8v7.2M6.5 17.9v1.2m0 26.8v1.2m0 2.8v5.2m0 1.8v1.2m0 1.8v1.2m0 1.8v1.2M24.5 33.9v1.2m0 2.8v1.2M37.5 23.9v1.2M38.5 10.9v2.2m0 0.8v2.2m0 6.8v1.2"/>
<path stroke="#b9d5ea" d="M1.5 44.9v2.2m0 3.8v1.2m0 1.8v2.2m0 1.8v1.2m0 1.8v1.2M2.5 48.9v1.2m0 2.8v2.2M6.5 54.9v1.2m0 1.8v1.2m0 1.8v2.2M24.5 34.9v1.2m0 0.8v1.2M38.5 15.9v3.2"/>
<path stroke="#a8cee4" d="M1.5 47.9v3.2m0 0.8v1.2m0 2.8v2.2m0 0.8v1.2M6.5 55.9v1.2M38.5 18.9v3.2"/>
</g>
<line x1="301.80" y1="626.30" x2="411.90" y2="572.90" stroke="#fff" stroke-opacity="0.7" stroke-width="1.3"/>
<line x1="301.80" y1="626.30" x2="411.90" y2="572.90" stroke="#111" stroke-width="1.4" stroke-dasharray="5.5 2"/>
<rect x="293.90" y="496.3" width="125.0" height="20.10" rx="1" fill="none" stroke="#333" stroke-width="0.9"/>
<text x="356.40" y="509.70" font-size="8.9" text-anchor="middle" >Monocytes</text>
<line x1="293.90" y1="681.00" x2="418.60" y2="681.00" stroke="#777" stroke-width="1.0" />
<line x1="300.70" y1="681.00" x2="300.70" y2="684.00" stroke="#555555" stroke-width="0.8" />
<text x="300.70" y="693.30" font-size="7.3" text-anchor="middle" textLength="8.3" lengthAdjust="spacingAndGlyphs" >20</text>
<line x1="323.68" y1="681.00" x2="323.68" y2="684.00" stroke="#555555" stroke-width="0.8" />
<text x="323.68" y="693.30" font-size="7.3" text-anchor="middle" textLength="8.3" lengthAdjust="spacingAndGlyphs" >30</text>
<line x1="346.66" y1="681.00" x2="346.66" y2="684.00" stroke="#555555" stroke-width="0.8" />
<text x="346.66" y="693.30" font-size="7.3" text-anchor="middle" textLength="8.3" lengthAdjust="spacingAndGlyphs" >40</text>
<line x1="369.64" y1="681.00" x2="369.64" y2="684.00" stroke="#555555" stroke-width="0.8" />
<text x="369.64" y="693.30" font-size="7.3" text-anchor="middle" textLength="8.3" lengthAdjust="spacingAndGlyphs" >50</text>
<line x1="392.62" y1="681.00" x2="392.62" y2="684.00" stroke="#555555" stroke-width="0.8" />
<text x="392.62" y="693.30" font-size="7.3" text-anchor="middle" textLength="8.3" lengthAdjust="spacingAndGlyphs" >60</text>
<line x1="415.60" y1="681.00" x2="415.60" y2="684.00" stroke="#555555" stroke-width="0.8" />
<text x="415.60" y="693.30" font-size="7.3" text-anchor="middle" textLength="8.3" lengthAdjust="spacingAndGlyphs" >70</text>
<text x="296.10" y="528.80" font-size="7.1" textLength="74.3" lengthAdjust="spacingAndGlyphs"><tspan font-style="italic">R</tspan> = 0.79, <tspan font-style="italic">P</tspan> &lt; 2.2 × 10<tspan dy="-3.4" font-size="4.6">−16</tspan></text>
<text x="357.80" y="707.90" font-size="9.2" text-anchor="middle" textLength="100.2" lengthAdjust="spacingAndGlyphs" >Actual chronological age</text>
<text x="357.60" y="717.00" font-size="9.2" text-anchor="middle" textLength="26.5" lengthAdjust="spacingAndGlyphs" >(years)</text>
<g transform="translate(428.55 525.29) scale(2.298 2.0570)" fill="none" stroke-width="1.2">
<path stroke="#f4f2f8" d="M1.5 54.9v1.2M2.5 13.9v1.2m0 9.8v1.2m0 11.8v1.2m0 3.8v2.2m0 10.8v1.2m0 1.8v1.2M6.5 1.9v1.2M9.5 13.9v1.2m0 1.8v1.2m0 2.8v1.2m0 5.8v1.2m0 22.8v1.2M13.5 19.9v3.2m0 0.8v1.2m0 2.8v1.2m0 1.8v1.2m0 7.8v1.2m0 2.8v3.2m0 2.8v1.2M15.5 28.9v1.2m0 22.8v1.2M18.5 11.9v1.2m0 1.8v1.2m0 5.8v1.2M23.5 4.9v1.2m0 0.8v1.2m0 11.8v1.2m0 14.8v3.2M26.5 12.9v2.2m0 13.8v1.2m0 2.8v1.2m0 8.8v1.2m0 1.8v1.2M30.5 19.9v1.2m0 12.8v2.2m0 2.8v1.2M32.5 -0.1v1.2m0 20.8v1.2m0 6.8v1.2m0 14.8v1.2m0 1.8v1.2M34.5 12.9v2.2m0 0.8v1.2m0 6.8v2.2m0 2.8v1.2m0 0.8v1.2m0 0.8v1.2M36.5 1.9v2.2m0 44.8v1.2M37.5 46.9v1.2M41.5 4.9v1.2m0 5.8v1.2m0 30.8v1.2m0 3.8v1.2M45.5 27.9v1.2m0 6.8v1.2M49.5 0.9v1.2m0 15.8v1.2m0 10.8v1.2"/>
<path stroke="#ebeaf3" d="M1.5 9.9v1.2m0 0.8v1.2m0 1.8v2.2m0 1.8v3.2m0 1.8v1.2m0 20.8v1.2m0 3.8v1.2m0 0.8v1.2M2.5 12.9v1.2m0 1.8v1.2m0 0.8v2.2m0 1.8v1.2m0 0.8v1.2m0 0.8v4.2m0 1.8v5.2m0 1.8v4.2m0 1.8v4.2m0 1.8v1.2m0 0.8v1.2M6.5 4.9v3.2m0 0.8v3.2m0 19.8v1.2m0 2.8v1.2m0 0.8v1.2m0 4.8v1.2m0 0.8v2.2M9.5 15.9v1.2m0 1.8v2.2m0 0.8v1.2m0 0.8v3.2m0 2.8v10.2m0 1.8v6.2m0 1.8v1.2M13.5 22.9v1.2m0 1.8v2.2m0 0.8v2.2m0 0.8v2.2m0 0.8v5.2m0 0.8v2.2M15.5 27.9v1.2m0 0.8v8.2m0 9.8v1.2m0 1.8v1.2M18.5 16.9v4.2m0 1.8v3.2m0 14.8v9.2m0 2.8v1.2M23.5 10.9v4.2m0 1.8v3.2m0 0.8v5.2m0 0.8v1.2m0 1.8v3.2m0 0.8v1.2M26.5 15.9v2.2m0 1.8v1.2m0 0.8v3.2m0 0.8v3.2m0 0.8v1.2m0 0.8v1.2m0 0.8v2.2m0 0.8v2.2m0 1.8v1.2m0 2.8v1.2M30.5 12.9v7.2m0 1.8v1.2m0 0.8v2.2m0 0.8v7.2M32.5 0.9v3.2m0 0.8v3.2m0 0.8v4.2m0 0.8v7.2m0 1.8v4.2m0 0.8v2.2m0 0.8v5.2m0 0.8v4.2m0 1.8v3.2M34.5 16.9v6.2m0 2.8v2.2M36.5 4.9v2.2m0 0.8v1.2m0 0.8v3.2m0 1.8v1.2m0 2.8v10.2m0 0.8v1.2m0 0.8v12.2m0 0.8v4.2m0 0.8v2.2M37.5 3.9v3.2m0 0.8v2.2m0 1.8v2.2m0 10.8v1.2m0 7.8v1.2m0 4.8v1.2m0 0.8v1.2m0 0.8v3.2M41.5 6.9v3.2m0 2.8v1.2m0 0.8v2.2m0 2.8v1.2m0 10.8v1.2m0 0.8v4.2m0 0.8v2.2m0 0.8v1.2m0 1.8v4.2m0 0.8v1.2M45.5 12.9v5.2m0 3.8v6.2m0 0.8v1.2m0 0.8v5.2m0 0.8v1.2M49.5 1.9v2.2m0 0.8v5.2m0 0.8v3.2m0 0.8v1.2m0 0.8v1.2m0 0.8v2.2m0 0.8v3.2"/>
<path stroke="#e0dfee" d="M1.5 13.9v1.2m0 2.8v1.2m0 2.8v2.2m0 1.8v3.2m0 12.8v4.2m0 0.8v2.2m0 2.8v1.2M2.5 19.9v2.2m0 0.8v1.2m0 5.8v2.2m0 4.8v1.2m0 11.8v1.2M6.5 7.9v1.2m0 2.8v4.2m0 12.8v3.2m0 0.8v1.2m0 4.8v4.2M9.5 17.9v1.2m0 3.8v1.2M13.5 33.9v1.2m0 7.8v1.2M15.5 37.9v2.2m0 0.8v3.2m0 0.8v1.2m0 0.8v1.2M18.5 20.9v1.2m0 3.8v2.2m0 0.8v5.2m0 0.8v6.2m0 9.8v1.2M23.5 15.9v1.2m0 10.8v2.2M26.5 24.9v1.2m0 4.8v1.2m0 3.8v1.2m0 2.8v1.2M30.5 20.9v1.2m0 0.8v1.2M32.5 7.9v1.2m0 3.8v1.2m0 12.8v1.2m0 7.8v1.2m0 3.8v1.2M36.5 6.9v1.2m0 0.8v1.2m0 2.8v2.2m0 0.8v3.2m0 9.8v1.2m0 13.8v1.2M37.5 9.9v1.2m0 9.8v1.2m0 0.8v2.2m0 0.8v2.2m0 0.8v3.2m0 0.8v1.2m0 0.8v5.2m0 0.8v1.2m0 0.8v1.2M41.5 9.9v1.2m0 5.8v3.2m0 0.8v3.2m0 2.8v1.2m0 0.8v3.2m0 0.8v1.2m0 3.8v1.2m0 1.8v1.2m0 0.8v1.2M45.5 17.9v2.2m0 0.8v1.2m0 7.8v1.2m0 7.8v1.2M49.5 13.9v1.2m0 5.8v1.2"/>
<path stroke="#d2d3e7" d="M1.5 28.9v2.2m0 0.8v1.2m0 6.8v2.2M6.5 15.9v3.2m0 5.8v4.2M15.5 43.9v1.2M18.5 27.9v1.2m0 4.8v1.2M37.5 15.9v1.2m0 2.8v1.2M41.5 24.9v2.2m0 0.8v1.2"/>
<path stroke="#c2c3df" d="M1.5 30.9v1.2m0 0.8v6.2M6.5 18.9v6.2M37.5 18.9v1.2M41.5 23.9v1.2"/>
<path stroke="#b2b2d5" d="M37.5 16.9v2.2"/>
</g>
<line x1="432.80" y1="602.70" x2="542.40" y2="584.90" stroke="#fff" stroke-opacity="0.7" stroke-width="1.3"/>
<line x1="432.80" y1="602.70" x2="542.40" y2="584.90" stroke="#111" stroke-width="1.4" stroke-dasharray="5.5 2"/>
<rect x="425.20" y="496.3" width="125.0" height="20.10" rx="1" fill="none" stroke="#333" stroke-width="0.9"/>
<text x="487.70" y="509.70" font-size="8.9" text-anchor="middle" >NK cells</text>
<line x1="425.20" y1="681.00" x2="549.90" y2="681.00" stroke="#777" stroke-width="1.0" />
<line x1="432.00" y1="681.00" x2="432.00" y2="684.00" stroke="#555555" stroke-width="0.8" />
<text x="432.00" y="693.30" font-size="7.3" text-anchor="middle" textLength="8.3" lengthAdjust="spacingAndGlyphs" >20</text>
<line x1="454.98" y1="681.00" x2="454.98" y2="684.00" stroke="#555555" stroke-width="0.8" />
<text x="454.98" y="693.30" font-size="7.3" text-anchor="middle" textLength="8.3" lengthAdjust="spacingAndGlyphs" >30</text>
<line x1="477.96" y1="681.00" x2="477.96" y2="684.00" stroke="#555555" stroke-width="0.8" />
<text x="477.96" y="693.30" font-size="7.3" text-anchor="middle" textLength="8.3" lengthAdjust="spacingAndGlyphs" >40</text>
<line x1="500.94" y1="681.00" x2="500.94" y2="684.00" stroke="#555555" stroke-width="0.8" />
<text x="500.94" y="693.30" font-size="7.3" text-anchor="middle" textLength="8.3" lengthAdjust="spacingAndGlyphs" >50</text>
<line x1="523.92" y1="681.00" x2="523.92" y2="684.00" stroke="#555555" stroke-width="0.8" />
<text x="523.92" y="693.30" font-size="7.3" text-anchor="middle" textLength="8.3" lengthAdjust="spacingAndGlyphs" >60</text>
<line x1="546.90" y1="681.00" x2="546.90" y2="684.00" stroke="#555555" stroke-width="0.8" />
<text x="546.90" y="693.30" font-size="7.3" text-anchor="middle" textLength="8.3" lengthAdjust="spacingAndGlyphs" >70</text>
<text x="427.40" y="528.80" font-size="7.1" textLength="74.3" lengthAdjust="spacingAndGlyphs"><tspan font-style="italic">R</tspan> = 0.48, <tspan font-style="italic">P</tspan> &lt; 2.2 × 10<tspan dy="-3.4" font-size="4.6">−16</tspan></text>
<text x="488.00" y="707.90" font-size="9.2" text-anchor="middle" textLength="100.2" lengthAdjust="spacingAndGlyphs" >Actual chronological age</text>
<text x="487.80" y="717.00" font-size="9.2" text-anchor="middle" textLength="26.5" lengthAdjust="spacingAndGlyphs" >(years)</text>
<g transform="translate(559.85 525.29) scale(2.298 2.0570)" fill="none" stroke-width="1.2">
<path stroke="#fee4d8" d="M1.5 70.9v1.2M2.5 15.9v1.2M6.5 -0.1v1.2m0 3.8v1.2m0 0.8v1.2M13.5 12.9v2.2m0 40.8v1.2M15.5 12.9v1.2m0 56.8v1.2M18.5 6.9v1.2m0 55.8v1.2M19.5 19.9v1.2m0 12.8v1.2m0 18.8v2.2M23.5 34.9v1.2M24.5 6.9v2.2m0 23.8v1.2M30.5 21.9v2.2m0 1.8v1.2m0 3.8v1.2m0 21.8v1.2M34.5 15.9v2.2m0 0.8v1.2m0 20.8v1.2m0 0.8v1.2M36.5 1.9v1.2m0 2.8v1.2M41.5 1.9v2.2m0 61.8v1.2M45.5 5.9v1.2m0 28.8v1.2"/>
<path stroke="#fedbcb" d="M1.5 11.9v1.2m0 2.8v1.2m0 44.8v1.2m0 2.8v1.2m0 0.8v2.2M2.5 18.9v1.2m0 0.8v1.2m0 41.8v1.2m0 1.8v1.2M6.5 5.9v1.2m0 0.8v1.2m0 0.8v1.2m0 9.8v1.2m0 33.8v1.2m0 2.8v1.2m0 1.8v1.2M9.5 3.9v1.2m0 2.8v2.2m0 0.8v1.2m0 1.8v1.2m0 1.8v1.2m0 4.8v1.2m0 1.8v1.2m0 5.8v1.2m0 4.8v1.2m0 4.8v1.2m0 2.8v1.2m0 6.8v1.2m0 0.8v1.2M13.5 15.9v4.2m0 1.8v2.2m0 1.8v4.2m0 2.8v1.2m0 0.8v1.2m0 1.8v1.2m0 3.8v4.2m0 2.8v1.2m0 0.8v1.2m0 0.8v1.2M15.5 13.9v3.2m0 0.8v1.2m0 17.8v3.2m0 5.8v1.2m0 9.8v1.2m0 3.8v1.2m0 1.8v2.2M18.5 12.9v1.2m0 1.8v2.2m0 2.8v1.2m0 4.8v1.2m0 0.8v1.2m0 20.8v2.2m0 4.8v1.2m0 1.8v3.2M19.5 21.9v3.2m0 1.8v1.2m0 1.8v1.2m0 0.8v2.2m0 0.8v1.2m0 1.8v1.2m0 0.8v2.2m0 0.8v2.2m0 1.8v5.2M23.5 2.9v1.2m0 2.8v1.2m0 0.8v4.2m0 2.8v3.2m0 0.8v2.2m0 0.8v1.2m0 1.8v9.2m0 2.8v1.2M24.5 8.9v9.2m0 0.8v7.2m0 0.8v2.2m0 0.8v1.2m0 0.8v1.2M27.5 3.9v1.2m0 1.8v1.2m0 3.8v3.2m0 0.8v1.2m0 0.8v1.2m0 7.8v1.2m0 0.8v1.2m0 4.8v1.2m0 1.8v2.2m0 0.8v2.2m0 1.8v1.2M30.5 27.9v3.2m0 3.8v3.2m0 1.8v1.2m0 0.8v1.2m0 1.8v3.2m0 0.8v1.2m0 0.8v1.2m0 2.8v2.2M33.5 13.9v1.2m0 7.8v3.2m0 6.8v2.2m0 7.8v2.2m0 0.8v1.2m0 9.8v1.2m0 3.8v1.2M34.5 19.9v6.2m0 1.8v1.2m0 0.8v1.2m0 0.8v1.2m0 1.8v3.2m0 1.8v1.2M36.5 6.9v3.2m0 0.8v1.2m0 1.8v1.2m0 2.8v2.2m0 1.8v1.2m0 3.8v1.2m0 7.8v1.2m0 1.8v2.2m0 9.8v1.2m0 1.8v1.2m0 0.8v1.2m0 4.8v1.2m0 1.8v1.2m0 1.8v1.2m0 0.8v1.2M37.5 20.9v2.2m0 1.8v1.2m0 2.8v1.2m0 0.8v2.2m0 0.8v1.2m0 0.8v2.2m0 0.8v1.2m0 7.8v1.2m0 0.8v1.2m0 7.8v3.2M40.5 -0.1v2.2m0 0.8v2.2m0 4.8v1.2m0 1.8v1.2m0 0.8v1.2m0 1.8v1.2m0 1.8v1.2m0 1.8v1.2m0 5.8v2.2m0 6.8v1.2m0 1.8v1.2m0 2.8v1.2m0 5.8v1.2m0 1.8v1.2m0 6.8v1.2m0 1.8v3.2M41.5 4.9v2.2m0 0.8v1.2m0 0.8v2.2m0 0.8v2.2m0 1.8v1.2m0 5.8v1.2m0 0.8v1.2m0 7.8v1.2m0 3.8v1.2m0 5.8v1.2m0 6.8v2.2m0 0.8v2.2m0 0.8v1.2m0 0.8v2.2M45.5 7.9v1.2m0 0.8v1.2m0 3.8v1.2m0 0.8v1.2m0 0.8v2.2m0 0.8v2.2m0 0.8v1.2m0 0.8v1.2m0 1.8v1.2m0 2.8v1.2m0 2.8v1.2M49.5 14.9v1.2m0 1.8v1.2m0 0.8v2.2m0 2.8v2.2m0 0.8v3.2m0 2.8v2.2m0 0.8v3.2"/>
<path stroke="#fdceba" d="M1.5 13.9v2.2m0 0.8v2.2m0 1.8v2.2m0 1.8v1.2m0 28.8v3.2m0 4.8v3.2m0 0.8v1.2M2.5 19.9v1.2m0 1.8v1.2m0 0.8v5.2m0 0.8v3.2m0 23.8v5.2m0 1.8v1.2M6.5 8.9v1.2m0 0.8v2.2m0 0.8v7.2m0 0.8v1.2m0 0.8v2.2m0 0.8v1.2m0 1.8v1.2m0 12.8v1.2m0 2.8v8.2m0 0.8v3.2m0 0.8v2.2m0 0.8v2.2m0 2.8v1.2M9.5 5.9v1.2m0 2.8v1.2m0 0.8v2.2m0 0.8v2.2m0 0.8v5.2m0 0.8v2.2m0 0.8v6.2m0 0.8v4.2m0 1.8v5.2m0 0.8v3.2m0 0.8v6.2M13.5 19.9v2.2m0 1.8v2.2m0 3.8v3.2m0 0.8v1.2m0 0.8v2.2m0 0.8v3.2m0 4.8v3.2m0 0.8v1.2m0 0.8v1.2M15.5 16.9v1.2m0 0.8v10.2m0 0.8v2.2m0 0.8v4.2m0 3.8v5.2m0 0.8v4.2m0 0.8v5.2m0 0.8v4.2m0 0.8v2.2M18.5 13.9v2.2m0 1.8v3.2m0 0.8v5.2m0 2.8v1.2m0 1.8v1.2m0 10.8v1.2m0 0.8v1.2m0 0.8v2.2m0 1.8v1.2m0 0.8v3.2m0 0.8v2.2M19.5 25.9v1.2m0 1.8v1.2m0 0.8v1.2m0 9.8v1.2m0 1.8v2.2m0 5.8v1.2M23.5 7.9v1.2m0 3.8v2.2m0 3.8v1.2m0 4.8v1.2M24.5 17.9v1.2m0 6.8v1.2M27.5 5.9v1.2m0 0.8v2.2m0 0.8v1.2m0 2.8v1.2m0 0.8v1.2m0 0.8v4.2m0 0.8v3.2m0 0.8v1.2m0 0.8v2.2m0 0.8v2.2m0 0.8v2.2m0 4.8v1.2m0 1.8v1.2m0 1.8v1.2m0 0.8v1.2m0 0.8v1.2m0 0.8v1.2M30.5 31.9v1.2m0 0.8v1.2m0 2.8v2.2m0 3.8v1.2m0 2.8v1.2m0 0.8v1.2m0 0.8v2.2M33.5 10.9v1.2m0 0.8v1.2m0 0.8v8.2m0 2.8v7.2m0 1.8v6.2m0 3.8v1.2m0 0.8v2.2m0 0.8v7.2m0 0.8v4.2m0 0.8v3.2M34.5 17.9v1.2m0 7.8v1.2m0 0.8v1.2m0 2.8v2.2M36.5 9.9v1.2m0 0.8v1.2m0 1.8v3.2m0 1.8v2.2m0 1.8v3.2m0 0.8v3.2m0 1.8v3.2m0 0.8v2.2m0 1.8v6.2m0 0.8v2.2m0 1.8v2.2m0 0.8v1.2m0 0.8v4.2m0 1.8v2.2m0 0.8v1.2M37.5 1.9v2.2m0 10.8v2.2m0 0.8v1.2m0 0.8v1.2m0 2.8v1.2m0 0.8v3.2m0 0.8v1.2m0 1.8v1.2m0 0.8v1.2m0 1.8v1.2m0 0.8v3.2m0 0.8v4.2m0 0.8v1.2m0 0.8v5.2M40.5 1.9v1.2m0 1.8v5.2m0 0.8v2.2m0 0.8v1.2m0 0.8v2.2m0 0.8v2.2m0 0.8v2.2m0 0.8v6.2m0 1.8v7.2m0 0.8v2.2m0 1.8v2.2m0 0.8v5.2m0 1.8v2.2m0 0.8v3.2m0 0.8v3.2m0 0.8v2.2M41.5 8.9v1.2m0 1.8v1.2m0 1.8v2.2m0 0.8v5.2m0 1.8v1.2m0 0.8v1.2m0 0.8v3.2m0 0.8v2.2m0 0.8v4.2m0 0.8v5.2m0 1.8v7.2m0 1.8v1.2m0 1.8v1.2m0 0.8v1.2M45.5 10.9v4.2m0 0.8v1.2m0 3.8v1.2m0 1.8v1.2m0 0.8v1.2m0 0.8v2.2m0 1.8v1.2M49.5 21.9v2.2m0 6.8v3.2m0 1.8v1.2"/>
<path stroke="#fcc1a9" d="M1.5 18.9v1.2m0 2.8v2.2m0 0.8v3.2m0 1.8v1.2m0 16.8v6.2m0 2.8v4.2M2.5 23.9v1.2m0 4.8v1.2m0 4.8v5.2m0 9.8v1.2m0 0.8v5.2M6.5 25.9v1.2m0 0.8v1.2m0 1.8v6.2m0 1.8v5.2m0 0.8v3.2M15.5 31.9v1.2m0 6.8v1.2M18.5 27.9v1.2m0 1.8v2.2m0 0.8v4.2m0 0.8v1.2m0 0.8v2.2m0 0.8v1.2m0 0.8v1.2m0 0.8v1.2m0 4.8v1.2M23.5 14.9v1.2M27.5 9.9v1.2m0 20.8v1.2m0 6.8v1.2m0 5.8v2.2m0 0.8v1.2m0 0.8v1.2M33.5 40.9v1.2m0 6.8v1.2M36.5 30.9v1.2m0 14.8v1.2m0 12.8v1.2M37.5 3.9v1.2m0 7.8v2.2m0 1.8v1.2m0 24.8v1.2m0 11.8v1.2M40.5 43.9v1.2M41.5 27.9v1.2m0 2.8v1.2M45.5 17.9v1.2M49.5 23.9v1.2"/>
<path stroke="#fcb499" d="M1.5 28.9v2.2m0 0.8v2.2m0 7.8v1.2m0 2.8v2.2M2.5 40.9v6.2m0 0.8v1.2m0 2.8v1.2M6.5 28.9v1.2m0 6.8v2.2M18.5 37.9v1.2m0 0.8v1.2m0 1.8v1.2M37.5 5.9v1.2m0 2.8v3.2"/>
<path stroke="#fca689" d="M1.5 34.9v2.2m0 0.8v1.2m0 0.8v1.2m0 1.8v3.2m0 1.8v1.2M2.5 46.9v1.2m0 0.8v2.2M37.5 4.9v1.2m0 0.8v1.2m0 0.8v1.2"/>
<path stroke="#fc9879" d="M1.5 38.9v1.2M37.5 7.9v1.2"/>
</g>
<line x1="563.80" y1="617.40" x2="673.40" y2="593.40" stroke="#fff" stroke-opacity="0.7" stroke-width="1.3"/>
<line x1="563.80" y1="617.40" x2="673.40" y2="593.40" stroke="#111" stroke-width="1.4" stroke-dasharray="5.5 2"/>
<rect x="556.50" y="496.3" width="125.0" height="20.10" rx="1" fill="none" stroke="#333" stroke-width="0.9"/>
<text x="619.00" y="509.70" font-size="8.9" text-anchor="middle" >B cells</text>
<line x1="556.50" y1="681.00" x2="681.20" y2="681.00" stroke="#777" stroke-width="1.0" />
<line x1="563.30" y1="681.00" x2="563.30" y2="684.00" stroke="#555555" stroke-width="0.8" />
<text x="563.30" y="693.30" font-size="7.3" text-anchor="middle" textLength="8.3" lengthAdjust="spacingAndGlyphs" >20</text>
<line x1="586.28" y1="681.00" x2="586.28" y2="684.00" stroke="#555555" stroke-width="0.8" />
<text x="586.28" y="693.30" font-size="7.3" text-anchor="middle" textLength="8.3" lengthAdjust="spacingAndGlyphs" >30</text>
<line x1="609.26" y1="681.00" x2="609.26" y2="684.00" stroke="#555555" stroke-width="0.8" />
<text x="609.26" y="693.30" font-size="7.3" text-anchor="middle" textLength="8.3" lengthAdjust="spacingAndGlyphs" >40</text>
<line x1="632.24" y1="681.00" x2="632.24" y2="684.00" stroke="#555555" stroke-width="0.8" />
<text x="632.24" y="693.30" font-size="7.3" text-anchor="middle" textLength="8.3" lengthAdjust="spacingAndGlyphs" >50</text>
<line x1="655.22" y1="681.00" x2="655.22" y2="684.00" stroke="#555555" stroke-width="0.8" />
<text x="655.22" y="693.30" font-size="7.3" text-anchor="middle" textLength="8.3" lengthAdjust="spacingAndGlyphs" >60</text>
<line x1="678.20" y1="681.00" x2="678.20" y2="684.00" stroke="#555555" stroke-width="0.8" />
<text x="678.20" y="693.30" font-size="7.3" text-anchor="middle" textLength="8.3" lengthAdjust="spacingAndGlyphs" >70</text>
<text x="558.70" y="528.80" font-size="7.1" textLength="74.3" lengthAdjust="spacingAndGlyphs"><tspan font-style="italic">R</tspan> = 0.47, <tspan font-style="italic">P</tspan> &lt; 2.2 × 10<tspan dy="-3.4" font-size="4.6">−16</tspan></text>
<text x="619.20" y="707.90" font-size="9.2" text-anchor="middle" textLength="100.2" lengthAdjust="spacingAndGlyphs" >Actual chronological age</text>
<text x="619.00" y="717.00" font-size="9.2" text-anchor="middle" textLength="26.5" lengthAdjust="spacingAndGlyphs" >(years)</text>
<text x="6.90" y="598.00" font-size="9.2" text-anchor="middle" textLength="84.4" lengthAdjust="spacingAndGlyphs" transform="rotate(-90 6.90 598.00)" >Predicted age (years)</text>
</svg></body></html>
